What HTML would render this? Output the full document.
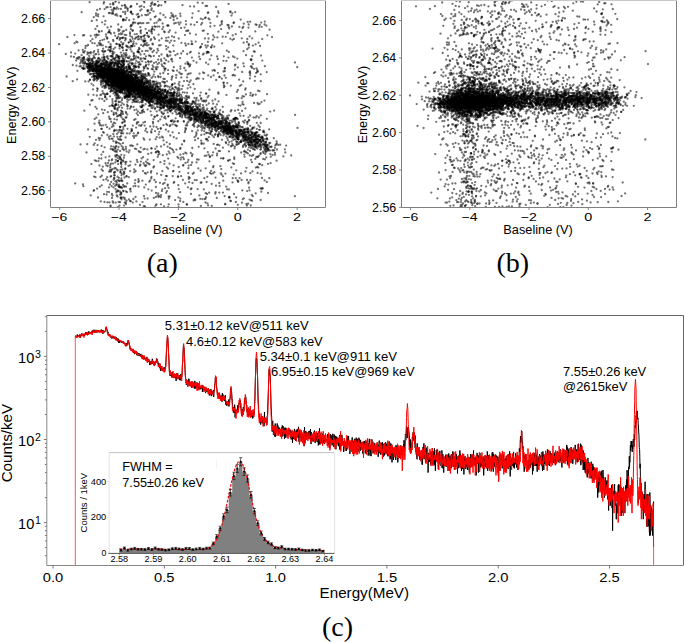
<!DOCTYPE html><html><head><meta charset="utf-8"><style>html,body{margin:0;padding:0;background:#fff;width:685px;height:642px;overflow:hidden}svg{display:block}text{font-family:"Liberation Sans",sans-serif}.s{font-family:"Liberation Serif",serif}</style></head><body><svg width="685" height="642" viewBox="0 0 685 642"><rect width="685" height="642" fill="#fff"/><defs><clipPath id="ca"><rect x="50.5" y="0" width="275" height="207.5"/></clipPath><clipPath id="cb"><rect x="401.5" y="0" width="275" height="207.5"/></clipPath><clipPath id="cc"><rect x="47" y="315.5" width="636.5" height="250"/></clipPath></defs><g clip-path="url(#ca)" stroke="#000" stroke-width="2.3" stroke-linecap="round" stroke-opacity="0.55" fill="none"><path d="M241.0 142.3h0M213.9 115.0h0M132.6 78.4h0M112.6 13.3h0M114.6 151.2h0M132.6 78.5h0M194.1 112.6h0M143.3 94.5h0M172.4 76.3h0M201.5 114.2h0M131.3 86.4h0M110.2 74.2h0M274.9 152.9h0M230.3 38.7h0M233.3 132.5h0M158.6 34.7h0M107.7 69.6h0M92.1 59.1h0M202.3 128.6h0M185.8 125.4h0M122.6 149.0h0M113.4 75.2h0M113.1 76.3h0M251.0 142.0h0M141.0 85.8h0M120.5 84.6h0M241.4 133.9h0M185.3 152.6h0M155.1 100.8h0M130.8 83.1h0M113.0 73.7h0M227.3 83.1h0M205.2 111.2h0M137.5 87.5h0M209.4 161.3h0M146.6 96.8h0M166.3 100.9h0M159.9 92.4h0M101.7 169.5h0M109.5 77.6h0M229.4 127.9h0M125.2 87.6h0M140.6 82.7h0M176.0 102.6h0M123.1 161.4h0M90.7 35.8h0M117.1 84.0h0M106.7 99.2h0M221.1 128.5h0M142.3 79.9h0M122.6 74.7h0M172.0 93.4h0M104.4 67.6h0M95.1 64.8h0M100.2 43.4h0M236.7 134.2h0M120.8 77.6h0M167.0 101.9h0M123.0 81.7h0M224.9 68.0h0M125.1 81.0h0M96.5 66.7h0M96.2 71.1h0M155.1 88.7h0M197.7 113.7h0M131.9 94.0h0M118.1 79.6h0M141.9 88.6h0M212.5 70.6h0M127.0 133.4h0M131.7 85.7h0M141.6 158.4h0M263.1 131.4h0M148.4 189.3h0M114.1 88.6h0M210.0 156.5h0M110.8 74.2h0M223.0 131.3h0M138.9 80.0h0M154.0 37.4h0M117.1 85.7h0M88.6 60.3h0M169.1 108.8h0M130.5 26.6h0M147.3 163.0h0M150.0 105.7h0M225.9 130.7h0M117.6 110.4h0M172.1 106.3h0M111.0 75.8h0M133.9 75.0h0M131.9 84.1h0M119.8 72.7h0M108.5 69.1h0M216.9 126.0h0M117.1 38.2h0M192.3 111.7h0M110.6 78.4h0M140.8 152.1h0M137.8 88.2h0M140.6 95.0h0M129.0 93.3h0M153.7 100.9h0M166.0 46.2h0M263.0 138.3h0M202.9 105.1h0M126.2 96.7h0M194.7 119.2h0M123.0 114.0h0M146.3 100.4h0M173.4 170.9h0M137.6 92.3h0M151.5 61.3h0M167.6 185.6h0M135.4 186.0h0M260.4 149.6h0M217.9 136.6h0M227.2 133.6h0M107.7 166.0h0M124.1 205.6h0M127.1 81.7h0M137.9 91.3h0M198.5 120.2h0M92.3 43.1h0M166.4 103.4h0M254.3 135.2h0M139.4 38.8h0M264.7 146.3h0M113.5 93.6h0M105.3 81.3h0M117.1 83.5h0M130.1 75.7h0M112.0 72.2h0M213.1 115.2h0M118.1 98.3h0M192.5 154.4h0M108.2 70.3h0M167.0 96.5h0M164.4 163.8h0M119.7 83.0h0M105.5 67.5h0M217.8 59.0h0M93.2 76.2h0M131.7 79.3h0M123.7 80.7h0M160.9 204.3h0M212.3 124.0h0M181.4 101.7h0M123.4 77.7h0M208.6 38.5h0M267.0 144.6h0M113.3 74.5h0M163.8 94.4h0M163.3 97.9h0M105.1 71.5h0M154.1 94.5h0M122.0 5.7h0M207.0 122.3h0M108.5 77.8h0M200.7 92.6h0M203.8 189.3h0M134.8 34.3h0M89.3 64.3h0M209.9 118.8h0M205.5 45.4h0M136.7 90.4h0M224.9 126.5h0M235.0 110.7h0M131.2 83.1h0M134.8 87.6h0M118.2 71.7h0M142.2 83.2h0M205.9 115.9h0M98.6 58.0h0M130.5 68.6h0M173.1 106.7h0M255.3 158.9h0"/><path d="M137.1 78.3h0M143.2 86.0h0M140.0 83.4h0M167.0 93.2h0M112.5 73.5h0M124.7 83.1h0M208.6 125.4h0M116.4 151.1h0M250.9 208.8h0M226.5 120.2h0M106.2 69.4h0M132.9 78.3h0M123.8 83.1h0M129.4 83.1h0M176.4 149.6h0M271.0 147.0h0M176.1 77.7h0M215.5 134.1h0M115.1 70.5h0M158.0 87.9h0M127.1 93.2h0M138.1 88.4h0M127.2 80.9h0M213.9 117.5h0M121.1 83.8h0M234.1 130.0h0M118.8 80.8h0M205.5 198.7h0M128.4 82.7h0M105.2 69.2h0M164.6 103.8h0M230.4 11.5h0M108.9 78.9h0M121.6 146.1h0M168.3 102.5h0M127.3 79.0h0M146.6 89.4h0M145.8 65.8h0M123.2 84.7h0M167.2 101.7h0M111.7 62.9h0M109.4 78.2h0M209.2 115.2h0M217.6 117.8h0M96.1 15.5h0M106.6 194.5h0M196.3 120.1h0M142.1 91.6h0M114.1 76.4h0M173.2 16.2h0M257.6 146.4h0M106.3 7.5h0M118.7 95.6h0M106.6 78.3h0M98.8 76.3h0M261.4 208.1h0M142.7 100.2h0M201.9 122.3h0M135.1 97.1h0M106.3 165.3h0M92.5 39.2h0M118.4 61.9h0M85.3 81.4h0M211.8 125.5h0M143.9 83.0h0M125.2 81.1h0M196.7 180.1h0M166.2 85.8h0M150.0 12.8h0M173.7 20.0h0M223.8 126.6h0M171.0 98.7h0M247.8 127.8h0M157.1 100.6h0M112.4 83.3h0M263.2 139.9h0M147.6 80.3h0M116.9 151.8h0M190.7 80.3h0M107.6 56.2h0M226.9 121.7h0M130.7 208.8h0M254.5 141.0h0M137.9 133.3h0M133.0 74.8h0M155.4 87.7h0M160.7 91.4h0M154.6 116.8h0M115.4 64.8h0M98.4 161.1h0M248.0 138.3h0M111.5 170.0h0M113.5 85.9h0M119.7 180.8h0M104.8 24.4h0M133.4 88.8h0M235.5 127.0h0M163.7 107.4h0M182.7 86.0h0M125.0 77.5h0M132.1 80.6h0M192.7 102.0h0M256.2 132.7h0M128.0 72.7h0M241.1 173.4h0M195.7 111.5h0M121.7 78.8h0M144.1 112.0h0M173.9 101.0h0M138.0 87.2h0M83.1 68.1h0M206.4 155.7h0M193.9 123.8h0M117.2 90.2h0M125.0 125.8h0M100.0 125.2h0M158.0 1.3h0M122.1 188.0h0M140.1 90.2h0M259.0 117.5h0M272.6 154.9h0M114.3 74.7h0M118.9 84.6h0M164.5 182.9h0M181.3 102.5h0M142.5 86.0h0M109.4 78.5h0M201.8 118.2h0M119.7 80.8h0M106.8 61.1h0M102.1 71.3h0M141.2 88.8h0M141.6 77.6h0M151.6 93.5h0M130.2 71.9h0M251.0 200.3h0M108.9 77.1h0M242.6 101.9h0M161.2 105.2h0M119.8 45.9h0M117.3 82.5h0M94.8 130.4h0M103.6 52.5h0M205.6 17.4h0M138.8 67.5h0M152.2 90.6h0M151.3 95.4h0M109.4 118.7h0M128.4 83.2h0M105.3 69.1h0M133.3 86.4h0M110.6 78.2h0M233.0 130.3h0M102.2 70.0h0M125.8 83.4h0M115.1 78.0h0M205.4 125.6h0M158.9 152.0h0M155.4 4.5h0M100.3 74.0h0M118.3 64.0h0M112.0 81.3h0M147.6 198.5h0M241.0 141.6h0M92.0 77.1h0M167.2 56.0h0M207.5 125.2h0M295.0 62.5h0M228.5 128.1h0M125.6 83.7h0M162.3 90.4h0M92.9 64.3h0M216.7 130.3h0M128.8 85.2h0M117.9 79.0h0M152.1 29.1h0M99.5 120.6h0"/><path d="M222.5 124.7h0M148.6 74.2h0M140.2 90.5h0M123.4 70.5h0M244.9 135.9h0M195.0 115.0h0M99.5 65.7h0M103.9 57.2h0M227.9 128.7h0M236.4 141.7h0M123.5 87.9h0M137.3 51.8h0M157.0 106.5h0M123.8 53.5h0M268.1 148.2h0M177.4 110.3h0M107.9 180.6h0M120.9 82.0h0M93.6 55.7h0M114.2 74.2h0M134.6 84.6h0M172.4 84.4h0M114.8 68.8h0M134.3 85.6h0M117.5 87.5h0M142.8 93.0h0M114.6 79.6h0M229.1 128.7h0M143.6 105.6h0M179.1 107.1h0M129.9 79.2h0M108.9 68.5h0M101.6 76.5h0M123.1 85.2h0M209.1 124.8h0M240.3 133.1h0M183.6 106.3h0M231.7 130.3h0M107.4 64.5h0M162.3 101.7h0M113.1 4.6h0M131.1 79.9h0M129.1 87.6h0M167.8 184.6h0M148.5 93.6h0M114.6 76.0h0M139.7 92.1h0M126.8 50.0h0M108.1 73.9h0M219.3 122.8h0M228.6 127.0h0M182.8 92.3h0M219.3 77.0h0M123.4 81.7h0M197.7 189.1h0M170.6 102.4h0M135.5 65.8h0M151.5 91.6h0M132.6 14.2h0M112.0 71.4h0M127.5 128.8h0M107.7 69.1h0M260.8 137.6h0M131.5 71.8h0M173.2 102.7h0M211.1 122.1h0M186.0 114.9h0M117.3 78.4h0M103.1 67.9h0M123.8 84.9h0M145.0 122.0h0M108.5 75.4h0M156.2 103.5h0M200.1 106.5h0M129.2 20.2h0M103.7 71.4h0M163.8 98.6h0M154.5 88.5h0M119.1 83.1h0M119.8 70.6h0M169.3 105.9h0M124.8 83.9h0M126.1 6.9h0M110.4 135.9h0M116.1 68.5h0M111.7 73.4h0M116.9 91.3h0M125.3 86.8h0M119.5 85.0h0M143.4 70.6h0M119.3 159.0h0M116.4 81.4h0M202.2 112.2h0M113.6 49.0h0M120.2 76.9h0M218.6 64.2h0M210.6 114.2h0M130.3 86.0h0M111.6 71.2h0M107.6 73.2h0M116.0 101.3h0M110.5 64.2h0M104.5 85.8h0M150.7 93.1h0M98.7 138.0h0M143.6 96.2h0M163.0 101.3h0M103.6 74.9h0M103.2 113.2h0M277.0 149.5h0M205.7 193.2h0M250.2 125.8h0M212.6 118.6h0M97.9 64.1h0M130.9 76.4h0M140.6 90.3h0M130.8 80.2h0M93.7 144.9h0M237.8 67.4h0M122.6 87.0h0M126.4 82.2h0M152.3 96.9h0M121.7 65.1h0M234.9 146.6h0M178.2 110.2h0M127.7 78.1h0M124.8 79.8h0M191.9 110.4h0M112.3 79.9h0M211.6 124.2h0M76.7 58.6h0M130.2 80.7h0M138.5 85.8h0M258.3 167.4h0M132.7 86.5h0M231.7 129.6h0M229.3 28.5h0M137.8 86.4h0M233.5 119.1h0M110.2 51.6h0M251.7 155.9h0M176.5 104.7h0M110.0 73.1h0M131.3 131.3h0M107.6 74.3h0M213.5 120.2h0M141.5 93.9h0M245.0 132.6h0M118.6 56.3h0M244.6 144.3h0M124.9 90.6h0M128.3 91.0h0M161.6 96.4h0M88.8 66.1h0M229.0 123.7h0M116.9 44.0h0M107.4 134.9h0M244.9 133.4h0M180.1 58.1h0M233.2 125.4h0M134.8 87.1h0M159.4 99.3h0M250.0 115.5h0M186.7 110.5h0M154.6 95.6h0M266.3 157.4h0M123.9 75.4h0M114.3 88.1h0M231.0 201.2h0M225.8 77.8h0M157.4 91.1h0M209.6 127.7h0M190.7 107.0h0M138.5 57.6h0M186.4 99.8h0M116.0 92.6h0M132.6 82.1h0"/><path d="M225.8 36.8h0M130.5 83.1h0M139.1 71.6h0M177.4 99.1h0M155.3 97.3h0M109.4 66.7h0M157.6 64.2h0M135.0 91.6h0M188.3 108.9h0M94.9 35.1h0M192.9 112.8h0M231.2 126.4h0M212.9 173.4h0M135.5 197.0h0M119.0 56.8h0M244.2 137.8h0M127.0 66.7h0M96.5 77.0h0M122.8 89.2h0M129.3 66.3h0M145.8 97.6h0M124.8 83.7h0M260.0 143.9h0M184.6 112.2h0M137.9 111.5h0M121.0 64.5h0M160.2 73.7h0M116.8 75.3h0M128.1 78.4h0M197.7 2.7h0M133.8 80.7h0M225.1 131.5h0M207.5 113.6h0M98.5 71.7h0M140.2 87.7h0M220.7 135.1h0M155.3 108.1h0M122.9 87.6h0M227.5 134.2h0M121.8 54.8h0M96.5 74.2h0M261.0 55.6h0M155.8 97.1h0M117.2 82.6h0M126.9 71.2h0M106.4 81.7h0M182.1 117.4h0M161.3 97.5h0M217.2 16.5h0M121.5 199.4h0M172.4 101.7h0M111.1 121.7h0M118.3 96.6h0M145.2 40.6h0M184.9 98.3h0M184.9 113.3h0M203.3 78.8h0M214.7 120.1h0M98.1 51.9h0M248.4 117.3h0M187.1 123.6h0M135.3 88.0h0M111.5 74.3h0M107.6 27.5h0M115.8 74.1h0M257.6 172.9h0M146.6 89.3h0M135.1 83.5h0M129.7 93.1h0M197.3 117.3h0M143.8 84.2h0M130.5 75.5h0M103.2 75.6h0M199.1 117.8h0M141.6 89.2h0M210.1 119.8h0M135.8 37.6h0M214.3 116.3h0M122.3 71.5h0M236.5 132.8h0M116.4 192.4h0M115.7 72.3h0M130.1 189.4h0M114.4 81.7h0M114.5 70.7h0M270.8 156.7h0M227.3 118.2h0M174.1 96.1h0M127.0 76.6h0M124.0 78.0h0M144.6 -1.6h0M111.9 194.0h0M188.1 106.5h0M141.5 39.6h0M114.3 85.7h0M192.4 109.7h0M181.8 89.1h0M154.9 207.5h0M117.5 80.9h0M136.7 85.4h0M231.6 126.3h0M200.9 115.0h0M177.4 156.8h0M160.9 108.6h0M109.3 78.4h0M224.4 120.6h0M133.5 66.5h0M138.1 83.0h0M150.5 49.5h0M109.2 72.0h0M99.0 69.5h0M255.4 134.8h0M102.9 77.9h0M115.5 167.9h0M259.5 134.8h0M114.6 106.7h0M124.7 89.1h0M132.1 37.0h0M194.6 115.5h0M216.4 121.3h0M144.2 83.3h0M127.0 -0.5h0M200.2 110.1h0M242.6 131.4h0M160.3 109.4h0M110.3 75.3h0M154.9 39.0h0M109.9 85.9h0M128.2 57.8h0M153.4 90.1h0M143.5 92.3h0M133.8 99.8h0M136.4 81.7h0M136.3 89.1h0M141.3 92.6h0M140.9 88.8h0M223.4 60.8h0M229.7 124.4h0M256.5 68.5h0M101.2 66.7h0M214.5 25.8h0M111.5 85.8h0M256.8 122.8h0M130.8 82.8h0M131.7 80.4h0M96.9 69.1h0M211.7 108.8h0M246.7 134.6h0M119.7 78.2h0M238.6 134.4h0M108.5 75.1h0M115.5 148.9h0M124.8 97.1h0M139.1 85.8h0M163.0 93.6h0M120.8 158.7h0M233.0 137.2h0M124.9 5.0h0M194.8 199.4h0M133.0 86.9h0M158.5 77.2h0M96.2 61.0h0M181.5 99.8h0M197.1 107.7h0M106.6 74.6h0M189.9 111.0h0M255.0 76.6h0M112.9 54.2h0M259.9 164.2h0M104.1 73.6h0M130.2 86.3h0M226.8 131.8h0M156.7 85.9h0M170.0 148.0h0M169.6 98.9h0M144.2 36.1h0M109.4 71.8h0"/><path d="M203.2 115.4h0M125.3 168.4h0M112.7 124.4h0M115.3 104.6h0M204.9 112.9h0M121.4 133.5h0M103.4 85.8h0M129.8 81.0h0M138.6 88.8h0M131.5 83.3h0M117.6 157.9h0M111.6 75.6h0M166.3 124.0h0M191.5 114.6h0M191.4 119.9h0M116.3 70.9h0M171.8 148.9h0M96.6 71.6h0M188.0 187.3h0M98.2 79.2h0M255.8 167.6h0M128.7 84.1h0M116.6 76.1h0M150.2 83.2h0M125.1 98.0h0M203.6 115.8h0M117.3 76.4h0M121.1 113.1h0M250.8 205.5h0M125.4 75.4h0M152.3 96.6h0M124.1 84.8h0M138.2 84.2h0M129.0 72.0h0M120.4 66.8h0M110.7 149.0h0M129.9 87.7h0M265.2 142.2h0M135.4 82.1h0M96.7 63.3h0M213.7 119.7h0M107.9 68.7h0M116.9 72.9h0M152.3 104.9h0M187.4 62.1h0M145.3 130.7h0M128.6 96.4h0M230.1 132.8h0M244.0 129.5h0M200.7 170.7h0M105.1 66.7h0M255.5 145.1h0M129.5 85.4h0M213.6 111.5h0M120.3 16.1h0M117.2 74.3h0M137.9 39.4h0M252.3 129.0h0M192.5 114.8h0M118.5 70.5h0M118.6 56.3h0M97.0 77.5h0M237.1 133.6h0M213.7 126.8h0M123.2 160.3h0M111.3 78.7h0M152.2 98.0h0M129.6 86.8h0M185.7 105.6h0M188.4 64.0h0M89.6 67.9h0M229.5 122.9h0M172.3 99.8h0M122.5 208.8h0M109.4 65.9h0M120.9 79.3h0M110.9 33.7h0M139.2 16.6h0M151.0 105.1h0M119.3 74.6h0M109.4 156.4h0M114.6 72.4h0M129.7 66.1h0M117.5 77.5h0M142.3 94.4h0M159.0 45.4h0M202.4 117.2h0M165.0 97.5h0M126.3 79.8h0M94.5 66.8h0M186.3 109.9h0M129.7 87.1h0M116.4 89.7h0M237.5 142.2h0M131.4 69.9h0M118.6 78.3h0M243.4 63.4h0M115.5 90.5h0M227.8 126.6h0M168.5 61.6h0M235.0 75.6h0M105.8 83.0h0M206.4 115.0h0M248.2 141.9h0M117.4 69.3h0M97.2 26.2h0M117.8 75.3h0M147.7 172.3h0M129.1 91.6h0M114.7 63.5h0M235.2 117.8h0M147.2 132.2h0M247.7 21.9h0M137.4 82.2h0M118.3 29.4h0M181.3 77.5h0M227.9 140.2h0M117.9 81.4h0M119.0 84.6h0M253.2 155.0h0M155.9 187.0h0M148.0 81.8h0M186.7 108.3h0M151.1 85.5h0M244.6 132.2h0M154.6 3.9h0M180.7 159.6h0M113.5 79.0h0M131.6 85.1h0M154.0 90.3h0M212.4 135.5h0M102.8 45.3h0M231.1 131.9h0M108.2 75.5h0M160.5 97.0h0M269.5 29.7h0M134.3 83.0h0M222.4 126.4h0M148.5 61.9h0M120.4 56.7h0M146.5 92.0h0M159.4 110.3h0M126.2 95.8h0M242.2 72.0h0M179.4 85.6h0M121.1 105.3h0M212.6 109.2h0M252.6 133.4h0M143.5 76.3h0M82.5 60.5h0M185.3 117.1h0M254.8 149.9h0M85.6 46.0h0M148.7 97.1h0M196.6 115.4h0M246.0 137.0h0M161.9 113.0h0M171.4 100.8h0M107.9 75.2h0M142.8 91.9h0M214.3 112.4h0M156.5 95.1h0M269.6 146.8h0M225.7 122.7h0M103.8 79.6h0M131.3 88.1h0M88.6 53.0h0M134.4 46.1h0M116.1 70.3h0M130.1 67.4h0M160.7 86.2h0M114.8 78.7h0M115.7 87.3h0M73.9 57.0h0M164.8 90.7h0M163.9 113.3h0M173.1 171.3h0"/><path d="M227.7 33.0h0M162.0 100.5h0M102.8 75.6h0M159.7 137.7h0M208.7 154.7h0M129.0 90.1h0M101.0 64.5h0M226.4 60.9h0M252.8 63.9h0M106.8 79.7h0M99.1 70.9h0M119.8 92.0h0M130.0 82.4h0M131.3 59.2h0M103.1 132.1h0M135.5 91.7h0M263.2 158.9h0M215.7 123.3h0M145.0 88.4h0M106.5 71.5h0M168.7 196.5h0M197.4 119.3h0M252.4 139.6h0M206.4 115.1h0M200.1 95.7h0M149.1 102.3h0M126.1 68.7h0M123.1 62.5h0M113.8 77.9h0M148.4 75.0h0M135.0 80.1h0M148.1 68.8h0M237.0 137.6h0M268.4 150.2h0M226.9 133.1h0M108.0 32.6h0M144.2 91.0h0M158.2 101.8h0M186.6 112.8h0M129.3 88.0h0M174.1 37.2h0M123.5 71.0h0M108.4 76.3h0M143.4 23.1h0M100.5 177.0h0M189.6 110.9h0M108.0 77.3h0M212.0 123.5h0M196.5 134.0h0M229.3 142.2h0M127.8 77.8h0M185.9 45.5h0M175.4 106.9h0M204.7 128.7h0M131.9 83.1h0M236.3 144.5h0M171.6 79.5h0M112.9 76.9h0M285.3 152.4h0M194.5 113.8h0M139.6 91.3h0M109.4 30.2h0M275.3 145.4h0M238.6 139.6h0M226.8 124.9h0M123.2 89.3h0M186.2 105.4h0M122.8 81.7h0M115.8 141.7h0M227.5 24.9h0M151.3 3.3h0M212.2 120.2h0M109.4 67.1h0M111.1 68.8h0M111.7 59.8h0M168.6 151.6h0M193.4 84.2h0M209.1 123.6h0M140.9 125.9h0M195.3 110.8h0M123.7 79.2h0M138.2 93.2h0M89.4 63.2h0M156.4 95.4h0M137.5 92.2h0M80.7 66.2h0M150.6 6.0h0M126.9 83.2h0M153.8 90.3h0M114.7 82.5h0M149.3 92.5h0M153.3 95.5h0M210.5 111.7h0M131.1 72.3h0M151.1 99.2h0M126.6 93.4h0M233.0 56.5h0M199.6 73.6h0M127.8 74.5h0M161.7 100.6h0M144.0 84.3h0M118.0 72.6h0M201.9 112.7h0M159.3 96.9h0M207.6 97.3h0M203.6 121.6h0M190.4 118.9h0M223.3 127.5h0M188.1 113.7h0M214.0 122.4h0M84.8 51.1h0M118.0 72.7h0M226.2 131.6h0M215.7 114.7h0M114.1 77.9h0M106.1 74.7h0M156.9 83.2h0M116.4 73.0h0M102.5 67.3h0M188.1 102.6h0M106.4 71.7h0M230.5 126.0h0M180.3 107.3h0M180.2 102.0h0M187.9 103.2h0M141.1 92.8h0M168.8 100.3h0M128.2 83.6h0M231.7 122.6h0M145.5 93.5h0M168.4 131.5h0M103.5 54.8h0M143.1 78.0h0M109.4 81.4h0M188.1 97.3h0M243.8 23.7h0M146.4 87.6h0M121.3 77.9h0M191.9 109.5h0M93.0 89.4h0M116.6 191.2h0M122.2 70.7h0M115.0 75.2h0M149.5 96.7h0M140.2 10.6h0M160.1 103.4h0M238.6 105.3h0M87.1 64.1h0M207.9 124.2h0M125.6 85.7h0M123.5 78.1h0M203.4 120.1h0M118.5 87.1h0M132.7 100.1h0M246.3 134.9h0M245.3 139.8h0M116.5 78.0h0M235.6 132.1h0M185.6 70.4h0M116.3 69.1h0M127.6 9.1h0M127.3 82.0h0M169.7 106.2h0M117.3 136.8h0M256.1 145.5h0M207.3 120.9h0M268.2 149.8h0M102.8 69.6h0M117.4 82.2h0M123.2 85.6h0M247.9 149.7h0M156.6 93.5h0M109.6 70.3h0M178.5 204.5h0M175.2 125.0h0M239.1 130.3h0M147.4 35.6h0"/><path d="M83.3 62.2h0M128.2 90.3h0M123.2 20.5h0M189.1 182.2h0M188.0 111.8h0M90.8 52.2h0M113.8 79.6h0M115.6 81.8h0M123.9 71.0h0M115.7 105.3h0M160.2 83.1h0M247.9 131.0h0M219.5 121.9h0M143.1 46.2h0M207.7 113.9h0M88.6 81.5h0M127.5 108.6h0M235.9 126.2h0M254.9 133.8h0M112.6 72.9h0M173.5 97.8h0M188.4 160.0h0M106.3 76.0h0M125.5 57.5h0M126.9 91.1h0M219.9 123.1h0M179.1 95.4h0M118.2 115.9h0M139.4 62.1h0M121.8 180.5h0M150.4 92.7h0M122.1 81.3h0M77.4 42.3h0M157.8 156.8h0M106.7 64.2h0M102.8 166.7h0M230.2 200.6h0M249.9 78.4h0M197.0 113.2h0M166.7 96.8h0M226.8 50.7h0M186.8 99.5h0M145.6 104.1h0M115.1 80.4h0M137.2 93.4h0M256.2 137.3h0M113.0 86.5h0M221.8 129.6h0M123.2 197.5h0M236.9 91.8h0M113.4 41.2h0M172.0 95.5h0M123.7 84.2h0M108.6 66.9h0M263.7 153.0h0M116.6 99.5h0M217.8 128.0h0M169.1 95.7h0M106.5 69.9h0M147.5 94.3h0M104.5 88.1h0M195.6 113.5h0M147.6 97.0h0M80.5 144.4h0M201.5 118.1h0M137.8 78.7h0M131.3 84.7h0M156.2 92.5h0M100.9 70.9h0M223.7 127.8h0M194.6 137.2h0M126.4 80.2h0M212.0 126.0h0M227.6 122.6h0M222.8 106.8h0M119.7 87.3h0M160.2 103.0h0M112.8 71.8h0M208.6 114.2h0M120.8 70.0h0M126.3 35.1h0M227.1 189.3h0M103.1 80.0h0M105.4 76.8h0M145.8 86.1h0M166.9 191.2h0M112.1 159.3h0M142.4 180.7h0M149.8 89.2h0M119.1 73.7h0M251.4 141.0h0M143.5 149.3h0M217.9 118.2h0M121.1 87.1h0M117.2 71.8h0M97.3 45.7h0M251.2 141.1h0M240.5 129.7h0M109.5 139.0h0M117.3 78.4h0M143.7 88.9h0M123.3 84.2h0M235.8 118.5h0M241.3 141.6h0M136.1 82.8h0M156.6 101.0h0M92.1 69.4h0M166.5 103.6h0M159.4 98.8h0M156.9 90.1h0M105.4 78.0h0M207.0 6.0h0M266.9 138.6h0M137.4 77.9h0M119.3 75.6h0M171.5 110.2h0M108.9 85.0h0M256.6 137.1h0M237.2 118.4h0M132.2 79.4h0M117.6 66.0h0M246.8 142.5h0M269.3 178.2h0M182.8 112.5h0M123.8 80.8h0M204.6 112.1h0M102.5 51.2h0M103.0 75.0h0M231.1 133.7h0M212.0 129.3h0M149.9 95.3h0M241.2 152.5h0M210.2 123.5h0M216.1 7.0h0M131.7 64.5h0M173.7 182.8h0M187.6 30.6h0M119.1 73.5h0M116.9 94.3h0M92.5 68.7h0M137.8 88.1h0M138.0 95.1h0M118.3 73.9h0M135.0 38.8h0M131.6 78.3h0M262.9 209.0h0M190.8 153.0h0M119.9 80.6h0M112.5 101.1h0M145.4 74.0h0M228.8 127.8h0M284.9 149.3h0M109.1 88.7h0M190.9 109.0h0M195.1 140.2h0M161.2 174.9h0M158.1 76.1h0M253.9 140.1h0M109.0 70.2h0M101.4 74.2h0M92.0 68.2h0M87.2 144.2h0M137.0 88.9h0M171.2 40.6h0M231.7 130.1h0M118.9 69.8h0M138.7 151.1h0M131.1 89.9h0M143.7 91.2h0M132.6 209.5h0M113.7 74.0h0M152.8 86.1h0M151.7 8.4h0M172.7 70.3h0M187.8 108.4h0M127.4 82.9h0M118.1 76.4h0"/><path d="M115.8 77.6h0M115.6 72.0h0M124.9 74.6h0M124.8 202.7h0M148.8 87.9h0M248.4 142.6h0M142.6 87.3h0M137.6 84.5h0M130.8 71.4h0M236.2 126.8h0M125.1 88.5h0M255.7 94.7h0M171.2 106.8h0M184.9 132.2h0M131.8 85.0h0M165.2 101.8h0M136.6 135.5h0M175.5 101.6h0M121.6 77.9h0M120.3 86.5h0M164.8 104.1h0M96.4 67.0h0M106.1 62.2h0M110.4 205.6h0M169.2 102.2h0M108.1 83.6h0M89.7 73.5h0M257.5 132.3h0M238.0 129.4h0M122.9 78.4h0M120.8 78.8h0M125.0 54.6h0M105.6 157.3h0M208.7 117.8h0M123.3 84.5h0M183.4 153.8h0M218.6 113.7h0M121.3 76.6h0M125.1 86.9h0M184.2 113.5h0M103.2 151.9h0M258.0 90.7h0M165.6 91.1h0M127.3 114.6h0M107.5 75.2h0M180.2 105.7h0M240.0 135.5h0M128.0 80.6h0M123.1 78.6h0M203.2 116.3h0M133.1 96.0h0M96.9 77.0h0M219.1 123.8h0M101.5 69.0h0M133.0 86.1h0M179.4 81.9h0M169.9 97.2h0M186.8 107.9h0M101.3 128.8h0M148.8 105.8h0M109.6 68.4h0M104.7 70.6h0M184.9 102.5h0M142.0 80.4h0M109.5 71.1h0M133.4 91.0h0M117.8 76.6h0M140.8 161.6h0M185.2 107.0h0M211.0 -1.6h0M75.2 53.6h0M171.4 104.5h0M225.5 127.3h0M184.4 103.7h0M128.9 82.8h0M108.1 82.2h0M119.8 191.5h0M119.6 84.9h0M123.8 88.4h0M178.1 121.2h0M134.9 85.0h0M121.4 72.7h0M122.3 81.9h0M207.9 125.6h0M138.5 87.6h0M151.7 98.0h0M157.4 102.1h0M229.7 197.4h0M95.6 73.3h0M241.2 130.8h0M219.1 120.9h0M127.0 95.1h0M202.7 30.8h0M211.9 122.7h0M145.8 88.8h0M199.4 122.3h0M236.1 118.4h0M101.8 185.3h0M171.0 98.5h0M117.7 66.4h0M217.7 122.1h0M128.8 90.8h0M243.0 145.6h0M259.9 140.7h0M126.3 82.3h0M87.8 58.4h0M246.4 203.9h0M216.2 122.2h0M130.1 91.4h0M127.0 77.2h0M182.8 110.2h0M171.4 110.1h0M168.2 158.6h0M245.1 120.5h0M111.6 83.0h0M102.8 68.1h0M229.1 127.9h0M133.7 133.3h0M127.5 82.9h0M113.7 70.6h0M114.5 75.9h0M227.2 116.0h0M164.3 58.3h0M224.0 127.7h0M133.5 43.4h0M114.7 82.3h0M198.8 122.2h0M155.8 152.4h0M158.3 92.8h0M181.9 99.6h0M250.7 59.5h0M100.9 66.6h0M112.5 138.8h0M120.9 76.0h0M147.5 97.4h0M129.1 83.2h0M123.6 86.5h0M111.2 73.8h0M128.3 83.0h0M192.1 131.1h0M131.4 82.5h0M126.9 78.2h0M128.0 78.3h0M239.6 178.1h0M106.6 80.0h0M254.0 140.5h0M163.9 105.0h0M122.3 84.8h0M247.3 39.0h0M131.2 89.9h0M238.8 123.5h0M262.4 188.7h0M108.1 67.1h0M118.2 77.2h0M94.3 68.4h0M240.6 131.6h0M135.5 80.6h0M113.4 141.2h0M98.0 73.9h0M121.3 114.5h0M104.6 59.1h0M178.1 113.9h0M133.2 74.3h0M138.8 85.3h0M113.6 149.6h0M250.2 73.5h0M120.0 136.9h0M248.9 133.0h0M125.6 80.0h0M243.9 133.2h0M96.8 70.1h0M135.0 76.6h0M160.4 89.1h0M175.8 22.9h0M239.8 136.5h0M129.1 84.8h0M112.8 81.0h0"/><path d="M141.2 86.4h0M200.1 47.8h0M266.5 150.5h0M161.3 96.3h0M122.6 80.0h0M110.0 169.6h0M104.9 68.2h0M160.3 13.4h0M155.7 139.2h0M107.2 74.5h0M200.8 114.5h0M116.7 73.5h0M229.0 197.6h0M111.8 64.6h0M134.0 65.4h0M184.0 81.1h0M98.3 62.1h0M113.9 70.3h0M95.2 64.1h0M261.3 141.5h0M103.6 71.8h0M128.1 80.6h0M83.6 65.9h0M147.4 86.8h0M134.9 183.3h0M101.0 84.8h0M107.1 75.1h0M146.3 83.2h0M165.2 96.1h0M161.4 98.2h0M202.1 44.1h0M256.2 157.1h0M129.7 67.3h0M129.2 84.3h0M115.8 81.7h0M111.5 87.5h0M185.9 21.1h0M171.3 13.1h0M260.1 145.1h0M247.3 129.5h0M118.2 138.9h0M145.2 95.5h0M190.1 106.6h0M223.4 116.2h0M123.0 147.4h0M142.9 89.4h0M110.1 73.5h0M139.2 86.9h0M91.4 74.0h0M154.7 116.7h0M144.1 83.6h0M242.0 202.7h0M94.1 190.2h0M141.4 97.9h0M89.6 2.2h0M116.6 71.7h0M117.3 15.7h0M112.0 84.0h0M173.4 100.1h0M137.2 90.0h0M228.4 134.5h0M120.4 144.1h0M88.2 65.0h0M235.5 123.4h0M228.3 132.8h0M176.3 75.2h0M130.8 80.9h0M199.4 115.0h0M116.2 80.9h0M141.9 91.8h0M270.2 142.9h0M188.8 112.8h0M136.7 94.4h0M130.9 88.0h0M208.0 116.1h0M130.8 80.6h0M152.2 87.8h0M230.0 159.8h0M136.7 86.1h0M223.0 125.6h0M254.3 144.4h0M91.8 21.0h0M137.3 87.3h0M238.6 209.2h0M139.5 152.1h0M142.4 86.5h0M229.0 115.4h0M144.0 89.1h0M219.5 145.3h0M176.9 108.3h0M97.2 90.8h0M134.8 87.6h0M257.3 70.1h0M214.4 122.4h0M261.5 102.1h0M233.5 23.0h0M218.5 123.2h0M90.6 41.1h0M160.0 92.9h0M157.0 97.0h0M109.0 75.0h0M143.9 97.7h0M273.3 150.4h0M171.1 101.5h0M254.6 134.8h0M90.7 195.4h0M265.5 149.3h0M139.4 94.2h0M177.0 99.8h0M233.9 38.9h0M103.0 68.8h0M143.8 -1.2h0M255.5 146.8h0M161.8 94.4h0M94.0 65.6h0M182.5 5.2h0M186.9 111.8h0M161.4 101.0h0M236.1 131.1h0M258.1 136.8h0M231.2 132.6h0M230.5 132.9h0M109.5 64.4h0M230.9 146.4h0M229.8 129.7h0M121.8 75.3h0M161.3 97.9h0M122.4 82.4h0M124.7 76.8h0M101.4 158.5h0M264.5 100.6h0M112.2 87.4h0M194.2 116.7h0M227.1 133.1h0M112.6 78.5h0M128.4 80.4h0M237.8 204.8h0M131.0 86.1h0M123.2 75.3h0M123.2 78.9h0M204.0 109.4h0M114.5 86.1h0M103.8 132.7h0M118.7 58.1h0M115.2 82.0h0M103.6 71.5h0M243.0 147.0h0M198.7 146.8h0M122.7 74.9h0M122.4 73.0h0M123.1 184.9h0M110.7 91.4h0M143.6 66.8h0M149.0 30.7h0M202.9 54.6h0M167.6 97.4h0M245.4 108.4h0M182.0 103.1h0M143.5 138.3h0M173.5 99.7h0M133.3 90.9h0M104.1 67.8h0M211.2 47.4h0M103.7 68.7h0M177.2 107.9h0M199.5 117.5h0M123.9 61.4h0M224.9 129.7h0M211.1 173.8h0M144.9 94.2h0M114.8 69.5h0M228.2 160.8h0M203.1 118.3h0M158.5 92.0h0M157.5 84.0h0M108.4 72.2h0M141.9 80.0h0"/><path d="M140.9 30.5h0M106.8 56.8h0M145.2 41.0h0M162.5 208.7h0M164.7 70.6h0M250.0 141.6h0M203.1 72.5h0M151.7 190.6h0M124.4 96.0h0M113.5 187.4h0M110.7 65.9h0M262.6 144.7h0M106.3 65.3h0M218.3 118.6h0M206.0 62.7h0M139.8 92.2h0M210.4 22.9h0M121.7 160.4h0M213.7 119.8h0M109.8 82.2h0M170.2 106.3h0M144.3 89.3h0M229.1 132.5h0M130.8 11.9h0M149.9 87.6h0M141.2 84.9h0M154.6 97.3h0M105.2 77.6h0M184.9 107.8h0M101.0 83.5h0M140.7 87.0h0M97.2 65.9h0M140.5 92.3h0M232.3 127.6h0M102.6 71.6h0M116.4 73.7h0M129.7 85.3h0M105.3 20.9h0M123.5 78.9h0M234.8 69.6h0M112.5 80.7h0M118.8 82.8h0M104.9 76.9h0M136.3 60.9h0M130.8 201.3h0M137.9 94.1h0M122.2 37.8h0M82.9 184.3h0M202.6 3.0h0M107.0 67.2h0M100.5 76.0h0M106.5 67.8h0M109.0 116.7h0M175.4 109.6h0M109.1 81.4h0M255.1 139.8h0M247.7 132.9h0M109.9 171.3h0M155.7 97.2h0M250.4 95.3h0M180.1 201.0h0M132.3 85.7h0M127.6 46.3h0M211.9 126.9h0M254.2 127.5h0M153.0 92.9h0M104.1 65.0h0M110.6 77.9h0M197.4 127.2h0M131.7 89.7h0M123.5 78.8h0M145.9 96.9h0M113.7 72.4h0M122.7 78.5h0M200.1 116.6h0M129.5 80.4h0M93.6 70.7h0M152.6 87.6h0M106.2 63.3h0M112.9 79.3h0M169.8 126.2h0M118.3 68.7h0M170.2 110.8h0M131.6 74.7h0M119.0 181.1h0M255.3 144.5h0M204.7 127.6h0M142.2 61.3h0M137.5 102.0h0M138.6 97.0h0M96.1 70.8h0M251.3 135.2h0M131.3 78.6h0M100.1 71.4h0M135.1 88.6h0M134.1 101.5h0M96.9 71.6h0M121.5 77.6h0M133.5 92.2h0M116.9 95.6h0M178.7 95.9h0M98.3 74.7h0M111.9 79.1h0M160.6 77.0h0M255.1 146.3h0M180.3 113.3h0M118.0 83.2h0M108.5 75.2h0M184.7 92.6h0M164.0 206.4h0M165.0 85.7h0M125.2 169.0h0M167.1 104.6h0M92.4 66.1h0M242.2 134.4h0M204.6 209.5h0M160.2 100.5h0M112.2 71.0h0M119.8 78.5h0M165.9 40.7h0M205.8 114.4h0M132.6 81.8h0M135.3 95.4h0M178.3 185.2h0M115.2 95.5h0M155.3 77.1h0M150.7 94.9h0M98.4 71.7h0M121.6 74.6h0M248.5 136.1h0M194.7 88.8h0M111.0 26.7h0M110.6 49.8h0M215.3 121.9h0M106.1 86.7h0M79.6 66.4h0M160.4 77.1h0M198.6 11.2h0M147.8 93.4h0M155.7 84.4h0M113.7 88.6h0M110.1 96.3h0M123.0 81.1h0M245.3 142.9h0M99.1 73.6h0M127.5 88.3h0M122.1 74.1h0M129.8 87.5h0M217.4 116.4h0M169.5 163.7h0M180.2 116.4h0M123.3 129.2h0M200.8 121.6h0M224.7 68.7h0M117.5 196.5h0M113.4 83.6h0M97.7 67.7h0M122.4 86.2h0M133.9 85.6h0M78.7 57.2h0M148.7 92.4h0M113.7 9.1h0M112.6 12.2h0M116.3 63.0h0M156.2 152.0h0M146.7 95.5h0M120.1 45.0h0M130.5 161.6h0M128.1 88.5h0M115.2 77.7h0M117.7 91.9h0M196.4 116.0h0M89.0 64.9h0M260.7 147.3h0M159.1 93.6h0M107.2 66.6h0M141.9 110.8h0"/><path d="M136.5 84.4h0M227.5 126.0h0M112.2 80.9h0M205.3 117.8h0M254.8 80.8h0M229.4 123.1h0M113.7 112.7h0M148.7 90.2h0M170.4 17.9h0M170.5 111.5h0M199.9 109.1h0M119.3 78.3h0M215.9 116.4h0M107.4 72.7h0M132.2 86.4h0M77.1 79.4h0M255.6 44.4h0M141.7 124.8h0M115.9 72.9h0M247.4 137.7h0M144.7 148.8h0M221.8 78.7h0M111.7 68.0h0M238.5 144.2h0M244.0 96.6h0M184.3 68.0h0M176.6 126.2h0M236.6 141.6h0M125.3 80.8h0M120.8 78.8h0M114.1 92.0h0M161.7 103.0h0M110.2 73.3h0M137.0 91.1h0M148.8 163.7h0M189.7 115.7h0M252.8 127.7h0M102.1 68.0h0M227.9 130.8h0M129.1 90.7h0M149.9 86.7h0M140.4 106.3h0M256.2 139.1h0M173.6 94.1h0M179.2 92.7h0M107.9 68.8h0M126.8 84.6h0M115.3 72.0h0M118.0 78.8h0M118.4 208.3h0M134.7 84.9h0M220.5 127.5h0M255.8 140.5h0M110.3 79.6h0M207.2 108.6h0M128.6 82.5h0M139.1 95.3h0M134.0 92.1h0M139.0 94.1h0M190.8 51.8h0M124.2 19.7h0M110.9 75.9h0M270.3 154.1h0M93.8 68.8h0M118.2 67.7h0M130.1 47.4h0M161.1 104.4h0M232.6 130.7h0M205.4 115.5h0M119.6 91.5h0M113.2 77.5h0M115.0 83.1h0M126.2 74.6h0M131.5 77.8h0M228.4 144.7h0M87.0 59.7h0M109.1 31.8h0M127.4 87.8h0M105.4 62.1h0M122.7 122.3h0M123.9 72.5h0M171.3 96.3h0M122.1 78.1h0M234.0 22.5h0M183.8 159.2h0M174.3 89.8h0M193.8 114.5h0M100.7 59.6h0M141.8 82.3h0M158.7 82.8h0M157.2 103.4h0M111.3 71.9h0M214.3 116.5h0M140.4 88.3h0M215.5 116.7h0M151.3 153.0h0M297.2 67.2h0M196.3 99.5h0M109.8 83.7h0M218.5 13.0h0M111.4 63.6h0M107.4 82.7h0M156.9 115.6h0M114.9 73.6h0M132.3 46.0h0M217.9 72.8h0M239.1 79.7h0M229.9 130.7h0M107.8 75.5h0M138.8 181.0h0M125.2 75.3h0M122.1 81.1h0M105.2 69.1h0M151.7 94.0h0M110.5 119.0h0M147.2 88.8h0M161.7 116.6h0M110.2 80.8h0M232.1 128.4h0M134.3 83.3h0M113.9 122.7h0M118.3 80.0h0M129.0 66.3h0M123.9 157.7h0M205.7 121.8h0M144.7 98.7h0M126.7 84.1h0M124.8 67.0h0M231.6 129.3h0M105.1 95.8h0M123.4 82.5h0M121.7 79.7h0M158.4 99.3h0M111.7 75.1h0M104.6 69.0h0M206.3 113.3h0M113.5 72.2h0M143.5 74.7h0M135.5 88.7h0M126.5 117.4h0M155.8 93.2h0M213.9 123.3h0M177.4 121.5h0M229.2 132.2h0M122.6 89.4h0M126.0 78.5h0M131.2 91.6h0M145.6 66.3h0M157.2 -1.7h0M136.4 83.4h0M112.1 85.7h0M186.4 153.4h0M159.0 99.1h0M191.7 112.4h0M116.6 71.1h0M150.6 101.0h0M108.2 79.1h0M121.3 91.4h0M163.9 99.6h0M125.7 84.9h0M126.5 81.1h0M147.7 50.8h0M151.8 89.4h0M207.5 122.7h0M136.3 43.7h0M128.9 77.6h0M130.0 33.9h0M141.5 78.6h0M216.1 124.5h0M151.9 129.5h0M145.6 29.1h0M132.5 87.3h0M237.6 134.9h0M249.5 190.4h0M136.9 159.9h0M122.0 100.2h0M121.6 78.6h0"/><path d="M205.6 114.0h0M71.1 56.4h0M171.3 101.9h0M126.8 77.0h0M151.6 94.9h0M117.2 81.1h0M238.7 132.9h0M158.7 134.4h0M108.5 66.3h0M124.5 87.4h0M94.1 78.0h0M116.8 195.5h0M153.6 106.4h0M143.2 88.5h0M144.8 87.9h0M148.6 22.8h0M83.9 57.3h0M120.9 90.5h0M128.2 47.4h0M137.3 83.9h0M130.2 93.9h0M200.5 46.9h0M241.8 135.5h0M152.6 108.1h0M138.1 91.7h0M113.3 10.7h0M108.0 77.9h0M119.6 29.9h0M222.3 118.4h0M129.0 78.2h0M223.0 112.0h0M94.6 63.6h0M179.3 106.5h0M135.0 66.4h0M128.8 97.3h0M114.4 73.2h0M151.8 89.9h0M124.0 150.0h0M250.0 150.9h0M106.8 69.8h0M116.7 76.7h0M144.4 90.0h0M129.6 78.5h0M159.2 88.9h0M109.1 171.6h0M231.0 130.8h0M248.9 147.3h0M83.0 35.5h0M192.5 183.0h0M255.7 193.3h0M122.6 112.0h0M99.6 69.5h0M107.3 78.9h0M110.0 71.9h0M187.2 125.5h0M135.1 79.0h0M148.8 102.8h0M144.9 173.2h0M114.6 76.6h0M119.0 2.6h0M112.8 51.8h0M140.0 165.7h0M100.8 64.5h0M96.9 71.3h0M107.6 68.4h0M110.1 76.4h0M126.2 82.9h0M108.1 68.6h0M99.0 69.9h0M230.5 134.1h0M105.4 65.4h0M249.7 134.8h0M144.2 83.8h0M147.7 11.4h0M168.5 37.3h0M123.2 71.9h0M226.1 122.5h0M117.7 75.8h0M203.1 114.7h0M162.8 89.5h0M106.3 36.7h0M100.9 77.7h0M119.7 66.9h0M120.2 78.8h0M111.3 81.9h0M120.0 87.3h0M194.9 117.8h0M144.6 77.9h0M138.4 49.8h0M130.9 106.8h0M119.3 83.9h0M173.8 98.7h0M134.3 74.9h0M195.2 200.1h0M106.4 80.9h0M215.4 128.5h0M154.5 23.2h0M167.3 25.7h0M115.8 77.9h0M109.8 74.5h0M203.6 121.0h0M228.9 128.6h0M98.9 122.6h0M195.3 115.1h0M120.7 88.1h0M226.9 129.4h0M242.9 132.3h0M145.0 92.2h0M186.9 102.2h0M132.7 88.2h0M110.6 44.2h0M212.6 118.4h0M102.2 57.7h0M127.5 96.0h0M108.9 80.8h0M198.0 116.7h0M192.6 111.2h0M166.2 175.9h0M244.6 130.2h0M171.1 99.1h0M129.1 96.0h0M215.5 177.6h0M238.9 134.8h0M197.4 78.2h0M182.8 103.1h0M189.7 116.9h0M237.5 131.8h0M142.5 92.8h0M131.0 84.0h0M228.4 133.8h0M186.6 95.8h0M192.9 101.2h0M113.5 126.0h0M130.9 12.3h0M101.5 69.8h0M81.0 61.9h0M93.0 58.3h0M127.7 10.8h0M203.9 114.2h0M183.1 106.6h0M144.8 92.3h0M120.3 127.0h0M232.7 35.4h0M92.5 61.4h0M188.4 168.2h0M131.5 81.4h0M126.4 81.4h0M123.3 80.8h0M103.0 83.5h0M206.7 139.6h0M110.4 70.1h0M238.6 138.9h0M113.9 131.2h0M106.9 69.0h0M249.1 187.7h0M215.4 107.0h0M207.9 140.7h0M212.0 120.9h0M101.4 94.4h0M124.4 61.1h0M138.7 72.6h0M106.8 68.6h0M213.9 137.2h0M227.0 128.5h0M202.4 199.1h0M128.4 77.0h0M134.4 84.5h0M132.2 78.5h0M126.1 53.1h0M131.3 87.1h0M104.3 94.2h0M254.8 51.7h0M155.3 90.9h0M203.8 101.4h0M108.4 80.8h0M190.1 6.3h0M114.6 58.8h0"/><path d="M143.5 88.6h0M111.5 56.5h0M125.9 149.0h0M158.3 91.1h0M161.5 54.5h0M148.7 96.8h0M102.3 87.0h0M146.7 97.4h0M110.3 4.2h0M173.7 102.4h0M234.2 157.4h0M92.3 68.7h0M115.2 185.8h0M169.3 101.7h0M242.6 127.6h0M208.1 127.3h0M255.6 24.3h0M121.1 130.5h0M157.3 97.3h0M117.6 176.7h0M120.9 76.1h0M126.0 83.2h0M216.8 126.8h0M101.9 71.0h0M117.4 66.0h0M103.2 72.2h0M115.7 85.6h0M95.6 69.6h0M237.4 126.7h0M154.7 17.1h0M121.3 82.6h0M165.3 99.8h0M118.2 36.6h0M233.2 125.8h0M190.0 33.4h0M140.8 33.2h0M266.4 25.7h0M115.1 69.8h0M125.6 80.4h0M126.7 95.5h0M161.1 195.1h0M225.7 130.6h0M99.2 75.0h0M126.0 83.3h0M190.3 111.2h0M138.5 36.5h0M218.6 127.8h0M151.4 29.8h0M264.6 180.4h0M133.6 84.8h0M160.8 107.6h0M120.7 92.9h0M176.2 112.4h0M131.5 79.0h0M99.9 186.7h0M154.2 94.7h0M122.1 87.6h0M237.3 180.3h0M143.9 90.0h0M217.1 56.5h0M130.9 45.8h0M167.9 91.7h0M208.2 75.4h0M107.6 77.5h0M81.7 12.2h0M92.5 65.9h0M128.9 42.3h0M141.6 89.2h0M241.1 131.2h0M212.3 114.4h0M249.7 155.3h0M141.6 76.5h0M134.8 86.0h0M110.2 70.5h0M137.6 87.7h0M119.9 86.3h0M127.0 75.7h0M226.2 125.6h0M141.2 90.5h0M173.9 103.1h0M139.9 97.0h0M143.3 86.6h0M204.4 148.4h0M133.5 91.6h0M164.1 144.7h0M123.3 73.2h0M121.6 85.9h0M203.6 116.2h0M114.3 168.5h0M178.2 104.6h0M153.2 66.9h0M132.9 94.0h0M103.0 63.7h0M116.6 69.8h0M157.7 99.1h0M118.3 66.1h0M114.2 7.8h0M260.8 115.3h0M122.0 90.5h0M116.3 83.3h0M231.3 167.4h0M111.6 79.6h0M125.6 79.4h0M142.9 84.5h0M102.3 64.9h0M121.7 83.2h0M119.5 71.9h0M75.2 183.4h0M111.2 181.9h0M127.3 85.3h0M238.8 127.3h0M114.8 81.9h0M128.8 77.0h0M105.0 69.0h0M143.1 86.8h0M135.0 88.3h0M108.0 77.9h0M166.6 105.7h0M134.1 83.6h0M150.6 101.0h0M111.7 160.3h0M221.8 121.6h0M115.3 181.3h0M198.5 100.6h0M108.8 71.5h0M118.7 78.1h0M115.5 74.9h0M109.5 78.9h0M169.0 102.8h0M204.3 115.6h0M209.2 120.7h0M83.6 69.1h0M150.6 111.3h0M181.4 110.5h0M248.6 139.5h0M118.4 73.1h0M111.2 69.6h0M156.9 98.0h0M211.9 124.9h0M121.2 80.0h0M134.4 87.8h0M156.4 81.7h0M139.2 90.9h0M175.5 87.2h0M236.1 135.8h0M130.0 85.4h0M186.3 107.0h0M168.2 56.4h0M88.1 129.5h0M108.2 68.6h0M173.7 17.3h0M223.5 82.9h0M220.6 128.3h0M107.8 82.9h0M109.8 70.7h0M122.3 79.4h0M234.7 128.6h0M270.2 111.6h0M220.1 127.8h0M232.3 131.9h0M115.7 146.9h0M112.5 72.1h0M160.3 94.4h0M105.5 71.7h0M218.7 133.9h0M235.2 130.0h0M134.4 110.1h0M248.7 138.8h0M118.4 75.9h0M126.9 84.0h0M143.3 84.5h0M116.8 91.2h0M225.9 129.3h0M214.9 111.1h0M159.4 102.4h0M144.6 198.6h0M140.1 89.5h0"/><path d="M195.5 119.0h0M241.7 98.2h0M245.8 131.9h0M172.7 120.3h0M195.1 116.3h0M110.4 65.6h0M120.5 115.8h0M138.8 84.2h0M154.9 97.5h0M180.1 110.2h0M109.5 77.1h0M170.9 89.9h0M118.8 77.3h0M139.7 64.4h0M161.4 111.8h0M66.6 76.5h0M155.6 92.2h0M157.0 93.2h0M115.4 76.2h0M171.1 105.1h0M132.1 88.6h0M125.2 80.7h0M257.6 102.9h0M130.9 72.6h0M208.6 95.8h0M137.8 81.5h0M136.0 67.2h0M122.5 86.4h0M251.5 59.4h0M144.3 95.9h0M137.9 115.1h0M206.4 121.2h0M190.3 114.4h0M127.6 80.8h0M111.1 82.2h0M111.8 60.8h0M125.6 78.2h0M115.0 72.8h0M120.0 79.9h0M156.2 62.1h0M206.7 110.2h0M107.0 77.6h0M259.7 25.0h0M170.3 135.5h0M96.7 70.8h0M122.8 76.7h0M132.1 81.2h0M144.1 94.9h0M109.7 106.2h0M167.0 81.3h0M180.1 192.2h0M204.2 73.1h0M249.2 120.1h0M119.9 71.6h0M102.1 109.6h0M119.4 60.9h0M148.0 85.1h0M104.1 71.8h0M80.1 63.4h0M192.6 13.3h0M116.6 97.6h0M147.6 109.5h0M96.7 20.2h0M212.6 122.5h0M212.0 117.5h0M144.7 95.3h0M160.5 100.8h0M221.6 121.8h0M117.6 79.0h0M128.6 87.6h0M136.7 113.3h0M151.8 93.6h0M191.9 57.6h0M140.1 23.0h0M195.5 122.0h0M137.0 77.5h0M98.5 72.7h0M190.4 87.3h0M104.4 57.0h0M144.1 45.0h0M123.1 80.2h0M104.6 75.1h0M257.7 135.9h0M209.9 118.3h0M226.8 128.7h0M232.0 137.8h0M113.1 39.8h0M258.2 145.2h0M173.4 101.8h0M242.4 139.0h0M259.9 129.8h0M113.1 74.8h0M118.0 77.1h0M196.5 62.5h0M192.9 114.3h0M135.4 164.6h0M125.6 72.3h0M210.3 125.3h0M166.8 167.3h0M236.1 131.8h0M139.8 92.3h0M264.2 148.6h0M96.1 65.6h0M234.0 126.6h0M218.5 101.4h0M169.7 42.6h0M163.5 15.0h0M97.8 73.3h0M150.1 100.7h0M120.1 151.0h0M127.3 87.9h0M132.4 70.5h0M81.6 55.2h0M119.7 77.9h0M134.4 67.0h0M108.6 78.3h0M145.4 166.2h0M112.5 55.8h0M176.9 106.3h0M162.5 104.7h0M237.1 137.9h0M189.9 120.5h0M158.2 154.8h0M142.5 95.9h0M152.2 95.4h0M137.6 81.6h0M106.7 70.6h0M239.2 134.0h0M125.0 83.5h0M226.0 127.2h0M131.3 6.3h0M191.1 108.5h0M262.3 60.6h0M235.5 64.6h0M235.1 119.9h0M115.1 76.4h0M135.0 88.5h0M257.2 167.0h0M217.0 155.4h0M115.7 83.0h0M109.7 61.3h0M144.9 93.6h0M99.8 66.8h0M257.7 142.5h0M138.4 36.6h0M143.1 157.2h0M149.3 93.3h0M179.1 113.1h0M108.2 73.1h0M219.3 192.6h0M153.4 93.8h0M249.9 137.6h0M227.2 130.4h0M222.3 123.7h0M96.5 68.6h0M141.2 80.8h0M129.3 90.5h0M121.3 132.9h0M137.2 81.4h0M179.0 99.2h0M167.5 110.1h0M112.1 75.2h0M138.8 81.3h0M261.1 142.7h0M92.7 71.4h0M180.4 66.3h0M104.3 39.3h0M104.0 69.5h0M151.2 171.2h0M140.0 80.9h0M224.4 131.4h0M154.3 29.8h0M119.2 79.9h0M118.4 64.1h0M161.3 93.7h0M132.0 80.7h0M161.3 5.3h0"/><path d="M120.6 38.5h0M171.0 101.7h0M118.6 81.9h0M114.6 77.9h0M140.5 90.0h0M196.0 135.7h0M126.6 200.7h0M175.5 87.3h0M129.1 86.9h0M139.5 92.5h0M145.7 80.3h0M205.1 113.4h0M90.1 79.9h0M145.8 93.9h0M116.8 73.4h0M134.7 88.5h0M158.1 98.3h0M122.3 74.3h0M144.1 7.1h0M198.7 109.3h0M183.0 104.4h0M164.4 91.7h0M251.0 138.5h0M127.8 82.9h0M125.2 82.8h0M144.8 35.1h0M138.4 182.1h0M252.1 200.7h0M188.2 122.0h0M218.2 115.9h0M214.5 123.2h0M156.0 93.8h0M250.1 138.2h0M112.5 71.8h0M252.4 143.8h0M172.3 88.3h0M93.5 94.8h0M87.9 68.6h0M266.7 72.1h0M180.2 13.7h0M138.5 83.9h0M146.6 95.5h0M243.5 51.2h0M260.2 139.8h0M200.1 59.2h0M129.3 86.7h0M94.0 67.8h0M162.6 102.1h0M142.4 83.1h0M136.6 85.5h0M120.0 80.5h0M206.6 116.7h0M111.5 75.9h0M107.6 76.5h0M223.8 85.2h0M250.4 180.2h0M125.3 76.7h0M121.3 27.0h0M124.6 83.3h0M120.8 69.1h0M164.7 102.1h0M124.9 81.6h0M242.6 96.2h0M167.4 92.1h0M220.2 124.0h0M136.8 97.9h0M118.3 85.6h0M130.5 188.7h0M129.5 92.1h0M111.1 84.2h0M108.7 71.5h0M177.1 97.0h0M143.1 85.9h0M150.8 84.8h0M154.1 62.9h0M256.1 147.7h0M215.0 122.9h0M110.9 64.1h0M177.9 176.9h0M120.9 67.7h0M104.9 71.4h0M109.5 70.8h0M178.0 106.5h0M113.4 146.7h0M122.2 89.2h0M121.4 84.3h0M204.7 155.8h0M127.9 88.3h0M121.2 139.8h0M144.9 58.6h0M114.7 60.2h0M123.0 85.7h0M245.7 139.3h0M82.2 58.6h0M264.9 159.4h0M121.9 56.4h0M227.9 118.0h0M119.2 61.4h0M144.3 86.5h0M165.7 100.3h0M139.7 89.9h0M135.5 94.9h0M168.9 109.7h0M191.2 110.7h0M147.4 95.4h0M86.9 67.4h0M119.0 73.7h0M138.4 87.8h0M102.3 70.5h0M91.4 69.2h0M104.2 75.3h0M100.7 67.1h0M140.2 83.7h0M173.1 95.1h0M132.6 96.8h0M127.2 84.0h0M130.0 84.1h0M224.6 127.9h0M117.3 81.2h0M239.4 26.9h0M102.5 65.4h0M141.5 9.4h0M215.1 114.7h0M135.7 85.9h0M177.3 105.4h0M250.8 66.4h0M156.7 52.6h0M153.7 96.3h0M165.6 68.6h0M286.1 145.6h0M165.0 116.6h0M115.6 156.7h0M213.7 143.9h0M164.1 63.1h0M159.5 89.2h0M241.1 134.3h0M133.7 22.7h0M113.3 79.1h0M253.7 135.4h0M107.8 76.5h0M178.7 167.0h0M158.4 96.5h0M216.4 109.4h0M145.8 92.4h0M252.5 171.4h0M205.0 114.5h0M117.9 160.8h0M227.6 128.1h0M150.3 92.8h0M272.0 37.1h0M138.2 83.5h0M96.6 63.3h0M84.1 52.6h0M132.8 125.6h0M159.1 56.1h0M134.2 119.9h0M220.2 25.4h0M130.4 84.3h0M218.1 136.1h0M114.3 65.4h0M206.9 139.1h0M169.5 51.4h0M122.6 77.9h0M88.7 69.1h0M267.0 94.2h0M253.7 137.7h0M210.3 26.5h0M129.2 89.4h0M116.3 81.0h0M105.4 75.1h0M174.9 121.3h0M110.2 165.1h0M182.0 144.4h0M111.0 72.2h0M149.7 75.5h0M170.5 92.7h0M108.4 76.0h0"/><path d="M132.1 82.4h0M140.7 84.9h0M136.4 201.4h0M120.9 163.3h0M126.8 90.4h0M114.2 58.6h0M187.8 113.6h0M263.9 141.9h0M112.8 73.1h0M160.6 95.1h0M104.7 80.7h0M116.3 104.0h0M211.6 122.8h0M200.6 114.0h0M123.0 20.1h0M196.4 112.4h0M142.4 93.5h0M245.7 140.9h0M159.0 97.6h0M146.2 92.3h0M190.2 105.7h0M89.7 70.9h0M113.9 65.2h0M229.7 131.5h0M154.5 95.2h0M119.3 115.1h0M133.9 80.1h0M183.3 201.9h0M120.7 88.3h0M224.6 123.4h0M193.8 101.8h0M131.0 6.2h0M89.0 64.7h0M130.8 80.2h0M112.2 69.8h0M114.5 86.8h0M109.3 63.3h0M102.8 73.5h0M165.8 95.4h0M214.1 123.1h0M234.6 139.1h0M132.4 80.7h0M191.2 114.7h0M138.2 132.7h0M105.4 97.2h0M127.6 8.4h0M106.0 46.8h0M228.7 128.5h0M111.5 67.4h0M127.1 75.5h0M158.5 20.7h0M149.9 105.5h0M96.2 161.0h0M208.8 103.5h0M207.9 209.5h0M147.3 86.3h0M153.6 96.6h0M179.3 109.7h0M97.0 75.4h0M153.5 119.1h0M158.5 197.0h0M112.2 79.9h0M94.7 79.6h0M124.1 77.5h0M132.7 38.8h0M266.6 146.2h0M117.3 76.6h0M200.8 121.6h0M127.7 79.9h0M114.4 172.4h0M117.3 84.1h0M117.6 95.8h0M130.2 87.8h0M255.2 147.1h0M151.5 107.8h0M262.2 138.9h0M85.4 48.1h0M114.7 108.1h0M124.3 83.6h0M140.1 88.6h0M144.7 99.1h0M96.2 71.4h0M97.0 78.5h0M93.7 75.7h0M136.3 82.7h0M118.5 146.9h0M164.4 96.2h0M100.2 75.0h0M124.8 81.4h0M122.3 181.1h0M119.4 205.6h0M208.3 117.5h0M280.2 144.7h0M97.8 65.6h0M118.4 82.2h0M223.4 133.2h0M164.4 103.5h0M130.1 39.7h0M141.9 106.9h0M187.6 111.8h0M155.8 92.1h0M159.7 105.0h0M189.5 111.4h0M129.5 74.9h0M151.0 89.6h0M129.2 94.2h0M170.1 108.0h0M133.6 81.3h0M122.8 88.9h0M198.9 118.6h0M254.7 132.9h0M207.5 119.4h0M114.0 67.8h0M150.7 40.3h0M94.7 70.3h0M109.9 73.2h0M265.3 151.3h0M93.3 66.4h0M115.6 73.2h0M141.1 73.7h0M115.9 76.7h0M123.7 79.5h0M149.5 80.9h0M104.1 73.0h0M110.0 74.1h0M166.7 142.3h0M96.6 34.4h0M203.0 120.0h0M113.7 76.4h0M193.9 113.9h0M145.9 173.7h0M112.8 75.2h0M86.9 63.8h0M124.5 72.8h0M148.1 90.6h0M131.2 83.0h0M181.2 53.5h0M150.2 80.9h0M121.4 193.0h0M238.1 181.9h0M260.1 45.9h0M223.4 130.1h0M101.2 74.7h0M126.2 50.3h0M100.4 95.2h0M121.5 86.9h0M168.5 116.1h0M102.2 62.8h0M121.9 79.8h0M121.2 73.0h0M220.4 166.2h0M115.6 76.3h0M211.7 119.2h0M118.1 77.7h0M234.6 57.3h0M116.9 119.7h0M201.1 113.6h0M118.3 207.6h0M110.3 167.2h0M133.5 87.7h0M139.2 74.3h0M256.1 146.7h0M116.1 81.3h0M210.4 118.1h0M120.4 85.8h0M146.3 64.9h0M168.1 207.2h0M195.8 113.8h0M96.2 54.1h0M264.8 21.6h0M248.7 47.7h0M133.6 71.7h0M158.7 95.1h0M107.7 79.8h0M264.8 144.5h0M158.2 96.0h0M131.4 90.4h0"/><path d="M120.6 68.6h0M274.1 110.6h0M130.2 83.3h0M237.0 133.8h0M97.6 76.7h0M117.5 76.9h0M200.8 114.0h0M105.2 51.2h0M178.1 108.6h0M237.8 124.9h0M126.1 73.3h0M179.8 107.8h0M108.6 72.9h0M186.2 30.9h0M149.9 103.1h0M138.4 51.8h0M136.6 75.8h0M183.1 165.6h0M146.9 90.0h0M221.8 24.2h0M200.8 18.7h0M129.9 84.8h0M161.1 104.3h0M102.6 72.3h0M234.5 127.7h0M127.6 80.8h0M163.9 105.6h0M127.5 80.7h0M148.1 89.4h0M100.4 66.5h0M155.3 148.8h0M140.4 31.5h0M128.9 61.3h0M120.5 91.9h0M152.9 102.0h0M167.3 125.1h0M173.8 92.5h0M146.9 93.7h0M229.3 127.8h0M211.5 131.1h0M131.0 106.5h0M108.2 79.9h0M141.4 86.3h0M132.2 86.7h0M132.8 76.8h0M204.7 199.1h0M109.9 79.6h0M133.1 88.8h0M144.3 187.4h0M67.4 37.0h0M133.3 79.7h0M221.0 122.9h0M117.7 86.8h0M120.4 76.4h0M191.9 118.5h0M226.8 129.6h0M147.5 92.5h0M112.3 84.2h0M202.5 107.9h0M215.7 122.2h0M187.1 110.0h0M119.8 79.1h0M165.7 98.6h0M124.9 125.2h0M218.3 116.1h0M125.8 20.1h0M133.8 78.1h0M175.0 97.4h0M130.5 99.0h0M196.5 115.4h0M109.0 79.0h0M136.0 85.2h0M113.3 133.9h0M98.9 71.2h0M227.2 130.5h0M93.8 73.8h0M147.3 149.4h0M111.8 79.8h0M118.1 191.2h0M176.0 102.6h0M101.1 75.8h0M229.7 129.2h0M258.7 139.6h0M171.6 121.3h0M149.4 87.1h0M193.0 107.1h0M103.1 76.6h0M140.8 91.5h0M138.1 85.2h0M255.4 136.6h0M143.1 109.7h0M213.4 119.1h0M106.0 34.4h0M125.5 80.4h0M91.2 63.7h0M141.8 23.3h0M100.0 73.9h0M141.8 107.0h0M204.9 38.4h0M149.1 90.6h0M228.7 123.8h0M139.7 90.9h0M107.5 73.1h0M150.5 91.1h0M137.9 90.1h0M216.9 104.4h0M130.7 91.1h0M113.3 202.7h0M182.1 103.1h0M195.1 112.1h0M131.4 95.2h0M123.2 88.5h0M242.8 132.6h0M123.1 75.4h0M151.9 94.7h0M102.4 77.1h0M142.7 76.6h0M157.9 128.9h0M90.7 67.4h0M140.4 72.8h0M141.2 44.9h0M150.3 101.0h0M114.6 70.7h0M227.2 124.4h0M116.4 77.7h0M148.3 73.1h0M116.4 69.2h0M188.4 108.7h0M125.9 85.7h0M103.6 74.5h0M148.2 153.9h0M94.3 76.8h0M103.3 78.4h0M126.9 77.5h0M154.5 91.1h0M145.4 88.5h0M255.8 142.8h0M129.6 86.5h0M151.9 98.6h0M113.9 69.0h0M215.3 193.7h0M236.2 136.5h0M172.7 100.5h0M128.7 86.3h0M143.4 58.4h0M98.1 16.3h0M102.2 81.2h0M199.0 115.2h0M160.7 128.5h0M166.1 96.2h0M124.0 87.8h0M129.2 -0.4h0M109.6 69.9h0M262.2 137.5h0M140.5 77.8h0M120.5 170.0h0M118.8 102.3h0M120.0 81.2h0M131.5 145.4h0M258.6 142.1h0M140.9 85.2h0M116.3 55.2h0M151.7 31.4h0M109.0 187.4h0M160.3 119.4h0M136.1 101.4h0M238.2 109.9h0M203.7 53.7h0M113.2 73.8h0M201.8 112.6h0M228.9 151.4h0M266.8 118.8h0M113.5 3.8h0M117.4 81.5h0M126.5 87.4h0M266.9 138.4h0M218.1 11.3h0"/><path d="M216.5 117.2h0M184.5 111.7h0M131.2 87.8h0M240.7 130.0h0M223.8 126.3h0M223.0 128.8h0M115.7 75.6h0M164.7 79.0h0M114.3 175.0h0M125.2 71.1h0M143.1 95.5h0M108.9 160.4h0M209.6 130.4h0M147.2 45.5h0M119.0 68.0h0M152.8 91.0h0M178.7 207.2h0M129.1 88.2h0M116.8 76.6h0M113.8 75.2h0M139.8 93.8h0M110.6 7.1h0M224.5 130.6h0M105.5 76.8h0M199.0 53.3h0M148.1 61.2h0M224.9 129.0h0M125.0 78.9h0M246.6 152.7h0M221.4 115.7h0M264.9 66.2h0M138.1 66.4h0M212.7 120.2h0M122.2 92.0h0M127.0 76.9h0M167.0 93.7h0M200.2 115.9h0M137.0 96.7h0M131.8 82.9h0M151.8 4.3h0M173.7 152.2h0M116.3 184.5h0M146.8 91.4h0M113.6 183.8h0M246.1 139.4h0M160.2 84.7h0M126.1 186.7h0M228.4 57.6h0M149.7 101.9h0M141.0 71.3h0M103.1 70.5h0M109.4 70.2h0M175.7 15.9h0M152.3 90.5h0M113.5 74.9h0M107.5 77.6h0M188.1 115.0h0M102.8 77.3h0M135.5 88.1h0M113.0 76.3h0M188.4 44.0h0M128.1 77.2h0M204.2 131.1h0M116.2 84.1h0M123.7 65.0h0M165.4 17.3h0M103.1 48.7h0M159.3 26.6h0M145.9 161.6h0M229.5 129.2h0M128.1 81.2h0M198.8 105.7h0M126.3 75.1h0M110.1 77.3h0M145.9 93.0h0M228.1 131.2h0M122.9 84.2h0M93.4 52.6h0M120.7 76.9h0M110.1 75.8h0M94.3 76.3h0M120.6 101.9h0M220.7 121.9h0M236.9 127.0h0M115.2 35.8h0M130.0 89.9h0M196.6 106.8h0M230.8 132.0h0M126.5 71.0h0M215.3 125.6h0M226.1 143.2h0M250.9 142.3h0M167.5 101.3h0M223.8 56.3h0M101.2 72.0h0M171.6 102.4h0M179.4 88.7h0M124.5 89.0h0M221.3 126.2h0M121.9 80.9h0M215.2 121.7h0M160.6 98.9h0M136.8 90.0h0M119.1 66.7h0M127.2 97.4h0M107.1 191.8h0M162.7 106.5h0M113.0 62.0h0M109.3 70.5h0M205.9 123.4h0M201.3 134.9h0M207.8 45.7h0M171.6 98.3h0M129.6 83.6h0M123.6 76.3h0M121.3 85.1h0M92.4 61.4h0M137.4 161.9h0M145.3 14.8h0M181.8 74.0h0M257.9 142.9h0M117.0 7.3h0M137.7 89.2h0M112.4 99.1h0M131.8 78.2h0M99.7 65.9h0M237.1 209.1h0M231.2 120.6h0M253.0 94.7h0M121.0 197.4h0M114.2 78.7h0M119.3 79.3h0M222.2 43.3h0M153.7 94.0h0M148.8 88.7h0M151.5 132.6h0M179.2 107.6h0M234.3 159.0h0M254.1 103.0h0M155.0 91.4h0M233.1 135.2h0M184.9 115.6h0M148.5 88.2h0M120.0 83.3h0M235.7 134.1h0M171.9 77.5h0M236.6 131.6h0M168.0 100.0h0M210.1 133.5h0M252.0 133.0h0M126.0 84.1h0M165.3 92.0h0M137.2 89.9h0M144.7 78.6h0M133.0 80.3h0M127.3 82.8h0M89.5 70.5h0M219.3 183.0h0M96.4 117.7h0M132.8 63.6h0M106.4 75.4h0M124.4 81.8h0M116.8 74.9h0M221.1 130.7h0M170.4 107.4h0M244.6 129.7h0M127.0 76.7h0M130.7 80.8h0M126.6 82.7h0M242.4 104.1h0M130.7 89.6h0M142.0 79.5h0M198.2 104.3h0M200.7 182.7h0M252.2 134.0h0M122.0 66.3h0M193.6 116.0h0"/><path d="M148.4 10.3h0M117.1 78.0h0M102.4 40.1h0M105.5 94.4h0M132.0 79.1h0M181.8 111.3h0M98.1 49.8h0M132.0 88.9h0M105.3 77.2h0M195.7 41.6h0M110.6 176.7h0M162.8 90.6h0M122.0 76.9h0M140.3 92.6h0M191.5 188.5h0M138.9 93.2h0M102.5 91.1h0M239.3 133.9h0M99.4 140.0h0M147.7 92.8h0M134.8 82.7h0M232.9 133.4h0M93.4 79.7h0M185.4 128.1h0M226.6 123.8h0M109.7 79.0h0M179.9 111.6h0M206.6 182.0h0M209.5 19.4h0M226.5 122.0h0M236.5 130.2h0M127.5 70.5h0M214.4 127.0h0M118.0 78.5h0M113.0 74.2h0M84.0 58.4h0M160.2 100.4h0M105.3 82.3h0M117.1 75.9h0M223.9 131.8h0M209.6 117.4h0M96.9 35.4h0M99.4 98.7h0M125.3 77.2h0M129.3 67.6h0M117.4 84.8h0M142.8 98.5h0M128.6 64.7h0M144.8 91.1h0M259.0 141.3h0M226.1 133.4h0M243.7 42.7h0M260.4 154.1h0M148.7 89.6h0M120.9 85.4h0M241.5 131.2h0M191.3 109.3h0M238.3 135.8h0M104.0 2.2h0M229.2 196.9h0M220.6 122.1h0M248.7 44.0h0M150.7 95.1h0M135.2 84.9h0M181.2 94.8h0M159.4 102.9h0M152.7 86.4h0M144.9 89.9h0M235.1 121.6h0M130.1 77.6h0M140.0 204.9h0M183.0 -0.3h0M131.9 86.7h0M109.6 65.7h0M117.9 190.4h0M90.5 63.4h0M257.4 138.8h0M91.5 83.8h0M122.1 73.1h0M130.0 80.5h0M113.1 82.0h0M245.4 138.4h0M97.7 89.1h0M217.5 123.4h0M244.3 154.6h0M167.6 40.9h0M221.6 174.7h0M111.2 74.8h0M141.0 81.8h0M255.0 145.0h0M225.6 125.2h0M122.7 83.8h0M127.2 84.0h0M219.9 114.2h0M95.4 106.8h0M111.5 69.2h0M202.1 117.3h0M107.8 68.6h0M207.4 121.5h0M121.6 117.3h0M121.9 83.5h0M115.9 81.2h0M203.1 119.4h0M253.6 117.5h0M150.1 92.5h0M164.0 97.5h0M94.0 73.5h0M181.2 157.6h0M178.4 158.1h0M138.6 73.5h0M101.9 68.7h0M100.8 73.9h0M200.4 110.3h0M266.0 146.0h0M218.4 129.1h0M223.1 120.2h0M111.5 79.5h0M103.5 64.2h0M235.2 12.1h0M151.1 87.4h0M140.6 64.5h0M150.3 96.6h0M233.5 75.0h0M111.3 75.1h0M124.4 83.9h0M112.9 85.4h0M112.1 67.7h0M159.2 40.4h0M224.4 126.8h0M116.0 0.8h0M267.2 145.9h0M246.9 140.2h0M173.5 106.4h0M119.1 79.4h0M156.4 92.1h0M102.9 76.9h0M87.0 64.3h0M101.1 68.0h0M127.8 74.5h0M135.0 93.6h0M112.3 105.5h0M263.9 144.4h0M152.0 99.9h0M110.7 74.8h0M168.9 104.0h0M295.1 114.9h0M117.6 207.4h0M116.2 85.9h0M194.6 109.4h0M111.5 70.4h0M256.7 116.2h0M128.8 177.2h0M121.4 187.0h0M119.0 80.3h0M266.5 149.0h0M191.6 41.5h0M203.2 110.7h0M120.6 72.9h0M90.6 70.9h0M91.4 164.1h0M109.7 50.3h0M121.7 80.4h0M251.4 137.2h0M134.2 90.1h0M151.4 10.0h0M100.2 138.3h0M130.7 41.0h0M128.9 95.7h0M180.4 68.7h0M251.8 194.8h0M93.9 69.9h0M104.2 59.7h0M117.7 71.8h0M98.8 66.0h0M231.9 26.5h0M251.1 144.4h0M258.0 71.4h0"/><path d="M91.7 69.2h0M154.9 109.0h0M153.4 95.5h0M136.0 84.3h0M267.2 147.7h0M217.9 115.4h0M260.9 149.2h0M111.0 163.7h0M124.2 85.5h0M144.4 89.4h0M228.0 129.2h0M112.0 75.5h0M133.5 82.3h0M133.2 86.3h0M255.7 138.2h0M128.0 82.8h0M127.7 90.0h0M171.5 107.2h0M129.8 82.7h0M158.3 101.5h0M181.4 42.8h0M123.6 73.6h0M107.6 58.1h0M132.8 81.3h0M96.1 69.2h0M131.5 77.5h0M238.1 138.2h0M134.5 93.6h0M247.9 153.3h0M117.1 60.3h0M130.8 85.3h0M136.3 90.5h0M115.2 123.3h0M127.5 78.3h0M256.8 128.9h0M108.4 75.1h0M143.9 68.5h0M144.4 54.1h0M156.8 88.6h0M143.3 94.5h0M223.7 82.6h0M148.5 97.2h0M118.9 75.9h0M141.6 86.6h0M122.8 81.4h0M231.6 145.9h0M136.4 77.4h0M165.9 97.4h0M245.1 136.7h0M114.7 77.2h0M218.7 151.0h0M158.7 96.9h0M96.9 80.6h0M112.7 73.3h0M237.1 127.7h0M128.0 88.0h0M215.9 125.2h0M244.5 136.8h0M107.9 81.2h0M115.8 159.8h0M142.6 93.0h0M147.2 91.4h0M142.0 90.3h0M178.3 103.5h0M220.5 124.5h0M114.7 108.8h0M91.4 59.4h0M133.5 92.9h0M140.1 88.6h0M108.1 163.0h0M153.8 85.3h0M129.8 93.0h0M222.1 118.7h0M213.1 103.7h0M89.8 58.5h0M115.1 89.5h0M139.9 87.0h0M171.6 15.9h0M164.8 101.4h0M197.2 109.3h0M127.0 83.9h0M120.7 83.9h0M100.8 67.0h0M109.7 81.9h0M139.5 95.9h0M130.9 25.2h0M138.8 81.1h0M261.9 136.3h0M141.8 76.6h0M297.5 127.9h0M236.1 117.8h0M113.5 68.4h0M129.0 81.8h0M114.9 72.9h0M219.7 126.3h0M123.2 81.8h0M175.6 102.6h0M113.6 106.6h0M120.9 77.4h0M89.2 67.2h0M238.9 132.3h0M118.3 207.9h0M276.8 143.5h0M174.1 107.6h0M124.0 82.6h0M151.5 148.4h0M98.9 58.4h0M131.0 81.7h0M96.0 13.4h0M124.3 77.0h0M170.0 101.0h0M233.7 174.6h0M214.3 46.7h0M142.4 105.0h0M198.9 120.4h0M168.1 168.7h0M105.0 80.5h0M168.5 101.6h0M158.2 97.4h0M123.1 80.8h0M145.0 95.5h0M166.4 106.2h0M157.5 151.0h0M122.7 85.5h0M243.1 140.8h0M148.8 89.0h0M157.1 94.3h0M256.5 142.7h0M104.1 78.1h0M105.6 163.2h0M111.0 -0.4h0M178.1 176.3h0M121.1 64.9h0M255.1 141.5h0M185.0 114.7h0M186.0 129.0h0M127.4 101.9h0M204.9 124.0h0M107.8 85.3h0M163.5 97.8h0M132.5 80.8h0M130.9 86.8h0M146.2 90.7h0M144.5 81.1h0M130.0 93.0h0M153.9 97.3h0M146.7 75.9h0M135.5 58.5h0M151.2 178.4h0M125.2 92.8h0M253.7 146.6h0M132.4 84.1h0M184.7 113.6h0M245.7 128.6h0M156.8 146.6h0M120.2 73.9h0M106.2 71.6h0M134.6 75.4h0M238.1 139.3h0M113.0 79.5h0M202.9 116.6h0M141.0 58.4h0M190.9 24.5h0M243.6 115.8h0M236.7 125.4h0M229.7 124.1h0M237.8 90.0h0M118.7 185.8h0M126.7 95.0h0M198.2 120.4h0M175.1 105.0h0M125.2 88.3h0M121.3 91.6h0M188.3 30.7h0M104.4 101.0h0M167.6 146.7h0M126.7 46.5h0"/><path d="M109.3 80.9h0M261.0 141.8h0M123.6 56.2h0M215.6 126.8h0M135.0 83.7h0M106.9 94.1h0M197.1 115.6h0M231.0 133.4h0M187.9 110.6h0M188.1 64.2h0M158.3 152.0h0M118.2 24.5h0M134.2 82.7h0M227.3 129.2h0M172.9 95.4h0M174.2 95.2h0M105.8 63.2h0M178.9 109.5h0M121.6 60.8h0M221.7 123.7h0M175.6 32.6h0M149.4 85.0h0M119.8 76.7h0M267.3 139.4h0M231.6 141.3h0M233.0 145.4h0M115.2 70.8h0M190.1 118.3h0M119.4 98.1h0M85.6 63.3h0M176.8 88.7h0M242.5 28.0h0M163.1 184.0h0M154.3 81.7h0M101.4 77.1h0M118.1 164.1h0M108.6 77.0h0M145.8 50.9h0M162.0 92.6h0M184.8 104.9h0M125.5 84.6h0M229.4 125.8h0M173.8 51.2h0M210.9 132.2h0M119.4 139.6h0M133.2 79.0h0M104.7 59.9h0M205.9 117.0h0M108.6 42.1h0M122.1 79.5h0M220.4 114.1h0M111.9 78.3h0M162.5 107.7h0M122.6 62.5h0M146.4 98.8h0M251.8 133.3h0M150.0 95.6h0M112.5 149.1h0M90.1 62.3h0M210.1 112.1h0M152.8 97.4h0M254.7 139.4h0M125.6 82.4h0M137.8 -0.3h0M132.6 30.7h0M74.4 35.1h0M153.1 123.5h0M217.3 118.3h0M129.0 84.0h0M226.3 126.8h0M121.1 81.9h0M222.0 139.8h0M147.3 87.9h0M116.0 112.8h0M248.7 24.5h0M150.1 80.5h0M206.3 116.9h0M228.6 3.9h0M203.6 111.9h0M98.9 67.1h0M222.5 120.6h0M188.2 173.1h0M227.4 208.0h0M122.8 81.9h0M111.2 68.9h0M114.5 76.8h0M158.0 87.0h0M240.1 130.8h0M129.6 84.6h0M146.3 95.0h0M101.7 72.9h0M136.9 88.3h0M127.1 85.0h0M150.0 209.5h0M140.4 80.9h0M135.7 75.9h0M117.2 55.1h0M150.1 93.7h0M86.5 152.5h0M219.3 112.3h0M127.3 88.3h0M134.7 71.6h0M156.6 95.3h0M276.6 160.7h0M104.6 74.7h0M112.7 201.4h0M213.1 117.9h0M111.2 176.1h0M126.0 86.6h0M221.1 120.9h0M143.8 92.2h0M125.8 76.3h0M132.2 82.9h0M250.0 138.0h0M112.7 69.3h0M162.4 29.2h0M186.8 101.8h0M143.8 206.2h0M116.8 75.3h0M234.0 126.6h0M151.1 99.1h0M180.4 154.7h0M162.4 171.2h0M96.4 71.3h0M117.7 86.5h0M112.5 53.6h0M134.7 77.8h0M177.9 208.5h0M143.6 88.4h0M192.0 156.0h0M216.2 80.0h0M113.1 13.8h0M174.9 111.3h0M138.0 100.3h0M88.6 66.9h0M234.3 130.6h0M101.4 69.0h0M225.3 204.4h0M203.9 118.4h0M122.3 71.3h0M248.7 144.8h0M124.3 79.5h0M119.6 83.2h0M120.5 89.5h0M117.5 83.8h0M172.7 106.6h0M150.1 180.6h0M169.4 89.3h0M149.4 95.2h0M274.9 147.8h0M181.8 112.1h0M101.6 64.6h0M105.7 74.2h0M126.2 85.2h0M127.3 80.6h0M103.1 80.9h0M106.6 82.7h0M134.9 99.1h0M142.0 86.2h0M131.1 94.6h0M154.8 103.5h0M116.2 79.1h0M122.5 92.6h0M162.8 98.2h0M156.4 68.9h0M179.6 109.6h0M130.8 78.0h0M146.6 79.2h0M255.9 135.0h0M133.7 19.3h0M112.5 70.3h0M118.0 94.1h0M193.4 106.6h0M99.4 70.8h0M104.1 63.4h0M122.4 77.7h0M99.7 123.4h0"/><path d="M246.4 167.8h0M131.3 88.5h0M145.7 94.9h0M132.6 71.5h0M181.6 96.6h0M126.7 79.1h0M113.1 85.4h0M194.7 113.4h0M108.9 72.8h0M172.0 36.3h0M243.7 141.1h0M127.9 97.3h0M125.3 12.0h0M120.6 74.5h0M189.5 66.4h0M145.2 90.4h0M116.2 89.0h0M146.3 86.8h0M111.8 63.3h0M161.9 191.1h0M151.2 39.1h0M245.9 94.4h0M83.9 57.3h0M153.5 11.3h0M114.4 79.0h0M117.7 74.0h0M130.6 78.1h0M128.3 88.3h0M115.6 71.8h0M133.8 90.5h0M122.2 79.4h0M261.3 191.7h0M159.4 153.9h0M259.9 139.8h0M100.1 75.3h0M89.5 64.8h0M119.5 90.8h0M121.3 154.8h0M229.1 123.4h0M124.4 155.3h0M190.5 120.1h0M237.6 119.2h0M134.6 84.6h0M160.0 97.5h0M120.3 97.4h0M170.2 104.0h0M144.4 67.9h0M149.1 91.3h0M162.6 92.9h0M226.0 117.8h0M175.7 105.7h0M256.6 25.0h0M205.7 101.5h0M170.3 107.9h0M98.4 66.1h0M109.1 74.6h0M103.2 93.2h0M192.8 124.8h0M114.7 75.7h0M122.0 71.6h0M89.4 65.5h0M167.3 100.7h0M110.3 51.0h0M205.4 125.6h0M217.8 134.8h0M116.5 82.2h0M141.9 87.8h0M117.4 161.1h0M144.5 2.3h0M115.8 78.1h0M247.2 49.2h0M126.4 80.6h0M158.2 104.2h0M166.2 110.1h0M234.2 118.7h0M111.2 87.2h0M127.6 87.9h0M121.4 164.6h0M113.3 58.8h0M148.5 -1.3h0M120.0 91.9h0M103.6 71.0h0M133.6 89.2h0M138.8 86.7h0M248.3 144.3h0M111.7 138.6h0M122.2 80.1h0M112.2 51.4h0M118.4 85.5h0M104.0 194.2h0M136.1 56.5h0M159.4 91.7h0M134.4 68.6h0M134.9 83.8h0M87.8 71.6h0M88.1 45.0h0M232.8 178.2h0M110.1 47.0h0M120.9 52.6h0M121.0 110.6h0M124.0 84.3h0M104.6 147.3h0M196.7 104.3h0M113.0 58.8h0M83.1 52.2h0M160.3 107.5h0M200.9 205.9h0M127.9 78.8h0M202.2 109.5h0M138.1 90.0h0M122.9 77.9h0M139.6 49.1h0M170.8 95.5h0M177.5 91.5h0M146.9 100.6h0M115.2 92.3h0M230.8 127.7h0M161.7 64.3h0M112.5 74.2h0M127.3 84.1h0M115.4 58.0h0M93.5 70.7h0M213.1 152.3h0M132.0 88.3h0M156.7 22.6h0M223.0 192.6h0M149.7 47.9h0M176.5 125.6h0M169.4 101.0h0M121.4 75.4h0M228.4 125.9h0M206.9 117.7h0M128.7 86.6h0M258.8 136.2h0M137.6 80.3h0M251.0 131.6h0M104.5 67.5h0M229.2 128.3h0M174.7 106.1h0M165.8 129.7h0M143.6 41.4h0M127.3 88.1h0M123.4 82.7h0M128.8 76.9h0M136.5 82.8h0M104.8 71.5h0M138.7 86.5h0M114.4 66.2h0M168.6 100.1h0M173.6 71.0h0M201.5 144.0h0M117.4 79.0h0M102.4 72.0h0M95.6 66.5h0M103.9 72.4h0M119.1 79.6h0M95.7 76.7h0M115.3 155.5h0M163.4 100.1h0M261.7 26.8h0M138.1 17.3h0M106.8 73.9h0M137.5 81.8h0M111.8 78.8h0M276.6 141.4h0M197.4 113.3h0M168.2 -1.0h0M143.0 92.5h0M87.3 45.6h0M199.1 114.1h0M151.1 100.6h0M126.8 80.6h0M242.8 135.4h0M97.2 88.3h0M123.4 37.6h0M152.1 98.4h0M92.9 63.1h0"/><path d="M176.3 100.2h0M253.2 136.7h0M254.0 148.9h0M157.5 103.4h0M117.6 64.1h0M122.2 131.0h0M157.5 91.5h0M186.4 106.2h0M119.7 71.7h0M223.3 180.7h0M110.3 75.7h0M186.8 113.6h0M135.9 67.2h0M131.9 129.9h0M130.2 84.6h0M232.8 121.5h0M125.4 81.7h0M228.2 119.0h0M134.3 87.2h0M128.7 92.6h0M131.8 85.8h0M167.0 96.5h0M154.2 99.2h0M167.5 102.6h0M128.0 95.2h0M179.1 106.9h0M104.1 62.2h0M267.5 151.1h0M122.8 58.2h0M145.3 58.9h0M196.4 117.0h0M122.4 169.5h0M130.5 96.9h0M129.6 83.6h0M138.3 122.2h0M178.1 103.8h0M278.3 144.9h0M232.7 134.2h0M259.2 26.9h0M143.6 163.2h0M223.1 158.6h0M112.1 80.8h0M197.8 130.3h0M232.8 163.3h0M108.9 72.9h0M131.2 91.6h0M127.0 104.6h0M59.1 44.2h0M113.8 114.6h0M202.4 100.9h0M124.1 84.0h0M146.6 96.5h0M125.0 74.5h0M114.7 72.7h0M92.1 66.2h0M232.5 130.5h0M116.9 73.7h0M166.0 60.2h0M120.1 202.2h0M118.6 82.3h0M152.5 43.7h0M136.8 123.8h0M192.8 111.0h0M132.7 30.5h0M245.2 137.7h0M209.8 156.9h0M228.8 51.9h0M140.5 80.7h0M135.2 85.7h0M239.2 130.9h0M173.6 101.0h0M119.0 63.5h0M143.4 97.6h0M118.2 69.0h0M224.8 129.5h0M174.2 107.3h0M162.5 81.7h0M214.4 37.3h0M124.1 82.4h0M131.0 85.3h0M177.0 70.6h0M144.3 92.7h0M142.6 111.4h0M134.9 89.8h0M252.8 196.2h0M123.8 79.6h0M120.2 77.4h0M130.1 82.0h0M137.8 90.6h0M143.5 84.0h0M124.0 82.9h0M175.3 104.7h0M183.1 51.2h0M242.6 137.1h0M123.8 81.0h0M126.2 113.2h0M205.7 119.3h0M129.5 84.4h0M98.9 69.2h0M101.8 175.7h0M118.8 101.6h0M201.4 182.5h0M106.0 76.9h0M120.8 79.5h0M158.3 92.4h0M169.9 30.4h0M127.4 77.8h0M103.5 77.1h0M140.1 91.5h0M116.7 74.4h0M96.9 71.4h0M118.9 84.1h0M135.5 119.2h0M77.4 70.8h0M142.2 51.2h0M107.4 202.3h0M114.7 74.1h0M128.2 64.3h0M111.7 83.6h0M173.6 165.3h0M126.7 81.3h0M153.6 88.7h0M146.8 81.1h0M173.9 108.0h0M116.2 71.0h0M223.6 118.0h0M144.1 94.7h0M218.3 92.5h0M116.6 83.9h0M174.6 99.1h0M129.7 87.2h0M132.6 81.8h0M139.2 125.4h0M111.9 126.9h0M90.3 74.5h0M132.8 78.5h0M152.4 87.3h0M118.8 80.0h0M252.8 132.4h0M107.0 72.9h0M120.0 126.8h0M116.0 143.0h0M133.9 86.5h0M174.5 99.7h0M130.0 108.6h0M116.5 113.9h0M215.6 148.5h0M180.5 22.5h0M123.8 172.3h0M125.0 72.4h0M157.2 98.9h0M116.1 76.3h0M283.4 156.4h0M108.8 137.1h0M119.4 59.0h0M261.3 146.8h0M132.0 76.9h0M104.9 86.7h0M225.3 120.7h0M122.4 47.5h0M252.5 135.7h0M151.0 94.1h0M115.3 62.3h0M108.2 50.1h0M150.3 98.3h0M112.7 150.0h0M122.7 31.6h0M269.2 143.1h0M223.5 71.5h0M250.8 129.8h0M117.9 149.6h0M179.4 171.8h0M134.3 172.2h0M141.7 90.9h0M157.9 103.5h0M241.1 31.8h0M127.1 78.0h0"/><path d="M106.3 70.5h0M116.3 78.3h0M115.5 68.8h0M131.1 73.0h0M244.5 140.3h0M145.8 62.3h0M145.8 100.0h0M201.1 127.1h0M133.7 95.5h0M255.7 133.4h0M251.6 66.6h0M110.0 76.1h0M141.7 102.4h0M127.8 86.5h0M128.6 87.2h0M119.5 85.7h0M133.8 87.7h0M108.4 84.7h0M109.0 75.4h0M118.1 75.7h0M94.0 80.6h0M80.7 59.8h0M99.5 77.5h0M173.8 67.2h0M120.5 80.2h0M137.6 80.3h0M101.3 76.6h0M130.1 171.1h0M106.9 72.4h0M144.9 89.1h0M100.0 8.9h0M189.2 116.9h0M130.9 80.0h0M196.5 162.4h0M151.0 131.6h0M126.0 80.8h0M134.4 81.7h0M120.6 72.9h0M132.3 77.5h0M171.9 59.0h0M128.9 86.5h0M123.3 65.6h0M154.3 179.9h0M260.7 74.3h0M93.4 85.4h0M150.7 88.6h0M229.0 130.9h0M133.5 186.3h0M152.1 87.7h0M261.4 188.7h0M160.9 96.8h0M165.4 179.7h0M201.0 114.0h0M197.8 110.9h0M122.2 83.6h0M139.9 96.3h0M118.8 143.2h0M168.5 25.6h0M146.1 81.5h0M115.0 73.0h0M87.5 52.5h0M131.0 88.5h0M107.5 75.1h0M197.1 159.5h0M120.7 78.1h0M103.3 59.7h0M126.6 17.8h0M128.5 89.8h0M259.2 164.0h0M143.9 84.4h0M219.0 126.9h0M121.7 173.6h0M247.9 131.8h0M274.3 150.3h0M135.4 79.3h0M117.6 84.2h0M104.5 68.3h0M231.0 127.4h0M126.5 83.8h0M131.8 75.2h0M187.9 108.4h0M150.6 90.0h0M116.7 78.5h0M171.1 101.0h0M211.8 205.9h0M169.2 101.9h0M136.3 71.6h0M124.6 5.6h0M107.3 73.4h0M111.1 146.3h0M147.0 91.0h0M113.0 74.1h0M133.9 54.1h0M147.3 88.2h0M211.3 115.8h0M120.9 80.1h0M265.2 144.1h0M250.6 93.0h0M243.2 81.4h0M217.7 125.3h0M124.7 79.9h0M109.0 192.1h0M121.3 73.2h0M120.0 81.9h0M99.0 73.3h0M247.5 140.5h0M118.7 202.0h0M132.8 146.0h0M127.3 85.9h0M206.0 139.0h0M89.5 69.5h0M194.6 119.6h0M210.5 134.1h0M182.5 108.7h0M250.3 173.2h0M72.8 65.0h0M127.3 78.5h0M251.1 139.7h0M124.4 70.6h0M125.6 164.2h0M120.2 77.5h0M107.6 7.2h0M238.7 137.2h0M120.9 79.1h0M96.1 62.8h0M124.4 79.6h0M129.6 75.2h0M146.6 88.0h0M116.0 81.4h0M248.6 182.2h0M126.5 68.4h0M143.3 122.6h0M219.6 121.4h0M140.4 89.2h0M129.0 82.0h0M100.4 74.2h0M90.9 65.7h0M122.7 44.5h0M106.2 72.8h0M134.4 88.6h0M121.0 34.3h0M111.8 76.5h0M104.7 110.1h0M118.4 91.0h0M100.6 72.9h0M142.9 87.6h0M163.5 81.8h0M114.5 82.7h0M106.5 84.7h0M142.3 94.9h0M117.1 116.4h0M120.7 33.4h0M135.0 97.5h0M122.5 78.9h0M147.3 86.1h0M121.0 162.5h0M110.0 64.6h0M220.8 173.3h0M115.8 80.4h0M119.0 44.4h0M218.0 134.9h0M93.8 61.9h0M148.0 81.5h0M116.0 73.5h0M127.0 69.9h0M122.6 38.0h0M203.7 107.4h0M208.1 205.3h0M105.9 72.8h0M160.2 92.7h0M221.9 114.8h0M120.2 84.0h0M127.0 82.6h0M102.5 -0.8h0M244.4 133.6h0M116.5 69.5h0M129.6 85.2h0"/><path d="M121.5 76.8h0M122.5 67.3h0M95.5 177.2h0M114.2 85.3h0M141.0 107.3h0M252.9 45.6h0M239.2 129.6h0M193.0 93.3h0M138.4 92.2h0M229.6 129.9h0M231.1 131.5h0M127.6 78.3h0M126.7 91.4h0M118.1 73.5h0M245.5 171.5h0M160.4 162.2h0M158.2 193.5h0M100.0 40.8h0M211.7 183.9h0M235.9 202.0h0M134.5 84.5h0M144.8 87.1h0M119.3 80.8h0M131.9 90.1h0M204.2 118.0h0M130.7 91.8h0M172.7 14.6h0M104.8 51.3h0M138.0 51.4h0M151.9 96.6h0M110.9 85.0h0M211.0 119.3h0M165.8 97.2h0M111.9 85.6h0M143.5 89.3h0M118.6 97.3h0M96.4 65.0h0M216.7 118.9h0M116.5 78.8h0M170.2 92.8h0M125.5 79.3h0M144.8 91.6h0M201.9 123.2h0M256.8 132.4h0M121.3 80.2h0M192.3 148.0h0M146.5 91.2h0M105.8 69.4h0M127.1 80.9h0M98.4 61.5h0M225.8 120.5h0M256.7 139.1h0M166.2 192.8h0M122.1 107.8h0M114.5 71.2h0M271.6 146.6h0M136.0 101.7h0M206.3 93.6h0M171.1 101.8h0M152.0 33.4h0M84.9 68.5h0M243.4 135.9h0M98.0 58.6h0M172.2 95.2h0M216.0 185.7h0M201.5 119.3h0M267.8 149.2h0M100.6 72.6h0M82.8 50.0h0M126.9 192.2h0M259.0 146.1h0M119.1 80.5h0M242.1 110.9h0M230.1 128.4h0M238.6 122.9h0M89.9 104.7h0M111.7 9.8h0M211.1 115.5h0M159.9 96.6h0M122.3 60.9h0M151.8 91.2h0M155.0 95.2h0M219.6 76.9h0M185.2 108.7h0M99.4 66.9h0M217.1 125.7h0M127.2 88.6h0M213.2 35.5h0M113.2 86.1h0M114.0 72.1h0M119.4 82.9h0M266.1 141.6h0M149.1 98.7h0M114.1 73.7h0M241.4 84.8h0M125.1 72.0h0M228.3 160.3h0M130.8 78.8h0M140.3 88.5h0M114.6 130.0h0M263.2 140.5h0M119.7 187.2h0M130.1 165.3h0M143.8 86.8h0M255.3 31.4h0M150.5 86.3h0M173.0 96.4h0M100.8 44.1h0M198.3 168.4h0M102.6 77.9h0M169.7 144.0h0M129.5 150.4h0M159.3 131.8h0M95.1 70.8h0M126.7 84.4h0M117.3 64.5h0M123.0 58.8h0M126.8 83.6h0M127.6 73.8h0M227.2 138.2h0M192.1 107.9h0M148.7 64.5h0M232.3 143.9h0M235.8 178.1h0M230.8 85.7h0M173.8 104.0h0M139.4 102.3h0M88.4 60.8h0M237.2 133.5h0M214.2 122.4h0M259.0 155.8h0M158.9 96.2h0M124.9 199.4h0M173.3 107.7h0M218.5 123.6h0M191.1 165.0h0M116.6 80.4h0M165.3 105.9h0M245.7 146.5h0M124.6 89.1h0M155.9 197.0h0M131.2 11.7h0M165.1 188.2h0M115.6 93.5h0M128.0 73.8h0M251.5 137.4h0M202.7 120.5h0M226.2 186.7h0M208.3 12.3h0M170.2 55.4h0M163.3 97.9h0M128.7 100.1h0M129.6 77.1h0M137.5 88.1h0M139.4 90.3h0M115.9 86.8h0M180.2 99.1h0M99.1 74.7h0M196.6 120.0h0M108.2 76.5h0M97.2 62.1h0M164.9 102.5h0M152.5 28.7h0M142.7 91.6h0M187.6 110.5h0M203.5 122.0h0M217.9 129.2h0M238.6 135.3h0M143.2 91.4h0M94.5 123.7h0M133.1 85.3h0M132.5 81.4h0M111.2 72.7h0M89.2 55.9h0M83.5 68.9h0M109.2 77.9h0M125.6 79.6h0"/><path d="M156.8 92.3h0M140.6 54.5h0M138.5 52.3h0M182.1 115.9h0M130.3 72.9h0M223.6 129.4h0M176.3 95.3h0M117.7 170.5h0M90.0 66.0h0M189.5 82.0h0M138.9 82.5h0M266.9 145.0h0M252.1 67.9h0M109.6 80.5h0M228.7 27.0h0M152.1 95.0h0M257.3 148.5h0M120.5 171.8h0M124.0 119.7h0M264.6 24.5h0M97.2 149.8h0M158.7 94.5h0M207.3 176.8h0M125.2 40.4h0M248.6 143.5h0M166.3 100.7h0M133.4 81.6h0M131.1 77.0h0M134.6 101.6h0M151.0 56.6h0M132.7 59.9h0M159.9 92.7h0M209.4 121.8h0M170.9 121.2h0M118.9 83.9h0M162.3 105.7h0M118.3 79.3h0M183.3 112.1h0M135.9 78.1h0M120.6 82.9h0M110.5 69.8h0M110.6 84.3h0M108.6 47.6h0M117.2 69.1h0M160.8 98.9h0M111.8 70.6h0M163.0 137.6h0M159.7 87.2h0M136.8 86.7h0M110.4 74.2h0M206.1 197.1h0M212.1 118.3h0M115.3 76.8h0M113.3 77.2h0M120.4 76.4h0M128.0 80.4h0M163.2 26.9h0M207.8 13.0h0M125.4 88.7h0M98.3 114.4h0M149.5 95.9h0M129.5 85.4h0M190.0 114.7h0M123.6 174.3h0M125.6 137.5h0M118.3 81.3h0M140.8 85.2h0M94.2 57.2h0M105.4 69.0h0M90.3 67.8h0M209.1 123.5h0M117.8 70.4h0M125.9 111.9h0M146.2 91.5h0M131.2 87.6h0M164.7 32.2h0M115.2 84.9h0M179.7 99.1h0M111.4 77.4h0M181.3 114.5h0M234.0 193.9h0M196.8 121.0h0M238.9 143.2h0M102.6 50.8h0M118.3 74.1h0M156.0 93.6h0M244.6 156.8h0M161.4 61.2h0M116.8 184.6h0M101.4 71.6h0M154.3 71.7h0M121.0 16.5h0M247.0 180.0h0M212.8 117.4h0M258.5 136.3h0M104.0 69.6h0M131.9 87.4h0M158.0 93.4h0M193.9 102.6h0M171.2 59.6h0M184.6 27.6h0M171.0 104.0h0M107.1 83.7h0M203.2 115.4h0M111.2 76.4h0M138.8 89.9h0M232.4 135.0h0M205.4 113.1h0M237.9 139.1h0M161.7 38.4h0M97.1 188.7h0M130.1 81.9h0M138.7 86.5h0M151.8 69.0h0M126.2 161.9h0M172.7 88.5h0M148.7 36.9h0M124.1 79.3h0M185.5 63.7h0M205.5 202.5h0M136.5 89.8h0M200.1 119.2h0M164.5 161.0h0M173.8 137.1h0M134.2 89.8h0M170.5 52.2h0M145.9 89.8h0M131.7 63.1h0M142.5 87.3h0M135.2 96.7h0M105.0 76.4h0M144.5 38.5h0M156.0 193.0h0M138.5 87.9h0M109.4 202.4h0M215.3 126.8h0M149.5 164.3h0M223.0 176.3h0M110.9 62.9h0M252.2 38.3h0M129.1 58.3h0M141.5 82.2h0M110.0 81.0h0M239.5 113.4h0M175.6 118.3h0M106.2 73.2h0M207.9 114.2h0M109.9 73.1h0M130.3 84.4h0M94.2 69.0h0M108.5 85.2h0M151.8 91.2h0M129.1 96.6h0M201.6 142.9h0M123.4 191.1h0M98.8 31.1h0M213.6 75.4h0M140.5 83.5h0M216.0 123.1h0M199.4 195.4h0M103.1 77.9h0M156.4 69.4h0M244.4 139.8h0M162.6 23.5h0M135.2 90.3h0M148.5 98.9h0M177.4 100.5h0M126.5 96.0h0M131.8 91.1h0M188.7 165.6h0M123.0 67.3h0M118.3 75.4h0M117.5 56.7h0M121.1 159.6h0M133.8 83.5h0M217.9 144.6h0M223.4 158.2h0"/><path d="M199.5 110.3h0M135.2 70.3h0M110.5 56.2h0M107.1 38.7h0M126.6 151.4h0M145.0 206.4h0M197.5 115.3h0M193.1 114.5h0M129.8 80.5h0M92.6 100.2h0M148.2 87.7h0M139.7 83.9h0M115.8 75.6h0M112.8 83.8h0M103.2 71.2h0M112.2 70.3h0M97.7 66.9h0M154.3 4.9h0M109.3 32.1h0M140.8 87.0h0M115.8 71.3h0M205.9 117.7h0M139.1 64.4h0M120.7 81.5h0M163.5 95.1h0M185.5 162.9h0M264.8 150.2h0M204.8 122.0h0M246.2 132.3h0M218.3 125.6h0M207.9 119.9h0M113.2 84.5h0M102.7 76.1h0M182.9 179.9h0M118.5 89.0h0M102.9 170.8h0M99.7 65.4h0M114.4 81.6h0M128.4 81.1h0M210.8 123.7h0M82.8 57.8h0M194.9 109.4h0M183.2 157.3h0M121.3 167.0h0M186.0 24.4h0M98.6 76.0h0M129.6 84.1h0M209.6 121.6h0M201.2 99.2h0M133.6 99.6h0M141.7 89.5h0M185.2 101.2h0M126.0 83.0h0M126.6 55.0h0M108.2 78.3h0M118.7 81.6h0M232.5 182.4h0M115.1 172.2h0M99.2 31.9h0M177.0 93.9h0M115.2 74.8h0M137.6 82.0h0M121.2 83.3h0M162.9 101.4h0M176.6 114.3h0M161.3 108.2h0M159.5 195.9h0M224.5 75.5h0M134.9 148.7h0M125.9 191.3h0M116.5 92.9h0M130.2 145.6h0M124.7 120.9h0M258.4 125.4h0M109.1 74.0h0M259.7 103.9h0M115.3 80.4h0M200.0 117.9h0M125.2 7.9h0M105.9 73.6h0M100.7 69.7h0M101.8 135.4h0M207.4 117.6h0M202.2 22.8h0M181.6 106.9h0M180.5 108.9h0M123.2 81.4h0M92.3 67.0h0M109.7 71.3h0M149.7 92.5h0M123.8 31.0h0M127.4 209.0h0M269.9 150.5h0M215.6 192.2h0M168.4 102.3h0M129.4 95.4h0M152.4 26.8h0M113.0 105.7h0M143.0 171.1h0M124.5 177.5h0M134.2 169.4h0M118.3 74.8h0M121.9 71.6h0M210.2 124.9h0M84.5 59.7h0M240.7 19.6h0M228.9 126.3h0M117.7 71.9h0M132.5 102.3h0M107.6 77.3h0M87.8 66.6h0M189.8 177.8h0M111.0 75.2h0M153.6 99.2h0M128.3 80.9h0M134.1 55.8h0M101.1 45.3h0M136.3 82.7h0M98.0 197.5h0M212.9 115.1h0M129.8 62.9h0M129.4 79.0h0M117.9 57.3h0M141.9 91.7h0M128.6 89.4h0M188.9 108.1h0M108.8 13.1h0M219.7 119.1h0M131.8 130.8h0M136.3 77.2h0M214.3 117.3h0M138.4 82.4h0M191.6 44.2h0M117.2 66.1h0M106.9 72.7h0M104.6 73.2h0M123.7 84.9h0M244.1 135.3h0M118.3 179.8h0M137.8 84.7h0M150.6 19.5h0M94.2 51.2h0M178.4 197.4h0M119.7 75.0h0M97.1 60.4h0M186.7 108.7h0M107.5 94.0h0M114.7 70.4h0M118.2 78.5h0M229.5 120.8h0M234.0 135.7h0M210.5 122.6h0M150.4 61.8h0M258.2 104.3h0M122.6 83.5h0M108.3 64.4h0M159.1 62.8h0M105.7 65.9h0M252.9 141.7h0M116.2 80.7h0M118.9 79.7h0M115.3 15.0h0M114.1 177.8h0M133.9 85.1h0M163.0 99.3h0M133.8 91.8h0M122.7 89.7h0M167.7 112.5h0M129.6 56.4h0M139.6 84.7h0M133.8 90.3h0M117.1 154.8h0M198.2 125.4h0M104.2 57.6h0M254.8 140.5h0M118.7 76.6h0M165.6 118.6h0"/><path d="M228.9 189.4h0M113.4 75.9h0M123.9 81.9h0M204.4 134.3h0M133.0 87.0h0M114.9 71.9h0M149.2 98.7h0M96.5 67.6h0M131.2 76.8h0M119.8 79.0h0M101.6 69.9h0M128.6 87.5h0M153.5 126.5h0M215.4 124.7h0M196.3 132.3h0M266.1 142.5h0M224.5 131.7h0M100.7 66.7h0M123.0 143.2h0M140.3 91.3h0M105.8 64.3h0M163.7 66.8h0M134.9 77.6h0M150.9 99.8h0M247.2 137.2h0M118.3 90.2h0M114.7 78.1h0M113.6 179.7h0M188.2 108.8h0M239.8 125.9h0M116.5 81.2h0M107.0 127.2h0M180.2 148.9h0M195.9 106.2h0M179.5 90.2h0M154.7 26.3h0M116.1 71.7h0M211.1 124.3h0M168.8 198.5h0M118.5 69.3h0M179.2 113.3h0M114.9 76.6h0M140.5 87.9h0M124.4 85.8h0M191.0 114.9h0M133.2 69.1h0M106.9 74.1h0M122.9 78.9h0M109.8 67.6h0M167.7 91.0h0M112.9 78.1h0M116.5 94.4h0M123.6 64.8h0M110.2 67.7h0M174.2 182.0h0M207.5 203.4h0M65.8 54.0h0M161.9 136.7h0M117.3 75.6h0M110.0 75.6h0M146.2 95.2h0M147.1 32.9h0M219.1 124.1h0M145.9 85.7h0M111.4 13.6h0M140.7 84.8h0M122.3 98.3h0M163.6 102.4h0M243.3 26.8h0M246.9 205.5h0M186.9 204.5h0M118.9 34.2h0M221.6 22.3h0M258.6 140.9h0M225.2 203.9h0M187.6 74.4h0M113.7 71.3h0M232.4 39.8h0M194.1 110.3h0M132.3 63.6h0M185.7 110.5h0M114.6 85.3h0M154.1 83.9h0M194.1 6.5h0M140.0 113.0h0M132.2 88.3h0M138.8 66.8h0M128.9 81.3h0M187.6 88.3h0M129.1 86.6h0M224.9 129.1h0M244.0 66.3h0M175.1 200.1h0M98.6 34.9h0M132.1 78.8h0M129.4 89.0h0M107.6 79.7h0M254.8 133.8h0M116.6 82.6h0M130.4 93.1h0M151.3 91.7h0M126.5 61.2h0M150.6 92.0h0M257.5 139.6h0M261.0 145.5h0M122.9 63.7h0M117.3 84.9h0M122.5 89.2h0M236.3 132.8h0M122.7 62.4h0M125.3 38.1h0M123.2 79.9h0M128.0 84.6h0M141.4 81.4h0M163.9 106.4h0M247.1 191.1h0M252.5 95.9h0M109.8 63.1h0M108.0 74.8h0M160.5 45.2h0M144.0 76.5h0M93.8 17.2h0M155.8 96.8h0M157.4 99.6h0M131.6 46.1h0M130.4 89.4h0M156.8 96.9h0M125.2 14.0h0M164.3 98.6h0M117.6 84.9h0M172.7 99.2h0M140.2 86.1h0M105.2 69.2h0M233.3 139.9h0M132.7 82.7h0M123.7 82.0h0M128.3 74.9h0M156.4 98.9h0M82.7 63.2h0M122.9 86.0h0M106.9 74.3h0M211.0 77.0h0M166.1 100.3h0M225.3 128.5h0M122.8 119.1h0M135.5 84.6h0M189.7 112.9h0M136.5 82.3h0M133.8 85.0h0M120.5 73.2h0M226.5 94.9h0M187.8 107.0h0M120.5 88.9h0M161.1 94.6h0M251.5 146.5h0M221.3 169.1h0M123.4 60.4h0M131.9 78.1h0M118.5 186.2h0M191.6 109.0h0M222.2 117.3h0M264.6 135.1h0M195.7 101.1h0M273.8 138.1h0M145.8 93.9h0M147.6 82.5h0M208.5 133.1h0M138.4 92.9h0M252.7 146.7h0M103.7 77.3h0M121.4 178.4h0M83.5 59.7h0M244.1 131.8h0M136.0 87.1h0M123.2 19.2h0M152.6 52.0h0M148.3 101.4h0"/><path d="M120.4 139.4h0M206.8 51.8h0M159.3 92.5h0M95.4 28.9h0M138.4 87.5h0M92.1 70.8h0M121.8 61.0h0M112.5 195.6h0M114.1 79.7h0M107.8 112.2h0M100.6 69.4h0M136.3 94.5h0M145.0 99.0h0M101.4 64.2h0M240.9 127.1h0M102.2 99.0h0M117.8 85.4h0M159.7 107.4h0M209.5 116.4h0M172.7 124.3h0M97.2 67.7h0M145.6 78.9h0M135.0 93.5h0M164.6 68.8h0M123.6 78.9h0M114.1 172.7h0M116.4 14.1h0M234.0 163.9h0M205.9 121.3h0M179.3 99.6h0M156.8 94.2h0M191.3 104.6h0M113.0 90.5h0M177.1 100.7h0M123.4 80.8h0M175.4 55.2h0M127.3 106.3h0M252.2 142.6h0M108.9 69.0h0M125.9 76.9h0M97.4 67.5h0M169.3 93.2h0M251.2 60.2h0M138.3 23.2h0M88.3 94.7h0M201.5 115.8h0M108.8 76.9h0M154.0 92.4h0M154.1 81.8h0M236.8 133.7h0M98.1 14.5h0M236.9 132.6h0M113.3 72.3h0M175.8 100.9h0M131.8 93.9h0M126.2 80.8h0M111.4 86.9h0M141.8 90.0h0M138.4 16.6h0M120.2 77.4h0M144.2 91.8h0M198.1 138.4h0M84.3 63.8h0M126.8 75.6h0M174.2 23.5h0M233.3 126.6h0M96.1 73.3h0M145.2 75.0h0M105.4 85.6h0M243.5 132.6h0M117.0 133.9h0M119.0 80.7h0M163.8 108.1h0M111.0 80.1h0M174.7 83.5h0M160.8 98.6h0M122.3 103.3h0M232.8 129.4h0M133.8 59.2h0M268.6 145.0h0M257.7 143.8h0M153.7 160.1h0M215.0 120.9h0M185.2 43.4h0M263.7 147.3h0M101.8 75.5h0M122.6 75.9h0M217.0 144.8h0M179.3 24.4h0M192.6 112.3h0M123.9 75.9h0M193.0 114.6h0M162.3 189.3h0M156.6 104.1h0M142.0 90.8h0M164.9 82.2h0M242.8 136.1h0M232.3 133.2h0M153.0 121.9h0M88.2 63.4h0M201.7 114.0h0M237.8 139.0h0M128.5 85.8h0M153.0 92.5h0M130.0 82.8h0M140.5 99.2h0M114.4 178.5h0M213.1 124.5h0M137.0 4.0h0M141.6 93.2h0M90.0 67.6h0M219.0 128.7h0M126.4 87.4h0M90.4 66.2h0M151.4 101.4h0M165.3 2.4h0M138.8 81.4h0M96.5 68.8h0M246.0 55.2h0M115.6 189.2h0M148.3 94.1h0M254.2 142.7h0M109.0 85.8h0M111.1 89.0h0M122.8 76.0h0M213.5 166.1h0M126.2 80.6h0M118.9 86.5h0M142.5 105.8h0M187.7 162.1h0M180.0 102.8h0M180.5 148.0h0M202.7 19.3h0M76.4 41.6h0M96.7 61.6h0M155.1 94.7h0M224.5 134.1h0M142.2 92.0h0M135.0 81.6h0M124.2 93.7h0M137.2 81.5h0M138.4 77.9h0M120.3 89.0h0M222.0 21.2h0M188.9 73.7h0M111.6 71.6h0M139.2 85.0h0M160.8 104.8h0M177.8 104.6h0M224.8 126.4h0M230.4 12.2h0M126.9 88.5h0M96.1 76.2h0M215.8 128.6h0M116.8 75.6h0M186.8 109.3h0M224.5 86.4h0M165.0 63.6h0M112.5 77.6h0M111.2 72.9h0M119.1 62.9h0M163.5 125.2h0M99.5 70.3h0M88.1 70.8h0M143.4 94.7h0M113.7 71.8h0M206.0 93.6h0M155.0 131.1h0M209.4 89.7h0M209.4 119.9h0M205.0 115.8h0M231.5 15.6h0M195.1 114.9h0M143.9 89.7h0M236.6 98.1h0M187.1 92.8h0M110.4 91.6h0"/><path d="M144.3 139.7h0M155.9 95.6h0M228.8 126.4h0M218.9 132.1h0M196.2 113.1h0M123.6 85.7h0M111.4 84.9h0M171.6 86.0h0M191.7 103.8h0M132.8 87.4h0M118.9 177.8h0M110.3 73.6h0M141.6 92.9h0M133.2 83.4h0M165.1 1.2h0M128.1 68.9h0M115.4 80.5h0M140.0 90.0h0M130.6 86.9h0M204.0 100.7h0M108.0 68.3h0M179.0 133.1h0M175.0 107.2h0M195.1 104.0h0M240.4 115.8h0M172.2 84.9h0M126.4 78.9h0M236.3 124.4h0M181.5 100.5h0M144.6 95.4h0M152.4 101.0h0M122.2 83.8h0M95.3 172.1h0M136.9 72.3h0M135.7 73.5h0M124.5 186.2h0M168.2 47.3h0M235.7 131.3h0M76.1 60.6h0M118.8 79.9h0M87.7 66.3h0M258.8 146.7h0M162.1 98.6h0M93.6 190.8h0M132.9 81.7h0M104.1 72.2h0M240.5 105.6h0M122.3 78.4h0M233.8 119.2h0M147.7 94.3h0M116.4 76.4h0M115.4 73.6h0M150.9 172.7h0M120.4 82.1h0M186.9 103.3h0M130.6 49.4h0M167.7 105.8h0M173.8 122.0h0M132.0 77.3h0M214.9 70.8h0M125.3 75.3h0M123.0 65.8h0M120.9 89.9h0M100.7 71.7h0M262.8 141.0h0M141.2 95.2h0M207.8 125.3h0M177.5 54.0h0M191.3 117.5h0M224.6 119.5h0M120.8 76.0h0M133.1 85.7h0M129.6 94.5h0M188.9 96.5h0M137.6 85.1h0M142.1 98.4h0M200.0 119.2h0M136.0 83.9h0M128.7 86.9h0M144.8 93.3h0M225.8 142.2h0M208.4 125.2h0M104.6 9.1h0M175.0 103.3h0M104.3 69.7h0M113.4 73.8h0M135.7 86.7h0M116.0 57.1h0M111.6 78.9h0M111.6 75.6h0M95.3 64.8h0M200.6 112.1h0M100.7 73.1h0M113.4 77.2h0M136.4 87.4h0M146.9 101.5h0M136.8 37.3h0M124.9 97.7h0M97.7 63.0h0M260.7 200.0h0M200.3 198.8h0M128.8 72.5h0M127.2 85.8h0M240.0 130.6h0M132.8 202.6h0M249.9 145.5h0M118.4 75.9h0M191.6 119.0h0M124.3 68.2h0M115.1 75.0h0M116.7 70.1h0M125.0 82.9h0M237.0 127.3h0M180.0 102.9h0M110.3 88.4h0M138.0 62.3h0M148.6 90.5h0M103.7 3.6h0M117.7 76.3h0M128.4 83.2h0M120.5 81.4h0M141.9 85.4h0M155.2 95.8h0M161.6 95.4h0M139.5 87.7h0M212.8 124.0h0M136.3 91.1h0M255.4 136.9h0M124.0 81.6h0M224.3 130.3h0M110.2 73.8h0M121.0 75.0h0M132.9 83.9h0M256.1 139.7h0M114.6 74.7h0M124.9 77.7h0M208.0 52.2h0M202.6 113.3h0M137.0 122.5h0M180.2 99.7h0M206.3 113.8h0M263.5 131.9h0M159.9 98.5h0M152.4 95.4h0M89.7 136.8h0M100.6 81.5h0M118.9 83.1h0M180.4 100.0h0M267.4 35.3h0M187.3 107.6h0M259.7 126.9h0M248.5 136.3h0M142.3 87.1h0M224.0 131.4h0M149.0 101.2h0M147.7 91.0h0M122.7 70.2h0M130.7 76.0h0M215.0 127.3h0M124.6 74.2h0M151.5 106.1h0M147.6 94.6h0M122.6 81.6h0M197.9 107.3h0M124.1 79.8h0M138.5 87.8h0M119.4 86.5h0M108.6 87.7h0M196.4 115.5h0M248.1 129.2h0M241.0 140.3h0M194.3 126.5h0M195.4 119.6h0M206.4 115.0h0M158.3 121.2h0M110.5 77.1h0M127.3 82.2h0"/><path d="M108.4 58.9h0M187.7 102.1h0M185.9 110.6h0M247.4 131.6h0M244.1 151.6h0M88.7 64.3h0M241.6 180.0h0M152.3 2.3h0M153.8 56.0h0M170.1 104.0h0M99.7 60.8h0M97.2 66.7h0M123.4 43.1h0M117.7 69.7h0M136.1 127.6h0M115.4 1.8h0M183.4 165.0h0M141.8 82.6h0M119.6 129.7h0M211.8 126.6h0M152.3 97.7h0M125.9 55.7h0M120.0 157.3h0M81.9 67.9h0M106.5 74.1h0M172.0 108.3h0M104.4 76.0h0M108.1 64.9h0M113.9 66.0h0M149.3 181.7h0M196.9 112.8h0M123.1 50.4h0M118.7 74.5h0M136.3 75.1h0M172.3 96.1h0M219.7 133.6h0M140.4 96.5h0M197.5 118.1h0M102.7 79.0h0M214.1 126.4h0M123.4 84.2h0M114.5 73.2h0M123.6 84.6h0M106.1 81.8h0M221.0 158.3h0M156.1 86.7h0M110.0 82.2h0M140.4 83.1h0M130.0 82.3h0M138.5 92.8h0M125.1 78.9h0M163.3 73.0h0M119.9 81.6h0M116.9 78.5h0M137.2 89.3h0M185.0 35.1h0M100.8 70.5h0M110.4 74.2h0M119.6 48.5h0M140.5 59.4h0M215.4 125.3h0M192.1 162.5h0M214.6 116.3h0M252.2 145.0h0M163.5 140.4h0M195.6 115.6h0M167.9 25.4h0M165.3 90.0h0M141.9 100.7h0M153.8 197.9h0M168.7 204.4h0M95.7 67.5h0M176.1 98.3h0M252.2 56.1h0M127.9 78.7h0M146.1 128.7h0M185.0 111.3h0M122.4 83.2h0M197.7 120.7h0M131.5 78.9h0M115.1 82.8h0M122.7 47.8h0M229.8 129.4h0M123.5 79.6h0M245.3 134.9h0M122.7 44.2h0M131.4 90.9h0M120.0 194.6h0M137.3 81.4h0M138.4 72.4h0M114.4 83.1h0M214.1 112.2h0M126.7 84.7h0M101.8 128.9h0M170.0 100.4h0M79.7 57.5h0M117.3 79.1h0M244.2 122.7h0M144.4 89.8h0M134.7 89.1h0M198.0 117.1h0M253.8 140.6h0M143.4 86.5h0M170.0 107.7h0M146.0 56.3h0M137.6 89.1h0M168.7 32.2h0M158.5 99.2h0M117.8 81.7h0M186.9 97.7h0M113.4 82.0h0M226.7 126.5h0M152.9 84.3h0M101.9 67.9h0M229.2 127.2h0M121.9 111.3h0M226.3 136.3h0M167.8 86.5h0M97.3 68.8h0M120.4 187.6h0M127.0 83.6h0M260.8 153.2h0M188.8 177.0h0M252.0 136.9h0M133.5 107.0h0M117.5 70.8h0M124.1 77.6h0M131.9 85.9h0M137.5 93.2h0M137.5 85.7h0M117.5 79.6h0M248.2 203.7h0M222.0 127.8h0M154.3 94.6h0M186.3 107.9h0M171.0 93.5h0M120.3 77.9h0M120.3 78.7h0M189.1 97.8h0M214.9 125.4h0M119.6 39.8h0M132.1 85.9h0M130.4 94.4h0M120.9 9.0h0M180.8 102.5h0M105.9 75.5h0M187.2 109.4h0M113.0 77.3h0M98.8 43.1h0M157.1 86.5h0M87.4 54.3h0M128.9 92.2h0M269.2 129.3h0M185.7 103.3h0M94.7 43.3h0M168.2 104.3h0M162.0 97.1h0M131.6 13.3h0M115.7 151.7h0M117.1 109.3h0M181.8 99.0h0M127.4 80.3h0M137.3 144.4h0M121.8 66.9h0M124.2 171.7h0M253.8 51.4h0M104.1 64.4h0M115.1 108.7h0M206.0 113.9h0M105.6 87.7h0M243.6 138.8h0M131.1 41.6h0M141.2 91.9h0M187.1 80.9h0M142.0 87.8h0M107.5 62.3h0M143.1 36.3h0"/><path d="M141.3 86.3h0M128.5 81.1h0M179.9 209.0h0M218.4 31.7h0M142.2 89.3h0M106.7 75.9h0M250.5 140.5h0M89.5 69.8h0M200.4 113.2h0M188.8 119.4h0M235.3 131.8h0M140.7 147.6h0M121.8 75.4h0M127.9 75.1h0M143.5 94.6h0M262.8 144.7h0M122.4 85.4h0M160.4 89.6h0M128.9 199.3h0M128.4 80.7h0M230.8 129.1h0M106.6 75.9h0M172.7 103.1h0M109.1 77.1h0M134.7 86.8h0M138.4 85.1h0M178.0 108.6h0M115.2 76.8h0M119.0 186.9h0M98.9 77.4h0M207.8 152.1h0M116.5 82.1h0M187.2 105.6h0M101.7 64.1h0M123.2 190.8h0M225.4 173.6h0M132.7 86.6h0M133.7 83.6h0M129.8 79.7h0M124.0 60.8h0M132.7 87.4h0M72.7 81.2h0M237.2 134.1h0M193.5 60.8h0M162.6 100.5h0M214.2 70.0h0M113.4 79.0h0M143.9 1.3h0M150.3 90.2h0M143.4 87.2h0M116.2 74.3h0M78.6 50.4h0M120.5 76.7h0M124.2 63.2h0M116.9 88.0h0M113.8 70.5h0M185.2 130.5h0M130.5 80.6h0M213.6 125.4h0M95.9 62.5h0M94.8 58.2h0M249.7 139.5h0M92.7 70.7h0M118.6 74.4h0M163.7 102.7h0M117.8 74.0h0M144.7 91.1h0M137.3 93.7h0M140.4 164.7h0M166.4 97.3h0M118.5 132.3h0M138.5 186.5h0M114.8 77.8h0M120.5 74.6h0M121.3 83.6h0M129.2 67.3h0M148.0 97.1h0M208.7 120.2h0M163.5 98.9h0M130.1 68.7h0M245.8 151.9h0M254.4 140.6h0M92.0 63.9h0M143.3 78.7h0M113.0 163.6h0M111.5 72.1h0M104.9 69.0h0M108.0 79.0h0M90.3 65.0h0M140.0 71.3h0M152.6 65.3h0M135.1 98.3h0M101.5 82.0h0M117.1 75.2h0M132.4 83.5h0M137.8 82.4h0M172.7 176.1h0M130.9 86.6h0M118.8 58.8h0M154.5 93.8h0M176.4 107.0h0M158.2 6.0h0M225.5 124.3h0M127.0 80.1h0M135.3 180.2h0M115.7 60.7h0M181.5 100.2h0M154.6 91.8h0M262.9 144.0h0M246.2 136.4h0M104.9 71.6h0M121.1 68.9h0M83.4 186.2h0M187.2 54.0h0M114.5 84.3h0M98.8 54.3h0M117.5 82.2h0M84.8 63.3h0M248.4 183.3h0M188.1 117.4h0M121.3 198.0h0M121.3 78.0h0M106.2 179.2h0M133.4 96.8h0M230.7 111.4h0M129.6 84.5h0M124.6 81.6h0M112.0 197.9h0M131.5 92.5h0M133.2 86.4h0M122.6 87.1h0M204.4 178.2h0M130.4 81.6h0M107.7 66.5h0M93.4 68.9h0M275.0 154.8h0M173.8 100.3h0M206.2 100.4h0M120.5 91.9h0M179.0 104.7h0M87.8 67.6h0M257.1 72.0h0M192.8 173.8h0M114.8 63.4h0M192.1 17.7h0M128.9 86.3h0M122.6 78.0h0M131.1 90.5h0M183.7 110.7h0M158.3 93.4h0M110.2 32.6h0M96.0 139.8h0M139.8 91.7h0M209.1 126.6h0M180.2 97.3h0M258.0 157.1h0M116.9 64.3h0M131.9 84.6h0M237.3 58.6h0M117.7 88.5h0M115.1 147.8h0M160.0 98.3h0M141.4 75.6h0M206.5 113.6h0M140.3 27.2h0M159.7 99.6h0M128.2 80.7h0M200.9 120.5h0M131.2 88.3h0M155.5 86.7h0M249.6 72.5h0M241.9 133.6h0M117.5 76.9h0M180.4 73.7h0M247.4 121.9h0M137.1 82.0h0"/><path d="M188.7 84.9h0M178.7 38.5h0M118.7 83.6h0M179.0 106.1h0M123.9 104.6h0M115.1 63.0h0M238.2 181.2h0M143.2 98.1h0M238.8 122.1h0M144.8 43.7h0M163.4 93.6h0M144.8 90.4h0M227.3 129.0h0M201.7 130.4h0M248.4 137.4h0M96.9 78.4h0M152.5 91.2h0M201.0 46.7h0M252.9 139.7h0M204.7 114.4h0M213.3 124.9h0M262.2 165.2h0M225.6 119.1h0M116.6 169.4h0M116.8 87.5h0M174.3 100.6h0M133.9 85.6h0M171.2 120.6h0M118.3 78.0h0M238.5 125.0h0M116.5 78.7h0M136.2 80.4h0M101.9 67.0h0M224.8 128.0h0M131.4 81.4h0M256.1 132.3h0M131.1 77.4h0M122.4 79.4h0M151.4 48.6h0M256.2 143.5h0M162.3 65.9h0M191.2 110.4h0M139.3 52.6h0M142.2 90.3h0M149.7 97.6h0M128.6 42.6h0M267.0 134.7h0M200.8 123.7h0M247.3 123.9h0M238.2 98.2h0M216.4 130.7h0M88.4 60.5h0M155.5 95.6h0M141.6 96.6h0M164.7 86.5h0M126.0 204.0h0M147.2 87.6h0M103.1 125.3h0M114.4 84.4h0M117.2 81.0h0M169.6 153.4h0M248.0 139.9h0M145.7 93.6h0M138.5 80.8h0M188.8 178.9h0M237.3 137.6h0M101.2 75.8h0M94.1 75.7h0M153.1 -0.1h0M177.1 95.8h0M112.7 62.7h0M239.1 133.6h0M250.0 71.5h0M170.2 95.3h0M135.2 87.4h0M203.2 127.6h0M155.7 98.2h0M116.0 9.0h0M148.7 82.0h0M136.2 87.9h0M206.2 132.8h0M151.1 31.6h0M263.7 130.6h0M150.4 90.2h0M237.2 135.5h0M236.7 136.6h0M137.7 86.4h0M99.9 68.2h0M124.8 79.9h0M183.9 121.7h0M266.8 182.0h0M115.3 162.4h0M100.3 67.6h0M229.2 136.9h0M153.5 95.6h0M157.5 115.3h0M141.9 88.0h0M260.5 188.3h0M116.4 71.9h0M121.2 74.9h0M97.9 69.8h0M111.0 60.1h0M258.0 139.4h0M154.5 103.6h0M116.8 80.8h0M134.1 137.8h0M137.8 88.1h0M123.5 83.4h0M150.6 83.2h0M114.5 80.2h0M241.8 130.2h0M133.2 87.4h0M221.0 131.1h0M166.5 49.2h0M229.5 127.4h0M141.2 90.7h0M228.5 25.2h0M154.9 89.2h0M117.7 61.1h0M101.6 125.6h0M255.8 132.7h0M209.1 192.7h0M142.4 100.3h0M121.4 78.8h0M109.8 79.2h0M97.9 74.7h0M132.2 69.8h0M138.0 71.1h0M124.4 59.5h0M163.2 99.4h0M136.3 89.2h0M99.3 75.8h0M139.7 86.6h0M157.7 99.7h0M143.5 96.1h0M260.7 123.0h0M96.1 66.4h0M236.3 170.3h0M228.5 125.4h0M161.3 101.2h0M154.0 166.4h0M127.2 80.4h0M104.1 70.4h0M129.5 88.0h0M174.5 40.9h0M138.3 89.4h0M141.8 15.3h0M114.2 73.0h0M223.3 122.8h0M122.1 75.3h0M123.3 126.9h0M194.0 120.9h0M131.9 46.5h0M104.0 78.0h0M135.7 84.3h0M138.7 86.9h0M244.4 151.0h0M230.2 132.1h0M155.8 97.3h0M203.9 30.6h0M145.8 91.0h0M209.4 -0.5h0M262.2 39.1h0M191.0 113.1h0M251.3 132.6h0M119.8 71.0h0M212.1 45.3h0M145.1 82.5h0M251.9 142.4h0M215.7 126.4h0M141.4 87.4h0M135.1 83.6h0M113.7 114.3h0M136.9 34.1h0M209.7 118.3h0M205.9 118.5h0"/><path d="M164.7 68.7h0M184.2 140.7h0M168.2 116.6h0M197.7 107.8h0M129.0 90.0h0M114.6 76.2h0M101.1 77.0h0M168.2 107.6h0M128.9 67.3h0M206.9 132.8h0M220.9 122.7h0M198.7 111.4h0M131.7 81.7h0M172.3 84.3h0M123.9 73.4h0M190.3 64.6h0M95.8 37.3h0M145.2 77.2h0M116.8 68.5h0M148.3 95.4h0M114.2 73.8h0M135.0 90.1h0M97.6 145.1h0M261.8 138.0h0M147.5 89.9h0M153.0 69.4h0M118.7 156.1h0M155.3 98.4h0M121.1 136.1h0M123.2 74.3h0M174.0 107.6h0M142.6 82.0h0M177.2 18.4h0M127.4 90.2h0M148.6 44.8h0M239.4 134.5h0M251.9 162.2h0M122.4 66.4h0M166.1 95.5h0M264.3 132.5h0M113.0 82.7h0M110.9 79.4h0M142.7 74.0h0M173.1 97.9h0M185.8 96.4h0M142.6 79.6h0M221.3 124.5h0M212.5 100.7h0M259.5 91.2h0M150.5 94.2h0M85.1 62.0h0M171.6 105.7h0M116.5 81.3h0M125.0 85.7h0M124.7 97.2h0M118.7 75.0h0M129.9 96.0h0M103.4 68.6h0M205.6 6.0h0M127.9 95.4h0M232.6 75.3h0M109.6 74.7h0M108.4 73.7h0M114.3 33.0h0M151.4 101.8h0M116.7 72.1h0M134.2 84.0h0M204.2 117.3h0M211.7 131.4h0M173.3 108.9h0M265.3 146.0h0M246.7 129.3h0M126.2 29.9h0M182.6 97.8h0M185.8 112.9h0M146.9 33.1h0M96.8 72.6h0M165.1 97.9h0M120.9 192.7h0M138.1 14.0h0M127.2 183.4h0M130.3 69.1h0M124.5 121.9h0M236.1 126.3h0M148.6 100.0h0M166.7 92.6h0M127.4 84.3h0M205.0 18.2h0M120.3 186.9h0M193.6 200.5h0M161.0 59.5h0M148.7 95.8h0M127.3 88.7h0M146.3 89.7h0M123.5 90.3h0M111.4 90.7h0M114.3 52.7h0M198.8 78.6h0M119.1 83.3h0M122.3 33.7h0M258.6 42.7h0M176.2 103.4h0M120.7 79.8h0M135.1 89.3h0M111.7 74.2h0M179.6 100.5h0M123.9 68.6h0M169.2 101.5h0M109.3 73.1h0M116.7 155.5h0M109.6 128.7h0M126.7 72.8h0M78.2 58.8h0M96.8 95.5h0M137.3 94.5h0M136.2 85.0h0M95.4 54.3h0M116.8 72.7h0M250.9 147.9h0M133.0 44.3h0M217.1 153.6h0M138.7 93.9h0M146.7 43.0h0M125.0 91.2h0M128.9 93.1h0M235.8 139.4h0M193.9 118.0h0M128.9 87.9h0M180.1 107.9h0M252.8 149.0h0M108.6 75.2h0M170.8 99.9h0M175.5 100.1h0M103.2 70.4h0M259.2 129.8h0M130.2 36.1h0M105.1 97.2h0M127.3 86.1h0M110.7 79.1h0M121.3 76.9h0M118.4 79.5h0M148.8 36.4h0M111.7 77.0h0M172.5 113.3h0M120.3 126.8h0M116.2 145.9h0M158.1 89.7h0M156.7 137.1h0M118.4 105.1h0M207.1 117.5h0M240.3 131.0h0M207.1 113.8h0M119.3 76.8h0M195.9 118.2h0M260.3 139.8h0M146.3 165.3h0M126.9 78.1h0M101.6 145.9h0M92.2 60.1h0M226.8 132.5h0M131.0 82.9h0M94.4 71.6h0M225.0 124.1h0M164.6 89.8h0M156.5 92.9h0M196.3 79.2h0M257.2 156.7h0M205.8 115.8h0M99.8 73.2h0M222.5 126.9h0M223.4 135.4h0M110.2 72.7h0M178.0 89.8h0M250.4 141.4h0M115.7 77.5h0M128.5 77.9h0"/><path d="M128.3 92.3h0M181.0 176.2h0M108.2 77.4h0M178.3 88.0h0M255.0 139.9h0M233.8 131.8h0M143.5 92.4h0M214.5 122.7h0M135.0 92.3h0M107.4 61.8h0M200.4 113.9h0M165.7 96.5h0M233.8 134.2h0M108.6 72.5h0M106.3 73.5h0M113.7 79.7h0M110.3 63.3h0M158.1 91.3h0M147.2 82.2h0M155.7 67.5h0M131.7 81.3h0M136.4 80.0h0M117.4 62.0h0M216.6 122.1h0M250.3 134.9h0M189.0 110.4h0M190.7 73.3h0M247.6 132.1h0M185.2 183.4h0M107.4 37.9h0M174.9 107.5h0M207.0 194.0h0M191.0 193.9h0M231.3 136.1h0M126.7 77.4h0M148.8 83.2h0M121.7 47.0h0M103.7 72.7h0M170.9 106.8h0M101.0 78.4h0M219.2 122.6h0M120.5 70.0h0M141.6 82.2h0M243.8 137.1h0M265.9 146.9h0M128.9 84.9h0M130.0 85.1h0M230.9 128.0h0M108.1 68.7h0M136.7 14.6h0M99.7 59.6h0M201.1 116.2h0M223.5 122.4h0M119.4 61.7h0M268.0 163.8h0M235.7 126.8h0M181.8 108.8h0M101.5 154.6h0M123.7 70.3h0M260.1 144.6h0M183.8 102.8h0M111.0 46.4h0M136.3 86.8h0M197.8 109.1h0M174.3 92.7h0M148.5 73.4h0M125.9 146.8h0M157.6 67.2h0M173.0 150.1h0M128.9 86.3h0M187.9 111.3h0M163.7 107.0h0M116.2 81.5h0M240.8 141.5h0M177.1 93.4h0M157.7 86.4h0M108.6 85.0h0M137.1 89.4h0M209.4 128.7h0M137.4 71.0h0M145.5 91.6h0M165.3 0.7h0M164.5 83.1h0M112.8 57.2h0M115.6 69.9h0M88.4 71.9h0M139.0 77.1h0M141.1 37.4h0M131.8 87.6h0M139.7 6.7h0M155.4 26.8h0M162.8 155.2h0M195.3 102.8h0M131.3 86.8h0M120.4 82.4h0M112.5 69.5h0M134.3 86.4h0M117.2 72.9h0M146.7 15.2h0M211.5 121.0h0M220.2 110.2h0M125.2 83.9h0M200.7 -0.9h0M249.5 131.4h0M256.2 137.6h0M194.4 122.7h0M190.8 189.2h0M109.4 75.7h0M258.1 139.3h0M190.0 115.0h0M106.9 73.7h0M152.1 92.1h0M156.5 66.8h0M152.6 82.0h0M206.3 123.4h0M122.4 81.1h0M121.9 83.3h0M137.2 74.6h0M248.8 120.5h0M140.3 89.2h0M106.3 75.1h0M164.6 110.7h0M235.2 126.2h0M107.2 71.5h0M233.6 119.6h0M214.9 130.0h0M127.0 61.6h0M120.2 87.3h0M110.9 48.3h0M236.1 130.7h0M127.4 82.4h0M124.3 82.2h0M201.8 121.8h0M89.9 79.6h0M115.2 47.6h0M147.5 10.5h0M130.9 85.3h0M205.1 123.7h0M184.2 141.3h0M121.7 85.5h0M150.1 89.4h0M139.6 91.8h0M103.6 78.9h0M125.8 38.9h0M135.6 171.0h0M121.0 180.6h0M260.0 137.2h0M114.0 77.5h0M126.4 176.5h0M120.6 84.5h0M247.0 41.9h0M117.9 70.1h0M154.9 92.2h0M218.4 118.2h0M134.0 70.8h0M235.6 137.3h0M208.3 64.3h0M248.5 139.0h0M149.8 139.6h0M244.4 144.6h0M236.7 132.0h0M98.3 61.6h0M182.4 102.5h0M105.3 71.0h0M108.0 81.3h0M124.3 173.5h0M113.6 63.4h0M106.7 75.3h0M226.9 130.3h0M248.9 45.2h0M145.2 99.7h0M165.4 89.8h0M209.8 59.4h0M249.2 144.9h0M121.4 87.8h0M119.6 81.1h0"/><path d="M239.3 131.2h0M121.5 69.1h0M249.3 142.3h0M111.6 111.1h0M103.6 16.3h0M105.7 124.8h0M161.0 103.0h0M141.9 90.2h0M92.6 66.6h0M146.1 86.9h0M266.0 148.1h0M186.0 106.5h0M170.4 125.2h0M230.2 126.6h0M106.3 79.7h0M212.4 114.9h0M103.5 70.1h0M110.7 206.4h0M151.6 77.9h0M114.4 74.7h0M106.1 65.5h0M120.1 157.1h0M183.7 121.1h0M140.0 87.7h0M233.1 137.3h0M235.5 118.2h0M119.8 89.8h0M117.9 161.2h0M163.1 114.2h0M221.1 29.1h0M243.8 137.2h0M200.3 112.2h0M216.1 131.6h0M251.8 139.0h0M121.5 175.3h0M95.7 64.6h0M90.5 60.6h0M237.4 127.6h0M119.9 38.2h0M121.2 42.1h0M158.0 107.1h0M205.1 113.2h0M245.7 88.3h0M124.8 86.4h0M103.3 68.1h0M111.0 171.5h0M203.2 123.2h0M118.7 67.3h0M153.4 167.5h0M112.6 80.5h0M83.6 68.2h0M111.9 74.2h0M131.5 129.0h0M121.1 162.6h0M180.7 110.0h0M226.7 122.4h0M104.8 75.4h0M144.2 92.9h0M125.8 82.7h0M113.1 78.2h0M167.4 106.7h0M189.6 103.6h0M242.3 190.4h0M190.8 108.3h0M128.9 67.5h0M220.9 121.2h0M181.1 28.0h0M213.7 117.1h0M257.4 136.2h0M106.7 68.4h0M157.0 173.6h0M241.8 38.3h0M157.5 48.9h0M86.3 66.1h0M101.2 68.6h0M127.6 84.3h0M107.2 177.1h0M173.8 94.6h0M201.4 125.4h0M140.9 86.0h0M245.9 145.4h0M200.1 104.2h0M153.0 81.3h0M126.0 87.1h0M145.7 44.9h0M156.9 102.7h0M215.9 116.8h0M128.2 80.3h0M213.6 118.9h0M267.1 148.3h0M189.8 52.6h0M161.7 90.7h0M231.4 110.2h0M133.6 41.4h0M138.1 87.3h0M272.4 150.4h0M227.4 128.7h0M76.5 65.7h0M123.2 86.6h0M141.0 36.7h0M149.2 84.9h0M245.7 138.9h0M169.7 196.6h0M168.1 73.9h0M147.6 159.6h0M206.0 117.8h0M184.6 111.9h0M129.3 86.9h0M186.0 110.0h0M143.6 97.6h0M224.6 196.1h0M119.6 74.8h0M96.8 108.7h0M263.0 151.7h0M124.7 88.5h0M117.7 83.6h0M199.1 126.1h0M218.5 93.7h0M94.9 76.1h0M104.8 81.4h0M92.9 73.8h0M124.6 89.8h0M190.0 107.1h0M262.0 177.9h0M220.0 151.1h0M199.5 112.1h0M180.5 16.1h0M196.7 97.8h0M139.4 80.0h0M231.6 128.7h0M196.2 109.1h0M195.6 118.7h0M256.7 141.1h0M117.6 71.3h0M141.4 90.2h0M158.2 50.6h0M164.2 31.5h0M146.9 23.1h0M118.3 88.1h0M118.8 88.2h0M226.8 122.2h0M122.0 82.0h0M104.5 202.0h0M120.7 73.5h0M243.4 133.3h0M253.7 136.8h0M117.8 108.2h0M118.4 8.8h0M105.7 84.6h0M251.9 138.7h0M114.4 75.1h0M171.8 103.0h0M152.1 97.7h0M153.9 50.6h0M98.1 70.9h0M165.2 97.2h0M124.6 72.9h0M166.5 94.6h0M125.3 80.4h0M123.4 78.9h0M122.3 80.7h0M115.0 69.6h0M129.8 87.0h0M151.0 90.8h0M84.4 110.7h0M208.5 18.4h0M109.1 72.8h0M141.9 112.8h0M71.0 52.5h0M148.3 96.2h0M187.9 103.3h0M205.2 116.4h0M121.8 75.6h0M224.8 71.2h0M118.3 79.4h0M149.5 85.4h0"/><path d="M109.4 85.2h0M153.8 74.6h0M131.3 26.0h0M117.6 82.2h0M120.2 82.2h0M260.8 173.7h0M141.2 101.8h0M237.1 136.6h0M248.3 129.2h0M239.9 85.9h0M135.5 63.4h0M99.6 69.5h0M119.1 184.7h0M173.9 104.0h0M127.8 85.5h0M195.6 109.9h0M139.7 93.5h0M215.0 134.9h0M131.7 51.3h0M212.5 128.8h0M143.9 41.4h0M111.4 90.2h0M184.5 113.2h0M249.9 135.6h0M130.0 89.9h0M168.7 103.0h0M122.0 69.2h0M195.9 34.6h0M116.0 104.6h0M218.5 124.5h0M118.6 31.2h0M140.3 87.9h0M89.7 65.2h0M99.5 165.5h0M128.3 74.8h0M243.6 104.6h0M112.4 82.7h0M142.2 88.2h0M166.8 154.5h0M116.3 43.9h0M130.0 32.4h0M148.8 102.4h0M114.3 77.3h0M142.7 81.5h0M139.9 79.3h0M115.2 74.6h0M188.0 117.7h0M250.0 145.3h0M120.3 63.6h0M152.2 90.2h0M121.2 61.5h0M126.6 70.9h0M130.4 7.2h0M138.3 80.1h0M205.8 113.1h0M150.2 126.5h0M161.1 90.5h0M74.7 43.2h0M152.8 44.4h0M146.4 83.0h0M250.1 75.3h0M123.5 85.2h0M161.5 96.8h0M123.7 79.5h0M133.0 86.6h0M230.3 136.5h0M160.0 182.8h0M252.9 145.3h0M180.0 113.9h0M121.0 194.4h0M144.8 88.9h0M157.7 195.4h0M111.5 56.0h0M181.2 111.5h0M193.6 125.4h0M143.1 90.4h0M117.7 68.6h0M141.0 90.5h0M144.9 90.9h0M189.5 112.5h0M119.8 45.3h0M111.7 186.1h0M182.9 114.5h0M242.4 126.8h0M124.2 79.7h0M234.9 65.4h0M129.3 84.8h0M150.1 55.8h0M130.3 85.8h0M151.5 176.9h0M146.3 90.6h0M160.8 128.5h0M115.8 105.1h0M142.6 82.6h0M152.8 96.2h0M145.8 184.6h0M107.4 62.7h0M238.0 126.3h0M120.7 77.0h0M103.1 67.4h0M142.7 102.0h0M117.1 38.3h0M217.3 125.5h0M201.2 24.5h0M104.3 68.4h0M120.5 197.8h0M138.5 83.7h0M222.6 121.7h0M155.8 16.3h0M94.1 176.6h0M132.9 96.3h0M147.1 100.0h0M121.1 77.6h0M174.6 92.1h0M270.6 163.2h0M130.7 191.4h0M146.1 86.8h0M172.7 94.9h0M95.6 70.1h0M142.5 202.1h0M167.9 108.2h0M101.9 61.2h0M235.7 34.2h0M209.1 115.8h0M181.4 109.0h0M112.3 90.8h0M211.3 47.1h0M125.3 162.2h0M126.1 96.3h0M124.2 86.8h0M134.0 58.1h0M261.2 22.6h0M112.8 78.6h0M114.1 74.5h0M109.8 47.1h0M138.6 91.9h0M119.6 46.2h0M186.3 117.6h0M122.4 79.3h0M206.4 47.5h0M147.1 93.6h0M249.8 140.5h0M205.5 112.3h0M123.1 85.9h0M109.1 74.5h0M157.4 26.6h0M156.7 111.4h0M115.8 202.6h0M119.4 87.5h0M233.0 126.6h0M231.6 133.7h0M115.2 101.4h0M156.5 127.0h0M94.8 160.3h0M141.4 6.0h0M166.7 176.2h0M109.7 12.8h0M210.8 127.4h0M206.6 105.1h0M141.6 82.8h0M152.8 102.3h0M173.3 45.6h0M123.2 133.4h0M249.6 36.4h0M151.4 148.4h0M114.5 78.9h0M131.6 77.2h0M143.3 40.5h0M119.7 85.3h0M207.2 127.1h0M120.8 86.3h0M164.2 91.7h0M123.3 69.2h0M123.1 11.9h0M123.2 -1.7h0M98.2 78.4h0"/><path d="M202.7 126.2h0M204.6 113.6h0M179.5 100.8h0M129.2 69.4h0M114.4 74.3h0M114.7 175.6h0M120.2 79.5h0M114.3 72.4h0M126.4 84.1h0M276.3 144.4h0M129.7 89.3h0M160.8 197.2h0M143.9 87.2h0M171.0 93.0h0M135.5 84.4h0M255.8 135.5h0M152.8 76.6h0M94.7 119.0h0M107.8 81.1h0M116.5 97.9h0M94.7 143.3h0M90.4 69.7h0M159.2 99.2h0M115.6 105.2h0M107.6 81.8h0M91.0 67.5h0M128.2 82.9h0M120.4 172.5h0M133.0 22.7h0M155.7 95.7h0M158.6 99.2h0M158.2 59.7h0M89.0 58.6h0M113.0 2.8h0M100.5 63.8h0M99.5 44.9h0M146.8 89.7h0M230.1 131.0h0M110.5 68.5h0M148.6 99.4h0M148.9 55.5h0M143.4 92.6h0M130.9 29.2h0M100.8 201.4h0M135.0 86.2h0M149.2 89.6h0M192.3 44.0h0M208.8 121.4h0M168.0 94.6h0M118.9 87.1h0M82.5 61.1h0M173.3 94.0h0M136.3 149.1h0M114.0 74.3h0M131.2 82.5h0M237.5 137.5h0M119.0 71.2h0M219.7 127.7h0M185.1 101.8h0M130.3 80.6h0M159.0 5.1h0M192.0 110.4h0M110.0 184.4h0M136.5 109.6h0M207.8 51.8h0M123.4 79.8h0M128.8 91.4h0M220.6 127.6h0M187.0 77.4h0M243.3 130.1h0M185.5 110.2h0M151.5 115.2h0M142.4 92.3h0M138.2 88.3h0M114.1 83.2h0M112.3 71.0h0M84.2 35.2h0M105.3 76.2h0M146.6 100.4h0M120.3 115.0h0M97.9 68.9h0M136.3 75.9h0M131.4 85.1h0M106.9 83.6h0M249.6 199.6h0M291.2 155.5h0M145.3 82.9h0M146.4 -1.8h0M180.3 198.6h0M213.4 125.0h0M151.5 94.4h0M217.4 37.4h0M110.6 74.5h0M107.7 72.5h0M227.6 127.9h0M99.3 62.2h0M114.4 119.2h0M132.0 81.1h0M127.1 99.5h0M193.2 110.3h0M90.1 52.8h0M103.3 81.6h0M114.4 8.3h0M232.9 130.9h0M136.1 88.0h0M213.9 112.6h0M168.1 70.1h0M256.9 142.3h0M116.4 85.3h0M205.9 116.3h0M147.8 94.2h0M167.2 54.7h0M143.6 99.8h0M186.6 102.4h0M127.5 95.3h0M94.2 69.1h0M201.2 98.2h0M123.4 73.2h0M252.5 128.2h0M99.9 75.3h0M140.0 89.5h0M103.4 179.9h0M149.3 94.7h0M115.7 77.0h0M218.4 121.0h0M201.2 140.7h0M144.1 84.4h0M194.5 119.1h0M135.8 84.7h0M116.6 79.2h0M188.5 106.1h0M239.6 132.3h0M116.8 182.4h0M120.4 79.7h0M169.4 93.0h0M126.0 84.8h0M218.0 126.2h0M114.4 77.9h0M213.1 167.3h0M112.4 79.3h0M174.9 92.8h0M180.3 100.7h0M111.8 105.4h0M125.3 93.9h0M211.4 117.4h0M113.0 88.0h0M186.8 204.4h0M148.2 88.9h0M222.7 36.7h0M248.2 131.8h0M113.9 136.4h0M114.7 71.7h0M113.7 72.8h0M104.7 76.9h0M116.9 75.5h0M234.8 136.0h0M161.1 146.4h0M188.3 63.5h0M206.1 120.8h0M137.4 78.1h0M124.9 92.8h0M133.3 82.7h0M128.6 79.5h0M118.8 77.7h0M216.9 123.5h0M198.7 159.6h0M169.7 87.1h0M127.7 84.2h0M135.2 77.6h0M112.7 70.0h0M124.5 83.0h0M131.3 87.0h0M103.5 73.9h0M198.2 117.1h0M114.2 80.9h0M90.7 53.4h0"/><path d="M256.1 72.9h0M244.7 129.6h0M104.6 78.1h0M97.2 10.0h0M160.5 20.1h0M109.4 66.5h0M111.2 74.1h0M103.8 63.5h0M199.7 116.0h0M112.0 66.6h0M97.6 74.0h0M122.9 93.4h0M192.5 103.5h0M123.9 64.3h0M262.6 137.1h0M262.5 188.2h0M99.9 76.8h0M128.7 152.3h0M194.8 180.2h0M119.6 83.9h0M169.5 99.1h0M234.6 148.4h0M216.8 198.0h0M128.7 87.0h0M179.0 100.8h0M125.8 202.5h0M130.1 200.9h0M125.5 83.7h0M161.3 98.1h0M120.4 74.5h0M172.6 132.3h0M90.9 66.2h0M100.9 63.5h0M109.9 76.9h0M239.9 141.8h0M147.2 92.9h0M119.5 91.9h0M103.0 60.9h0M243.9 198.3h0M111.5 80.0h0M243.0 121.4h0M106.0 73.8h0M144.9 96.3h0M127.3 90.0h0M131.7 88.7h0M124.8 34.9h0M205.7 168.3h0M222.3 126.6h0M116.7 180.7h0M125.7 117.5h0M128.7 85.1h0M206.7 117.5h0M245.2 89.7h0M242.8 199.2h0M155.8 182.0h0M211.3 55.4h0M203.7 143.7h0M144.6 125.6h0M188.2 106.8h0M235.9 132.9h0M105.2 68.3h0M145.9 84.2h0M115.2 80.5h0M129.3 96.6h0M248.5 134.4h0M130.8 60.5h0M222.5 132.4h0M166.2 37.8h0M116.3 77.5h0M264.5 144.6h0M117.2 80.3h0M190.9 118.1h0M155.1 89.4h0M124.6 197.8h0M256.7 143.0h0M118.8 82.1h0M255.7 117.6h0M266.1 135.7h0M294.9 196.2h0M144.0 196.2h0M268.0 192.9h0M136.2 75.8h0M127.1 84.6h0M139.7 95.6h0M176.5 99.2h0M123.5 84.2h0M116.4 77.1h0M107.1 74.0h0M119.6 79.8h0M132.5 88.2h0M118.8 86.7h0M265.2 139.2h0M129.2 89.5h0M101.1 74.7h0M125.2 84.1h0M99.0 158.4h0M205.5 124.6h0M247.4 122.2h0M128.5 84.2h0M223.9 87.3h0M126.5 83.2h0M113.8 88.7h0M148.2 83.4h0M189.7 65.7h0M125.4 85.7h0M199.2 56.7h0M215.2 99.4h0M137.9 89.6h0M127.1 81.7h0M206.2 123.3h0M103.0 75.8h0M116.8 74.3h0M168.0 91.6h0M131.6 83.1h0M122.2 123.0h0M115.4 90.4h0M110.1 79.8h0M195.2 114.1h0M212.4 108.0h0M250.2 21.7h0M236.2 197.5h0M141.7 80.6h0M138.4 179.1h0M117.1 76.8h0M168.6 187.9h0M268.5 149.4h0M208.7 52.5h0M179.6 94.4h0M102.2 74.6h0M139.0 47.9h0M133.1 136.1h0M182.2 109.8h0M110.5 78.8h0M139.4 92.3h0M207.9 41.9h0M108.8 77.5h0M243.6 136.7h0M179.2 72.3h0M122.6 82.5h0M195.7 113.8h0M115.2 82.8h0M144.5 165.0h0M130.7 78.7h0M147.3 68.1h0M206.8 53.2h0M92.3 64.0h0M133.6 53.0h0M160.4 100.2h0M122.0 78.8h0M121.0 80.0h0M163.8 103.0h0M133.4 82.8h0M145.5 99.1h0M178.2 22.6h0M88.1 67.9h0M114.9 130.6h0M126.3 45.7h0M123.9 69.9h0M155.8 205.4h0M173.4 92.9h0M124.7 86.8h0M260.8 81.2h0M214.4 172.2h0M107.8 71.8h0M211.1 170.9h0M258.3 134.9h0M141.3 89.5h0M189.9 111.3h0M155.7 84.4h0M126.6 85.0h0M119.4 130.4h0M208.6 111.2h0M250.7 143.0h0M230.1 136.7h0M131.7 83.1h0M133.4 199.0h0"/><path d="M88.8 60.2h0M212.9 39.7h0M120.7 82.3h0M127.5 57.5h0M167.7 102.7h0M178.6 83.9h0M126.4 67.0h0M193.5 109.5h0M118.1 73.6h0M124.1 186.8h0M129.2 88.4h0M170.9 100.1h0M105.5 65.8h0M95.3 78.8h0M194.4 24.8h0M135.1 80.0h0M107.0 70.5h0M131.2 90.1h0M185.2 112.9h0M192.1 110.5h0M208.1 121.3h0M148.4 92.1h0M112.8 78.0h0M104.3 74.7h0M101.3 80.2h0M139.7 88.2h0M254.1 68.8h0M237.1 136.4h0M134.9 86.9h0M180.1 115.8h0M119.3 80.9h0M150.3 98.0h0M117.8 74.8h0M245.2 136.6h0M142.7 92.5h0M154.9 97.3h0M115.8 82.6h0M119.9 88.4h0M124.6 79.4h0M138.0 57.4h0M156.5 204.4h0M127.9 105.8h0M159.4 19.1h0M180.9 105.9h0M123.0 77.6h0M106.8 71.2h0M206.7 116.3h0M265.3 154.1h0M170.0 110.8h0M150.3 95.5h0M206.1 115.7h0M112.1 77.7h0M133.7 90.4h0M102.1 22.3h0M197.0 22.2h0M116.7 63.4h0M232.4 13.3h0M210.9 119.6h0M244.0 134.3h0M142.8 93.8h0M125.8 84.6h0M145.5 92.3h0M117.2 74.0h0M128.8 84.5h0M163.4 78.8h0M125.7 79.7h0M114.1 81.4h0M160.2 96.1h0M165.8 97.3h0M126.7 96.3h0M167.4 97.8h0M176.5 138.4h0M130.0 88.5h0M126.6 176.1h0M108.9 85.3h0M147.5 98.3h0M101.1 72.0h0M210.0 172.9h0M117.2 142.3h0M137.9 96.9h0M208.8 137.2h0M215.6 116.2h0M226.1 123.6h0M140.3 89.9h0M131.8 74.0h0M118.0 84.0h0M109.8 72.8h0M134.9 135.9h0M141.3 90.4h0M237.1 144.5h0M251.0 159.8h0M136.3 99.2h0M174.5 101.8h0M209.1 118.0h0M193.8 172.7h0M266.0 152.1h0M92.9 70.8h0M102.7 74.0h0M107.2 93.5h0M107.8 82.8h0M194.5 97.9h0M137.7 87.4h0M222.9 147.7h0M157.7 93.2h0M116.7 74.5h0M109.8 65.4h0M176.2 109.4h0M144.0 41.2h0M222.5 127.2h0M157.8 101.0h0M221.1 123.7h0M115.4 78.2h0M201.1 120.8h0M91.4 100.5h0M184.9 103.1h0M115.9 85.7h0M138.3 23.8h0M143.9 88.9h0M148.3 14.5h0M139.0 88.1h0M132.4 24.5h0M227.8 129.5h0M119.3 107.1h0M233.7 128.3h0M178.8 189.1h0M112.4 70.9h0M215.0 123.0h0M120.2 77.9h0M141.2 75.6h0M115.6 70.2h0M212.3 155.4h0M97.0 65.7h0M112.3 169.2h0M129.1 80.5h0M133.1 89.2h0M122.6 79.4h0M129.0 79.4h0M119.9 82.4h0M128.5 165.8h0M110.4 77.0h0M129.6 133.5h0M114.7 72.9h0M207.2 118.2h0M175.6 99.5h0M112.6 103.1h0M110.8 62.6h0M120.2 75.4h0M106.0 60.8h0M167.5 106.7h0M207.8 33.9h0M173.9 104.6h0M133.7 56.2h0M106.8 74.4h0M248.5 27.6h0M141.7 93.7h0M164.3 117.7h0M119.4 84.9h0M172.3 61.4h0M139.1 97.6h0M114.5 77.1h0M116.9 130.3h0M124.1 85.5h0M198.4 112.3h0M160.2 101.6h0M101.7 31.2h0M254.0 141.3h0M135.3 22.7h0M129.5 71.7h0M115.1 78.5h0M135.2 85.6h0M135.8 74.7h0M150.0 104.5h0M218.4 125.2h0M77.4 57.8h0M219.6 186.0h0M139.7 97.1h0"/></g><g clip-path="url(#cb)" stroke="#000" stroke-width="2.3" stroke-linecap="round" stroke-opacity="0.55" fill="none"><path d="M486.2 97.0h0M433.3 102.0h0M503.6 94.8h0M551.0 98.3h0M480.8 105.2h0M446.9 97.5h0M448.0 38.3h0M492.8 91.5h0M477.5 115.5h0M467.6 99.6h0M485.8 50.2h0M477.9 103.6h0M469.9 103.0h0M522.7 28.6h0M588.1 105.8h0M463.2 124.7h0M478.3 98.8h0M484.8 71.7h0M465.9 104.3h0M521.7 99.3h0M454.0 110.1h0M484.6 103.9h0M471.0 104.7h0M445.8 66.7h0M515.4 69.7h0M458.9 97.4h0M520.0 103.7h0M471.4 103.3h0M469.2 88.5h0M582.9 103.9h0M589.3 89.2h0M472.4 106.5h0M628.8 93.2h0M456.8 105.1h0M556.1 91.9h0M510.2 103.9h0M479.7 98.8h0M491.5 96.6h0M559.5 102.5h0M483.9 111.9h0M516.5 95.7h0M609.7 122.8h0M477.5 103.0h0M497.1 101.2h0M450.8 99.1h0M508.9 2.9h0M525.3 96.6h0M571.4 152.5h0M574.0 29.0h0M589.2 92.0h0M507.7 185.3h0M475.5 110.3h0M586.7 98.9h0M466.0 69.9h0M445.4 100.8h0M513.0 109.9h0M453.0 102.6h0M468.9 99.3h0M556.5 103.6h0M436.2 121.8h0M482.4 98.1h0M463.9 99.2h0M466.8 18.7h0M518.4 113.6h0M484.6 73.0h0M596.0 100.8h0M508.7 101.3h0M572.6 112.8h0M494.8 102.7h0M594.2 66.3h0M515.9 98.5h0M540.7 94.7h0M473.2 102.0h0M562.3 168.6h0M481.5 23.3h0M469.1 107.7h0M479.4 99.0h0M450.3 99.7h0M515.0 56.5h0M457.2 110.1h0M600.5 100.5h0M563.0 116.0h0M451.7 99.4h0M507.7 103.4h0M473.1 89.5h0M472.8 123.5h0M471.2 97.5h0M480.8 47.5h0M469.7 64.5h0M529.4 167.1h0M468.4 110.2h0M468.3 104.5h0M457.6 102.7h0M561.1 96.1h0M523.7 151.6h0M438.9 83.8h0M615.2 98.4h0M587.6 94.9h0M480.1 83.6h0M522.8 103.0h0M539.4 72.8h0M445.1 111.3h0M488.5 6.4h0M602.5 95.8h0M589.7 98.6h0M479.8 100.7h0M586.7 97.6h0M437.7 104.3h0M447.4 102.8h0M524.4 61.3h0M518.8 67.3h0M480.8 107.0h0M468.4 120.9h0M468.4 95.5h0M491.1 106.7h0M484.4 66.3h0M536.7 122.1h0M439.0 172.5h0M520.7 98.1h0M478.2 89.1h0M528.9 93.5h0M529.9 104.6h0M559.8 104.0h0M545.8 92.4h0M476.7 174.4h0M610.4 99.1h0M475.6 100.5h0M597.4 101.1h0M537.8 82.2h0M473.1 105.3h0M466.5 114.7h0M586.1 27.0h0M484.2 107.1h0M479.1 112.1h0M569.0 102.5h0M582.3 204.2h0M479.0 98.2h0M588.4 178.0h0M471.0 104.1h0M485.4 106.4h0M552.2 97.9h0M478.2 105.9h0M468.5 88.3h0M428.0 119.1h0M497.7 112.8h0M595.6 82.8h0M447.3 102.2h0M491.6 170.2h0M586.9 113.0h0M537.3 96.5h0M582.1 199.4h0M606.2 92.2h0M467.0 104.5h0M466.6 101.2h0M471.9 108.3h0M500.4 52.7h0M472.4 102.6h0M499.2 82.7h0M453.7 110.2h0M478.6 106.4h0M481.4 105.3h0M464.0 104.1h0M439.2 110.4h0M481.9 107.7h0M587.8 99.5h0M468.3 106.7h0M484.7 102.2h0M490.7 128.2h0M480.4 102.7h0M525.5 119.5h0M498.4 105.8h0M499.4 41.2h0M583.8 98.6h0M479.4 112.0h0"/><path d="M484.5 118.1h0M565.6 105.4h0M499.4 107.1h0M556.6 100.0h0M613.7 99.1h0M547.2 122.2h0M610.5 97.6h0M530.3 97.0h0M478.8 110.1h0M491.2 101.7h0M487.7 180.6h0M469.5 92.2h0M435.6 88.4h0M544.6 105.0h0M585.6 39.2h0M510.9 103.1h0M508.9 101.1h0M587.6 183.0h0M487.9 95.9h0M530.2 88.1h0M467.3 117.6h0M479.4 106.5h0M513.5 92.3h0M466.6 102.6h0M522.3 121.1h0M470.0 78.7h0M517.6 199.3h0M571.0 88.4h0M607.8 106.9h0M600.1 28.4h0M492.5 97.6h0M448.6 94.3h0M499.9 106.7h0M507.6 104.0h0M462.1 105.6h0M568.9 102.5h0M475.5 144.6h0M502.4 8.7h0M467.5 99.7h0M460.2 98.7h0M463.8 116.6h0M440.6 102.5h0M470.4 66.1h0M598.0 94.4h0M491.3 69.8h0M553.0 189.8h0M605.6 102.1h0M489.9 110.5h0M481.1 101.1h0M614.8 86.1h0M542.3 101.8h0M500.8 196.4h0M473.4 97.2h0M518.2 108.3h0M469.4 99.8h0M492.0 100.3h0M463.0 95.4h0M471.3 99.5h0M583.5 19.5h0M557.0 140.7h0M507.4 21.6h0M481.0 49.8h0M562.0 97.1h0M605.3 108.8h0M532.7 113.2h0M579.6 85.4h0M466.1 186.8h0M533.5 99.0h0M461.8 56.9h0M480.2 96.7h0M466.6 131.9h0M462.5 103.9h0M595.2 110.0h0M474.4 108.2h0M517.4 146.4h0M457.9 113.5h0M431.0 105.2h0M462.2 119.7h0M466.9 106.0h0M474.3 105.4h0M469.7 107.3h0M525.0 85.6h0M501.3 6.7h0M564.0 97.9h0M569.0 106.5h0M526.3 102.7h0M537.4 89.7h0M603.4 103.2h0M470.7 104.3h0M441.4 107.1h0M495.5 102.6h0M452.6 107.0h0M460.6 92.0h0M459.2 103.0h0M489.6 91.5h0M468.9 123.4h0M494.3 153.8h0M468.2 100.1h0M468.5 111.1h0M622.7 182.5h0M459.7 106.0h0M468.9 98.7h0M528.1 98.8h0M449.1 150.9h0M461.8 85.6h0M601.9 208.7h0M577.4 105.4h0M443.3 25.8h0M469.0 43.3h0M472.6 98.0h0M520.4 36.7h0M486.0 112.9h0M536.3 58.8h0M448.9 82.3h0M466.5 96.2h0M464.6 143.3h0M470.5 102.4h0M470.8 99.1h0M587.1 110.3h0M442.0 100.4h0M541.1 74.7h0M457.8 103.3h0M477.8 99.0h0M453.0 100.6h0M450.7 108.7h0M604.7 59.2h0M488.5 104.1h0M459.9 107.5h0M474.0 158.9h0M479.6 108.3h0M468.1 105.0h0M518.9 104.3h0M486.5 97.9h0M491.2 113.0h0M502.4 84.1h0M577.3 99.0h0M536.1 51.5h0M449.1 96.5h0M481.4 96.5h0M495.5 100.8h0M477.8 96.2h0M466.7 140.3h0M547.4 172.1h0M530.7 95.6h0M510.9 75.2h0M440.5 110.3h0M595.0 117.2h0M557.4 27.8h0M577.3 100.7h0M532.0 97.7h0M573.6 105.9h0M451.9 103.3h0M477.1 50.7h0M480.0 87.8h0M542.7 148.4h0M502.1 165.8h0M474.0 107.3h0M578.9 23.1h0M437.1 103.0h0M612.6 187.4h0M569.7 101.3h0M586.0 97.9h0M458.6 113.0h0M493.5 106.5h0M473.4 106.9h0M582.0 78.6h0M586.0 86.4h0M564.3 105.3h0M536.1 121.4h0M459.0 97.1h0M552.5 111.2h0M464.0 112.5h0M538.8 106.6h0M472.0 101.4h0"/><path d="M478.2 109.3h0M444.2 111.9h0M503.9 71.5h0M483.5 103.8h0M569.1 102.6h0M493.2 106.2h0M499.2 -0.1h0M446.9 102.1h0M558.3 94.7h0M571.2 99.8h0M509.7 102.4h0M453.0 87.4h0M477.5 62.9h0M493.4 84.5h0M545.8 194.6h0M524.6 106.7h0M526.9 105.8h0M470.9 99.5h0M589.1 106.9h0M509.0 97.8h0M445.5 104.4h0M477.4 105.3h0M591.8 98.3h0M565.0 8.2h0M466.1 88.4h0M487.5 23.2h0M482.0 101.9h0M475.5 106.1h0M594.4 167.8h0M512.7 99.4h0M474.3 102.6h0M504.4 104.1h0M535.6 103.3h0M462.6 108.6h0M559.1 105.3h0M469.4 77.6h0M575.5 36.1h0M494.7 99.8h0M500.2 96.7h0M516.5 133.2h0M587.2 100.3h0M602.0 96.0h0M500.2 97.6h0M580.8 102.6h0M465.3 101.2h0M493.3 97.6h0M472.7 92.5h0M447.3 107.0h0M601.1 197.1h0M459.2 103.3h0M558.5 102.4h0M492.0 113.4h0M545.9 101.5h0M498.9 91.9h0M473.0 101.8h0M485.6 100.5h0M490.5 107.3h0M472.8 110.0h0M475.9 101.8h0M507.6 87.3h0M533.6 96.0h0M487.8 140.1h0M464.7 161.2h0M481.8 103.4h0M502.1 106.8h0M492.4 102.6h0M472.8 97.6h0M481.2 111.3h0M494.2 97.4h0M560.9 108.1h0M509.3 103.5h0M479.7 101.5h0M567.2 99.7h0M475.6 106.3h0M600.5 97.7h0M477.3 102.2h0M515.2 191.5h0M454.2 94.6h0M472.9 106.5h0M472.1 159.9h0M524.9 103.8h0M470.8 186.4h0M493.3 92.5h0M466.4 99.4h0M485.0 101.9h0M494.9 95.7h0M547.1 99.3h0M475.8 98.7h0M473.4 147.2h0M589.7 41.5h0M531.2 103.1h0M465.5 83.8h0M474.1 151.8h0M469.0 89.7h0M484.5 106.0h0M574.9 104.3h0M447.7 107.9h0M512.1 99.4h0M485.1 104.5h0M468.7 179.2h0M595.6 98.8h0M556.9 99.4h0M477.9 96.5h0M545.8 102.0h0M523.4 96.9h0M596.3 47.6h0M498.4 91.1h0M477.8 97.6h0M478.6 99.6h0M488.0 95.3h0M572.0 92.9h0M588.2 102.3h0M468.0 99.6h0M542.1 110.4h0M480.5 99.0h0M479.2 99.5h0M473.7 102.7h0M512.0 100.4h0M469.2 119.2h0M472.5 203.3h0M490.4 109.6h0M502.3 160.7h0M520.0 98.1h0M584.9 130.1h0M451.5 99.1h0M546.2 106.1h0M468.2 84.7h0M491.3 109.8h0M571.6 136.0h0M459.7 99.6h0M462.0 100.1h0M474.9 103.8h0M468.4 107.7h0M514.5 105.8h0M516.5 97.9h0M475.8 93.5h0M474.6 90.8h0M482.6 92.8h0M477.2 96.9h0M617.5 97.9h0M551.5 100.6h0M468.5 107.8h0M482.2 101.7h0M501.9 185.6h0M456.4 200.2h0M467.7 98.8h0M506.1 26.9h0M518.3 35.9h0M535.3 84.0h0M485.3 113.7h0M455.5 98.9h0M553.0 101.4h0M435.2 103.1h0M579.8 104.6h0M495.5 50.6h0M612.3 89.6h0M450.5 90.7h0M597.5 174.0h0M468.1 101.4h0M562.4 106.3h0M479.7 109.9h0M439.8 98.8h0M468.2 108.3h0M489.5 99.2h0M580.7 106.6h0M543.8 105.1h0M476.5 55.0h0M472.9 94.9h0M587.8 99.5h0M528.1 156.7h0M475.1 78.1h0M524.5 100.1h0M450.4 101.7h0M506.9 106.2h0"/><path d="M497.4 85.3h0M483.1 59.5h0M465.7 98.6h0M479.1 95.7h0M523.8 174.6h0M498.3 105.5h0M466.3 200.2h0M593.7 41.4h0M477.0 114.3h0M457.1 101.0h0M457.5 104.9h0M467.4 93.3h0M484.2 97.3h0M477.0 45.1h0M483.7 112.5h0M458.0 95.3h0M490.2 101.4h0M462.3 99.7h0M550.1 99.3h0M511.0 113.5h0M482.4 98.5h0M491.8 85.6h0M478.8 103.9h0M501.0 103.3h0M590.7 96.5h0M518.6 18.9h0M563.4 99.9h0M485.2 105.9h0M449.7 102.9h0M461.0 109.5h0M581.6 102.6h0M461.0 104.1h0M441.4 75.3h0M459.9 55.9h0M565.0 154.5h0M461.9 179.0h0M475.3 145.8h0M480.7 98.8h0M439.1 100.9h0M586.1 95.8h0M478.9 96.1h0M485.7 109.0h0M506.5 102.6h0M491.4 165.4h0M482.2 85.8h0M513.9 23.0h0M448.0 120.0h0M484.6 97.0h0M461.4 28.3h0M587.7 103.5h0M539.0 14.3h0M474.6 93.4h0M474.9 104.1h0M489.5 85.1h0M457.7 104.1h0M490.7 98.6h0M498.4 103.6h0M469.1 86.1h0M520.8 104.1h0M493.8 43.4h0M515.5 105.8h0M463.5 182.3h0M478.1 128.5h0M492.6 120.8h0M567.3 107.2h0M492.1 109.3h0M603.4 161.0h0M536.6 31.6h0M474.0 104.6h0M577.9 51.3h0M457.3 103.7h0M483.5 116.1h0M491.0 103.2h0M499.8 102.2h0M465.9 205.1h0M462.4 140.6h0M489.0 102.0h0M470.8 153.4h0M461.7 100.7h0M462.2 115.6h0M509.1 93.1h0M492.6 30.0h0M491.0 99.2h0M470.1 188.7h0M564.7 92.5h0M598.5 116.9h0M488.8 109.1h0M459.9 207.6h0M527.8 6.7h0M461.8 19.9h0M465.8 100.3h0M464.6 109.2h0M498.2 13.2h0M538.9 113.4h0M431.5 107.3h0M453.8 115.0h0M465.4 82.4h0M488.4 98.3h0M477.7 88.9h0M475.5 97.4h0M468.1 89.4h0M527.2 94.6h0M606.2 49.4h0M524.4 10.2h0M544.0 97.2h0M487.2 99.5h0M441.0 101.0h0M454.9 100.7h0M446.3 144.2h0M479.1 94.1h0M529.0 96.1h0M559.7 99.3h0M582.9 114.7h0M606.1 104.1h0M603.4 102.3h0M547.9 104.1h0M524.1 174.0h0M432.8 110.8h0M445.2 112.5h0M483.8 106.7h0M557.0 96.8h0M473.5 105.1h0M464.3 120.6h0M513.5 162.3h0M568.0 97.0h0M475.9 112.9h0M502.9 95.0h0M598.8 106.9h0M480.7 45.8h0M614.7 105.9h0M546.6 95.5h0M601.2 13.8h0M423.7 109.6h0M448.8 105.7h0M575.2 99.1h0M531.1 93.5h0M525.5 93.1h0M469.7 110.6h0M552.8 95.6h0M444.3 107.5h0M494.4 180.8h0M466.5 101.4h0M510.6 101.7h0M471.2 200.0h0M472.4 173.5h0M498.8 67.9h0M546.3 101.3h0M463.8 83.2h0M539.6 104.5h0M465.8 93.7h0M519.2 103.9h0M538.6 99.3h0M447.8 99.4h0M489.7 58.1h0M461.4 68.5h0M476.0 97.6h0M465.9 107.8h0M460.6 90.3h0M488.8 98.9h0M569.9 98.0h0M461.3 96.5h0M531.2 145.5h0M468.7 99.5h0M471.7 114.1h0M434.9 99.3h0M477.7 84.6h0M574.0 110.0h0M554.6 99.9h0M511.9 107.1h0M458.5 92.9h0M462.3 80.8h0M469.3 175.9h0M460.6 103.2h0M604.3 3.4h0"/><path d="M551.7 105.0h0M477.2 93.8h0M606.2 156.3h0M473.4 82.2h0M488.1 95.9h0M473.3 116.8h0M588.3 53.5h0M464.7 152.0h0M470.7 110.4h0M494.3 76.2h0M454.8 104.7h0M616.5 96.6h0M455.7 100.3h0M501.0 99.9h0M451.1 103.2h0M478.2 97.0h0M581.9 104.4h0M490.7 103.2h0M465.3 107.4h0M479.5 176.6h0M446.9 103.6h0M531.8 15.0h0M488.7 131.6h0M608.0 98.4h0M481.2 18.3h0M594.4 102.9h0M482.7 102.3h0M582.2 112.3h0M482.8 92.5h0M470.6 112.8h0M512.3 100.0h0M475.1 106.0h0M475.4 93.3h0M475.3 95.4h0M462.0 95.3h0M611.4 32.1h0M447.6 131.3h0M529.5 191.0h0M481.9 111.7h0M552.1 130.5h0M567.5 101.5h0M555.9 100.8h0M459.2 104.8h0M493.5 105.7h0M471.2 105.8h0M472.2 101.4h0M483.9 156.8h0M462.5 101.4h0M464.3 105.0h0M471.3 111.1h0M455.5 33.5h0M481.3 115.9h0M562.6 103.6h0M465.3 105.7h0M555.0 133.8h0M598.6 104.1h0M452.7 100.9h0M471.4 100.6h0M480.5 105.5h0M474.4 98.7h0M471.3 141.1h0M483.0 99.1h0M464.9 103.7h0M519.1 133.8h0M476.1 98.2h0M479.7 83.2h0M536.5 90.7h0M490.1 106.8h0M441.5 69.6h0M462.6 88.7h0M611.6 96.2h0M470.6 115.7h0M471.1 83.0h0M483.2 100.3h0M487.3 103.0h0M473.7 117.3h0M454.0 106.4h0M523.0 93.4h0M514.2 146.0h0M583.6 96.8h0M483.1 102.1h0M551.4 75.2h0M567.3 196.6h0M507.1 88.9h0M491.9 53.7h0M439.1 104.2h0M473.7 108.9h0M475.5 105.2h0M475.7 106.5h0M456.1 108.5h0M492.9 108.9h0M488.9 103.0h0M468.5 99.3h0M555.7 96.8h0M463.3 101.2h0M600.3 99.1h0M484.2 110.6h0M471.9 191.6h0M596.9 97.8h0M607.6 24.1h0M466.0 115.5h0M514.4 102.1h0M485.1 195.3h0M493.4 114.9h0M505.1 3.7h0M467.9 58.8h0M444.9 108.1h0M497.6 97.6h0M487.5 99.0h0M475.4 102.8h0M477.0 67.2h0M525.8 204.8h0M469.5 89.5h0M472.5 99.7h0M465.0 27.2h0M447.4 65.1h0M464.9 102.9h0M495.9 92.5h0M581.1 103.4h0M569.0 95.1h0M464.3 100.8h0M492.1 99.5h0M529.7 98.9h0M465.2 205.6h0M459.0 100.6h0M485.5 92.7h0M473.8 108.9h0M503.4 99.0h0M466.0 102.8h0M554.2 95.9h0M522.3 102.7h0M467.7 97.8h0M488.0 109.9h0M476.5 99.3h0M611.0 105.0h0M474.3 203.1h0M465.1 101.3h0M466.3 116.3h0M464.5 98.5h0M586.2 110.1h0M553.8 103.1h0M473.2 105.6h0M472.9 98.9h0M482.6 105.3h0M552.9 96.5h0M524.3 167.8h0M595.2 122.4h0M456.8 92.1h0M576.4 116.2h0M494.7 108.3h0M618.0 103.5h0M598.8 93.9h0M501.3 53.9h0M605.9 119.2h0M461.6 100.6h0M436.3 85.6h0M562.5 106.2h0M557.2 169.1h0M528.8 96.6h0M538.7 108.5h0M494.3 106.7h0M449.8 108.0h0M599.0 99.9h0M473.3 96.6h0M476.5 34.6h0M484.4 53.8h0M474.0 95.5h0M464.2 106.3h0M478.6 91.8h0M472.0 60.8h0M477.8 95.8h0M460.0 109.0h0M495.4 139.5h0M454.9 101.2h0"/><path d="M483.1 97.4h0M455.5 107.9h0M501.7 97.1h0M540.8 98.6h0M493.1 99.0h0M504.3 101.5h0M448.6 103.7h0M493.9 97.4h0M507.4 90.9h0M594.1 80.3h0M468.3 102.8h0M615.3 99.3h0M517.7 80.1h0M542.6 41.6h0M540.5 37.3h0M493.0 91.5h0M546.5 102.9h0M491.5 98.8h0M535.9 181.5h0M473.4 101.0h0M471.9 129.5h0M483.3 88.4h0M515.4 28.0h0M465.9 91.7h0M492.4 176.6h0M518.8 174.3h0M541.7 190.0h0M471.3 94.5h0M498.7 92.6h0M483.6 100.9h0M489.4 86.3h0M474.2 107.7h0M449.2 109.8h0M481.7 96.7h0M444.5 89.6h0M593.4 169.3h0M452.3 110.5h0M527.7 88.0h0M481.9 55.2h0M571.5 205.7h0M471.1 100.4h0M529.8 100.6h0M483.2 100.7h0M447.6 105.7h0M501.1 106.9h0M587.8 87.8h0M444.3 121.0h0M580.4 98.9h0M482.2 113.0h0M443.4 72.4h0M506.4 103.7h0M556.0 97.0h0M596.7 103.2h0M462.3 84.2h0M574.4 24.1h0M512.2 53.8h0M550.2 99.7h0M464.2 178.4h0M479.9 106.9h0M522.2 106.8h0M490.4 98.8h0M471.0 103.1h0M487.1 92.6h0M541.9 98.6h0M470.4 156.7h0M445.1 104.5h0M582.8 98.2h0M460.3 104.8h0M559.2 12.5h0M448.5 103.6h0M429.1 101.4h0M509.2 18.6h0M472.6 98.7h0M466.9 94.2h0M497.4 107.5h0M561.4 106.7h0M470.6 100.4h0M553.7 96.6h0M601.8 90.6h0M524.9 185.6h0M482.5 79.8h0M489.2 46.1h0M492.2 103.0h0M516.9 107.4h0M559.4 86.6h0M519.7 99.0h0M537.2 104.5h0M484.4 29.8h0M491.3 103.1h0M571.2 101.4h0M465.4 134.3h0M474.8 103.6h0M513.3 104.8h0M551.9 120.8h0M580.1 102.5h0M474.8 176.5h0M503.8 131.2h0M504.3 96.8h0M427.4 106.9h0M481.3 39.4h0M487.0 113.5h0M461.3 149.7h0M439.5 89.3h0M566.0 86.4h0M516.4 99.3h0M468.5 97.9h0M545.3 74.1h0M451.9 98.3h0M563.3 207.1h0M563.7 93.3h0M506.9 64.7h0M482.1 -0.5h0M459.9 108.4h0M515.1 95.0h0M484.4 69.8h0M468.0 114.8h0M515.0 102.2h0M635.8 95.2h0M451.2 129.1h0M534.9 136.4h0M468.0 77.0h0M601.7 177.1h0M556.3 97.7h0M452.3 111.7h0M532.1 93.5h0M461.4 105.4h0M558.1 100.6h0M484.9 158.1h0M455.7 103.5h0M515.5 91.4h0M522.6 73.4h0M468.4 208.7h0M481.3 114.1h0M526.2 99.9h0M497.2 109.6h0M497.3 100.4h0M480.0 33.0h0M482.5 101.5h0M511.7 59.5h0M465.3 96.6h0M491.4 64.5h0M471.0 108.2h0M546.2 101.5h0M586.8 93.7h0M447.7 65.9h0M468.5 111.0h0M477.0 119.8h0M579.5 100.0h0M488.3 96.2h0M453.3 106.4h0M505.2 23.5h0M507.7 125.6h0M459.9 101.2h0M566.3 100.4h0M453.3 98.8h0M477.5 66.6h0M536.2 159.1h0M543.7 98.1h0M507.5 93.6h0M601.3 21.2h0M462.8 98.3h0M426.1 97.5h0M483.0 89.6h0M479.6 89.9h0M527.2 123.3h0M469.0 91.7h0M510.1 116.1h0M484.9 192.4h0M551.3 100.2h0M611.3 132.5h0M593.2 92.7h0M460.2 93.1h0M591.9 46.0h0M555.6 99.8h0"/><path d="M459.4 94.4h0M518.3 150.7h0M561.8 157.9h0M480.3 174.1h0M482.1 104.5h0M492.3 105.4h0M484.8 79.6h0M562.1 96.9h0M580.6 97.8h0M586.3 106.2h0M496.1 144.7h0M586.2 101.9h0M474.5 100.2h0M469.7 209.2h0M473.5 96.8h0M499.1 98.5h0M491.6 102.2h0M469.3 93.7h0M570.3 101.2h0M454.9 108.9h0M523.5 94.3h0M462.4 103.1h0M551.2 99.6h0M502.1 52.5h0M488.2 114.5h0M476.1 54.4h0M487.9 105.4h0M477.9 99.5h0M575.3 196.4h0M509.7 45.2h0M487.3 100.3h0M531.5 97.5h0M466.6 102.1h0M545.9 100.2h0M558.4 27.2h0M440.1 105.3h0M496.5 104.9h0M456.3 86.8h0M530.1 171.9h0M477.3 92.2h0M467.2 103.7h0M548.1 101.1h0M520.5 127.4h0M462.3 98.9h0M577.4 106.9h0M451.5 90.2h0M493.0 72.4h0M486.8 99.1h0M487.0 108.3h0M491.5 97.8h0M501.8 109.9h0M481.1 89.7h0M621.3 111.8h0M533.5 107.0h0M521.6 121.4h0M429.9 8.9h0M499.5 99.3h0M589.8 97.3h0M587.2 102.6h0M464.2 107.4h0M479.0 110.4h0M582.2 97.4h0M497.8 37.7h0M558.9 100.4h0M490.5 102.9h0M532.1 100.3h0M569.2 102.1h0M492.6 124.8h0M478.9 63.0h0M557.5 116.7h0M451.5 100.2h0M498.1 94.4h0M471.3 201.9h0M521.2 46.7h0M479.9 86.5h0M579.3 96.2h0M477.8 11.7h0M505.8 103.1h0M459.6 105.0h0M461.8 49.4h0M466.2 91.4h0M502.1 102.3h0M493.0 60.0h0M478.5 23.6h0M431.3 192.6h0M473.7 84.3h0M441.2 111.7h0M482.7 150.7h0M490.5 104.2h0M601.5 94.3h0M498.4 91.3h0M576.7 95.4h0M498.6 104.0h0M472.7 100.7h0M539.8 178.2h0M493.2 118.3h0M538.8 97.8h0M508.2 160.5h0M468.1 101.8h0M485.6 45.5h0M480.6 79.1h0M462.0 101.4h0M477.5 115.4h0M482.0 74.3h0M488.1 182.6h0M450.3 157.1h0M498.7 95.1h0M461.1 114.8h0M517.5 173.5h0M514.2 95.1h0M476.8 108.7h0M466.4 188.0h0M593.6 107.9h0M566.3 175.6h0M465.9 87.8h0M519.8 110.7h0M488.7 151.3h0M588.6 153.0h0M477.3 114.6h0M600.4 97.3h0M483.0 106.2h0M464.9 100.2h0M489.9 83.7h0M507.1 105.3h0M467.1 102.4h0M480.9 98.3h0M462.3 94.9h0M454.6 92.2h0M459.7 114.0h0M474.0 100.8h0M540.3 104.9h0M570.6 128.8h0M500.9 90.3h0M608.8 127.0h0M466.6 100.4h0M613.6 87.6h0M516.4 97.7h0M476.1 114.9h0M461.9 108.2h0M493.4 104.4h0M492.0 104.4h0M451.7 73.4h0M463.9 34.3h0M502.9 101.6h0M462.2 112.8h0M599.4 109.9h0M449.0 108.0h0M605.2 93.0h0M471.3 101.7h0M465.4 159.6h0M451.6 101.5h0M471.7 88.8h0M576.7 96.5h0M497.3 107.9h0M492.6 103.2h0M555.2 200.0h0M584.9 100.5h0M552.4 99.1h0M472.1 101.1h0M458.5 95.8h0M474.2 100.0h0M456.8 73.7h0M513.0 199.6h0M524.5 88.4h0M491.1 100.5h0M607.4 92.0h0M465.4 111.8h0M542.0 107.4h0M511.5 102.8h0M604.9 104.5h0M451.3 102.1h0M468.6 98.9h0M469.5 105.1h0M471.7 100.9h0"/><path d="M483.6 115.1h0M480.3 88.7h0M455.5 103.5h0M597.2 90.7h0M469.1 121.5h0M469.0 103.7h0M467.7 121.1h0M568.5 44.9h0M572.2 153.5h0M510.6 92.7h0M616.6 88.8h0M478.2 101.8h0M481.2 5.3h0M512.4 64.3h0M545.7 104.3h0M463.8 22.4h0M506.6 15.2h0M524.6 98.9h0M455.5 111.8h0M472.1 96.8h0M605.3 96.6h0M489.6 96.2h0M591.6 105.6h0M602.8 91.1h0M568.1 99.0h0M549.7 99.3h0M581.4 52.3h0M615.7 91.9h0M547.2 102.2h0M579.0 105.2h0M479.2 93.5h0M565.0 104.7h0M482.0 98.0h0M604.2 106.7h0M568.6 118.4h0M434.3 98.6h0M437.4 198.3h0M537.3 94.8h0M474.5 100.2h0M608.5 23.0h0M532.1 95.4h0M492.5 93.2h0M557.9 163.2h0M555.3 98.6h0M505.8 97.7h0M434.4 110.4h0M463.3 93.0h0M499.3 109.2h0M479.1 105.0h0M499.8 112.6h0M575.5 100.2h0M591.4 191.0h0M463.7 100.9h0M490.5 101.0h0M495.2 95.8h0M551.8 127.1h0M467.1 97.3h0M475.6 107.1h0M527.2 98.9h0M495.9 109.6h0M476.1 195.8h0M471.7 100.2h0M501.0 106.3h0M497.3 103.8h0M509.9 95.1h0M619.9 133.1h0M451.0 104.3h0M499.0 106.3h0M579.0 106.0h0M453.0 111.5h0M613.0 147.3h0M448.0 93.3h0M486.0 97.1h0M446.6 99.3h0M490.3 109.4h0M473.8 78.0h0M611.8 103.7h0M500.4 109.6h0M501.2 101.6h0M558.2 81.0h0M558.1 204.0h0M596.2 102.8h0M581.4 102.0h0M590.1 77.9h0M473.7 107.7h0M569.6 107.1h0M519.5 101.1h0M586.7 101.0h0M448.5 100.5h0M467.3 141.2h0M602.0 108.9h0M442.4 16.0h0M471.8 92.6h0M611.8 151.8h0M496.5 74.1h0M480.8 99.4h0M483.4 24.8h0M614.0 85.8h0M488.9 150.5h0M510.7 97.6h0M490.9 30.5h0M507.3 98.9h0M514.2 105.1h0M550.6 93.4h0M573.7 135.4h0M589.7 101.4h0M496.9 99.1h0M494.5 95.6h0M484.6 67.4h0M466.2 116.3h0M490.0 24.0h0M479.2 100.0h0M577.5 102.1h0M500.7 111.8h0M505.1 98.4h0M480.2 101.8h0M473.0 100.1h0M486.2 103.3h0M605.6 100.0h0M567.6 135.0h0M551.4 106.2h0M605.3 3.2h0M464.5 28.8h0M454.2 110.0h0M476.8 100.5h0M457.3 99.3h0M485.9 91.2h0M582.2 96.1h0M450.3 104.2h0M485.7 207.0h0M480.5 103.4h0M468.6 99.5h0M478.4 101.1h0M497.0 98.8h0M463.5 102.1h0M484.5 99.5h0M477.9 112.4h0M541.4 97.8h0M468.2 105.8h0M506.2 97.0h0M461.8 104.7h0M443.0 107.4h0M500.4 101.5h0M481.3 100.3h0M549.3 97.2h0M544.2 195.8h0M455.5 93.7h0M573.4 77.5h0M474.6 98.8h0M462.0 96.5h0M448.0 125.9h0M449.9 105.4h0M469.4 77.6h0M455.3 113.9h0M555.3 141.7h0M478.4 110.1h0M462.5 84.9h0M607.4 79.5h0M483.3 96.4h0M456.2 126.0h0M474.3 103.1h0M488.7 74.3h0M454.0 103.3h0M601.9 98.7h0M601.5 104.6h0M481.7 17.0h0M505.9 102.7h0M480.6 102.7h0M565.9 108.8h0M612.7 92.7h0M577.8 106.3h0M463.3 97.4h0M472.3 205.2h0M477.0 101.9h0"/><path d="M465.7 160.1h0M577.3 97.5h0M474.3 102.9h0M591.1 96.5h0M442.3 112.2h0M496.6 101.3h0M478.6 96.3h0M447.0 202.6h0M617.6 102.5h0M474.1 89.1h0M592.7 73.9h0M529.9 64.1h0M468.0 103.3h0M594.7 102.6h0M472.5 101.0h0M442.9 104.4h0M479.8 104.1h0M481.9 98.4h0M504.9 102.3h0M489.4 105.9h0M607.7 127.1h0M608.3 202.0h0M570.1 97.1h0M453.6 109.4h0M481.6 84.2h0M526.1 102.2h0M462.0 112.6h0M533.3 91.0h0M551.5 103.7h0M474.6 88.2h0M479.9 117.2h0M592.5 173.5h0M493.2 96.8h0M469.0 96.9h0M554.3 102.2h0M563.9 6.8h0M611.8 93.6h0M560.1 95.1h0M587.6 103.0h0M599.1 95.9h0M478.8 91.8h0M569.0 0.1h0M475.7 91.6h0M473.0 156.8h0M530.0 95.5h0M537.8 69.3h0M470.5 106.7h0M439.3 98.8h0M502.1 10.6h0M603.8 97.8h0M465.3 111.2h0M477.5 93.4h0M486.4 193.3h0M452.4 161.4h0M473.4 104.3h0M467.7 65.1h0M471.5 51.7h0M462.5 99.3h0M531.9 155.6h0M606.7 95.3h0M481.5 54.8h0M601.8 102.1h0M441.1 107.1h0M461.7 92.9h0M576.9 96.6h0M523.3 180.0h0M504.6 79.5h0M595.7 101.4h0M599.5 -0.9h0M471.2 104.1h0M460.6 106.6h0M482.0 108.4h0M530.9 96.3h0M518.7 96.2h0M513.3 102.7h0M450.1 61.0h0M476.3 98.8h0M484.4 87.7h0M462.5 30.6h0M467.6 91.8h0M478.9 96.1h0M553.6 100.9h0M440.8 116.2h0M567.5 100.4h0M514.0 99.8h0M601.6 166.3h0M502.6 105.0h0M593.7 104.7h0M599.6 153.7h0M503.0 98.5h0M466.0 121.9h0M455.0 88.6h0M473.6 103.0h0M473.4 82.1h0M563.1 108.4h0M483.9 94.4h0M574.2 106.3h0M475.1 99.8h0M484.0 104.7h0M513.7 96.1h0M519.0 103.3h0M503.0 106.4h0M530.8 48.2h0M465.4 103.2h0M539.0 163.5h0M492.6 122.8h0M470.4 59.2h0M594.2 99.5h0M523.1 84.2h0M484.9 69.2h0M503.1 104.2h0M463.8 113.9h0M602.7 102.6h0M525.0 96.4h0M454.3 99.9h0M454.6 168.0h0M598.7 94.0h0M484.4 5.0h0M465.3 97.3h0M496.3 74.7h0M503.1 98.3h0M570.3 93.0h0M514.4 66.0h0M486.2 108.7h0M463.0 111.0h0M588.3 94.8h0M458.7 102.0h0M450.9 107.1h0M559.2 74.6h0M482.1 152.5h0M600.6 27.1h0M449.9 106.6h0M604.2 97.4h0M493.1 109.9h0M595.2 91.2h0M457.4 102.3h0M548.0 111.8h0M532.9 105.9h0M562.9 103.8h0M521.9 54.4h0M587.5 100.8h0M440.2 100.2h0M484.3 81.1h0M520.8 109.1h0M577.9 101.2h0M538.8 168.9h0M537.3 85.8h0M535.2 12.8h0M525.9 123.3h0M537.9 117.5h0M519.8 97.7h0M571.9 147.6h0M465.3 101.2h0M443.2 99.6h0M477.1 98.1h0M471.1 153.2h0M505.2 94.6h0M499.5 99.9h0M478.9 98.6h0M474.9 109.8h0M518.6 107.2h0M494.1 99.8h0M493.7 102.7h0M501.2 67.4h0M521.7 102.5h0M481.7 103.8h0M557.3 98.6h0M566.0 104.2h0M448.6 124.9h0M462.7 157.6h0M559.8 94.9h0M503.1 113.2h0M428.3 97.7h0M428.3 115.7h0"/><path d="M539.1 154.5h0M568.3 97.3h0M529.7 130.1h0M493.8 174.5h0M633.8 105.8h0M600.5 105.3h0M499.0 168.4h0M479.6 107.3h0M556.5 93.4h0M496.8 98.3h0M465.1 201.5h0M455.5 109.9h0M475.2 106.5h0M510.1 24.6h0M556.9 105.7h0M456.2 94.8h0M466.8 119.4h0M472.1 114.5h0M473.6 96.3h0M505.0 88.6h0M470.4 106.6h0M609.5 72.4h0M551.4 172.9h0M565.5 102.9h0M486.8 68.9h0M462.5 108.6h0M430.4 106.4h0M511.9 206.5h0M484.5 106.9h0M574.3 52.5h0M506.1 81.4h0M590.4 95.1h0M579.5 93.1h0M480.3 94.8h0M606.4 94.8h0M550.9 94.1h0M608.2 57.3h0M481.6 98.5h0M526.9 90.5h0M481.6 103.8h0M468.1 106.7h0M528.8 177.4h0M471.9 106.9h0M537.5 95.2h0M607.8 119.1h0M458.7 109.0h0M466.0 98.8h0M456.0 100.5h0M491.7 101.9h0M477.7 96.1h0M513.7 143.2h0M439.4 103.7h0M460.8 100.9h0M610.5 93.3h0M552.5 100.2h0M458.7 96.0h0M472.9 102.7h0M474.2 105.7h0M538.8 102.4h0M449.6 73.4h0M604.6 110.0h0M485.1 89.8h0M447.6 145.5h0M495.6 66.7h0M474.6 47.5h0M511.9 105.0h0M556.1 21.5h0M467.5 95.0h0M513.8 116.8h0M526.5 97.0h0M524.1 93.0h0M566.3 103.8h0M509.7 103.7h0M475.2 102.4h0M549.6 105.1h0M483.4 104.7h0M550.8 78.7h0M520.2 46.3h0M508.1 104.8h0M541.5 97.2h0M547.2 44.6h0M572.9 97.8h0M469.1 91.2h0M629.3 208.8h0M480.5 104.2h0M495.6 106.5h0M465.5 135.8h0M480.4 93.3h0M475.8 110.5h0M502.2 114.7h0M564.6 91.5h0M589.2 103.0h0M512.3 99.8h0M535.9 29.7h0M475.2 79.8h0M579.8 99.8h0M503.5 47.3h0M471.9 104.1h0M494.1 107.8h0M465.2 98.5h0M469.3 111.9h0M492.1 104.8h0M549.7 112.5h0M492.6 126.5h0M521.6 98.5h0M477.5 100.7h0M547.5 100.6h0M494.7 103.2h0M469.1 104.4h0M489.7 101.9h0M489.0 31.7h0M476.8 98.8h0M555.3 110.8h0M504.0 102.3h0M462.8 105.6h0M565.7 100.5h0M472.1 102.9h0M517.4 183.2h0M481.3 185.8h0M519.2 31.5h0M470.3 108.1h0M469.8 19.1h0M463.9 24.3h0M482.0 16.9h0M447.8 107.2h0M555.5 105.9h0M577.1 64.4h0M455.9 127.4h0M555.5 14.2h0M490.0 101.1h0M550.8 102.6h0M466.5 116.5h0M484.6 109.9h0M627.1 95.0h0M450.2 101.5h0M561.9 29.4h0M511.7 106.7h0M463.6 107.5h0M562.5 106.0h0M575.2 94.7h0M481.9 95.0h0M462.5 94.7h0M552.4 101.5h0M468.1 34.2h0M437.9 97.7h0M575.9 93.2h0M464.2 172.3h0M448.0 55.8h0M577.9 90.4h0M492.3 95.4h0M461.7 88.7h0M469.9 91.3h0M502.9 106.1h0M533.3 83.7h0M446.9 106.4h0M540.1 102.4h0M457.4 111.3h0M489.3 46.0h0M517.1 100.9h0M645.3 139.5h0M543.1 146.4h0M478.0 98.4h0M554.0 99.1h0M468.2 191.9h0M562.7 18.0h0M475.7 104.1h0M511.0 112.2h0M500.0 198.0h0M492.3 88.1h0M493.3 117.3h0M572.9 194.5h0M567.7 132.9h0M503.5 102.7h0M491.1 95.1h0"/><path d="M469.1 97.5h0M584.0 39.4h0M459.9 106.9h0M600.6 102.4h0M476.8 106.5h0M463.9 107.1h0M471.3 103.1h0M608.6 98.0h0M583.0 101.4h0M505.2 107.3h0M469.2 98.9h0M500.8 87.0h0M457.2 104.6h0M548.4 94.1h0M554.2 105.5h0M474.5 104.7h0M441.4 94.7h0M449.9 198.4h0M586.7 96.3h0M513.0 65.8h0M623.8 101.7h0M459.0 106.7h0M476.2 93.6h0M478.1 99.4h0M508.0 99.1h0M594.2 99.7h0M519.4 204.2h0M473.0 108.8h0M497.6 90.1h0M596.0 70.8h0M471.5 108.4h0M542.0 93.3h0M601.1 50.2h0M490.8 102.3h0M523.4 123.7h0M477.7 110.5h0M540.8 108.7h0M514.9 93.4h0M451.4 104.0h0M475.9 99.8h0M487.0 97.3h0M439.5 99.0h0M480.8 95.1h0M572.4 96.8h0M467.2 112.1h0M592.9 100.2h0M475.2 107.0h0M534.1 150.4h0M484.3 104.7h0M518.1 107.4h0M504.4 103.9h0M467.5 96.4h0M458.2 63.3h0M613.4 95.8h0M467.0 103.6h0M472.6 73.2h0M602.7 94.8h0M446.2 59.7h0M471.2 171.9h0M573.6 154.6h0M477.9 100.1h0M527.0 68.7h0M452.4 95.7h0M458.4 30.0h0M495.6 103.3h0M571.6 96.2h0M581.6 104.4h0M472.2 92.1h0M518.3 192.9h0M477.0 188.3h0M491.2 99.4h0M508.5 106.1h0M589.4 93.6h0M559.7 104.8h0M504.6 99.5h0M488.6 49.4h0M575.8 183.4h0M473.4 102.6h0M480.8 101.2h0M571.7 102.0h0M588.9 103.0h0M470.2 113.2h0M495.9 47.5h0M458.2 94.8h0M540.2 52.4h0M563.7 97.4h0M556.7 97.5h0M500.6 113.6h0M617.7 100.4h0M615.4 13.8h0M600.3 118.2h0M538.4 92.6h0M465.6 101.0h0M460.8 111.1h0M609.5 100.3h0M489.2 100.1h0M536.9 99.5h0M468.1 105.8h0M580.0 98.8h0M511.1 78.8h0M483.6 145.5h0M543.5 92.1h0M469.8 79.1h0M487.2 97.5h0M538.7 101.4h0M494.3 112.5h0M445.6 75.7h0M470.5 101.4h0M592.8 160.1h0M589.3 100.7h0M571.5 97.3h0M568.0 6.8h0M473.8 100.3h0M544.1 69.7h0M475.0 107.7h0M492.1 91.8h0M565.7 114.7h0M495.9 102.7h0M492.4 101.2h0M524.3 101.8h0M421.8 96.6h0M470.2 105.8h0M467.9 104.4h0M471.3 116.5h0M535.8 94.4h0M500.6 97.6h0M575.1 107.9h0M586.7 84.5h0M476.0 103.7h0M527.6 100.6h0M494.0 98.1h0M479.9 108.2h0M459.4 103.5h0M525.8 101.6h0M620.8 60.3h0M460.7 106.0h0M463.1 101.8h0M548.5 114.1h0M503.2 100.2h0M564.8 43.7h0M471.2 88.4h0M599.0 105.5h0M468.3 105.0h0M501.8 96.1h0M526.6 100.2h0M534.1 162.5h0M607.4 89.1h0M566.6 102.8h0M519.5 206.3h0M471.9 162.9h0M480.0 111.6h0M581.1 95.8h0M467.4 108.3h0M475.5 51.3h0M485.3 92.3h0M511.2 44.1h0M474.8 98.6h0M536.4 98.9h0M474.8 96.4h0M453.5 102.6h0M551.0 190.6h0M612.4 94.3h0M473.8 93.3h0M583.9 92.8h0M463.3 100.0h0M547.1 105.7h0M458.5 99.0h0M509.4 99.0h0M494.8 86.5h0M535.9 107.9h0M499.5 101.7h0M468.5 103.5h0M488.6 106.4h0M524.5 100.8h0"/><path d="M451.4 113.5h0M463.9 99.8h0M527.3 123.9h0M488.6 102.5h0M625.4 97.2h0M477.6 102.8h0M477.2 84.2h0M452.3 100.7h0M530.8 111.3h0M598.0 103.6h0M578.9 134.5h0M556.1 107.8h0M494.6 93.9h0M495.2 182.3h0M616.6 96.3h0M471.7 112.9h0M542.3 91.9h0M486.6 80.7h0M473.8 138.0h0M528.6 103.9h0M450.9 102.7h0M558.0 102.5h0M444.2 99.7h0M469.1 48.5h0M558.7 193.6h0M568.3 99.8h0M451.4 104.8h0M578.6 101.0h0M410.0 95.5h0M491.8 101.0h0M497.3 99.0h0M488.4 103.7h0M442.2 2.5h0M542.7 99.9h0M454.5 105.0h0M445.6 202.6h0M468.0 91.4h0M473.5 95.7h0M475.9 114.3h0M462.9 106.9h0M467.9 108.4h0M470.4 115.5h0M480.0 85.3h0M473.1 126.7h0M442.7 53.0h0M590.8 95.1h0M579.7 102.2h0M461.3 0.2h0M501.4 43.9h0M502.3 113.4h0M453.6 97.4h0M466.3 103.3h0M492.1 101.7h0M479.7 90.5h0M460.7 109.5h0M510.8 103.5h0M516.0 92.4h0M502.2 160.8h0M487.1 98.2h0M459.4 116.3h0M444.3 132.1h0M448.7 99.7h0M513.2 82.8h0M601.7 106.0h0M474.7 84.7h0M553.9 104.4h0M459.6 101.0h0M469.5 79.5h0M542.5 104.9h0M558.1 191.8h0M503.6 108.1h0M458.6 102.3h0M473.2 66.2h0M557.6 122.4h0M557.7 94.7h0M564.6 100.8h0M562.5 192.4h0M489.4 106.9h0M477.9 99.9h0M598.7 171.5h0M443.7 105.3h0M479.8 107.0h0M480.2 114.5h0M465.8 95.2h0M455.7 119.5h0M517.0 119.0h0M609.1 98.8h0M575.1 44.4h0M501.9 193.4h0M467.9 102.0h0M540.8 95.0h0M583.6 108.6h0M506.1 2.6h0M578.1 98.3h0M468.4 91.5h0M480.4 106.1h0M492.8 106.2h0M434.5 108.3h0M564.2 99.1h0M439.0 105.8h0M589.7 101.4h0M438.6 107.3h0M456.0 97.7h0M564.9 95.9h0M581.3 99.8h0M486.1 203.5h0M463.3 77.7h0M491.2 120.5h0M488.8 115.1h0M452.7 98.7h0M450.6 160.0h0M467.3 121.7h0M508.7 90.8h0M584.3 97.5h0M477.0 5.4h0M525.0 89.6h0M471.6 101.1h0M506.5 98.8h0M451.7 99.2h0M515.0 27.4h0M459.9 100.0h0M467.9 143.6h0M513.6 105.2h0M601.1 100.3h0M594.6 102.3h0M474.1 102.6h0M618.5 149.7h0M445.6 117.3h0M497.1 102.5h0M447.0 103.1h0M588.4 101.6h0M492.6 93.8h0M606.7 103.6h0M468.6 107.6h0M531.2 2.4h0M475.5 115.3h0M462.0 98.4h0M530.7 95.4h0M558.6 97.2h0M461.6 88.5h0M485.0 104.6h0M553.3 105.4h0M589.8 95.8h0M495.2 102.1h0M416.7 104.1h0M569.9 85.2h0M569.3 129.3h0M574.0 93.0h0M594.7 85.7h0M489.4 103.2h0M465.2 94.4h0M469.7 104.9h0M584.6 168.0h0M557.4 100.5h0M575.4 98.4h0M510.4 144.9h0M458.9 57.3h0M458.3 121.1h0M480.1 113.0h0M531.9 87.5h0M516.8 97.9h0M470.5 108.1h0M471.6 102.0h0M516.7 42.5h0M518.9 52.5h0M491.5 96.6h0M558.4 20.6h0M498.3 97.8h0M506.8 101.5h0M515.3 103.1h0M617.5 87.1h0M450.9 161.8h0M486.2 107.5h0M451.0 176.0h0"/><path d="M467.0 176.0h0M570.2 166.9h0M532.2 93.7h0M464.9 116.5h0M438.6 104.7h0M471.0 108.5h0M489.2 103.6h0M488.0 98.6h0M459.8 148.0h0M463.1 107.1h0M467.0 105.7h0M474.0 108.6h0M560.6 157.6h0M579.9 114.4h0M458.3 89.9h0M479.8 107.7h0M568.4 30.0h0M526.2 22.9h0M593.2 102.2h0M583.2 40.2h0M480.6 102.8h0M475.1 201.8h0M552.1 107.0h0M573.7 95.6h0M587.7 98.6h0M482.4 95.4h0M488.9 103.9h0M479.3 104.1h0M480.4 99.2h0M568.4 112.2h0M473.1 102.3h0M490.2 108.3h0M599.0 100.5h0M451.6 104.5h0M469.8 107.6h0M470.7 104.1h0M557.0 95.3h0M494.1 88.7h0M509.8 64.0h0M462.6 85.5h0M529.9 100.1h0M467.4 201.3h0M539.8 87.6h0M575.5 103.2h0M455.9 99.5h0M507.4 54.1h0M434.1 104.2h0M455.7 100.8h0M502.6 96.1h0M583.6 109.2h0M569.8 99.7h0M549.5 91.2h0M517.7 96.5h0M505.7 101.5h0M511.4 95.0h0M547.2 102.0h0M558.5 136.0h0M555.0 166.1h0M478.8 105.9h0M485.0 103.3h0M613.6 85.4h0M471.7 100.7h0M514.5 100.2h0M492.9 96.8h0M610.7 98.7h0M485.1 98.7h0M489.7 93.6h0M489.4 101.6h0M558.9 40.6h0M553.0 113.3h0M457.7 105.2h0M607.3 72.2h0M475.2 182.1h0M573.1 107.1h0M499.6 97.8h0M573.4 203.2h0M485.6 105.5h0M453.9 160.4h0M491.6 38.2h0M480.9 100.4h0M524.1 91.1h0M477.7 100.0h0M476.3 101.5h0M476.1 189.1h0M580.6 133.2h0M458.4 106.7h0M457.9 105.8h0M464.8 95.7h0M467.6 98.1h0M473.6 109.1h0M476.1 97.3h0M544.2 114.4h0M465.2 107.2h0M582.2 117.2h0M495.0 91.3h0M599.3 97.3h0M494.2 101.2h0M475.5 119.6h0M466.7 94.6h0M485.6 100.0h0M461.1 100.2h0M435.3 98.6h0M442.9 114.8h0M582.3 98.6h0M460.4 95.9h0M467.9 102.6h0M518.7 102.3h0M563.0 87.2h0M452.9 143.9h0M594.1 8.4h0M601.4 102.8h0M514.6 97.7h0M508.8 78.9h0M468.0 102.6h0M587.2 62.8h0M619.0 102.7h0M548.3 181.3h0M453.7 209.8h0M483.4 96.3h0M507.1 100.1h0M444.6 47.8h0M474.4 97.1h0M501.8 100.9h0M460.0 97.5h0M620.7 97.5h0M483.9 89.7h0M477.2 105.2h0M606.8 93.5h0M587.5 55.8h0M488.0 96.7h0M473.4 99.7h0M466.5 177.3h0M488.4 102.9h0M479.8 95.3h0M478.5 97.1h0M610.3 57.3h0M461.0 99.9h0M511.4 78.6h0M604.4 96.7h0M540.3 51.5h0M522.2 105.6h0M596.9 133.5h0M509.0 161.2h0M530.8 193.7h0M477.0 102.1h0M480.3 115.2h0M473.0 123.3h0M476.7 134.2h0M583.2 100.0h0M485.1 101.9h0M495.1 105.4h0M481.9 94.6h0M495.5 41.2h0M478.3 129.8h0M593.6 111.1h0M474.3 107.1h0M616.5 98.0h0M557.5 97.1h0M586.6 106.4h0M608.9 81.3h0M606.7 104.8h0M511.3 100.3h0M527.5 83.1h0M584.8 128.3h0M548.0 99.7h0M478.4 101.7h0M566.4 106.4h0M476.0 108.6h0M486.9 146.0h0M495.7 104.8h0M476.8 106.1h0M563.9 101.7h0M521.5 98.3h0M535.2 98.3h0"/><path d="M509.4 101.2h0M572.2 99.0h0M482.6 103.3h0M570.1 122.8h0M475.5 98.9h0M524.5 137.1h0M538.3 97.2h0M486.5 103.9h0M576.7 105.1h0M612.0 169.5h0M497.5 101.4h0M606.0 176.4h0M514.2 103.2h0M513.2 103.9h0M599.2 2.0h0M466.6 106.2h0M606.6 94.4h0M460.8 107.5h0M584.6 95.1h0M547.2 153.0h0M506.2 101.9h0M511.9 184.5h0M441.4 101.8h0M606.4 97.9h0M484.2 105.8h0M523.9 38.2h0M597.2 116.4h0M580.7 103.9h0M467.3 104.0h0M457.9 100.5h0M456.5 102.2h0M474.6 184.9h0M466.6 171.6h0M454.1 105.9h0M508.3 66.3h0M537.0 101.3h0M477.5 102.9h0M462.3 113.9h0M485.5 98.4h0M493.5 95.6h0M496.9 90.9h0M471.7 100.7h0M487.5 103.3h0M551.1 99.0h0M459.9 103.9h0M521.7 87.1h0M444.5 113.1h0M468.5 94.8h0M529.9 12.1h0M476.2 106.2h0M469.6 107.0h0M518.9 102.5h0M574.1 40.7h0M477.6 99.2h0M436.5 99.6h0M578.2 194.1h0M443.4 138.5h0M448.9 81.3h0M480.3 104.1h0M555.5 105.7h0M459.3 91.4h0M458.2 168.5h0M505.4 16.7h0M446.1 102.5h0M574.4 99.6h0M467.8 25.2h0M473.4 55.6h0M533.7 102.3h0M480.7 107.6h0M484.8 118.8h0M602.7 166.2h0M560.7 100.5h0M479.8 89.4h0M618.5 118.1h0M497.5 107.2h0M583.1 96.9h0M571.7 102.1h0M465.5 94.7h0M588.5 88.8h0M588.4 28.9h0M542.0 100.2h0M464.7 98.4h0M498.2 40.5h0M514.3 103.0h0M467.9 58.7h0M620.8 105.1h0M466.0 97.9h0M486.5 88.8h0M507.7 108.5h0M478.6 105.6h0M464.3 113.8h0M563.7 80.9h0M531.4 158.0h0M526.2 95.6h0M501.7 142.8h0M598.3 93.2h0M508.8 93.2h0M499.4 90.1h0M487.6 99.5h0M523.9 100.6h0M508.6 108.8h0M496.6 105.5h0M613.6 105.8h0M482.6 100.6h0M564.0 102.9h0M467.2 95.4h0M502.8 105.5h0M512.4 121.1h0M540.3 93.4h0M485.7 112.8h0M483.4 42.4h0M549.3 148.8h0M516.9 183.1h0M576.3 95.8h0M625.4 104.8h0M550.7 87.3h0M554.9 102.5h0M599.7 81.7h0M486.2 71.4h0M440.3 106.4h0M494.4 101.4h0M465.3 97.9h0M474.6 101.4h0M464.2 106.8h0M551.5 197.9h0M534.0 102.1h0M563.1 77.9h0M497.0 100.1h0M466.2 20.0h0M465.0 100.6h0M490.3 100.1h0M595.2 93.6h0M484.2 106.7h0M500.8 107.3h0M565.9 98.0h0M520.8 108.5h0M452.3 100.7h0M577.2 96.9h0M460.2 53.9h0M480.7 114.0h0M475.0 108.2h0M460.3 98.7h0M473.7 99.0h0M521.0 106.2h0M497.9 98.7h0M552.4 113.3h0M443.8 126.5h0M574.3 103.0h0M515.2 167.8h0M469.9 94.6h0M466.4 182.6h0M467.0 76.6h0M485.4 98.5h0M612.8 9.0h0M506.5 195.0h0M464.9 107.2h0M465.9 93.2h0M470.8 113.6h0M455.3 14.1h0M590.1 97.9h0M465.3 106.0h0M480.5 97.2h0M563.2 96.8h0M462.5 105.8h0M476.1 97.5h0M521.8 99.3h0M464.9 114.5h0M486.5 48.6h0M513.5 91.1h0M494.9 52.3h0M436.5 83.3h0M565.9 102.6h0M489.6 106.8h0M494.3 107.1h0"/><path d="M469.5 104.7h0M445.3 163.1h0M456.1 109.5h0M465.4 99.4h0M530.1 80.9h0M529.0 187.0h0M592.0 101.7h0M476.3 101.5h0M474.1 93.8h0M477.9 117.3h0M494.3 99.5h0M539.0 99.8h0M507.1 73.0h0M481.6 92.6h0M457.4 101.7h0M475.4 109.4h0M480.3 99.3h0M617.1 99.9h0M487.4 89.6h0M464.6 102.2h0M457.8 160.4h0M454.4 41.9h0M505.8 100.4h0M485.7 101.4h0M606.2 98.7h0M549.9 36.9h0M490.2 114.1h0M575.1 191.6h0M506.2 91.2h0M458.9 96.2h0M571.7 95.6h0M462.1 94.4h0M603.0 96.2h0M479.7 99.0h0M493.3 107.9h0M543.7 79.8h0M532.4 64.6h0M459.9 116.3h0M440.5 33.7h0M458.7 109.0h0M510.4 89.6h0M562.4 107.7h0M459.6 35.7h0M464.3 99.2h0M506.5 89.2h0M492.7 90.4h0M488.8 68.9h0M521.2 116.4h0M440.9 82.8h0M448.2 78.0h0M469.3 111.0h0M474.0 100.2h0M548.0 104.9h0M477.8 115.8h0M527.6 63.4h0M471.2 166.8h0M455.3 99.1h0M537.6 203.6h0M515.1 97.6h0M482.0 100.1h0M462.9 101.7h0M458.1 105.1h0M487.7 111.6h0M453.9 97.7h0M596.5 98.8h0M620.4 104.1h0M568.2 93.9h0M508.0 108.8h0M471.0 100.5h0M457.0 102.0h0M577.5 93.3h0M470.6 88.8h0M479.7 107.1h0M580.1 91.9h0M546.1 106.3h0M482.2 108.1h0M551.4 159.9h0M480.6 98.5h0M504.7 39.0h0M488.5 102.1h0M440.7 144.7h0M473.9 97.0h0M477.2 99.6h0M482.5 100.9h0M468.8 100.7h0M505.0 76.1h0M594.2 -0.9h0M497.6 102.6h0M518.6 91.9h0M458.6 117.4h0M474.6 105.9h0M473.6 108.9h0M459.0 105.3h0M465.6 96.2h0M481.7 127.9h0M582.3 97.8h0M491.1 91.2h0M494.0 102.4h0M473.4 62.7h0M472.0 97.5h0M449.2 98.8h0M611.2 24.8h0M524.4 7.2h0M514.8 61.8h0M470.7 105.5h0M602.5 92.8h0M490.7 83.0h0M446.6 68.6h0M478.7 102.5h0M487.1 92.9h0M499.4 99.5h0M453.9 101.2h0M487.0 104.6h0M600.6 74.9h0M501.2 98.7h0M459.0 103.3h0M565.8 75.1h0M474.2 101.7h0M574.0 105.3h0M555.4 110.0h0M542.2 183.8h0M499.8 34.3h0M462.6 105.2h0M624.4 87.3h0M492.2 15.1h0M599.5 93.6h0M479.7 115.8h0M483.9 102.9h0M535.9 103.3h0M543.8 97.4h0M607.1 98.8h0M535.7 108.8h0M487.5 115.2h0M485.8 95.6h0M463.8 99.7h0M573.2 96.1h0M532.5 104.5h0M458.8 105.1h0M554.7 82.2h0M600.8 92.8h0M538.7 88.2h0M527.7 98.7h0M517.7 95.4h0M467.2 181.6h0M502.5 101.7h0M494.6 77.9h0M511.0 9.8h0M585.2 109.1h0M504.9 101.5h0M495.5 88.5h0M483.4 42.7h0M547.4 89.1h0M512.0 101.8h0M483.6 98.6h0M457.7 124.6h0M557.8 89.6h0M472.1 104.7h0M446.9 101.1h0M501.5 94.2h0M566.3 101.8h0M596.9 172.6h0M475.8 91.4h0M446.2 114.5h0M444.8 100.7h0M446.0 98.0h0M590.6 99.5h0M563.7 149.9h0M454.4 102.3h0M606.8 92.1h0M471.2 202.8h0M519.9 104.8h0M607.9 96.4h0M455.3 98.7h0M486.7 117.6h0"/><path d="M489.1 102.6h0M490.4 13.0h0M591.1 68.9h0M460.7 105.7h0M481.3 94.5h0M462.5 91.0h0M556.2 191.9h0M470.5 91.8h0M470.2 111.0h0M451.9 102.5h0M452.4 100.0h0M454.1 94.1h0M468.4 106.7h0M470.4 68.6h0M464.5 115.1h0M460.5 75.6h0M474.7 10.4h0M515.4 67.7h0M559.2 92.5h0M465.7 100.4h0M530.9 98.3h0M510.4 105.3h0M502.5 98.4h0M502.0 102.0h0M490.5 112.9h0M595.1 103.8h0M591.2 96.8h0M460.4 103.2h0M448.0 189.9h0M607.8 186.8h0M490.7 101.5h0M464.5 143.0h0M487.6 86.8h0M524.4 98.0h0M563.1 45.3h0M504.4 172.4h0M463.4 105.1h0M480.8 108.0h0M498.7 90.3h0M483.8 107.1h0M493.2 107.6h0M487.0 73.6h0M616.5 107.2h0M469.1 105.3h0M561.2 96.1h0M480.4 101.1h0M563.2 96.1h0M504.2 11.0h0M457.6 92.9h0M506.0 96.0h0M468.6 98.0h0M516.9 201.4h0M462.9 192.6h0M467.9 102.0h0M438.4 89.4h0M515.4 78.8h0M547.7 98.1h0M460.9 104.6h0M480.5 106.6h0M594.6 93.3h0M441.5 89.3h0M574.0 134.8h0M460.6 72.1h0M444.8 103.5h0M497.9 107.2h0M542.8 121.3h0M494.8 93.3h0M462.9 112.8h0M449.6 85.5h0M443.2 102.3h0M525.2 94.6h0M605.8 104.2h0M507.8 91.5h0M492.3 106.3h0M458.4 105.1h0M467.7 158.7h0M575.1 106.1h0M548.6 105.2h0M468.6 94.3h0M452.3 193.0h0M473.2 99.3h0M473.0 106.8h0M474.0 35.0h0M500.1 103.1h0M601.9 100.1h0M470.1 106.2h0M477.7 100.1h0M465.6 88.5h0M457.5 96.9h0M583.9 98.9h0M494.6 96.4h0M601.7 14.2h0M502.5 74.5h0M478.1 106.6h0M561.1 103.1h0M605.6 101.9h0M536.9 101.6h0M494.4 115.4h0M520.1 87.4h0M458.2 109.0h0M470.4 103.7h0M550.2 55.1h0M457.0 100.5h0M481.5 98.4h0M503.4 55.6h0M475.8 72.5h0M541.2 110.5h0M472.4 98.5h0M576.5 102.8h0M577.4 103.7h0M465.9 115.5h0M449.8 159.6h0M454.9 106.3h0M561.5 112.9h0M521.9 108.4h0M474.5 107.4h0M454.1 118.6h0M462.6 135.9h0M433.9 73.1h0M517.5 159.5h0M506.9 162.3h0M472.6 81.1h0M485.9 95.6h0M552.9 -1.4h0M481.6 78.7h0M469.6 171.8h0M576.0 150.4h0M486.5 103.0h0M508.2 121.8h0M454.3 102.4h0M573.6 99.5h0M445.8 110.5h0M451.7 101.5h0M473.4 102.2h0M480.9 53.7h0M500.8 99.2h0M472.8 86.7h0M489.6 79.0h0M506.6 103.6h0M472.8 98.4h0M472.3 142.3h0M473.4 176.1h0M602.9 100.0h0M498.0 93.0h0M627.1 105.8h0M442.3 102.9h0M472.1 103.0h0M522.9 95.9h0M434.8 98.9h0M580.9 109.1h0M510.8 193.7h0M481.5 107.5h0M521.8 95.4h0M458.9 109.2h0M560.1 100.2h0M468.5 91.3h0M591.6 107.5h0M479.2 99.6h0M555.8 102.0h0M556.6 73.5h0M560.9 102.8h0M486.1 113.1h0M575.2 175.3h0M482.9 94.0h0M473.3 89.0h0M458.2 102.0h0M469.7 85.2h0M453.8 103.5h0M473.9 68.9h0M460.2 112.1h0M536.9 105.7h0M461.5 182.3h0M508.8 97.9h0M614.4 96.4h0"/><path d="M587.1 92.3h0M477.5 109.8h0M499.4 71.1h0M534.3 98.8h0M578.8 91.7h0M577.8 94.2h0M471.6 102.9h0M569.2 100.1h0M474.5 97.3h0M568.9 97.9h0M586.7 83.3h0M598.9 149.2h0M465.5 98.2h0M482.5 95.4h0M600.2 99.5h0M472.9 101.7h0M464.3 23.2h0M491.3 89.8h0M459.3 114.0h0M530.8 106.5h0M482.8 99.4h0M466.5 107.8h0M491.7 100.0h0M484.2 99.5h0M482.1 102.2h0M494.1 67.3h0M593.5 96.2h0M523.3 132.5h0M478.2 101.9h0M484.4 98.4h0M494.9 102.3h0M489.0 89.1h0M562.6 107.8h0M464.7 91.1h0M478.3 114.8h0M527.1 149.3h0M473.5 143.6h0M513.3 19.6h0M471.3 111.5h0M574.2 95.1h0M532.1 31.0h0M480.5 82.6h0M580.7 103.0h0M482.7 105.4h0M537.8 115.7h0M509.2 79.9h0M518.1 98.3h0M479.7 57.1h0M558.1 98.5h0M447.6 96.1h0M523.8 94.2h0M453.9 111.2h0M479.1 104.2h0M489.2 109.1h0M508.6 136.4h0M458.9 198.7h0M473.1 102.0h0M489.3 63.1h0M532.0 105.0h0M456.4 103.6h0M445.8 18.6h0M501.3 99.5h0M448.7 106.7h0M495.5 112.4h0M517.2 45.4h0M486.7 102.1h0M454.1 98.7h0M605.7 102.1h0M463.7 98.6h0M462.7 106.6h0M466.6 106.6h0M465.9 94.6h0M514.6 107.5h0M582.9 104.9h0M520.9 108.2h0M444.5 105.2h0M494.9 105.8h0M472.6 103.9h0M469.1 98.5h0M492.5 95.8h0M460.7 99.0h0M456.8 105.8h0M470.1 141.0h0M448.5 100.7h0M502.9 96.7h0M440.2 99.5h0M496.0 66.8h0M562.6 96.6h0M449.2 105.7h0M466.2 96.8h0M523.1 71.8h0M520.1 91.2h0M465.1 208.5h0M453.3 68.3h0M470.8 114.1h0M585.4 116.3h0M551.7 95.9h0M459.7 100.1h0M549.6 100.4h0M556.7 101.1h0M464.4 181.4h0M589.3 107.5h0M462.3 110.5h0M545.6 95.6h0M502.3 102.2h0M555.9 92.9h0M551.4 104.9h0M565.1 102.6h0M474.5 102.2h0M558.4 106.8h0M564.2 49.9h0M495.7 135.4h0M443.4 102.4h0M496.0 93.3h0M495.7 102.9h0M525.7 98.2h0M483.3 103.5h0M547.7 101.1h0M455.2 98.0h0M563.1 198.7h0M527.3 111.3h0M452.1 165.1h0M486.0 99.8h0M504.1 100.6h0M492.3 90.1h0M459.3 108.6h0M455.3 85.6h0M546.7 124.3h0M442.3 208.3h0M459.4 102.4h0M485.8 97.1h0M542.1 100.1h0M534.9 109.4h0M512.1 61.1h0M567.7 105.0h0M477.4 203.5h0M549.1 102.7h0M545.8 104.1h0M494.2 96.4h0M416.0 6.3h0M501.9 109.1h0M458.4 106.2h0M481.6 100.4h0M592.4 98.8h0M496.5 51.5h0M476.3 103.4h0M480.4 103.1h0M480.3 92.0h0M596.4 93.3h0M479.2 100.9h0M510.4 112.0h0M465.5 93.3h0M602.4 103.2h0M546.9 84.9h0M483.4 94.3h0M545.8 102.5h0M489.6 100.1h0M538.4 101.8h0M532.8 96.5h0M489.5 100.3h0M475.8 149.7h0M504.1 102.8h0M468.5 201.9h0M427.3 83.2h0M462.3 99.0h0M606.6 101.4h0M586.9 200.7h0M447.6 97.5h0M472.8 102.8h0M469.4 99.8h0M499.3 99.4h0M526.4 4.6h0M469.6 53.5h0M479.3 107.8h0"/><path d="M612.5 136.4h0M557.0 99.2h0M503.4 70.1h0M473.2 103.9h0M488.2 105.1h0M597.9 98.1h0M576.5 97.9h0M503.5 110.0h0M464.8 93.4h0M576.9 109.2h0M575.7 103.8h0M456.3 96.2h0M524.6 106.2h0M466.0 101.5h0M535.4 97.6h0M446.0 103.1h0M444.6 106.3h0M447.7 115.6h0M529.7 97.3h0M557.0 93.9h0M462.2 89.2h0M613.1 103.1h0M550.7 90.1h0M471.0 103.9h0M510.0 103.3h0M538.6 99.6h0M606.6 103.9h0M576.2 97.4h0M462.0 100.3h0M471.7 8.5h0M553.1 83.7h0M541.7 158.6h0M578.5 102.2h0M449.7 91.3h0M494.0 100.4h0M463.4 131.4h0M548.7 126.2h0M540.6 100.1h0M510.4 102.0h0M470.9 179.6h0M483.5 97.4h0M460.2 92.8h0M565.5 108.6h0M449.7 110.2h0M467.4 95.9h0M488.9 95.3h0M614.2 101.0h0M458.3 100.5h0M447.2 103.0h0M475.7 94.1h0M571.1 98.4h0M471.1 101.4h0M470.5 65.0h0M606.3 90.4h0M565.4 98.0h0M485.8 108.6h0M492.4 102.4h0M467.4 126.4h0M616.0 103.3h0M465.9 101.2h0M540.4 173.1h0M433.4 101.1h0M566.2 95.3h0M479.3 99.8h0M443.4 102.0h0M501.4 104.4h0M474.7 127.3h0M475.5 100.8h0M586.4 85.4h0M475.8 117.6h0M490.0 98.3h0M531.8 42.6h0M466.4 93.9h0M463.6 99.0h0M528.8 117.5h0M482.3 96.0h0M561.3 209.3h0M524.9 93.9h0M562.2 104.1h0M581.6 104.5h0M619.0 102.2h0M605.9 95.6h0M560.0 67.6h0M462.7 112.4h0M618.8 103.2h0M468.5 100.2h0M602.8 9.3h0M469.6 102.9h0M491.1 105.9h0M464.8 99.4h0M520.7 150.8h0M482.3 89.5h0M473.7 105.5h0M547.2 110.9h0M477.7 89.6h0M541.4 145.7h0M472.7 77.2h0M460.1 92.4h0M455.2 105.9h0M532.7 140.8h0M482.5 103.5h0M493.4 96.0h0M509.7 1.5h0M471.7 101.2h0M523.4 97.5h0M466.8 27.6h0M461.0 104.2h0M505.6 40.3h0M489.7 108.8h0M512.4 36.3h0M424.7 101.2h0M501.0 137.6h0M532.5 81.9h0M526.0 99.4h0M467.5 97.2h0M465.0 102.1h0M496.8 101.6h0M471.9 156.8h0M456.0 107.3h0M605.5 104.5h0M471.4 107.0h0M496.5 106.5h0M522.3 79.4h0M474.5 90.2h0M495.9 105.1h0M476.4 90.2h0M518.9 163.2h0M608.7 98.3h0M460.6 107.0h0M441.7 102.7h0M573.1 95.3h0M486.7 98.4h0M587.8 103.9h0M469.7 105.9h0M546.4 102.2h0M443.6 105.3h0M479.0 74.3h0M590.9 95.4h0M430.6 98.3h0M547.5 107.9h0M566.6 168.4h0M470.3 91.6h0M589.8 99.3h0M473.2 88.8h0M459.1 90.1h0M506.9 91.5h0M526.7 97.9h0M467.4 98.9h0M480.8 107.0h0M579.7 98.9h0M537.6 93.1h0M580.3 96.6h0M468.4 95.6h0M465.2 107.9h0M458.1 106.4h0M543.6 98.4h0M504.8 100.3h0M555.3 188.7h0M514.0 99.0h0M517.9 51.1h0M476.2 99.4h0M502.2 66.3h0M473.2 108.0h0M590.5 108.5h0M475.0 115.6h0M509.4 99.3h0M485.5 99.6h0M494.3 102.5h0M480.7 105.1h0M536.6 5.1h0M442.8 103.6h0M515.7 61.9h0M464.0 112.9h0M574.0 105.9h0"/><path d="M485.9 99.5h0M599.2 98.7h0M496.3 103.6h0M485.8 108.2h0M486.0 105.1h0M525.6 103.8h0M578.5 112.9h0M538.5 95.3h0M481.3 97.4h0M478.1 104.2h0M575.4 99.3h0M496.8 63.6h0M498.0 75.8h0M454.5 106.4h0M453.0 93.0h0M544.6 109.5h0M557.4 29.3h0M537.1 93.8h0M474.0 99.2h0M540.7 104.3h0M487.9 105.9h0M453.8 101.9h0M464.0 102.2h0M611.9 148.5h0M511.3 99.7h0M480.7 102.7h0M478.9 97.9h0M443.7 110.4h0M601.5 122.4h0M604.5 102.7h0M491.7 93.0h0M447.2 97.5h0M608.5 101.8h0M476.7 106.6h0M568.0 93.5h0M579.8 100.2h0M585.3 98.5h0M472.1 99.5h0M440.9 117.7h0M485.6 99.9h0M477.2 78.9h0M459.7 99.7h0M520.9 94.4h0M530.3 90.4h0M432.5 48.6h0M467.0 114.3h0M483.0 104.5h0M589.1 69.7h0M519.2 58.0h0M522.5 150.9h0M504.1 180.5h0M574.5 105.5h0M471.0 99.6h0M540.9 100.0h0M488.7 127.6h0M487.2 101.2h0M477.5 98.7h0M595.8 49.3h0M477.4 31.8h0M478.1 105.5h0M485.2 104.8h0M462.3 204.6h0M492.9 104.4h0M608.2 185.8h0M536.6 8.6h0M570.7 100.5h0M558.5 16.4h0M456.3 118.1h0M553.8 106.6h0M586.7 93.7h0M472.8 95.4h0M571.9 98.7h0M458.6 143.8h0M418.3 82.7h0M464.2 63.8h0M575.0 96.4h0M494.0 109.1h0M608.5 43.9h0M447.2 100.2h0M530.3 102.0h0M583.5 116.0h0M456.6 109.0h0M488.5 107.2h0M502.6 106.5h0M486.3 110.2h0M474.2 82.9h0M500.8 99.5h0M595.2 94.1h0M496.5 90.8h0M511.2 101.7h0M484.1 96.5h0M483.5 98.3h0M542.2 109.4h0M470.2 167.6h0M510.0 138.7h0M445.1 84.5h0M417.5 126.0h0M556.4 95.0h0M515.3 113.2h0M471.2 77.1h0M595.0 102.1h0M548.6 95.5h0M459.7 97.3h0M463.8 196.9h0M450.3 97.1h0M493.1 106.7h0M428.3 83.3h0M490.1 92.7h0M461.0 76.7h0M484.1 106.6h0M577.6 109.8h0M491.1 109.0h0M507.3 111.9h0M530.9 93.8h0M450.0 103.3h0M461.9 95.2h0M467.0 98.2h0M501.3 105.9h0M557.2 98.9h0M467.8 162.6h0M514.6 106.0h0M470.7 93.9h0M528.8 106.4h0M477.6 104.3h0M476.0 21.8h0M522.7 90.3h0M544.9 103.3h0M537.7 103.7h0M586.8 170.8h0M437.8 103.8h0M616.5 102.6h0M458.0 117.6h0M451.7 97.3h0M478.8 94.9h0M429.5 91.6h0M451.2 105.5h0M449.4 64.5h0M474.0 188.1h0M518.2 114.7h0M565.6 102.3h0M471.8 33.2h0M617.0 101.9h0M481.4 109.2h0M511.6 100.8h0M593.2 57.7h0M488.8 78.6h0M494.7 48.5h0M473.6 101.1h0M615.0 51.4h0M542.9 98.5h0M481.1 114.8h0M479.3 97.8h0M475.1 93.8h0M487.7 100.3h0M480.4 110.8h0M484.5 153.4h0M490.8 96.7h0M508.4 90.3h0M467.5 86.3h0M455.4 87.8h0M477.4 101.7h0M486.8 98.7h0M471.6 92.8h0M461.4 99.9h0M580.9 1.6h0M483.9 84.1h0M496.8 142.2h0M508.4 69.5h0M499.1 80.7h0M493.6 101.6h0M466.1 108.2h0M500.6 152.0h0M442.2 139.4h0M576.5 100.2h0"/><path d="M546.8 98.9h0M561.6 99.4h0M593.0 183.2h0M485.9 99.0h0M464.5 108.2h0M457.7 98.1h0M507.3 99.0h0M495.6 104.3h0M581.9 140.7h0M614.4 99.6h0M474.5 71.9h0M554.8 99.0h0M467.5 102.7h0M435.7 103.8h0M488.9 100.5h0M574.1 96.7h0M647.7 -1.6h0M571.2 199.1h0M481.6 99.4h0M509.1 99.0h0M577.9 100.0h0M477.4 93.2h0M452.7 164.9h0M468.3 93.5h0M454.9 96.4h0M471.2 100.6h0M473.4 98.5h0M571.9 103.9h0M432.4 99.1h0M486.9 104.2h0M499.2 68.4h0M525.2 32.4h0M466.5 100.7h0M527.6 103.5h0M512.6 142.8h0M531.3 103.0h0M452.6 209.0h0M508.4 106.5h0M461.7 73.3h0M577.8 104.6h0M512.4 107.8h0M475.0 199.9h0M580.3 174.1h0M519.4 26.0h0M588.8 62.1h0M496.3 108.4h0M485.5 105.7h0M464.1 97.4h0M635.4 97.2h0M473.8 103.4h0M470.1 103.5h0M468.5 110.3h0M521.8 101.8h0M515.1 170.9h0M535.3 102.6h0M466.6 98.8h0M497.3 88.2h0M467.5 104.9h0M469.7 99.6h0M475.2 101.4h0M486.9 112.9h0M569.7 96.1h0M491.0 17.0h0M466.1 102.2h0M459.3 98.4h0M592.6 194.9h0M459.8 101.7h0M481.9 110.6h0M447.8 108.2h0M440.8 104.5h0M470.7 57.4h0M480.1 99.7h0M567.3 203.0h0M615.7 98.1h0M472.7 99.0h0M440.5 107.7h0M587.2 98.4h0M471.4 99.0h0M510.9 85.5h0M492.5 100.2h0M478.4 21.8h0M463.8 134.0h0M492.9 105.2h0M556.2 98.0h0M488.0 63.2h0M529.6 106.8h0M526.8 101.4h0M518.9 42.6h0M602.3 101.1h0M456.5 114.8h0M427.0 105.2h0M462.4 98.7h0M550.8 101.5h0M615.8 100.1h0M491.9 103.2h0M464.2 98.7h0M605.0 101.9h0M544.5 95.1h0M521.9 33.8h0M610.9 112.5h0M607.9 93.4h0M567.0 106.5h0M568.4 104.9h0M469.6 127.4h0M465.4 104.4h0M445.2 101.0h0M469.6 105.3h0M567.3 98.3h0M608.9 95.7h0M479.8 98.8h0M511.1 99.1h0M593.3 98.9h0M462.8 94.4h0M466.6 94.6h0M550.6 102.7h0M468.0 92.4h0M483.5 167.7h0M605.1 193.9h0M610.3 82.3h0M521.6 96.0h0M536.9 15.6h0M453.7 106.1h0M495.6 191.0h0M437.0 -1.5h0M559.2 106.9h0M569.9 163.8h0M548.3 105.5h0M611.4 92.8h0M475.4 100.7h0M560.3 101.4h0M593.8 93.3h0M583.2 97.6h0M450.7 98.6h0M476.1 26.1h0M466.4 94.3h0M476.0 95.3h0M473.1 95.9h0M540.6 102.7h0M601.5 175.6h0M464.7 166.9h0M515.2 84.6h0M557.7 98.9h0M535.6 99.1h0M464.6 96.4h0M479.7 113.0h0M599.4 79.7h0M530.6 103.4h0M457.8 99.7h0M542.3 94.7h0M461.8 103.4h0M529.7 103.4h0M585.8 95.0h0M467.2 100.8h0M488.5 100.3h0M483.1 78.5h0M460.1 109.1h0M509.2 97.8h0M460.4 98.8h0M472.6 85.9h0M461.1 76.1h0M575.5 98.8h0M493.4 87.2h0M463.5 95.8h0M482.4 104.2h0M471.8 135.3h0M458.3 104.4h0M548.4 94.2h0M498.0 94.6h0M509.0 127.8h0M508.2 49.8h0M460.2 90.2h0M499.6 61.2h0M518.0 102.3h0M569.9 48.7h0"/><path d="M492.6 102.7h0M474.2 54.9h0M498.9 96.4h0M465.5 90.7h0M480.4 155.7h0M609.5 100.1h0M482.9 49.7h0M544.6 101.1h0M502.5 96.9h0M605.3 34.8h0M486.2 100.4h0M477.5 117.1h0M490.7 102.8h0M452.7 100.6h0M532.8 107.8h0M475.1 100.7h0M578.9 101.9h0M539.0 50.4h0M491.2 184.1h0M564.8 104.7h0M496.4 102.2h0M450.7 108.4h0M489.9 100.1h0M452.2 105.9h0M437.8 100.8h0M491.2 94.2h0M474.6 96.3h0M464.2 98.3h0M486.6 92.6h0M475.6 105.4h0M510.1 100.3h0M458.5 105.7h0M470.2 105.9h0M484.7 92.6h0M481.7 105.8h0M469.7 108.6h0M477.8 94.8h0M474.1 103.9h0M455.1 96.7h0M572.5 85.8h0M543.4 114.1h0M595.0 105.0h0M496.1 19.0h0M539.1 28.7h0M458.8 92.8h0M500.9 88.1h0M479.7 113.3h0M478.6 126.5h0M463.8 84.1h0M471.5 99.5h0M524.5 94.7h0M491.9 105.0h0M488.4 102.0h0M454.3 9.9h0M485.0 97.1h0M490.4 102.8h0M491.5 41.2h0M529.2 207.8h0M423.6 128.0h0M547.2 96.5h0M479.5 108.1h0M498.4 56.8h0M495.6 97.8h0M564.8 102.2h0M461.5 104.2h0M516.3 121.3h0M506.0 101.5h0M447.8 110.2h0M496.6 92.5h0M576.8 164.3h0M466.1 34.4h0M467.7 112.1h0M529.0 81.8h0M466.4 106.1h0M495.6 102.8h0M468.8 103.9h0M482.6 96.8h0M589.5 107.1h0M541.9 102.3h0M605.5 98.1h0M496.4 34.3h0M468.1 165.6h0M528.1 96.1h0M482.9 100.3h0M556.8 102.8h0M462.9 94.0h0M451.8 117.5h0M537.8 40.2h0M550.9 96.2h0M493.1 108.4h0M475.2 116.1h0M543.3 95.1h0M448.7 103.9h0M498.9 101.5h0M460.4 94.4h0M564.2 148.3h0M482.5 110.4h0M488.8 25.3h0M438.7 104.4h0M480.4 102.8h0M476.7 172.0h0M467.6 100.6h0M473.5 111.5h0M610.7 94.9h0M535.6 104.5h0M474.6 200.8h0M621.5 196.0h0M457.7 110.1h0M469.5 108.0h0M578.2 201.9h0M456.1 46.0h0M456.8 101.8h0M623.2 109.9h0M492.7 105.3h0M539.5 85.3h0M503.5 100.6h0M495.3 87.8h0M468.8 97.0h0M508.7 109.4h0M498.3 103.9h0M521.9 98.9h0M491.8 45.6h0M512.5 98.7h0M494.5 2.4h0M473.4 104.4h0M482.7 107.9h0M457.8 99.4h0M604.9 94.2h0M577.3 16.4h0M512.7 101.9h0M475.6 105.7h0M454.8 99.3h0M579.0 96.6h0M612.7 120.1h0M463.9 62.5h0M474.3 104.2h0M466.7 111.0h0M447.4 104.9h0M465.5 101.9h0M470.1 99.1h0M587.8 151.6h0M470.6 65.7h0M583.8 106.4h0M479.7 105.1h0M472.3 109.4h0M509.0 104.5h0M476.0 104.3h0M502.8 31.0h0M587.6 193.6h0M522.1 103.2h0M502.8 99.5h0M495.6 107.8h0M463.8 107.2h0M494.1 108.1h0M463.6 101.4h0M443.4 96.9h0M595.1 99.3h0M481.6 101.5h0M559.7 179.4h0M573.6 172.2h0M492.5 115.9h0M499.2 98.2h0M440.8 103.1h0M477.8 99.2h0M556.3 101.6h0M516.9 33.3h0M513.0 96.1h0M479.4 97.7h0M456.1 98.2h0M608.8 58.5h0M491.7 45.0h0M473.5 90.6h0M549.6 103.7h0"/><path d="M523.8 103.3h0M463.4 97.3h0M505.6 108.2h0M492.0 95.1h0M505.4 26.7h0M594.0 196.9h0M562.6 104.1h0M509.5 141.9h0M509.1 101.6h0M480.8 82.9h0M576.3 106.9h0M473.8 27.1h0M505.7 121.1h0M443.4 102.2h0M483.8 57.2h0M485.9 108.6h0M474.0 36.3h0M457.2 109.1h0M616.8 111.5h0M483.5 51.4h0M584.4 104.6h0M458.8 106.2h0M619.8 98.0h0M472.5 188.9h0M518.4 107.2h0M458.3 106.3h0M577.4 95.1h0M452.7 96.7h0M604.5 102.5h0M569.2 35.3h0M471.1 114.1h0M469.4 50.3h0M469.8 99.7h0M619.1 99.2h0M500.6 93.6h0M481.5 98.8h0M473.2 96.9h0M481.0 87.5h0M460.9 71.8h0M458.4 110.8h0M449.3 201.6h0M465.5 107.0h0M602.2 21.0h0M475.3 111.3h0M561.6 95.2h0M615.8 105.3h0M560.4 99.5h0M497.1 181.7h0M586.5 94.5h0M460.6 100.8h0M569.5 106.9h0M531.0 107.6h0M456.7 104.9h0M473.0 115.7h0M461.1 25.2h0M493.1 99.9h0M482.3 91.3h0M475.2 206.1h0M455.6 104.4h0M458.8 106.7h0M455.6 50.1h0M594.4 98.8h0M578.0 186.8h0M510.7 97.7h0M531.7 175.8h0M434.0 91.2h0M627.5 98.7h0M539.5 60.6h0M510.2 208.3h0M484.7 106.9h0M502.7 102.8h0M554.7 90.7h0M599.9 103.9h0M445.3 98.8h0M537.6 87.2h0M510.9 106.4h0M481.9 105.9h0M458.5 101.5h0M517.0 102.1h0M590.5 47.9h0M468.8 97.3h0M472.7 99.8h0M482.1 101.9h0M490.3 103.3h0M514.8 150.3h0M504.4 108.8h0M462.8 115.6h0M584.6 97.2h0M473.2 98.9h0M472.4 82.9h0M472.9 102.2h0M484.6 107.2h0M433.6 99.9h0M477.7 97.5h0M598.8 93.2h0M497.9 104.6h0M606.4 105.7h0M526.2 80.4h0M453.4 110.1h0M478.6 100.3h0M474.7 111.0h0M598.6 104.9h0M464.7 95.6h0M507.4 115.9h0M477.0 133.3h0M471.2 104.9h0M526.4 103.0h0M589.5 183.5h0M443.5 107.2h0M480.0 104.2h0M473.2 104.1h0M468.2 109.2h0M439.4 94.3h0M517.8 104.3h0M491.5 180.5h0M525.6 106.8h0M556.6 40.0h0M481.7 37.6h0M547.7 149.5h0M464.4 87.9h0M606.2 78.0h0M476.8 105.6h0M515.4 67.5h0M464.9 100.0h0M616.6 95.6h0M526.5 12.2h0M576.2 90.8h0M476.3 98.8h0M473.2 103.4h0M440.0 93.5h0M539.5 172.8h0M594.5 24.6h0M487.9 96.1h0M490.5 102.3h0M556.6 96.9h0M596.4 116.5h0M469.1 99.3h0M460.2 190.9h0M571.7 104.1h0M543.2 177.4h0M472.4 98.5h0M515.8 197.0h0M543.0 99.0h0M563.4 103.1h0M546.4 93.5h0M511.1 171.2h0M497.2 100.6h0M558.0 106.4h0M471.4 129.6h0M551.7 102.1h0M534.6 114.4h0M536.3 94.4h0M471.5 111.2h0M528.9 10.7h0M549.8 204.8h0M455.9 125.1h0M520.9 88.7h0M506.8 99.7h0M504.7 97.1h0M515.3 95.3h0M484.5 112.6h0M468.7 2.2h0M454.9 96.1h0M505.2 99.1h0M566.5 95.2h0M545.2 104.0h0M473.8 106.6h0M562.2 105.2h0M494.5 103.6h0M439.5 -0.3h0M468.1 105.7h0M500.8 94.4h0M440.3 108.7h0"/><path d="M497.3 107.3h0M454.5 98.1h0M575.2 97.2h0M453.3 80.2h0M501.3 121.0h0M466.9 96.6h0M481.8 125.8h0M463.2 109.6h0M485.8 80.1h0M480.8 62.1h0M477.6 97.3h0M578.8 135.1h0M458.4 96.4h0M537.3 100.4h0M478.4 105.2h0M484.6 96.1h0M453.1 99.6h0M608.5 115.9h0M482.9 97.9h0M480.8 103.2h0M459.4 73.2h0M595.6 99.8h0M440.4 103.9h0M625.1 193.4h0M444.9 112.2h0M598.0 83.2h0M565.0 93.5h0M467.0 111.6h0M485.5 101.5h0M465.5 136.5h0M457.0 91.6h0M513.8 104.0h0M461.0 199.9h0M479.7 87.8h0M467.1 102.5h0M585.7 89.9h0M503.7 74.3h0M495.7 111.8h0M473.8 82.5h0M475.7 97.6h0M471.5 101.1h0M520.7 109.8h0M557.0 104.5h0M449.8 101.4h0M510.7 96.6h0M492.9 111.0h0M445.9 102.6h0M578.2 92.9h0M465.1 75.9h0M433.7 96.8h0M499.5 40.6h0M476.6 104.8h0M627.3 95.1h0M546.0 90.4h0M558.5 123.6h0M476.1 100.0h0M622.9 105.8h0M570.8 99.3h0M553.9 58.8h0M514.1 79.2h0M478.1 136.4h0M455.2 133.3h0M533.2 98.8h0M579.0 99.2h0M454.0 104.1h0M515.9 97.9h0M485.0 103.9h0M492.5 105.6h0M476.6 101.3h0M537.5 92.2h0M501.4 21.3h0M472.1 103.0h0M452.4 183.5h0M497.6 103.7h0M471.7 107.8h0M469.2 130.7h0M489.6 97.4h0M518.0 124.5h0M496.6 104.6h0M462.8 105.9h0M604.2 80.9h0M457.1 107.5h0M531.9 68.7h0M599.0 98.3h0M575.9 104.4h0M500.7 113.6h0M606.8 95.4h0M495.0 94.4h0M591.4 107.3h0M603.0 134.2h0M471.9 188.4h0M467.6 100.3h0M581.8 91.5h0M570.3 111.4h0M478.0 107.6h0M537.5 103.9h0M518.4 100.3h0M489.3 97.9h0M611.6 97.5h0M490.7 94.8h0M566.7 108.3h0M498.0 178.8h0M561.8 20.7h0M488.6 105.6h0M641.6 98.1h0M596.5 54.0h0M451.9 74.5h0M481.6 95.8h0M509.1 103.8h0M464.2 104.8h0M518.7 92.3h0M600.6 31.2h0M586.5 101.7h0M473.7 97.1h0M492.5 92.4h0M485.7 96.0h0M541.6 100.3h0M608.1 133.3h0M568.6 105.7h0M556.3 154.8h0M617.8 100.0h0M538.7 89.6h0M461.4 105.6h0M456.1 100.5h0M546.9 62.8h0M451.7 109.5h0M485.0 138.7h0M565.5 90.7h0M523.4 119.8h0M514.2 9.9h0M581.8 98.2h0M470.1 102.6h0M459.0 108.1h0M450.7 18.3h0M485.8 108.7h0M454.3 83.7h0M457.1 30.9h0M501.4 99.8h0M512.0 110.3h0M449.3 99.8h0M544.8 97.7h0M521.7 101.4h0M460.9 103.3h0M483.3 120.4h0M562.7 97.8h0M557.3 89.9h0M478.7 94.1h0M453.9 77.3h0M454.5 101.7h0M467.6 100.6h0M469.6 126.6h0M481.5 89.9h0M478.7 116.2h0M495.8 99.2h0M458.4 107.1h0M452.0 100.5h0M464.4 134.7h0M455.3 98.9h0M445.1 103.1h0M560.2 95.9h0M437.9 103.7h0M481.6 41.9h0M474.2 92.1h0M470.5 88.6h0M466.1 194.4h0M497.4 18.7h0M602.4 159.9h0M459.9 97.5h0M459.7 195.5h0M587.7 102.5h0M452.6 94.5h0M574.1 53.0h0M489.6 96.7h0"/><path d="M615.9 105.5h0M568.8 90.4h0M463.9 108.3h0M472.4 104.1h0M482.1 102.7h0M529.8 97.2h0M517.0 101.9h0M469.6 107.2h0M539.1 95.5h0M451.8 115.9h0M462.3 106.0h0M570.5 87.5h0M495.4 105.3h0M471.6 104.9h0M453.5 107.8h0M464.1 83.1h0M499.5 94.8h0M580.3 102.0h0M554.3 88.2h0M492.6 101.7h0M546.2 100.4h0M511.5 134.5h0M491.9 96.5h0M484.3 105.1h0M459.2 104.0h0M537.5 103.9h0M585.9 102.8h0M567.5 79.7h0M494.8 95.9h0M434.4 107.6h0M482.9 99.8h0M505.9 107.5h0M454.7 107.1h0M461.2 101.5h0M457.4 114.8h0M502.3 124.8h0M467.1 86.1h0M528.0 97.7h0M474.7 80.4h0M602.4 94.6h0M510.1 96.5h0M601.0 52.7h0M473.9 82.0h0M447.7 106.9h0M498.0 145.4h0M528.1 85.8h0M592.0 96.6h0M554.2 104.0h0M481.1 85.5h0M456.4 0.9h0M464.4 72.2h0M491.2 84.4h0M505.8 96.2h0M473.0 91.4h0M497.1 92.1h0M569.2 100.2h0M557.3 97.1h0M497.6 110.1h0M478.5 100.1h0M519.3 101.2h0M550.7 26.9h0M482.3 24.4h0M482.1 104.9h0M561.7 92.0h0M482.5 151.7h0M563.8 101.5h0M438.0 189.0h0M492.3 103.9h0M458.2 89.3h0M594.2 187.5h0M572.8 10.7h0M477.5 106.7h0M479.7 96.4h0M514.2 80.9h0M488.4 100.2h0M489.3 99.9h0M522.1 95.9h0M482.4 100.4h0M480.2 104.6h0M499.1 206.8h0M517.9 100.8h0M440.9 14.1h0M500.2 179.0h0M473.3 101.5h0M528.0 118.4h0M575.0 100.0h0M453.9 105.9h0M532.3 101.1h0M474.1 102.4h0M475.9 57.0h0M458.8 106.6h0M613.3 93.1h0M491.2 101.0h0M542.5 101.0h0M580.8 95.1h0M482.2 167.7h0M492.1 11.4h0M605.1 92.7h0M536.3 102.9h0M576.4 95.5h0M579.3 16.7h0M471.3 113.7h0M487.1 169.2h0M487.1 105.7h0M456.1 107.3h0M507.7 98.2h0M477.4 91.3h0M457.8 97.2h0M495.5 97.1h0M601.5 100.2h0M438.6 97.9h0M474.7 98.6h0M482.4 95.8h0M522.0 95.4h0M480.9 95.8h0M447.7 108.0h0M458.6 95.9h0M514.2 96.8h0M578.0 98.6h0M456.2 103.4h0M483.9 104.0h0M514.5 96.4h0M477.8 96.9h0M556.9 73.3h0M481.7 106.7h0M496.6 105.5h0M507.2 69.6h0M459.4 104.0h0M511.8 153.7h0M535.6 92.2h0M517.2 97.0h0M467.6 108.5h0M490.1 105.1h0M498.5 105.7h0M476.9 88.9h0M476.9 117.4h0M451.6 97.7h0M488.5 95.8h0M476.7 73.3h0M486.1 186.6h0M559.3 99.9h0M486.1 32.7h0M595.1 101.4h0M579.5 120.9h0M530.8 203.2h0M470.8 103.4h0M594.5 97.5h0M487.6 106.3h0M484.3 125.0h0M476.0 110.4h0M500.2 95.5h0M468.0 97.9h0M621.1 112.0h0M579.8 109.4h0M586.3 94.1h0M536.7 109.3h0M499.8 98.9h0M588.0 93.5h0M564.3 124.2h0M490.6 104.1h0M479.5 112.2h0M569.2 89.1h0M566.3 91.5h0M564.3 101.7h0M481.8 103.2h0M473.5 48.7h0M462.5 170.4h0M580.1 93.0h0M491.7 82.4h0M525.6 111.6h0M478.1 106.6h0M527.7 88.6h0M474.4 85.5h0"/><path d="M617.4 97.8h0M490.0 63.0h0M567.6 123.5h0M532.2 93.1h0M554.5 83.1h0M472.3 81.0h0M523.0 84.9h0M463.5 98.8h0M577.8 111.7h0M482.2 97.8h0M609.6 114.5h0M574.6 100.6h0M480.9 85.2h0M482.1 102.8h0M564.2 90.8h0M453.4 79.2h0M492.6 102.7h0M449.7 104.7h0M473.8 169.6h0M512.1 115.1h0M469.1 103.6h0M486.0 100.3h0M520.2 97.4h0M448.4 107.0h0M536.2 100.4h0M537.1 148.4h0M624.9 97.7h0M503.7 99.4h0M501.3 90.0h0M560.4 34.5h0M537.3 102.2h0M488.9 106.9h0M508.4 100.9h0M531.0 102.9h0M474.3 91.9h0M495.0 42.6h0M484.4 113.3h0M520.4 86.4h0M461.8 206.5h0M489.6 202.6h0M482.9 85.3h0M562.1 108.5h0M471.8 105.3h0M460.6 92.0h0M581.4 118.1h0M445.6 170.1h0M507.9 107.7h0M491.8 121.5h0M603.3 105.3h0M583.1 156.4h0M458.0 101.5h0M482.6 105.5h0M465.0 97.5h0M488.6 106.2h0M520.3 97.6h0M518.8 71.5h0M545.8 102.0h0M449.8 104.2h0M458.4 102.8h0M613.2 92.1h0M618.3 103.2h0M521.8 120.6h0M519.6 108.8h0M543.3 89.4h0M478.0 106.7h0M495.0 102.2h0M580.3 95.0h0M480.9 101.3h0M474.2 103.0h0M592.8 31.7h0M463.6 102.7h0M473.9 103.4h0M511.5 100.0h0M483.7 102.1h0M458.4 86.7h0M457.4 110.3h0M529.9 103.4h0M591.6 142.2h0M464.5 102.7h0M571.6 104.3h0M476.6 109.1h0M479.7 77.8h0M482.8 101.3h0M496.6 105.1h0M630.6 90.9h0M422.0 99.4h0M496.0 47.0h0M434.0 107.4h0M467.6 105.1h0M571.2 99.6h0M464.1 164.5h0M499.2 106.2h0M483.7 105.4h0M472.2 110.3h0M486.5 88.9h0M467.4 104.4h0M491.2 102.3h0M512.2 102.4h0M493.5 109.0h0M645.6 51.2h0M490.7 109.4h0M462.6 96.1h0M480.3 104.0h0M618.6 104.2h0M478.1 105.1h0M444.7 99.9h0M602.4 124.6h0M511.5 111.5h0M568.5 114.1h0M486.3 95.6h0M478.8 5.9h0M457.1 62.7h0M521.0 9.5h0M490.9 98.6h0M478.1 100.0h0M592.5 97.7h0M473.1 100.0h0M474.2 105.4h0M502.5 100.2h0M518.5 85.2h0M461.4 14.1h0M585.1 99.7h0M460.5 103.7h0M439.5 103.9h0M511.8 93.0h0M466.2 83.2h0M527.8 90.7h0M465.7 99.3h0M467.7 182.1h0M585.7 93.0h0M454.4 20.9h0M519.2 116.5h0M468.8 98.5h0M570.2 96.2h0M459.8 112.9h0M468.7 107.2h0M495.0 106.0h0M490.3 106.7h0M530.1 74.4h0M454.7 103.9h0M491.3 96.7h0M532.4 91.7h0M463.0 104.7h0M520.2 168.1h0M474.9 96.8h0M615.1 137.9h0M476.0 93.1h0M498.1 164.0h0M597.9 83.5h0M450.8 35.6h0M553.2 98.9h0M527.8 97.0h0M592.3 60.3h0M453.0 106.2h0M463.3 129.3h0M454.3 93.6h0M485.9 103.8h0M472.2 95.2h0M490.7 185.4h0M458.4 103.1h0M501.1 104.8h0M479.3 107.7h0M483.0 92.8h0M460.2 103.4h0M584.6 102.3h0M524.8 89.1h0M454.5 108.1h0M596.5 106.6h0M477.4 105.9h0M513.9 102.9h0M553.1 89.7h0M481.0 99.5h0M518.3 99.1h0"/><path d="M501.8 114.1h0M466.5 132.2h0M462.5 193.9h0M454.2 118.9h0M559.3 27.5h0M472.5 107.7h0M461.8 98.8h0M512.0 106.9h0M579.5 99.5h0M545.4 173.2h0M545.2 106.8h0M516.3 92.8h0M530.2 98.5h0M465.4 182.5h0M463.3 107.7h0M538.2 62.0h0M472.3 97.2h0M464.5 98.3h0M509.0 164.3h0M597.7 98.6h0M463.2 107.1h0M591.4 90.7h0M425.6 85.7h0M498.4 116.9h0M444.9 106.5h0M461.2 100.2h0M466.6 191.3h0M516.0 107.2h0M479.6 101.6h0M467.5 100.3h0M468.1 102.7h0M468.6 134.3h0M477.3 106.4h0M584.4 101.6h0M435.1 72.2h0M528.6 82.6h0M565.9 177.3h0M560.0 102.2h0M523.4 102.5h0M479.2 99.1h0M567.9 102.1h0M600.7 190.9h0M501.9 42.3h0M488.7 104.4h0M603.3 17.4h0M556.4 95.1h0M545.0 106.2h0M579.8 99.3h0M482.0 107.1h0M620.2 100.3h0M564.3 99.1h0M465.1 54.5h0M502.9 93.0h0M595.5 99.6h0M557.6 181.9h0M487.0 101.5h0M506.6 162.8h0M533.5 84.0h0M443.2 102.6h0M526.9 110.1h0M505.4 124.7h0M548.4 99.0h0M482.5 65.5h0M468.8 101.7h0M466.5 101.0h0M472.1 105.4h0M480.9 100.5h0M469.4 102.7h0M450.2 178.2h0M521.3 99.4h0M479.5 203.5h0M564.5 115.0h0M482.2 96.0h0M505.6 102.2h0M483.8 97.1h0M486.0 98.9h0M459.5 102.2h0M504.9 66.6h0M502.5 4.2h0M538.4 97.6h0M502.4 33.7h0M523.0 99.4h0M538.7 50.8h0M604.7 103.1h0M571.0 200.9h0M469.2 103.2h0M591.2 99.1h0M492.3 47.8h0M564.9 89.5h0M456.3 94.3h0M478.2 108.5h0M460.5 136.3h0M535.8 92.8h0M451.0 107.3h0M491.0 100.9h0M579.8 173.8h0M481.9 88.6h0M482.7 103.4h0M547.7 95.6h0M474.2 60.8h0M501.7 61.5h0M576.4 1.8h0M600.3 97.7h0M475.4 108.5h0M476.0 99.7h0M503.3 114.2h0M546.3 22.4h0M488.4 96.9h0M448.0 98.5h0M461.2 103.9h0M562.5 101.7h0M461.1 98.9h0M456.0 97.6h0M482.1 100.8h0M516.5 96.1h0M523.1 98.0h0M455.4 105.4h0M613.4 169.8h0M483.4 106.8h0M608.7 98.2h0M503.8 133.0h0M556.7 185.8h0M470.8 105.3h0M451.0 73.0h0M522.8 81.3h0M481.7 107.7h0M563.4 97.1h0M586.8 99.6h0M471.6 95.4h0M462.2 104.8h0M530.5 101.8h0M529.1 157.6h0M454.0 147.1h0M500.0 95.2h0M470.2 157.6h0M484.3 102.5h0M480.8 98.7h0M492.4 84.3h0M465.0 102.2h0M520.3 157.0h0M453.4 16.4h0M495.0 206.8h0M598.5 109.8h0M603.3 85.5h0M472.1 196.3h0M481.5 111.1h0M465.1 114.3h0M521.7 96.6h0M507.6 101.0h0M530.9 100.7h0M529.4 91.4h0M626.8 94.0h0M474.8 103.9h0M530.4 97.7h0M584.8 86.4h0M461.3 93.2h0M484.6 97.8h0M516.8 101.4h0M577.1 94.1h0M482.5 96.6h0M547.0 109.4h0M469.2 97.4h0M553.5 83.9h0M505.7 103.6h0M559.2 95.0h0M498.4 14.0h0M523.9 6.3h0M483.5 72.3h0M490.3 170.8h0M447.1 87.1h0M525.4 99.9h0M560.7 94.8h0M489.9 142.1h0"/><path d="M504.2 127.9h0M479.0 100.2h0M473.5 66.3h0M499.0 111.7h0M476.0 104.9h0M478.6 103.6h0M449.2 93.5h0M499.2 106.1h0M471.5 100.8h0M576.9 27.7h0M454.2 99.2h0M593.1 63.9h0M465.9 103.3h0M494.0 47.9h0M501.5 102.6h0M462.7 101.8h0M480.4 96.6h0M545.4 194.0h0M556.1 95.0h0M455.8 107.9h0M473.5 77.6h0M457.1 105.6h0M544.4 165.6h0M493.1 95.2h0M476.3 105.8h0M589.1 100.7h0M465.9 136.2h0M518.0 19.5h0M560.5 96.3h0M601.9 101.1h0M446.4 103.9h0M507.5 99.5h0M491.0 101.4h0M475.2 91.3h0M471.3 97.7h0M470.4 106.9h0M599.0 77.6h0M608.3 99.6h0M471.3 -1.8h0M479.5 106.1h0M468.8 104.5h0M487.0 109.7h0M502.2 100.5h0M516.1 187.6h0M485.8 104.3h0M483.7 97.9h0M497.7 100.1h0M525.3 92.8h0M471.5 95.0h0M494.1 136.9h0M465.2 27.6h0M494.1 103.1h0M453.6 101.3h0M516.0 98.9h0M465.4 100.6h0M476.2 101.3h0M596.3 93.4h0M491.6 100.5h0M439.4 118.2h0M603.7 116.1h0M458.5 106.4h0M450.1 104.4h0M594.3 99.8h0M498.2 99.2h0M461.5 118.2h0M587.2 96.1h0M468.4 188.3h0M522.7 107.1h0M610.5 100.9h0M513.0 109.1h0M582.2 105.3h0M464.3 16.6h0M447.0 44.8h0M467.3 107.7h0M461.1 89.4h0M498.4 188.6h0M477.1 94.1h0M615.5 114.9h0M597.3 105.9h0M534.9 135.7h0M500.2 104.5h0M475.8 105.0h0M470.4 96.6h0M613.3 98.2h0M474.3 107.3h0M460.7 113.7h0M467.9 107.7h0M469.9 109.6h0M588.6 105.4h0M548.3 99.5h0M470.6 110.1h0M536.9 101.5h0M479.3 105.8h0M568.5 92.3h0M443.1 95.6h0M445.0 103.8h0M475.7 149.1h0M450.1 94.4h0M510.1 16.4h0M454.7 81.7h0M498.1 98.3h0M512.8 100.9h0M507.3 103.2h0M476.7 95.9h0M452.9 49.1h0M523.2 109.1h0M470.0 104.7h0M539.5 101.3h0M514.4 113.8h0M486.2 92.5h0M581.7 101.9h0M613.3 189.7h0M506.4 91.8h0M440.4 106.7h0M538.7 184.3h0M583.5 101.5h0M448.7 99.9h0M455.0 95.6h0M587.3 104.0h0M614.2 85.4h0M485.8 95.2h0M513.5 97.8h0M554.4 178.5h0M598.3 93.3h0M465.3 104.1h0M550.1 187.4h0M551.0 95.8h0M474.8 143.6h0M452.1 107.5h0M624.6 57.2h0M489.1 93.6h0M538.4 157.2h0M507.3 97.1h0M465.4 97.3h0M591.8 117.7h0M456.9 93.2h0M446.5 105.5h0M445.0 96.0h0M439.1 134.7h0M588.6 105.5h0M459.4 106.1h0M494.6 94.6h0M463.4 107.1h0M522.5 102.5h0M488.0 163.7h0M474.1 154.3h0M511.2 16.9h0M467.4 100.5h0M600.4 108.5h0M478.2 102.7h0M467.0 108.1h0M600.9 137.3h0M456.2 105.6h0M468.3 102.2h0M473.4 136.0h0M453.8 96.1h0M449.0 109.3h0M493.6 100.1h0M472.8 95.1h0M595.8 103.3h0M455.3 120.0h0M504.6 53.4h0M457.1 90.0h0M556.6 92.1h0M467.3 104.0h0M556.3 181.7h0M457.7 103.7h0M523.4 65.2h0M490.0 88.6h0M586.3 102.8h0M468.3 101.2h0M450.3 205.8h0M504.5 96.4h0"/><path d="M604.3 98.9h0M475.0 35.0h0M473.0 148.1h0M503.5 99.0h0M465.5 106.2h0M468.1 103.5h0M511.1 102.8h0M535.9 105.6h0M541.8 99.5h0M467.2 94.2h0M568.5 92.7h0M454.4 108.1h0M433.7 89.0h0M579.3 98.5h0M580.3 101.6h0M494.3 105.6h0M588.3 107.5h0M550.8 39.1h0M517.4 92.6h0M484.7 98.1h0M480.3 104.6h0M553.9 95.4h0M479.9 106.6h0M461.8 198.0h0M450.3 75.0h0M468.2 105.2h0M451.6 95.9h0M560.5 96.8h0M484.8 101.9h0M498.0 93.3h0M541.4 36.0h0M578.2 102.3h0M581.1 103.0h0M470.6 101.6h0M474.4 84.3h0M538.1 48.8h0M482.2 110.5h0M448.4 184.6h0M467.7 105.2h0M580.5 99.2h0M463.3 95.6h0M529.3 77.0h0M494.2 86.5h0M469.9 107.6h0M489.2 101.8h0M478.9 108.5h0M499.4 106.4h0M507.5 156.1h0M516.0 93.9h0M498.2 108.5h0M473.5 105.8h0M559.4 138.4h0M602.5 100.6h0M610.0 43.6h0M467.4 105.5h0M478.6 92.6h0M497.8 110.5h0M488.5 99.8h0M562.9 137.3h0M463.8 98.9h0M473.3 106.8h0M503.0 99.7h0M499.5 95.7h0M479.1 98.7h0M464.6 100.5h0M507.1 99.6h0M546.9 120.5h0M457.3 97.2h0M461.4 113.2h0M459.3 102.7h0M519.2 18.9h0M451.1 105.2h0M578.4 97.7h0M467.5 186.2h0M477.8 79.0h0M591.6 95.6h0M513.4 107.4h0M509.9 104.5h0M511.8 98.4h0M462.3 99.5h0M524.6 100.9h0M543.1 103.8h0M571.5 96.1h0M496.7 177.9h0M438.3 91.3h0M485.1 97.0h0M565.1 102.2h0M597.8 85.3h0M463.7 103.6h0M448.1 96.1h0M478.1 107.5h0M488.8 83.8h0M484.1 94.4h0M520.7 104.6h0M456.0 97.5h0M470.1 132.3h0M463.9 116.1h0M462.2 34.9h0M425.3 77.1h0M476.0 28.3h0M450.2 133.4h0M579.4 99.4h0M476.8 98.2h0M515.4 86.8h0M520.6 23.4h0M533.9 154.2h0M457.4 106.6h0M498.8 107.2h0M522.3 104.9h0M452.1 106.5h0M458.6 97.0h0M460.2 104.7h0M452.2 106.0h0M575.4 39.7h0M479.9 109.3h0M506.0 159.3h0M459.7 113.6h0M488.0 110.7h0M551.2 25.7h0M590.1 148.1h0M465.5 93.4h0M599.7 104.5h0M494.3 165.8h0M517.7 96.2h0M523.7 91.6h0M558.7 109.6h0M468.0 99.2h0M536.6 99.6h0M469.5 105.6h0M472.5 103.9h0M454.0 167.7h0M482.6 86.8h0M463.0 104.3h0M602.0 13.2h0M503.1 104.5h0M595.0 98.8h0M477.3 100.2h0M495.9 84.3h0M481.1 99.8h0M594.0 99.9h0M458.2 93.5h0M480.4 72.1h0M457.2 103.6h0M489.3 102.4h0M461.9 114.6h0M600.5 114.4h0M543.2 97.1h0M464.2 101.8h0M471.7 52.6h0M479.6 112.2h0M463.6 107.6h0M452.2 197.3h0M527.9 103.0h0M474.9 104.6h0M461.3 91.0h0M483.9 101.4h0M599.2 147.9h0M478.7 97.2h0M482.3 96.0h0M479.9 105.0h0M453.6 100.8h0M577.7 166.6h0M467.6 6.4h0M487.0 105.6h0M505.4 102.6h0M504.3 90.1h0M524.8 28.6h0M480.4 101.7h0M509.9 39.6h0M559.3 97.2h0M482.8 92.4h0M492.3 100.4h0M460.9 123.3h0"/><path d="M509.6 98.6h0M560.3 207.1h0M611.2 161.1h0M484.4 96.0h0M450.5 98.3h0M610.6 103.0h0M460.8 103.3h0M595.9 103.6h0M495.4 164.7h0M497.2 96.9h0M492.8 95.7h0M600.6 99.8h0M453.7 105.6h0M514.1 100.6h0M566.2 128.2h0M606.0 95.3h0M453.9 108.0h0M467.1 65.3h0M483.7 97.2h0M466.0 128.3h0M459.9 1.6h0M526.1 105.8h0M478.4 62.2h0M471.1 153.5h0M454.5 82.7h0M521.5 94.1h0M556.9 94.7h0M490.9 104.2h0M488.1 93.4h0M500.1 99.1h0M467.2 101.7h0M529.9 84.3h0M524.4 120.7h0M478.0 102.2h0M582.5 107.8h0M460.8 101.0h0M608.0 87.0h0M478.8 103.5h0M539.9 104.5h0M588.5 99.7h0M580.2 102.6h0M601.2 107.5h0M451.3 98.9h0M598.5 93.6h0M470.1 98.7h0M460.9 103.4h0M473.1 92.1h0M542.6 99.2h0M513.1 25.9h0M493.8 98.8h0M466.4 97.0h0M531.6 103.0h0M554.6 6.2h0M457.1 202.2h0M496.4 118.0h0M569.1 77.6h0M451.3 99.1h0M587.7 101.7h0M563.0 95.1h0M469.1 88.3h0M515.7 99.9h0M498.3 174.9h0M489.1 62.6h0M511.4 134.5h0M482.0 105.9h0M460.4 98.5h0M479.8 100.7h0M495.9 85.8h0M463.8 111.1h0M600.0 94.5h0M524.3 94.5h0M487.9 105.4h0M463.1 104.9h0M578.7 99.0h0M463.0 95.6h0M509.2 209.9h0M513.8 193.4h0M465.3 112.8h0M458.8 110.4h0M470.5 97.4h0M531.8 104.7h0M526.2 82.1h0M453.1 105.7h0M485.5 86.0h0M447.8 97.6h0M501.9 34.2h0M443.7 100.0h0M544.5 106.2h0M489.9 75.9h0M472.0 105.1h0M539.6 97.8h0M517.1 102.9h0M483.3 95.2h0M477.2 100.3h0M534.9 56.8h0M527.8 97.1h0M468.3 78.6h0M474.2 96.0h0M460.6 106.3h0M496.2 102.0h0M583.3 151.7h0M503.2 30.4h0M589.8 97.6h0M507.7 95.7h0M480.0 101.2h0M480.6 100.5h0M579.6 97.7h0M570.2 48.5h0M541.7 106.2h0M459.0 106.7h0M528.1 103.9h0M458.6 112.4h0M555.3 101.1h0M593.3 183.7h0M610.4 122.7h0M472.1 183.1h0M472.2 208.6h0M490.1 105.5h0M485.8 104.2h0M572.9 101.0h0M470.2 80.5h0M520.0 96.2h0M459.3 101.3h0M481.7 106.7h0M540.6 107.8h0M556.5 99.7h0M483.4 94.1h0M469.1 99.6h0M482.4 99.7h0M543.2 91.1h0M469.2 83.8h0M488.7 102.5h0M512.4 102.1h0M467.4 108.6h0M476.9 20.2h0M604.6 22.1h0M448.9 103.7h0M577.1 91.7h0M512.2 102.2h0M502.3 103.6h0M480.0 105.7h0M557.7 104.0h0M472.2 96.8h0M476.4 101.0h0M601.3 172.1h0M581.5 99.5h0M488.0 103.3h0M487.2 92.3h0M496.6 100.8h0M487.6 141.6h0M469.8 100.1h0M467.1 110.3h0M464.5 96.8h0M574.4 100.5h0M596.4 189.2h0M490.8 104.2h0M460.3 104.7h0M609.1 89.4h0M490.5 109.8h0M496.6 57.8h0M485.3 100.5h0M533.6 106.6h0M470.2 83.0h0M499.1 106.5h0M516.6 36.6h0M452.5 106.2h0M483.6 92.5h0M510.2 105.2h0M449.7 107.3h0M473.8 98.8h0M441.8 101.7h0M495.1 98.9h0M492.0 104.5h0"/><path d="M549.5 60.9h0M474.1 93.5h0M488.5 102.3h0M468.2 89.2h0M482.7 99.7h0M561.1 113.1h0M588.1 98.7h0M446.8 95.9h0M612.0 54.5h0M536.6 105.1h0M462.1 104.3h0M479.6 94.8h0M459.0 76.2h0M491.5 102.3h0M502.8 35.7h0M566.6 99.4h0M473.7 83.4h0M559.7 107.6h0M526.1 100.4h0M481.9 99.4h0M495.0 102.1h0M512.7 97.6h0M530.7 103.0h0M599.0 102.6h0M602.6 22.2h0M474.0 106.5h0M470.4 103.0h0M478.3 151.7h0M510.9 103.2h0M438.9 108.0h0M448.9 89.7h0M523.0 80.6h0M474.2 104.6h0M457.6 85.5h0M468.4 136.8h0M572.7 93.5h0M457.6 101.0h0M463.2 104.1h0M500.0 104.2h0M471.4 89.8h0M487.3 99.5h0M518.1 95.5h0M617.8 94.5h0M570.5 96.5h0M489.3 98.0h0M558.0 95.7h0M460.9 101.5h0M553.3 110.6h0M617.2 19.2h0M469.0 142.5h0M495.1 99.2h0M453.6 73.6h0M554.2 99.7h0M508.1 25.6h0M527.2 137.2h0M607.1 98.0h0M558.1 94.5h0M460.9 100.9h0M519.1 104.3h0M461.9 152.4h0M498.5 102.1h0M504.2 136.0h0M520.7 102.4h0M487.1 93.8h0M555.7 96.5h0M534.7 71.2h0M496.6 70.2h0M458.9 95.8h0M484.8 86.9h0M502.2 191.7h0M462.6 89.2h0M508.9 206.3h0M492.4 91.1h0M557.8 102.3h0M604.7 91.4h0M536.0 148.1h0M515.2 103.6h0M457.8 96.8h0M587.9 97.5h0M543.5 103.4h0M477.7 157.0h0M607.0 20.5h0M569.0 97.5h0M449.7 100.6h0M512.2 105.1h0M538.8 97.7h0M499.4 81.7h0M565.1 99.3h0M550.3 105.6h0M479.0 99.3h0M603.1 88.8h0M493.8 108.2h0M535.2 100.8h0M586.7 104.7h0M606.6 25.6h0M470.4 48.5h0M480.5 83.8h0M462.4 104.2h0M560.3 109.2h0M439.3 99.0h0M584.1 87.7h0M487.9 90.2h0M610.8 96.9h0M488.2 103.2h0M560.9 -1.5h0M452.6 171.9h0M480.4 116.6h0M530.9 146.7h0M470.6 91.0h0M478.2 99.3h0M456.6 99.8h0M475.5 103.0h0M454.9 98.1h0M512.6 116.7h0M464.9 206.1h0M460.9 107.4h0M509.0 103.1h0M524.1 96.0h0M587.5 94.6h0M503.5 95.0h0M573.6 100.1h0M608.2 103.6h0M497.1 108.7h0M469.0 112.4h0M617.0 102.8h0M540.7 16.3h0M594.6 57.4h0M471.1 33.1h0M501.3 108.8h0M538.3 14.5h0M457.9 64.3h0M521.6 106.1h0M568.9 66.1h0M476.2 103.3h0M558.5 7.9h0M558.5 105.1h0M505.2 97.1h0M567.0 98.1h0M488.5 104.2h0M453.6 104.7h0M546.1 107.9h0M494.6 5.0h0M469.8 93.5h0M539.1 98.8h0M502.1 3.5h0M472.7 -0.4h0M495.5 103.5h0M500.2 88.5h0M523.0 55.8h0M477.9 117.7h0M520.4 146.7h0M456.8 60.2h0M545.3 99.2h0M492.7 91.0h0M490.0 102.9h0M471.3 99.8h0M467.3 104.2h0M537.4 203.5h0M516.7 57.7h0M577.8 103.8h0M477.2 203.9h0M473.1 51.2h0M539.4 160.5h0M485.6 104.5h0M581.6 98.3h0M476.5 140.4h0M492.0 99.8h0M466.3 179.7h0M566.0 104.5h0M515.6 82.1h0M454.9 94.0h0M453.1 116.4h0M509.2 103.8h0"/><path d="M468.8 119.8h0M460.8 92.8h0M587.9 19.6h0M570.3 100.3h0M487.0 92.2h0M449.1 92.5h0M549.4 93.0h0M470.6 90.9h0M557.8 104.9h0M466.3 94.9h0M485.8 106.2h0M463.1 203.3h0M600.9 144.9h0M548.1 61.2h0M485.9 110.6h0M594.6 98.9h0M529.1 200.2h0M455.7 5.9h0M455.5 143.0h0M607.5 100.0h0M566.7 98.8h0M472.0 166.8h0M475.2 103.1h0M482.2 102.8h0M483.4 108.8h0M615.0 98.1h0M442.3 92.3h0M469.7 98.4h0M493.9 98.9h0M593.0 93.5h0M575.9 183.9h0M536.5 104.6h0M559.4 119.4h0M545.5 105.3h0M474.4 100.2h0M498.2 104.8h0M574.4 55.3h0M478.8 86.4h0M482.4 95.6h0M444.6 186.4h0M479.0 101.6h0M454.4 102.2h0M560.8 98.0h0M508.3 108.4h0M469.5 120.8h0M455.0 90.8h0M501.7 98.6h0M566.6 205.0h0M456.9 120.1h0M489.5 79.4h0M551.5 98.8h0M460.1 105.3h0M483.1 98.6h0M564.5 99.9h0M569.2 67.6h0M605.5 92.2h0M489.1 32.3h0M457.2 110.5h0M489.2 60.4h0M603.3 94.6h0M450.3 111.2h0M511.1 94.5h0M476.4 191.1h0M462.8 93.0h0M573.5 123.5h0M476.8 101.3h0M506.7 105.2h0M501.2 99.7h0M447.5 49.6h0M485.7 169.6h0M478.7 93.2h0M536.5 118.3h0M467.7 113.5h0M465.1 94.2h0M468.5 116.7h0M499.4 106.8h0M560.1 145.2h0M454.9 98.7h0M554.6 102.1h0M463.5 87.6h0M499.5 113.4h0M504.7 96.2h0M474.6 93.1h0M599.1 108.6h0M489.8 114.7h0M517.2 103.9h0M526.8 71.5h0M485.8 109.4h0M447.3 155.5h0M460.4 110.3h0M477.8 96.5h0M460.5 85.1h0M467.0 97.0h0M460.5 102.8h0M554.2 91.1h0M556.4 98.6h0M486.5 90.2h0M492.1 107.2h0M485.6 100.4h0M497.0 101.0h0M529.4 27.7h0M531.0 200.5h0M469.6 97.3h0M510.9 89.6h0M565.7 92.9h0M538.2 77.1h0M600.1 166.3h0M431.6 101.4h0M561.6 53.0h0M573.1 99.8h0M512.0 98.7h0M449.5 176.3h0M467.7 85.2h0M495.3 105.4h0M481.7 102.4h0M452.5 3.8h0M561.1 91.9h0M504.6 59.3h0M442.4 121.2h0M442.8 99.5h0M594.0 101.9h0M480.7 96.5h0M487.5 101.2h0M572.4 103.1h0M541.0 50.0h0M465.1 102.6h0M522.3 6.8h0M545.3 104.6h0M466.8 79.8h0M566.8 53.6h0M486.3 105.5h0M558.1 104.7h0M587.7 113.7h0M502.7 140.0h0M456.5 116.6h0M459.3 12.3h0M447.4 97.4h0M532.5 101.1h0M494.8 125.0h0M485.9 104.1h0M510.7 99.8h0M505.8 140.1h0M473.1 105.4h0M461.5 102.8h0M596.2 106.4h0M545.4 103.6h0M491.6 141.8h0M468.2 92.5h0M615.1 89.1h0M596.3 101.7h0M489.2 204.0h0M530.9 94.7h0M482.3 60.0h0M524.5 44.0h0M603.1 52.3h0M553.8 52.1h0M536.6 100.3h0M469.4 105.3h0M587.7 103.6h0M473.8 107.6h0M611.2 77.6h0M579.5 165.7h0M483.9 104.9h0M515.7 119.3h0M514.6 113.5h0M542.7 95.8h0M541.4 185.0h0M500.7 14.4h0M540.3 100.1h0M472.1 139.3h0M537.8 101.2h0M507.3 134.9h0M558.8 52.7h0"/><path d="M471.5 115.4h0M468.3 112.4h0M566.0 102.7h0M590.3 102.6h0M464.6 104.3h0M506.3 102.9h0M456.2 110.6h0M466.1 97.4h0M455.7 104.6h0M547.0 102.2h0M455.5 100.2h0M537.6 65.6h0M493.5 101.8h0M477.0 100.0h0M461.3 107.7h0M508.4 104.0h0M468.7 191.7h0M457.6 99.4h0M553.8 99.4h0M471.1 123.0h0M594.7 117.0h0M459.0 105.9h0M596.0 137.9h0M518.9 115.2h0M549.2 89.4h0M589.2 182.3h0M562.9 93.7h0M569.0 209.9h0M540.4 101.5h0M502.3 143.6h0M497.6 27.2h0M562.7 106.4h0M465.5 209.0h0M465.3 102.1h0M476.4 162.1h0M448.2 100.2h0M452.2 95.3h0M550.1 101.7h0M535.9 119.6h0M466.0 101.1h0M589.4 89.0h0M598.5 93.1h0M543.5 167.2h0M505.3 2.4h0M604.2 95.8h0M447.6 101.3h0M474.3 104.8h0M577.5 101.5h0M594.9 121.5h0M542.8 93.1h0M464.8 99.7h0M450.0 104.4h0M548.8 103.7h0M477.3 103.5h0M495.2 5.8h0M563.5 94.0h0M587.1 103.6h0M481.3 64.0h0M482.3 94.9h0M453.3 104.9h0M469.4 104.2h0M469.1 101.6h0M484.0 103.4h0M435.9 104.1h0M545.0 112.9h0M530.1 82.9h0M542.3 24.3h0M508.7 90.3h0M487.0 98.0h0M600.7 29.2h0M465.0 8.1h0M545.3 101.3h0M455.8 111.4h0M611.5 4.3h0M448.1 102.0h0M485.7 99.6h0M591.5 104.6h0M496.5 202.9h0M492.3 105.5h0M564.9 18.4h0M465.4 98.8h0M495.5 101.9h0M611.0 148.5h0M435.2 154.1h0M468.7 82.0h0M469.5 95.8h0M450.7 106.1h0M446.2 87.2h0M467.7 147.2h0M560.8 202.8h0M514.2 129.5h0M548.9 107.9h0M456.6 91.5h0M457.5 130.2h0M556.0 105.4h0M457.6 92.7h0M491.3 100.5h0M474.0 92.3h0M585.5 28.2h0M453.5 100.4h0M523.4 83.4h0M471.3 107.3h0M460.7 102.3h0M572.9 95.9h0M522.0 3.9h0M532.6 91.3h0M556.6 125.3h0M473.9 96.1h0M543.5 100.4h0M503.4 88.2h0M477.8 102.7h0M469.0 88.4h0M480.7 126.6h0M441.2 110.9h0M481.0 111.5h0M612.7 95.7h0M474.0 12.3h0M497.1 72.8h0M528.9 106.5h0M460.1 99.7h0M596.2 106.2h0M468.0 110.5h0M478.2 104.9h0M472.1 104.5h0M534.4 112.1h0M561.6 198.2h0M451.9 107.8h0M501.8 95.6h0M503.8 -1.1h0M468.9 194.8h0M555.0 99.9h0M443.8 98.9h0M481.7 23.6h0M561.8 105.0h0M517.1 105.2h0M601.7 99.5h0M499.2 107.8h0M597.7 4.4h0M580.3 98.5h0M455.4 183.4h0M597.3 100.0h0M547.1 103.3h0M499.6 111.5h0M481.1 98.2h0M564.7 102.3h0M573.9 93.2h0M549.6 33.4h0M520.4 106.4h0M458.4 84.3h0M505.0 30.6h0M569.6 105.7h0M508.6 166.6h0M508.2 98.0h0M463.3 181.4h0M481.1 107.2h0M530.9 -0.0h0M576.8 103.2h0M516.3 67.0h0M508.1 94.9h0M446.6 101.4h0M560.6 139.8h0M519.9 104.8h0M496.4 88.6h0M509.3 33.7h0M456.9 101.9h0M598.7 105.4h0M447.7 112.7h0M455.1 126.0h0M471.7 72.4h0M571.3 96.8h0M451.4 13.9h0M503.6 80.2h0M467.9 99.0h0"/><path d="M571.3 111.8h0M625.5 103.1h0M573.6 84.7h0M467.0 103.5h0M453.3 93.6h0M474.0 92.2h0M595.8 104.9h0M440.3 102.9h0M460.3 95.2h0M478.5 100.0h0M462.4 110.5h0M489.6 93.6h0M550.0 99.6h0M465.9 107.9h0M541.6 6.3h0M501.1 101.7h0M466.0 92.8h0M517.3 107.4h0M495.4 109.5h0M571.1 102.9h0M489.2 110.5h0M498.0 95.0h0M444.7 102.3h0M587.5 101.6h0M475.4 19.5h0M595.8 96.1h0M605.6 30.1h0M464.7 90.9h0M497.2 100.7h0M478.0 98.7h0M444.8 116.5h0M486.3 79.3h0M516.4 97.3h0M469.0 56.4h0M510.7 102.3h0M471.7 101.3h0M474.9 102.6h0M481.6 59.9h0M490.3 59.1h0M466.4 132.2h0M532.1 106.4h0M468.7 92.9h0M515.7 100.3h0M609.4 92.7h0M508.0 104.1h0M548.9 91.3h0M477.7 101.1h0M442.5 103.6h0M469.1 101.3h0M539.5 174.8h0M489.1 103.8h0M433.0 101.6h0M450.5 101.0h0M450.8 70.3h0M506.9 97.9h0M545.3 126.6h0M592.7 186.8h0M561.8 154.8h0M463.5 154.5h0M472.1 44.4h0M485.3 117.6h0M472.1 95.9h0M486.8 97.6h0M488.2 98.4h0M502.1 108.3h0M511.8 106.4h0M597.7 158.4h0M473.0 55.8h0M581.6 177.6h0M609.6 189.6h0M469.7 109.1h0M450.4 102.1h0M456.5 158.4h0M471.0 100.6h0M508.2 92.6h0M469.9 88.7h0M479.4 102.8h0M503.7 99.8h0M453.6 205.4h0M475.7 97.3h0M487.3 154.4h0M512.4 93.0h0M446.9 42.5h0M589.5 97.6h0M560.2 109.4h0M528.2 45.1h0M463.3 104.4h0M468.6 11.6h0M463.1 134.2h0M555.5 93.9h0M587.3 91.6h0M503.1 28.4h0M577.8 87.0h0M513.7 100.5h0M585.3 103.7h0M456.2 98.5h0M482.3 149.8h0M501.0 103.3h0M564.9 94.7h0M466.1 125.4h0M603.5 98.0h0M483.4 93.8h0M495.5 99.6h0M494.4 95.4h0M613.7 112.9h0M545.1 84.0h0M480.3 103.9h0M454.4 104.9h0M609.3 104.5h0M467.4 118.7h0M457.0 104.2h0M506.5 148.6h0M476.6 9.6h0M484.4 33.4h0M553.7 101.1h0M492.6 96.7h0M533.1 96.6h0M510.0 97.9h0M449.4 85.6h0M472.2 95.1h0M463.2 100.8h0M468.9 98.5h0M482.6 60.2h0M528.7 106.6h0M496.7 191.0h0M617.5 92.0h0M481.1 100.9h0M600.8 96.3h0M479.9 112.9h0M516.0 103.2h0M481.6 93.5h0M476.0 103.4h0M471.0 10.8h0M594.7 96.8h0M601.3 92.8h0M467.1 101.3h0M498.0 98.7h0M610.4 85.3h0M559.8 99.5h0M521.1 125.9h0M492.9 96.0h0M444.6 107.1h0M459.4 100.2h0M553.9 92.4h0M554.8 52.2h0M611.3 69.2h0M556.6 96.5h0M477.3 139.8h0M550.7 104.4h0M537.0 98.3h0M456.9 109.7h0M590.9 83.6h0M494.0 99.6h0M601.0 103.9h0M514.5 104.0h0M579.0 117.5h0M463.4 34.0h0M455.0 103.9h0M461.0 101.7h0M602.7 105.0h0M456.9 106.2h0M462.4 101.3h0M472.9 131.7h0M545.0 4.8h0M458.4 51.9h0M534.4 96.8h0M538.8 103.4h0M499.1 12.5h0M552.4 96.3h0M532.3 89.2h0M551.8 1.0h0M538.7 112.3h0M531.0 152.9h0"/><path d="M455.8 98.7h0M475.5 86.0h0M466.8 97.5h0M463.8 100.4h0M564.1 95.4h0M508.4 208.6h0M498.1 105.3h0M563.5 11.5h0M462.0 103.1h0M461.1 102.4h0M468.4 86.5h0M452.9 103.7h0M479.5 117.1h0M510.9 96.8h0M466.7 105.9h0M574.9 105.1h0M608.8 102.0h0M452.8 90.7h0M448.9 44.7h0M550.8 107.0h0M544.1 44.3h0M459.4 103.2h0M465.1 99.5h0M544.1 98.4h0M460.4 95.5h0M513.3 98.0h0M476.0 103.5h0M486.3 76.7h0M486.8 80.5h0M471.6 102.2h0M455.6 111.9h0M529.8 108.2h0M535.7 99.8h0M482.0 107.8h0M526.2 113.4h0M443.2 96.7h0M489.3 110.2h0M490.6 105.8h0M449.3 101.7h0M507.5 102.2h0M482.7 102.5h0M447.3 103.3h0M482.9 96.0h0M582.2 95.6h0M475.4 105.1h0M462.7 103.7h0M509.6 160.9h0M467.6 119.8h0M585.6 85.7h0M473.3 107.1h0M567.5 97.9h0M451.6 100.4h0M459.7 108.0h0M544.6 101.4h0M489.7 92.2h0M463.4 32.8h0M489.3 93.7h0M521.8 100.2h0M474.3 74.9h0M538.2 103.6h0M455.7 79.2h0M496.1 100.6h0M454.9 105.8h0M469.5 185.8h0M480.1 108.2h0M467.1 130.5h0M471.0 95.2h0M596.7 100.2h0M458.5 202.1h0M513.1 180.0h0M456.5 93.8h0M502.8 102.0h0M545.3 105.7h0M505.3 101.3h0M471.6 87.3h0M461.8 109.8h0M524.2 106.4h0M567.0 83.8h0M451.8 98.1h0M494.0 111.3h0M472.6 92.6h0M609.7 89.4h0M444.4 20.0h0M576.6 87.7h0M453.4 23.8h0M581.8 103.0h0M588.1 85.2h0M546.3 99.3h0M555.2 97.7h0M466.6 103.1h0M476.9 101.2h0M611.4 110.2h0M488.2 86.2h0M565.8 100.4h0M594.0 96.1h0M495.2 45.1h0M456.1 112.9h0M477.0 96.2h0M488.6 110.6h0M479.8 109.0h0M494.7 101.2h0M506.6 200.4h0M493.8 120.3h0M474.1 85.3h0M491.0 35.0h0M558.5 101.3h0M564.5 96.1h0M466.0 103.2h0M541.5 107.6h0M471.7 101.3h0M454.5 28.0h0M480.0 104.2h0M580.0 94.2h0M535.6 93.6h0M578.4 97.5h0M474.1 100.2h0M492.0 87.0h0M439.9 100.0h0M479.3 191.4h0M482.5 78.3h0M466.5 86.6h0M456.0 82.6h0M487.3 125.0h0M465.2 108.1h0M590.6 202.4h0M578.1 103.4h0M474.6 109.1h0M504.5 95.0h0M535.3 103.2h0M513.2 111.0h0M502.1 32.1h0M488.9 99.9h0M499.1 97.6h0M524.2 98.0h0M617.4 69.9h0M578.5 88.8h0M481.6 94.3h0M478.2 101.1h0M481.0 104.5h0M478.3 21.0h0M465.2 99.4h0M636.5 92.1h0M593.0 66.3h0M581.4 97.7h0M469.9 97.0h0M455.6 102.7h0M465.8 108.3h0M484.6 104.1h0M515.5 102.2h0M471.7 191.6h0M506.0 101.2h0M470.2 82.1h0M566.1 93.1h0M541.1 109.9h0M548.7 106.4h0M451.8 110.5h0M498.8 76.1h0M499.9 108.2h0M464.5 99.6h0M494.4 48.6h0M471.2 108.1h0M592.8 99.3h0M490.9 105.0h0M484.0 101.2h0M473.9 189.3h0M474.0 104.9h0M586.9 141.3h0M467.1 95.4h0M526.8 96.1h0M471.8 97.6h0M460.7 107.5h0M477.8 103.2h0M524.1 99.9h0"/><path d="M447.3 106.4h0M523.4 105.6h0M520.4 203.7h0M541.4 59.3h0M482.8 93.7h0M552.7 21.8h0M465.0 82.3h0M575.3 100.6h0M551.5 108.9h0M506.5 97.9h0M486.2 137.2h0M467.6 102.2h0M474.6 106.3h0M452.2 124.5h0M558.5 106.4h0M524.0 92.8h0M611.4 104.2h0M608.2 102.5h0M501.6 187.4h0M512.6 201.7h0M493.3 93.3h0M500.4 109.6h0M481.3 84.3h0M464.3 96.4h0M477.2 103.8h0M494.8 107.2h0M476.4 98.7h0M479.4 115.3h0M458.1 103.5h0M609.1 99.9h0M485.7 94.4h0M554.8 111.0h0M617.3 138.4h0M461.7 106.2h0M617.4 95.5h0M569.0 96.1h0M514.6 105.4h0M473.4 97.6h0M617.9 201.3h0M473.7 174.2h0M447.8 113.9h0M466.8 131.4h0M576.1 98.5h0M500.7 102.3h0M468.8 106.2h0M559.7 103.6h0M597.7 202.2h0M456.3 125.6h0M444.2 107.5h0M471.9 138.0h0M435.7 109.1h0M511.2 104.5h0M521.2 91.8h0M528.5 98.4h0M518.5 191.7h0M487.8 11.4h0M482.0 99.7h0M551.8 82.1h0M572.3 95.9h0M471.5 101.6h0M465.2 108.2h0M546.2 108.9h0M564.5 92.9h0M449.7 60.3h0M491.1 100.9h0M648.0 64.1h0M438.8 104.0h0M475.7 114.0h0M496.1 83.2h0M493.0 97.1h0M481.6 96.4h0M457.1 102.8h0M466.8 127.7h0M475.1 84.7h0M535.6 126.1h0M439.9 102.8h0M488.1 108.9h0M427.5 103.8h0M472.0 81.9h0M492.5 21.3h0M481.1 102.7h0M494.6 100.6h0M459.4 113.2h0M479.9 109.1h0M482.6 111.2h0M505.0 193.5h0M573.1 101.4h0M555.1 118.5h0M477.2 102.0h0M483.3 98.4h0M546.4 96.9h0M522.6 53.4h0M562.0 93.8h0M523.4 93.7h0M483.6 78.3h0M466.0 106.9h0M495.1 77.1h0M586.5 175.9h0M447.1 96.1h0M481.9 105.4h0M594.0 21.7h0M480.9 168.6h0M468.9 104.1h0M543.6 99.2h0M472.9 97.3h0M454.0 189.2h0M579.6 174.6h0M548.8 106.2h0M463.1 118.3h0M457.0 96.3h0M441.9 103.8h0M487.7 103.5h0M463.6 75.7h0M496.7 96.7h0M443.1 104.5h0M465.8 99.9h0M459.1 6.6h0M491.8 105.0h0M471.3 91.2h0M609.3 97.5h0M591.7 103.2h0M556.1 187.8h0M584.5 135.6h0M442.9 97.7h0M498.2 102.7h0M477.4 176.7h0M452.0 108.2h0M524.5 95.7h0M474.8 79.7h0M461.1 202.1h0M538.9 49.9h0M534.5 156.0h0M522.7 90.4h0M558.6 27.6h0M494.8 11.3h0M546.8 94.3h0M489.2 24.4h0M471.5 102.7h0M478.1 99.6h0M479.7 107.8h0M504.8 89.5h0M474.9 97.6h0M476.9 73.3h0M475.6 18.7h0M504.4 103.0h0M463.7 112.1h0M535.9 99.8h0M553.7 104.0h0M465.5 101.3h0M465.0 110.4h0M469.2 105.2h0M488.2 99.3h0M606.6 97.7h0M459.7 106.3h0M481.0 104.8h0M579.2 101.1h0M549.4 135.0h0M456.4 193.8h0M505.4 94.2h0M466.7 111.5h0M464.1 30.9h0M457.4 107.9h0M485.7 101.2h0M511.5 208.9h0M621.5 98.0h0M467.2 103.5h0M500.2 102.6h0M569.7 102.4h0M461.0 99.9h0M542.7 -1.7h0M606.4 128.4h0M491.2 100.0h0M452.2 99.6h0"/><path d="M511.6 113.2h0M586.9 110.2h0M586.2 101.1h0M481.7 100.0h0M452.5 105.2h0M473.9 107.1h0M459.2 116.3h0M456.3 105.4h0M604.4 102.7h0M489.2 86.6h0M615.7 97.5h0M462.9 104.8h0M492.0 103.2h0M551.8 81.0h0M578.5 99.6h0M467.3 94.3h0M467.2 108.5h0M499.5 178.7h0M511.0 98.9h0M470.1 103.4h0M465.6 97.5h0M441.6 86.7h0M447.3 97.4h0M458.7 94.5h0M487.0 108.0h0M561.9 20.4h0M612.9 147.9h0M600.5 34.6h0M506.7 206.9h0M460.3 109.4h0M488.2 108.4h0M496.6 100.7h0M467.3 97.4h0M586.4 150.1h0M511.6 102.0h0M516.1 88.4h0M448.0 104.0h0M499.2 80.9h0M465.5 103.2h0M448.0 98.5h0M582.1 93.3h0M553.7 103.5h0M465.1 99.3h0M457.7 100.5h0M525.4 78.5h0M567.4 181.3h0M493.4 112.8h0M456.7 94.1h0M487.4 127.6h0M562.3 96.8h0M585.8 88.7h0M480.0 10.7h0M485.1 58.5h0M532.7 93.2h0M552.1 101.8h0M491.0 101.8h0M564.2 101.1h0M611.6 102.7h0M519.4 105.3h0M488.8 21.7h0M478.3 94.7h0M515.0 116.3h0M562.4 109.4h0M520.1 97.0h0M479.4 81.6h0M583.4 99.5h0M588.8 152.2h0M466.8 103.7h0M531.1 9.4h0M518.4 93.0h0M535.6 95.4h0M429.5 99.2h0M475.0 81.7h0M471.7 25.1h0M488.7 62.4h0M466.0 57.1h0M470.3 115.8h0M503.1 1.8h0M581.2 82.8h0M476.2 96.9h0M462.3 106.1h0M576.8 98.0h0M469.3 160.1h0M584.5 187.6h0M467.6 99.1h0M482.0 104.4h0M479.9 74.4h0M470.8 100.3h0M579.1 99.3h0M452.0 100.6h0M503.0 104.1h0M505.3 122.3h0M495.3 1.5h0M460.4 160.8h0M434.5 105.5h0M475.2 92.8h0M551.8 112.4h0M488.4 98.4h0M541.4 66.9h0M529.9 99.4h0M465.7 100.2h0M559.2 113.6h0M547.7 207.2h0M479.5 105.4h0M480.9 190.0h0M566.8 98.1h0M476.3 102.4h0M589.2 101.4h0M496.6 105.0h0M451.7 97.2h0M563.2 88.3h0M497.9 51.2h0M472.7 135.6h0M572.8 89.8h0M475.1 106.5h0M454.0 102.3h0M524.0 103.4h0M590.6 100.0h0M443.8 95.3h0M540.1 69.4h0M463.3 80.1h0M462.1 98.9h0M494.2 106.6h0M611.2 101.2h0M476.6 98.7h0M453.5 102.9h0M585.2 19.6h0M500.8 61.0h0M477.4 72.2h0M474.7 88.2h0M560.5 140.2h0M603.0 103.6h0M448.9 42.7h0M494.2 82.9h0M492.2 86.9h0M495.1 97.3h0M557.0 23.3h0M583.0 1.7h0M457.5 96.3h0M489.1 200.7h0M479.9 98.1h0M516.1 11.4h0M531.0 65.0h0M473.4 112.4h0M615.3 107.3h0M471.8 85.2h0M593.4 102.2h0M460.3 90.1h0M492.5 140.1h0M508.9 106.4h0M505.3 99.7h0M493.6 99.8h0M488.2 99.3h0M503.2 46.7h0M584.4 88.0h0M593.6 86.0h0M431.8 104.3h0M467.2 100.6h0M466.2 102.7h0M461.5 73.9h0M581.7 105.7h0M492.5 99.6h0M495.6 101.7h0M548.2 100.6h0M468.4 88.7h0M468.4 95.1h0M485.2 81.1h0M493.3 108.3h0M500.4 82.6h0M480.7 103.7h0M619.7 80.1h0M490.6 106.2h0M454.4 103.0h0"/><path d="M464.5 98.3h0M478.4 101.8h0M470.7 164.3h0M542.7 155.3h0M461.2 168.1h0M463.7 80.1h0M509.1 94.7h0M504.7 179.0h0M471.4 57.3h0M460.8 204.9h0M462.3 93.2h0M555.8 93.6h0M482.6 97.4h0M477.1 103.6h0M484.1 103.1h0M530.8 95.2h0M447.0 109.6h0M493.2 200.4h0M533.5 101.5h0M499.7 107.0h0M506.4 97.2h0M606.7 115.1h0M494.5 101.5h0M500.7 104.2h0M463.6 105.3h0M456.9 95.1h0M552.5 99.7h0M538.6 93.1h0M446.5 108.7h0M560.1 109.6h0M435.0 91.2h0M532.5 106.4h0M580.0 92.4h0M491.8 68.5h0M549.0 158.6h0M517.7 106.2h0M507.8 97.4h0M483.7 103.6h0M452.0 93.7h0M482.0 103.8h0M580.0 102.4h0M595.4 98.4h0M485.4 98.1h0M492.1 101.7h0M508.9 101.3h0M589.5 101.8h0M566.1 159.9h0M479.6 96.0h0M524.6 100.3h0M480.4 101.8h0M441.3 102.2h0M508.9 51.2h0M582.7 99.4h0M463.6 81.5h0M473.0 80.7h0M583.3 135.5h0M463.3 99.4h0M524.0 106.5h0M494.7 48.2h0M585.4 32.8h0M469.8 100.7h0M492.6 99.8h0M479.8 102.1h0M468.0 93.1h0M476.0 196.5h0M571.0 145.0h0M469.6 99.5h0M445.7 92.4h0M562.9 101.5h0M489.1 139.1h0M471.9 85.6h0M504.3 113.5h0M588.0 110.4h0M466.4 102.8h0M551.6 102.1h0M603.5 50.8h0M469.7 108.5h0M463.8 107.0h0M497.4 48.9h0M482.7 100.3h0M598.2 94.9h0M501.3 98.7h0M516.9 86.0h0M464.9 108.7h0M529.8 89.3h0M607.9 21.9h0M468.1 99.0h0M481.5 98.5h0M589.0 93.5h0M480.6 110.6h0M516.8 95.1h0M577.5 99.7h0M468.0 171.6h0M484.4 97.2h0M497.6 38.0h0M575.4 99.1h0M553.4 7.1h0M459.0 106.3h0M507.2 94.2h0M469.5 111.2h0M577.3 98.8h0M574.5 57.6h0M492.7 101.4h0M445.6 184.1h0M462.0 100.4h0M556.5 99.5h0M479.3 57.7h0M575.3 37.0h0M468.7 191.4h0M568.5 106.8h0M462.6 104.2h0M487.7 44.2h0M461.3 81.6h0M520.9 101.2h0M503.1 104.8h0M522.3 95.2h0M494.2 106.1h0M601.5 107.1h0M484.2 99.3h0M464.3 155.8h0M455.2 15.9h0M522.1 107.5h0M551.6 25.2h0M606.3 97.7h0M487.0 89.9h0M471.4 96.9h0M474.3 94.1h0M480.8 196.3h0M549.5 108.2h0M489.1 96.9h0M499.6 88.1h0M574.5 102.5h0M520.6 96.0h0M466.9 93.1h0M460.5 34.9h0M464.1 102.4h0M494.2 28.9h0M498.8 101.4h0M471.7 192.5h0M483.3 114.5h0M459.6 170.2h0M484.4 105.1h0M453.3 124.4h0M477.9 101.8h0M497.0 103.6h0M493.8 96.3h0M487.1 101.0h0M622.1 96.7h0M597.8 91.8h0M480.1 106.3h0M493.3 125.2h0M466.7 104.0h0M469.6 80.2h0M466.2 103.7h0M494.1 83.9h0M469.2 98.7h0M499.3 49.9h0M447.0 101.4h0M568.7 110.0h0M470.3 112.7h0M483.9 98.8h0M465.2 94.9h0M500.6 96.9h0M531.1 59.6h0M458.9 91.4h0M588.8 76.5h0M482.8 99.1h0M488.2 94.6h0M461.5 90.9h0M469.7 97.8h0M487.4 110.5h0M544.5 90.0h0M467.9 185.3h0"/><path d="M454.8 26.3h0M510.9 99.1h0M483.8 33.8h0M450.6 93.3h0M569.9 174.2h0M524.4 186.7h0M474.8 102.1h0M478.4 99.2h0M511.4 88.6h0M556.0 104.2h0M539.5 105.5h0M466.8 173.0h0M473.2 198.4h0M605.9 96.5h0M599.3 104.5h0M463.7 107.1h0M530.7 102.9h0M475.7 101.7h0M523.8 96.6h0M514.4 111.5h0M460.2 107.1h0M460.3 172.0h0M527.0 99.1h0M460.8 97.4h0M593.1 98.1h0M490.1 73.3h0M468.6 105.4h0M458.9 100.7h0M482.7 106.3h0M470.1 102.6h0M543.0 26.7h0M512.1 97.1h0M458.6 103.5h0M465.4 105.6h0M521.6 87.4h0M565.6 101.1h0M510.9 101.5h0M504.1 97.9h0M563.7 133.6h0M546.5 14.7h0M502.9 104.6h0M446.9 179.6h0M457.6 99.7h0M475.8 106.3h0M439.7 104.6h0M558.7 101.7h0M470.5 100.3h0M480.9 94.5h0M464.2 99.0h0M509.8 98.0h0M476.5 107.6h0M506.5 101.4h0M457.5 99.2h0M470.7 102.1h0M489.6 93.7h0M568.5 122.8h0M449.7 99.8h0M465.1 111.7h0M608.2 96.0h0M610.0 87.9h0M483.5 96.5h0M556.3 82.3h0M525.7 91.7h0M457.8 111.1h0M540.6 97.6h0M566.1 108.8h0M491.6 99.5h0M459.8 108.0h0M446.5 108.1h0M451.9 111.0h0M584.1 87.0h0M482.9 105.2h0M521.0 137.2h0M518.2 99.6h0M487.7 106.4h0M447.0 101.6h0M563.2 101.3h0M541.0 102.6h0M612.6 177.1h0M486.5 93.8h0M474.2 103.4h0M501.8 103.0h0M449.4 107.8h0M537.5 102.1h0M478.1 102.6h0M472.7 91.1h0M477.2 103.6h0M461.9 107.9h0M496.3 107.7h0M575.1 56.3h0M471.1 140.3h0M605.2 97.1h0M502.7 110.4h0M485.1 127.9h0M486.0 84.3h0M478.1 106.4h0M564.3 94.2h0M469.2 91.7h0M496.5 112.2h0M523.4 4.8h0M493.2 108.5h0M452.2 103.7h0M584.2 147.3h0M507.6 96.3h0M475.0 97.8h0M504.8 88.4h0M490.9 100.0h0M589.1 108.1h0M461.7 109.6h0M467.2 97.3h0M583.6 95.2h0M567.7 27.6h0M466.0 152.0h0M490.7 94.8h0M482.2 110.6h0M482.0 22.8h0M465.6 108.3h0M496.6 102.6h0M490.2 48.0h0M547.8 95.7h0M467.9 135.9h0M467.9 111.3h0M494.8 105.0h0M510.1 100.7h0M434.8 99.7h0M489.1 101.7h0M460.1 56.0h0M488.1 98.2h0M573.1 98.7h0M593.4 100.8h0M477.9 109.7h0M533.9 202.6h0M614.3 108.5h0M556.8 113.7h0M452.6 58.9h0M527.0 101.6h0M474.7 104.3h0M491.2 39.6h0M485.1 85.4h0M506.5 102.2h0M467.9 82.6h0M459.6 101.3h0M584.5 -0.0h0M459.9 100.5h0M526.1 47.5h0M482.1 38.2h0M448.6 101.8h0M575.6 101.1h0M476.9 92.2h0M499.9 99.7h0M478.2 101.2h0M469.7 90.5h0M484.2 56.1h0M565.5 44.3h0M470.2 108.5h0M493.8 88.6h0M477.6 104.1h0M522.3 75.8h0M517.9 52.5h0M552.1 98.3h0M575.1 107.7h0M475.7 109.3h0M573.0 100.7h0M467.3 105.7h0M462.4 107.5h0M517.7 99.1h0M597.6 146.4h0M503.8 87.2h0M459.0 111.3h0M506.4 70.8h0M493.7 189.7h0M491.4 75.2h0M460.7 206.8h0"/><path d="M460.2 102.6h0M497.3 104.2h0M466.4 90.2h0M552.2 129.2h0M553.6 32.7h0M477.1 62.2h0M465.6 101.5h0M465.2 148.0h0M547.7 0.6h0M483.2 36.0h0M596.6 11.5h0M487.1 101.9h0M516.6 97.6h0M538.6 93.7h0M478.8 96.0h0M465.2 98.7h0M617.5 43.2h0M551.5 96.6h0M543.0 139.5h0M479.5 103.9h0M466.4 119.5h0M487.0 87.3h0M467.2 32.9h0M444.1 111.6h0M472.8 21.0h0M460.1 102.7h0M582.3 87.3h0M486.1 209.7h0M497.5 103.7h0M473.8 36.1h0M478.8 91.6h0M533.6 178.9h0M606.1 106.0h0M537.4 98.2h0M441.5 105.5h0M456.1 101.1h0M524.4 153.5h0M465.0 0.0h0M446.5 103.7h0M509.1 105.0h0M469.1 99.3h0M607.2 102.7h0M470.6 101.7h0M562.3 84.3h0M441.2 102.2h0M438.1 82.0h0M455.2 104.8h0M489.5 170.1h0M472.8 102.3h0M579.5 97.3h0M557.3 91.8h0M570.8 87.9h0M476.3 75.4h0M495.1 62.0h0M552.5 105.0h0M461.1 104.6h0M497.0 93.0h0M481.9 89.3h0M585.5 77.3h0M578.2 99.4h0M530.8 104.3h0M507.4 145.9h0M584.7 96.3h0M544.7 101.7h0M479.6 100.4h0M460.2 110.2h0M573.9 104.4h0M607.2 105.9h0M561.7 104.4h0M500.8 113.8h0M519.6 102.5h0M512.0 0.5h0M565.7 196.0h0M459.2 103.6h0M561.4 105.3h0M478.2 125.5h0M477.9 106.5h0M471.6 187.6h0M600.0 156.4h0M567.1 89.5h0M515.8 99.3h0M572.4 49.3h0M521.1 105.8h0M468.9 99.4h0M487.0 54.9h0M470.6 101.3h0M478.3 74.4h0M563.5 156.5h0M469.6 99.4h0M549.0 98.3h0M474.4 99.5h0M499.3 26.0h0M559.7 107.8h0M583.4 89.6h0M488.8 96.4h0M469.8 104.1h0M442.9 104.4h0M465.5 96.7h0M535.3 103.4h0M501.6 107.2h0M510.2 162.7h0M445.5 157.8h0M517.4 94.5h0M474.7 104.0h0M492.4 101.9h0M524.3 65.5h0M503.5 93.1h0M540.1 97.5h0M485.6 155.7h0M535.7 20.8h0M603.4 106.8h0M579.7 102.1h0M459.4 67.3h0M576.1 99.4h0M569.3 109.3h0M533.8 163.3h0M453.1 132.2h0M514.0 72.9h0M440.6 179.6h0M535.1 97.0h0M467.3 123.8h0M583.6 107.6h0M573.9 159.2h0M554.3 129.1h0M495.6 102.6h0M434.9 6.2h0M477.3 106.8h0M482.3 98.4h0M461.3 104.6h0M547.4 79.3h0M482.8 105.7h0M465.9 178.6h0M550.0 108.3h0M490.4 75.7h0M565.2 94.9h0M484.9 98.1h0M480.1 103.9h0M493.9 54.2h0M554.4 31.4h0M508.9 61.1h0M479.7 105.4h0M466.9 94.0h0M466.0 109.3h0M478.1 99.0h0M455.1 66.5h0M585.2 113.6h0M454.5 100.5h0M572.6 101.5h0M470.3 105.3h0M487.5 47.7h0M472.0 97.2h0M544.2 104.3h0M470.2 122.5h0M499.0 96.9h0M488.4 101.9h0M472.0 114.3h0M552.0 172.3h0M465.4 99.6h0M528.8 109.8h0M488.8 104.9h0M469.1 112.3h0M479.7 100.2h0M587.9 104.9h0M461.2 97.7h0M483.1 87.6h0M460.2 150.0h0M625.8 96.9h0M607.3 97.0h0M556.5 104.9h0M502.4 206.4h0M463.8 98.7h0M487.4 100.6h0M497.1 0.4h0"/><path d="M524.7 104.1h0M469.4 118.2h0M520.9 50.3h0M499.5 112.7h0M494.3 107.7h0M499.0 17.1h0M476.8 105.4h0M556.8 80.8h0M485.0 100.4h0M538.6 103.9h0M465.2 105.3h0M477.8 123.8h0M566.3 99.4h0M490.5 102.6h0M472.2 193.6h0M537.9 99.5h0M477.2 98.2h0M455.0 86.4h0M455.7 99.0h0M487.8 93.5h0M461.2 122.5h0M479.2 96.7h0M439.7 94.2h0M467.6 97.4h0M605.3 93.2h0M511.0 124.8h0M579.4 101.4h0M463.8 104.7h0M495.7 99.3h0M583.5 101.5h0M475.7 119.3h0M464.5 102.3h0M470.9 64.6h0M464.1 102.3h0M472.1 159.3h0M493.4 98.6h0M515.7 85.9h0M496.1 183.1h0M592.2 149.1h0M605.0 100.4h0M497.0 103.3h0M481.5 98.2h0M566.5 94.2h0M471.5 105.9h0M498.1 99.1h0M473.5 99.7h0M519.3 194.9h0M474.3 102.1h0M459.2 100.7h0M478.1 110.9h0M463.0 94.7h0M576.7 114.4h0M510.2 94.8h0M484.3 104.7h0M514.7 100.6h0M495.1 155.0h0M508.1 105.1h0M478.7 116.2h0M461.0 56.1h0M524.9 13.7h0M580.8 177.3h0M467.1 96.0h0M489.3 208.7h0M602.2 117.9h0M476.4 101.3h0M603.2 93.3h0M461.8 70.7h0M466.2 101.9h0M465.0 108.5h0M482.4 91.9h0M500.0 99.8h0M529.7 103.3h0M502.2 102.1h0M464.9 101.1h0M479.8 115.3h0M540.4 104.5h0M440.2 102.7h0M471.2 96.4h0M471.0 103.2h0M457.7 113.2h0M467.7 96.8h0M488.5 96.6h0M469.2 26.2h0M468.0 104.7h0M552.8 103.6h0M557.3 123.1h0M505.9 100.2h0M515.4 103.8h0M479.0 81.3h0M541.7 100.2h0M468.6 98.9h0M453.9 98.7h0M501.0 108.6h0M583.7 93.7h0M528.6 178.2h0M467.6 115.4h0M463.3 170.2h0M519.3 155.5h0M489.7 108.4h0M493.5 108.4h0M534.3 101.6h0M613.7 95.5h0M473.6 104.3h0M505.6 98.1h0M592.3 95.0h0M473.5 62.4h0M459.2 85.6h0M470.4 103.6h0M525.2 99.6h0M560.7 107.8h0M485.7 96.5h0M463.0 75.6h0M524.7 103.5h0M489.3 102.1h0M542.2 27.3h0M501.3 95.6h0M518.2 105.4h0M533.7 39.2h0M447.7 108.0h0M558.6 198.3h0M472.5 66.0h0M596.8 97.2h0M506.1 114.2h0M461.2 88.4h0M477.7 109.6h0M549.8 101.9h0M451.4 102.3h0M469.8 93.7h0M471.0 98.7h0M479.4 110.0h0M471.7 99.7h0M438.5 107.3h0M555.7 103.2h0M492.7 112.5h0M545.8 129.6h0M462.4 108.0h0M462.2 116.4h0M509.4 86.0h0M464.5 141.3h0M537.9 93.6h0M488.6 95.7h0M488.6 96.4h0M519.9 102.2h0M552.1 103.5h0M479.1 105.9h0M488.0 97.8h0M577.6 100.1h0M591.9 107.6h0M469.0 167.4h0M453.8 90.5h0M501.4 102.4h0M509.8 56.7h0M455.4 107.7h0M502.4 109.0h0M531.1 57.0h0M576.4 46.3h0M443.2 76.6h0M461.4 104.1h0M461.1 108.6h0M521.7 98.3h0M458.8 104.4h0M605.0 189.0h0M502.5 101.0h0M489.2 68.9h0M444.3 86.4h0M440.7 98.3h0M573.3 3.3h0M484.6 96.6h0M507.1 72.0h0M589.9 99.9h0M485.8 111.7h0M470.8 186.2h0M541.7 101.3h0"/></g><path d="M50.5 207.5H325.5M50.5 207.5V0M325.5 207.5V0" stroke="#808080" stroke-width="1" fill="none"/><path d="M50.0 0.5H326.0" stroke="#c8c8c8" stroke-width="1"/><path d="M59.68 207.5v2.5M119.04 207.5v2.5M178.40 207.5v2.5M237.76 207.5v2.5M297.12 207.5v2.5M50.5 18.60h-2.5M50.5 53.02h-2.5M50.5 87.44h-2.5M50.5 121.86h-2.5M50.5 156.28h-2.5M50.5 190.70h-2.5" stroke="#666" stroke-width="0.8"/><text x="59.38" y="220.8" font-size="11.3" text-anchor="middle" textLength="16.00" lengthAdjust="spacingAndGlyphs" fill="#000">−6</text><text x="118.74" y="220.8" font-size="11.3" text-anchor="middle" textLength="16.00" lengthAdjust="spacingAndGlyphs" fill="#000">−4</text><text x="178.10" y="220.8" font-size="11.3" text-anchor="middle" textLength="16.00" lengthAdjust="spacingAndGlyphs" fill="#000">−2</text><text x="237.76" y="220.8" font-size="11.3" text-anchor="middle" textLength="8.00" lengthAdjust="spacingAndGlyphs" fill="#000">0</text><text x="297.12" y="220.8" font-size="11.3" text-anchor="middle" textLength="8.00" lengthAdjust="spacingAndGlyphs" fill="#000">2</text><text x="45.30" y="22.80" font-size="11.85" text-anchor="end" textLength="24.2" lengthAdjust="spacingAndGlyphs" fill="#000">2.66</text><text x="45.30" y="57.22" font-size="11.85" text-anchor="end" textLength="24.2" lengthAdjust="spacingAndGlyphs" fill="#000">2.64</text><text x="45.30" y="91.64" font-size="11.85" text-anchor="end" textLength="24.2" lengthAdjust="spacingAndGlyphs" fill="#000">2.62</text><text x="45.30" y="126.06" font-size="11.85" text-anchor="end" textLength="24.2" lengthAdjust="spacingAndGlyphs" fill="#000">2.60</text><text x="45.30" y="160.48" font-size="11.85" text-anchor="end" textLength="24.2" lengthAdjust="spacingAndGlyphs" fill="#000">2.58</text><text x="45.30" y="194.90" font-size="11.85" text-anchor="end" textLength="24.2" lengthAdjust="spacingAndGlyphs" fill="#000">2.56</text><path d="M401.5 207.5H676.5M401.5 207.5V0M676.5 207.5V0" stroke="#808080" stroke-width="1" fill="none"/><path d="M401.0 0.5H677.0" stroke="#c8c8c8" stroke-width="1"/><path d="M410.58 207.5v2.5M469.83 207.5v2.5M529.08 207.5v2.5M588.33 207.5v2.5M647.58 207.5v2.5M401.5 20.60h-2.5M401.5 57.94h-2.5M401.5 95.28h-2.5M401.5 132.62h-2.5M401.5 169.96h-2.5M401.5 207.30h-2.5" stroke="#666" stroke-width="0.8"/><text x="410.28" y="220.6" font-size="11.3" text-anchor="middle" textLength="16.00" lengthAdjust="spacingAndGlyphs" fill="#000">−6</text><text x="469.53" y="220.6" font-size="11.3" text-anchor="middle" textLength="16.00" lengthAdjust="spacingAndGlyphs" fill="#000">−4</text><text x="528.78" y="220.6" font-size="11.3" text-anchor="middle" textLength="16.00" lengthAdjust="spacingAndGlyphs" fill="#000">−2</text><text x="588.33" y="220.6" font-size="11.3" text-anchor="middle" textLength="8.00" lengthAdjust="spacingAndGlyphs" fill="#000">0</text><text x="647.58" y="220.6" font-size="11.3" text-anchor="middle" textLength="8.00" lengthAdjust="spacingAndGlyphs" fill="#000">2</text><text x="396.30" y="25.10" font-size="12.5" text-anchor="end" textLength="24.2" lengthAdjust="spacingAndGlyphs" fill="#000">2.66</text><text x="396.30" y="62.44" font-size="12.5" text-anchor="end" textLength="24.2" lengthAdjust="spacingAndGlyphs" fill="#000">2.64</text><text x="396.30" y="99.78" font-size="12.5" text-anchor="end" textLength="24.2" lengthAdjust="spacingAndGlyphs" fill="#000">2.62</text><text x="396.30" y="137.12" font-size="12.5" text-anchor="end" textLength="24.2" lengthAdjust="spacingAndGlyphs" fill="#000">2.60</text><text x="396.30" y="174.46" font-size="12.5" text-anchor="end" textLength="24.2" lengthAdjust="spacingAndGlyphs" fill="#000">2.58</text><text x="396.30" y="211.80" font-size="12.5" text-anchor="end" textLength="24.2" lengthAdjust="spacingAndGlyphs" fill="#000">2.56</text><text x="187.7" y="234.2" font-size="12.3" text-anchor="middle" textLength="69.5" lengthAdjust="spacingAndGlyphs" fill="#000">Baseline (V)</text><text x="538.1" y="234.2" font-size="12.3" text-anchor="middle" textLength="69.5" lengthAdjust="spacingAndGlyphs" fill="#000">Baseline (V)</text><text transform="translate(15.8 105.2) rotate(-90)" font-size="12.3" text-anchor="middle" textLength="77.5" lengthAdjust="spacingAndGlyphs" fill="#000">Energy (MeV)</text><text transform="translate(366.9 104.6) rotate(-90)" font-size="12.3" text-anchor="middle" textLength="77.5" lengthAdjust="spacingAndGlyphs" fill="#000">Energy (MeV)</text><text x="162.25" y="271.7" font-size="28.0" text-anchor="middle" class="s" fill="#000">(a)</text><text x="512.75" y="271.7" font-size="28.0" text-anchor="middle" class="s" fill="#000">(b)</text><text x="337.45" y="636.3" font-size="28.0" text-anchor="middle" class="s" fill="#000">(c)</text><g clip-path="url(#cc)" fill="none" stroke-linejoin="round"><polyline points="75.3,337.4 75.5,335.7 75.7,335.9 75.9,336.4 76.2,336.8 76.4,336.0 76.6,337.2 76.8,336.1 77.0,335.5 77.3,334.5 77.5,337.3 77.7,336.4 77.9,335.9 78.2,336.7 78.4,336.2 78.6,336.5 78.8,336.5 79.0,336.2 79.3,336.2 79.5,335.6 79.7,336.1 79.9,334.4 80.2,335.7 80.4,336.5 80.6,337.6 80.8,335.9 81.0,334.7 81.3,335.9 81.5,335.0 81.7,334.6 81.9,335.0 82.2,334.7 82.4,334.9 82.6,334.6 82.8,333.7 83.1,334.7 83.3,334.6 83.5,333.9 83.7,335.6 83.9,335.8 84.2,335.0 84.4,336.1 84.6,334.0 84.8,334.3 85.1,334.3 85.3,335.2 85.5,332.4 85.7,333.8 85.9,334.6 86.2,333.3 86.4,333.7 86.6,334.9 86.8,334.2 87.1,333.8 87.3,333.4 87.5,335.3 87.7,332.2 87.9,334.4 88.2,333.5 88.4,333.4 88.6,334.2 88.8,331.3 89.1,333.5 89.3,333.8 89.5,333.9 89.7,333.5 90.0,333.5 90.2,333.3 90.4,332.2 90.6,332.9 90.8,332.8 91.1,332.8 91.3,333.3 91.5,332.7 91.7,333.4 92.0,334.3 92.2,331.2 92.4,332.9 92.6,331.2 92.8,330.3 93.1,331.9 93.3,331.8 93.5,332.1 93.7,331.6 94.0,329.7 94.2,332.8 94.4,331.8 94.6,331.5 94.8,330.8 95.1,331.3 95.3,331.0 95.5,332.7 95.7,331.4 96.0,329.8 96.2,332.4 96.4,332.4 96.6,332.2 96.9,331.6 97.1,331.1 97.3,331.3 97.5,332.3 97.7,330.4 98.0,331.9 98.2,330.5 98.4,331.6 98.6,331.9 98.9,330.4 99.1,330.9 99.3,331.1 99.5,332.1 99.7,331.4 100.0,331.8 100.2,330.7 100.4,331.9 100.6,331.8 100.9,331.6 101.1,330.0 101.3,329.5 101.5,331.1 101.7,331.0 102.0,331.3 102.2,331.6 102.4,330.2 102.6,331.3 102.9,333.8 103.1,333.0 103.3,330.7 103.5,330.9 103.8,332.7 104.0,332.5 104.2,331.4 104.4,331.2 104.6,332.2 104.9,331.5 105.1,331.3 105.3,331.2 105.5,330.9 105.8,329.2 106.0,327.3 106.2,329.1 106.4,327.5 106.6,328.1 106.9,329.4 107.1,330.3 107.3,332.3 107.5,330.8 107.8,333.3 108.0,331.9 108.2,335.3 108.4,334.6 108.7,335.3 108.9,334.7 109.1,334.9 109.3,335.0 109.5,334.0 109.8,334.5 110.0,336.0 110.2,335.7 110.4,335.9 110.7,336.7 110.9,337.6 111.1,336.5 111.3,336.9 111.5,336.6 111.8,337.1 112.0,336.3 112.2,336.2 112.4,338.3 112.7,337.0 112.9,337.1 113.1,336.7 113.3,337.8 113.5,336.9 113.8,336.0 114.0,337.6 114.2,338.3 114.4,337.7 114.7,337.4 114.9,337.7 115.1,338.0 115.3,338.3 115.6,338.0 115.8,338.7 116.0,339.9 116.2,338.1 116.4,337.4 116.7,340.0 116.9,338.3 117.1,338.5 117.3,339.6 117.6,340.7 117.8,340.9 118.0,338.5 118.2,341.8 118.4,340.1 118.7,339.1 118.9,343.0 119.1,340.2 119.3,341.7 119.6,342.5 119.8,340.9 120.0,340.7 120.2,341.5 120.4,342.0 120.7,342.2 120.9,341.6 121.1,341.7 121.3,340.8 121.6,341.9 121.8,342.8 122.0,341.9 122.2,342.2 122.5,342.8 122.7,342.4 122.9,342.3 123.1,341.2 123.3,342.9 123.6,343.3 123.8,342.8 124.0,343.0 124.2,344.0 124.5,343.4 124.7,343.9 124.9,343.3 125.1,342.9 125.3,343.2 125.6,344.0 125.8,343.0 126.0,346.3 126.2,346.1 126.5,343.4 126.7,343.3 126.9,344.9 127.1,345.1 127.3,344.5 127.6,343.0 127.8,343.7 128.0,340.4 128.2,342.2 128.5,341.5 128.7,342.0 128.9,342.2 129.1,342.9 129.4,344.1 129.6,345.8 129.8,347.7 130.0,347.5 130.2,348.5 130.5,350.1 130.7,348.3 130.9,349.7 131.1,349.3 131.4,350.4 131.6,349.0 131.8,349.8 132.0,349.9 132.2,351.3 132.5,350.6 132.7,349.9 132.9,350.5 133.1,350.4 133.4,350.8 133.6,352.8 133.8,350.9 134.0,351.2 134.2,352.5 134.5,354.1 134.7,351.3 134.9,351.9 135.1,352.6 135.4,351.9 135.6,352.8 135.8,353.0 136.0,353.3 136.3,351.7 136.5,352.3 136.7,354.2 136.9,355.1 137.1,353.3 137.4,354.8 137.6,352.6 137.8,354.0 138.0,354.0 138.3,353.9 138.5,353.4 138.7,354.1 138.9,356.0 139.1,355.9 139.4,353.5 139.6,354.6 139.8,354.9 140.0,354.3 140.3,355.5 140.5,356.9 140.7,355.0 140.9,353.9 141.1,355.3 141.4,355.9 141.6,357.1 141.8,355.6 142.0,356.4 142.3,357.7 142.5,354.9 142.7,356.8 142.9,356.3 143.2,356.1 143.4,356.9 143.6,357.2 143.8,358.0 144.0,358.4 144.3,359.1 144.5,356.7 144.7,357.5 144.9,357.9 145.2,359.2 145.4,358.1 145.6,359.1 145.8,358.7 146.0,360.8 146.3,358.7 146.5,360.9 146.7,358.7 146.9,356.9 147.2,361.3 147.4,359.5 147.6,361.1 147.8,360.8 148.1,360.9 148.3,359.6 148.5,359.3 148.7,361.6 148.9,360.4 149.2,360.6 149.4,362.1 149.6,365.1 149.8,362.1 150.1,361.9 150.3,363.2 150.5,365.0 150.7,361.3 150.9,361.6 151.2,363.3 151.4,361.3 151.6,364.2 151.8,362.5 152.1,362.3 152.3,358.8 152.5,363.5 152.7,363.9 152.9,363.4 153.2,363.7 153.4,364.6 153.6,364.4 153.8,364.1 154.1,363.4 154.3,362.1 154.5,364.0 154.7,365.2 155.0,363.9 155.2,364.3 155.4,363.0 155.6,363.9 155.8,361.4 156.1,362.4 156.3,361.2 156.5,358.6 156.7,359.1 157.0,358.9 157.2,359.2 157.4,362.3 157.6,361.1 157.8,361.2 158.1,362.1 158.3,362.5 158.5,363.0 158.7,365.8 159.0,365.6 159.2,367.2 159.4,365.9 159.6,367.7 159.8,368.2 160.1,366.3 160.3,368.1 160.5,370.8 160.7,366.0 161.0,367.6 161.2,368.9 161.4,366.5 161.6,368.6 161.9,370.5 162.1,368.0 162.3,369.2 162.5,370.9 162.7,368.3 163.0,368.1 163.2,368.3 163.4,368.8 163.6,370.8 163.9,371.3 164.1,367.2 164.3,369.5 164.5,369.8 164.7,369.5 165.0,368.9 165.2,368.9 165.4,366.8 165.6,366.6 165.9,362.4 166.1,358.0 166.3,354.1 166.5,348.8 166.7,346.7 167.0,342.2 167.2,339.9 167.4,337.3 167.6,336.8 167.9,339.9 168.1,343.4 168.3,348.0 168.5,352.4 168.8,356.1 169.0,360.9 169.2,366.2 169.4,372.3 169.6,371.1 169.9,371.8 170.1,373.1 170.3,375.8 170.5,372.8 170.8,374.1 171.0,373.9 171.2,375.4 171.4,374.5 171.6,376.0 171.9,377.3 172.1,374.8 172.3,372.0 172.5,376.5 172.8,374.2 173.0,377.1 173.2,377.8 173.4,377.8 173.6,376.6 173.9,374.8 174.1,374.5 174.3,375.6 174.5,376.1 174.8,375.8 175.0,373.8 175.2,376.9 175.4,378.0 175.7,376.1 175.9,375.3 176.1,380.9 176.3,376.5 176.5,377.4 176.8,375.6 177.0,376.8 177.2,377.2 177.4,377.5 177.7,373.2 177.9,377.1 178.1,377.2 178.3,378.5 178.5,377.4 178.8,376.1 179.0,377.8 179.2,378.7 179.4,380.1 179.7,375.3 179.9,379.7 180.1,376.4 180.3,378.8 180.5,374.0 180.8,380.4 181.0,379.6 181.2,378.4 181.4,376.3 181.7,377.0 181.9,375.7 182.1,373.1 182.3,365.8 182.6,362.2 182.8,362.1 183.0,353.4 183.2,350.9 183.4,345.7 183.7,346.0 183.9,348.0 184.1,348.3 184.3,353.4 184.6,357.1 184.8,362.6 185.0,369.7 185.2,372.6 185.4,375.7 185.7,378.6 185.9,379.1 186.1,382.8 186.3,384.8 186.6,383.0 186.8,381.6 187.0,380.8 187.2,383.3 187.5,382.2 187.7,386.5 187.9,384.7 188.1,382.1 188.3,379.9 188.6,384.0 188.8,378.7 189.0,382.7 189.2,385.4 189.5,382.4 189.7,383.3 189.9,383.7 190.1,383.3 190.3,382.1 190.6,383.3 190.8,383.3 191.0,386.1 191.2,385.1 191.5,385.3 191.7,382.0 191.9,387.8 192.1,381.5 192.3,383.5 192.6,383.6 192.8,381.8 193.0,385.5 193.2,383.3 193.5,386.4 193.7,383.5 193.9,386.2 194.1,386.1 194.4,388.6 194.6,384.9 194.8,380.9 195.0,386.4 195.2,383.0 195.5,388.1 195.7,388.6 195.9,384.4 196.1,385.8 196.4,385.3 196.6,384.3 196.8,385.1 197.0,382.4 197.2,384.6 197.5,383.9 197.7,386.5 197.9,389.4 198.1,384.4 198.4,386.1 198.6,383.0 198.8,385.6 199.0,388.1 199.2,386.1 199.5,386.4 199.7,387.3 199.9,389.7 200.1,387.4 200.4,387.5 200.6,388.8 200.8,388.4 201.0,386.9 201.3,385.5 201.5,388.9 201.7,387.5 201.9,386.4 202.1,385.4 202.4,391.8 202.6,387.9 202.8,386.3 203.0,385.5 203.3,388.8 203.5,388.0 203.7,387.9 203.9,389.1 204.1,386.9 204.4,387.5 204.6,387.4 204.8,390.8 205.0,390.8 205.3,388.4 205.5,393.1 205.7,392.2 205.9,388.9 206.1,389.4 206.4,388.7 206.6,390.0 206.8,391.8 207.0,391.9 207.3,390.2 207.5,391.2 207.7,390.7 207.9,388.5 208.2,391.0 208.4,389.4 208.6,392.9 208.8,391.4 209.0,389.7 209.3,395.4 209.5,390.6 209.7,389.8 209.9,390.6 210.2,394.9 210.4,389.4 210.6,392.7 210.8,392.1 211.0,391.8 211.3,396.1 211.5,392.7 211.7,391.4 211.9,393.8 212.2,393.9 212.4,391.9 212.6,391.5 212.8,394.4 213.0,392.6 213.3,390.1 213.5,391.6 213.7,396.9 213.9,394.8 214.2,390.2 214.4,390.4 214.6,388.2 214.8,383.7 215.1,383.3 215.3,378.0 215.5,379.4 215.7,381.4 215.9,377.7 216.2,382.6 216.4,384.1 216.6,388.1 216.8,387.8 217.1,390.7 217.3,393.2 217.5,393.9 217.7,394.8 217.9,395.4 218.2,395.4 218.4,396.4 218.6,396.2 218.8,397.9 219.1,393.1 219.3,398.2 219.5,396.5 219.7,396.9 220.0,396.1 220.2,395.7 220.4,398.6 220.6,397.5 220.8,397.2 221.1,399.6 221.3,397.0 221.5,397.7 221.7,395.5 222.0,401.7 222.2,397.9 222.4,393.1 222.6,400.6 222.8,400.3 223.1,398.3 223.3,397.1 223.5,397.2 223.7,397.6 224.0,398.0 224.2,399.0 224.4,401.1 224.6,399.5 224.8,399.5 225.1,400.6 225.3,395.2 225.5,398.8 225.7,404.6 226.0,400.8 226.2,403.3 226.4,403.7 226.6,405.6 226.9,403.1 227.1,402.2 227.3,402.3 227.5,402.6 227.7,401.6 228.0,402.1 228.2,403.9 228.4,406.3 228.6,402.0 228.9,399.4 229.1,403.8 229.3,404.3 229.5,404.5 229.7,399.3 230.0,399.4 230.2,398.9 230.4,394.2 230.6,389.8 230.9,387.9 231.1,390.3 231.3,392.6 231.5,391.2 231.7,392.1 232.0,399.7 232.2,399.3 232.4,402.5 232.6,406.6 232.9,408.2 233.1,406.9 233.3,412.6 233.5,412.4 233.8,412.6 234.0,407.8 234.2,408.1 234.4,412.9 234.6,404.7 234.9,407.6 235.1,417.3 235.3,412.6 235.5,411.7 235.8,412.6 236.0,409.6 236.2,410.2 236.4,410.9 236.6,410.9 236.9,411.4 237.1,410.7 237.3,409.1 237.5,405.4 237.8,409.0 238.0,411.2 238.2,411.0 238.4,409.6 238.6,407.2 238.9,403.5 239.1,404.1 239.3,403.0 239.5,402.3 239.8,400.6 240.0,403.1 240.2,400.6 240.4,407.9 240.7,403.0 240.9,404.1 241.1,408.1 241.3,411.2 241.5,415.4 241.8,413.2 242.0,410.1 242.2,415.8 242.4,409.4 242.7,413.2 242.9,411.9 243.1,411.5 243.3,407.2 243.5,413.4 243.8,409.8 244.0,408.8 244.2,406.6 244.4,400.7 244.7,403.4 244.9,398.3 245.1,397.7 245.3,397.6 245.5,396.4 245.8,396.5 246.0,398.9 246.2,402.0 246.4,403.7 246.7,406.3 246.9,412.2 247.1,411.4 247.3,411.5 247.6,410.9 247.8,409.4 248.0,416.5 248.2,415.2 248.4,407.6 248.7,414.3 248.9,411.4 249.1,414.7 249.3,409.3 249.6,410.9 249.8,410.9 250.0,414.1 250.2,413.8 250.4,415.4 250.7,414.5 250.9,411.5 251.1,410.9 251.3,414.8 251.6,416.7 251.8,413.8 252.0,412.6 252.2,416.3 252.4,414.1 252.7,418.5 252.9,413.6 253.1,416.7 253.3,417.3 253.6,411.9 253.8,411.7 254.0,414.5 254.2,410.7 254.5,408.1 254.7,401.2 254.9,398.1 255.1,390.8 255.3,380.1 255.6,373.9 255.8,367.7 256.0,361.9 256.2,358.3 256.5,358.6 256.7,359.9 256.9,359.6 257.1,365.7 257.3,370.3 257.6,377.8 257.8,387.5 258.0,395.2 258.2,402.6 258.5,404.9 258.7,410.6 258.9,414.1 259.1,413.8 259.4,417.5 259.6,419.1 259.8,420.8 260.0,420.1 260.2,421.4 260.5,422.5 260.7,424.6 260.9,423.0 261.1,421.9 261.4,417.3 261.6,417.5 261.8,421.4 262.0,419.1 262.2,423.0 262.5,420.1 262.7,423.5 262.9,421.2 263.1,419.1 263.4,421.0 263.6,422.1 263.8,421.6 264.0,426.3 264.2,419.7 264.5,412.0 264.7,423.2 264.9,420.1 265.1,419.5 265.4,422.3 265.6,421.4 265.8,422.3 266.0,423.0 266.3,423.2 266.5,423.0 266.7,421.6 266.9,422.8 267.1,416.9 267.4,415.6 267.6,413.1 267.8,403.9 268.0,400.7 268.3,392.1 268.5,385.3 268.7,382.6 268.9,374.9 269.1,369.1 269.4,369.8 269.6,370.1 269.8,375.0 270.0,374.6 270.3,376.2 270.5,383.4 270.7,392.6 270.9,399.1 271.1,407.0 271.4,410.4 271.6,417.9 271.8,422.3 272.0,431.2 272.3,431.7 272.5,425.8 272.7,420.8 272.9,427.1 273.2,427.6 273.4,434.8 273.6,430.9 273.8,433.5 274.0,431.7 274.3,426.8 274.5,436.4 274.7,433.2 274.9,432.6 275.2,423.5 275.4,431.7 275.6,436.7 275.8,428.4 276.0,429.8 276.3,432.3 276.5,429.8 276.7,429.8 276.9,428.1 277.2,423.5 277.4,424.9 277.6,428.4 277.8,431.4 278.0,425.6 278.3,430.0 278.5,431.7 278.7,428.1 278.9,432.0 279.2,427.6 279.4,427.9 279.6,433.8 279.8,431.7 280.1,432.3 280.3,432.9 280.5,430.3 280.7,430.3 280.9,429.2 281.2,430.3 281.4,427.6 281.6,428.7 281.8,435.1 282.1,429.5 282.3,425.4 282.5,432.6 282.7,436.4 282.9,426.8 283.2,426.1 283.4,433.2 283.6,429.2 283.8,430.9 284.1,427.9 284.3,434.1 284.5,438.8 284.7,436.7 284.9,430.6 285.2,427.6 285.4,427.9 285.6,431.7 285.8,437.7 286.1,430.3 286.3,431.7 286.5,432.6 286.7,427.9 287.0,433.5 287.2,435.1 287.4,433.8 287.6,435.1 287.8,435.1 288.1,434.5 288.3,434.1 288.5,428.7 288.7,427.9 289.0,429.2 289.2,434.5 289.4,431.7 289.6,430.0 289.8,431.2 290.1,430.6 290.3,429.8 290.5,437.7 290.7,435.4 291.0,432.6 291.2,439.5 291.4,432.0 291.6,431.4 291.8,435.7 292.1,432.3 292.3,436.4 292.5,442.9 292.7,437.4 293.0,437.4 293.2,439.1 293.4,432.6 293.6,435.4 293.9,434.8 294.1,432.3 294.3,430.6 294.5,428.9 294.7,430.0 295.0,435.1 295.2,433.5 295.4,432.9 295.6,440.6 295.9,435.1 296.1,435.7 296.3,439.5 296.5,430.6 296.7,437.4 297.0,437.7 297.2,428.9 297.4,433.5 297.6,434.5 297.9,432.9 298.1,437.4 298.3,437.1 298.5,426.8 298.8,431.4 299.0,441.7 299.2,431.2 299.4,430.3 299.6,440.2 299.9,436.1 300.1,434.8 300.3,433.8 300.5,431.7 300.8,435.7 301.0,437.7 301.2,434.5 301.4,440.6 301.6,436.7 301.9,437.7 302.1,436.1 302.3,437.4 302.5,437.4 302.8,437.4 303.0,433.8 303.2,439.5 303.4,436.4 303.6,438.1 303.9,437.1 304.1,446.2 304.3,437.4 304.5,427.1 304.8,435.4 305.0,441.7 305.2,436.1 305.4,431.2 305.7,434.8 305.9,433.5 306.1,436.1 306.3,437.1 306.5,431.7 306.8,437.1 307.0,432.3 307.2,437.1 307.4,437.7 307.7,436.1 307.9,438.1 308.1,437.1 308.3,438.4 308.5,431.7 308.8,431.2 309.0,431.7 309.2,439.1 309.4,430.9 309.7,435.4 309.9,436.4 310.1,436.1 310.3,436.1 310.5,429.2 310.8,439.9 311.0,444.1 311.2,432.0 311.4,436.1 311.7,438.1 311.9,440.6 312.1,438.1 312.3,438.8 312.6,436.1 312.8,435.4 313.0,441.7 313.2,438.4 313.4,439.1 313.7,441.0 313.9,440.2 314.1,438.8 314.3,439.1 314.6,430.6 314.8,439.5 315.0,435.7 315.2,442.9 315.4,435.4 315.7,439.9 315.9,439.1 316.1,433.2 316.3,437.1 316.6,439.1 316.8,440.6 317.0,439.9 317.2,442.1 317.4,432.9 317.7,437.4 317.9,439.9 318.1,439.9 318.3,445.4 318.6,441.4 318.8,438.4 319.0,444.5 319.2,434.8 319.5,428.4 319.7,443.3 319.9,437.4 320.1,444.5 320.3,433.5 320.6,436.7 320.8,438.1 321.0,441.0 321.2,437.7 321.5,436.4 321.7,442.1 321.9,443.3 322.1,438.4 322.3,434.5 322.6,437.1 322.8,433.8 323.0,433.5 323.2,438.8 323.5,436.7 323.7,443.3 323.9,438.1 324.1,440.2 324.3,440.6 324.6,444.1 324.8,437.4 325.0,441.7 325.2,440.6 325.5,441.7 325.7,441.7 325.9,441.4 326.1,441.4 326.4,440.6 326.6,439.1 326.8,442.1 327.0,439.1 327.2,438.8 327.5,440.2 327.7,434.1 327.9,444.1 328.1,441.7 328.4,439.1 328.6,438.1 328.8,441.0 329.0,445.4 329.2,437.1 329.5,439.9 329.7,437.1 329.9,448.0 330.1,443.3 330.4,438.4 330.6,434.1 330.8,436.1 331.0,435.1 331.3,437.4 331.5,436.1 331.7,439.9 331.9,442.9 332.1,445.4 332.4,440.6 332.6,440.2 332.8,433.8 333.0,439.1 333.3,443.3 333.5,439.5 333.7,443.3 333.9,447.1 334.1,434.5 334.4,436.1 334.6,439.5 334.8,435.7 335.0,438.8 335.3,441.7 335.5,439.9 335.7,436.1 335.9,449.4 336.1,438.4 336.4,440.2 336.6,444.5 336.8,436.7 337.0,439.9 337.3,441.7 337.5,443.7 337.7,443.3 337.9,441.0 338.2,438.4 338.4,441.0 338.6,446.2 338.8,444.5 339.0,438.8 339.3,441.4 339.5,435.1 339.7,449.4 339.9,442.1 340.2,449.9 340.4,444.9 340.6,442.9 340.8,439.5 341.0,438.1 341.3,445.4 341.5,443.3 341.7,442.1 341.9,434.8 342.2,438.8 342.4,440.2 342.6,442.9 342.8,442.9 343.0,443.3 343.3,441.0 343.5,445.4 343.7,451.9 343.9,444.5 344.2,444.5 344.4,443.7 344.6,442.9 344.8,443.3 345.1,447.1 345.3,448.9 345.5,444.5 345.7,447.1 345.9,444.9 346.2,444.1 346.4,450.9 346.6,448.9 346.8,438.8 347.1,448.9 347.3,436.4 347.5,438.8 347.7,448.0 347.9,441.7 348.2,441.4 348.4,438.4 348.6,436.1 348.8,442.9 349.1,442.5 349.3,442.5 349.5,442.5 349.7,445.4 349.9,454.0 350.2,447.6 350.4,445.8 350.6,441.0 350.8,441.0 351.1,441.4 351.3,444.9 351.5,448.9 351.7,445.4 352.0,440.2 352.2,437.4 352.4,447.1 352.6,442.5 352.8,443.7 353.1,444.1 353.3,445.8 353.5,445.4 353.7,442.1 354.0,440.6 354.2,443.3 354.4,439.1 354.6,442.5 354.8,438.8 355.1,444.1 355.3,447.1 355.5,451.9 355.7,450.9 356.0,446.7 356.2,437.7 356.4,442.1 356.6,451.4 356.8,444.1 357.1,442.9 357.3,445.4 357.5,438.8 357.7,444.1 358.0,441.4 358.2,445.8 358.4,451.4 358.6,441.0 358.9,437.7 359.1,439.1 359.3,444.9 359.5,439.1 359.7,447.1 360.0,450.4 360.2,450.9 360.4,442.5 360.6,439.9 360.9,449.9 361.1,446.7 361.3,443.3 361.5,443.3 361.7,443.3 362.0,442.1 362.2,444.9 362.4,445.8 362.6,453.4 362.9,447.1 363.1,445.8 363.3,444.5 363.5,447.1 363.7,444.9 364.0,441.4 364.2,447.6 364.4,441.0 364.6,447.1 364.9,441.4 365.1,447.6 365.3,453.4 365.5,445.4 365.8,445.4 366.0,441.0 366.2,448.5 366.4,449.4 366.6,444.1 366.9,444.9 367.1,444.1 367.3,450.9 367.5,449.4 367.8,451.9 368.0,445.8 368.2,455.6 368.4,443.3 368.6,445.8 368.9,442.9 369.1,442.5 369.3,438.8 369.5,446.7 369.8,446.7 370.0,455.6 370.2,448.5 370.4,451.9 370.7,445.8 370.9,448.9 371.1,456.2 371.3,443.7 371.5,447.1 371.8,444.1 372.0,439.5 372.2,449.9 372.4,445.4 372.7,446.2 372.9,448.5 373.1,453.4 373.3,448.5 373.5,447.6 373.8,449.4 374.0,442.9 374.2,450.4 374.4,448.9 374.7,443.7 374.9,446.7 375.1,451.9 375.3,450.4 375.5,445.8 375.8,446.2 376.0,446.2 376.2,446.2 376.4,449.9 376.7,448.9 376.9,446.2 377.1,446.7 377.3,448.0 377.6,445.8 377.8,446.2 378.0,444.5 378.2,456.8 378.4,447.1 378.7,447.6 378.9,449.4 379.1,441.7 379.3,440.6 379.6,452.9 379.8,443.3 380.0,442.9 380.2,453.4 380.4,450.4 380.7,454.5 380.9,442.9 381.1,450.4 381.3,451.4 381.6,442.9 381.8,448.5 382.0,445.8 382.2,444.9 382.4,442.1 382.7,449.4 382.9,451.9 383.1,443.7 383.3,456.8 383.6,444.9 383.8,448.5 384.0,449.4 384.2,455.6 384.5,455.0 384.7,445.8 384.9,446.7 385.1,442.9 385.3,448.0 385.6,442.1 385.8,453.4 386.0,445.8 386.2,446.2 386.5,448.5 386.7,443.7 386.9,453.4 387.1,447.6 387.3,450.4 387.6,442.9 387.8,456.2 388.0,454.5 388.2,448.9 388.5,456.2 388.7,448.9 388.9,451.4 389.1,441.4 389.3,450.9 389.6,451.9 389.8,444.1 390.0,442.9 390.2,448.5 390.5,448.5 390.7,459.2 390.9,446.2 391.1,443.7 391.4,451.9 391.6,455.0 391.8,448.0 392.0,462.4 392.2,446.7 392.5,451.9 392.7,451.9 392.9,450.9 393.1,452.4 393.4,459.8 393.6,450.4 393.8,455.0 394.0,448.5 394.2,450.4 394.5,453.4 394.7,451.4 394.9,455.0 395.1,451.9 395.4,453.4 395.6,451.4 395.8,459.8 396.0,445.4 396.2,452.4 396.5,448.5 396.7,454.0 396.9,452.9 397.1,445.4 397.4,456.2 397.6,456.8 397.8,462.4 398.0,459.2 398.3,456.8 398.5,450.9 398.7,455.0 398.9,450.9 399.1,450.9 399.4,454.5 399.6,457.9 399.8,453.4 400.0,450.9 400.3,448.9 400.5,447.6 400.7,449.9 400.9,445.4 401.1,452.9 401.4,454.5 401.6,451.4 401.8,448.9 402.0,455.6 402.3,459.2 402.5,461.1 402.7,452.4 402.9,452.4 403.1,450.9 403.4,446.2 403.6,444.1 403.8,450.4 404.0,440.2 404.3,448.0 404.5,446.2 404.7,449.4 404.9,441.0 405.2,439.1 405.4,434.1 405.6,436.1 405.8,440.2 406.0,436.1 406.3,431.7 406.5,426.3 406.7,427.6 406.9,427.6 407.2,438.1 407.4,432.3 407.6,433.2 407.8,427.6 408.0,427.4 408.3,430.0 408.5,427.6 408.7,429.8 408.9,431.4 409.2,434.8 409.4,435.1 409.6,447.1 409.8,440.2 410.1,439.1 410.3,450.4 410.5,440.2 410.7,440.2 410.9,442.5 411.2,447.1 411.4,448.0 411.6,444.9 411.8,448.0 412.1,446.2 412.3,437.1 412.5,438.8 412.7,436.4 412.9,438.8 413.2,432.0 413.4,436.4 413.6,438.1 413.8,440.6 414.1,440.2 414.3,436.1 414.5,441.0 414.7,444.1 414.9,438.8 415.2,448.0 415.4,435.7 415.6,451.9 415.8,447.1 416.1,447.6 416.3,448.5 416.5,454.0 416.7,453.4 417.0,459.2 417.2,443.3 417.4,455.0 417.6,452.4 417.8,456.2 418.1,448.9 418.3,454.5 418.5,453.4 418.7,452.4 419.0,454.5 419.2,456.2 419.4,450.9 419.6,451.9 419.8,459.8 420.1,459.8 420.3,454.0 420.5,460.4 420.7,459.2 421.0,457.3 421.2,451.4 421.4,457.3 421.6,454.0 421.8,452.9 422.1,464.5 422.3,454.0 422.5,464.5 422.7,457.3 423.0,447.1 423.2,457.3 423.4,455.6 423.6,455.0 423.9,443.3 424.1,459.2 424.3,452.9 424.5,454.0 424.7,448.9 425.0,449.9 425.2,452.9 425.4,451.4 425.6,452.9 425.9,458.5 426.1,450.4 426.3,447.6 426.5,461.1 426.7,452.9 427.0,457.9 427.2,449.9 427.4,450.4 427.6,459.8 427.9,454.0 428.1,472.6 428.3,452.9 428.5,458.5 428.7,461.7 429.0,458.5 429.2,461.7 429.4,457.3 429.6,461.7 429.9,461.1 430.1,460.4 430.3,457.9 430.5,464.5 430.8,451.4 431.0,460.4 431.2,455.6 431.4,457.3 431.6,457.9 431.9,460.4 432.1,450.4 432.3,448.0 432.5,449.9 432.8,454.0 433.0,464.5 433.2,457.9 433.4,457.9 433.6,451.4 433.9,455.6 434.1,463.8 434.3,451.4 434.5,448.5 434.8,465.2 435.0,457.3 435.2,464.5 435.4,470.8 435.6,459.2 435.9,457.9 436.1,459.2 436.3,449.9 436.5,456.2 436.8,454.5 437.0,460.4 437.2,452.9 437.4,450.9 437.7,449.9 437.9,454.5 438.1,462.4 438.3,469.1 438.5,453.4 438.8,461.1 439.0,464.5 439.2,459.2 439.4,463.1 439.7,452.9 439.9,450.9 440.1,456.2 440.3,459.8 440.5,459.2 440.8,458.5 441.0,466.0 441.2,463.1 441.4,462.4 441.7,456.8 441.9,450.4 442.1,456.2 442.3,468.3 442.6,454.0 442.8,460.4 443.0,466.0 443.2,458.5 443.4,456.2 443.7,472.6 443.9,466.0 444.1,457.3 444.3,461.1 444.6,456.8 444.8,457.3 445.0,461.7 445.2,458.5 445.4,463.8 445.7,456.8 445.9,454.5 446.1,462.4 446.3,459.2 446.6,466.7 446.8,460.4 447.0,459.8 447.2,455.6 447.4,465.2 447.7,461.7 447.9,457.3 448.1,455.0 448.3,466.0 448.6,456.8 448.8,453.4 449.0,470.8 449.2,463.1 449.5,457.9 449.7,458.5 449.9,459.2 450.1,455.6 450.3,458.5 450.6,461.7 450.8,459.2 451.0,458.5 451.2,468.3 451.5,460.4 451.7,454.0 451.9,463.8 452.1,465.2 452.3,462.4 452.6,459.2 452.8,451.4 453.0,464.5 453.2,466.7 453.5,452.9 453.7,457.9 453.9,463.8 454.1,466.7 454.3,459.8 454.6,463.8 454.8,470.0 455.0,456.2 455.2,457.3 455.5,466.7 455.7,457.3 455.9,459.2 456.1,459.8 456.4,454.0 456.6,463.8 456.8,461.7 457.0,461.1 457.2,461.7 457.5,473.5 457.7,459.2 457.9,456.8 458.1,468.3 458.4,455.6 458.6,462.4 458.8,459.8 459.0,462.4 459.2,463.8 459.5,466.7 459.7,455.0 459.9,450.4 460.1,460.4 460.4,458.5 460.6,454.5 460.8,456.2 461.0,464.5 461.2,463.8 461.5,470.8 461.7,461.1 461.9,456.8 462.1,460.4 462.4,466.0 462.6,458.5 462.8,469.1 463.0,457.3 463.3,462.4 463.5,464.5 463.7,459.2 463.9,474.4 464.1,459.2 464.4,458.5 464.6,458.5 464.8,463.8 465.0,456.2 465.3,458.5 465.5,463.8 465.7,468.3 465.9,469.1 466.1,461.1 466.4,466.7 466.6,458.5 466.8,457.9 467.0,463.1 467.3,457.9 467.5,457.3 467.7,470.0 467.9,461.7 468.1,457.9 468.4,457.3 468.6,466.7 468.8,457.9 469.0,465.2 469.3,472.6 469.5,463.1 469.7,466.7 469.9,466.0 470.2,459.2 470.4,467.5 470.6,457.3 470.8,454.0 471.0,459.2 471.3,463.1 471.5,460.4 471.7,459.2 471.9,466.7 472.2,455.0 472.4,461.1 472.6,461.1 472.8,459.2 473.0,459.8 473.3,456.2 473.5,450.4 473.7,464.5 473.9,461.7 474.2,463.8 474.4,458.5 474.6,457.9 474.8,465.2 475.0,459.2 475.3,459.2 475.5,460.4 475.7,470.0 475.9,456.8 476.2,475.4 476.4,461.7 476.6,459.2 476.8,461.7 477.1,452.9 477.3,463.8 477.5,463.1 477.7,456.8 477.9,461.1 478.2,460.4 478.4,472.6 478.6,455.6 478.8,465.2 479.1,471.7 479.3,455.0 479.5,465.2 479.7,466.7 479.9,452.9 480.2,463.8 480.4,463.8 480.6,466.0 480.8,467.5 481.1,457.3 481.3,460.4 481.5,463.1 481.7,465.2 482.0,464.5 482.2,466.7 482.4,463.8 482.6,463.1 482.8,457.9 483.1,462.4 483.3,456.8 483.5,463.1 483.7,475.4 484.0,459.8 484.2,459.2 484.4,459.8 484.6,461.7 484.8,461.7 485.1,455.6 485.3,466.7 485.5,463.8 485.7,466.7 486.0,462.4 486.2,461.7 486.4,468.3 486.6,456.2 486.8,461.7 487.1,460.4 487.3,451.4 487.5,463.1 487.7,470.8 488.0,461.7 488.2,467.5 488.4,460.4 488.6,457.9 488.9,455.0 489.1,463.1 489.3,463.8 489.5,462.4 489.7,461.7 490.0,463.8 490.2,461.1 490.4,461.7 490.6,457.9 490.9,462.4 491.1,469.1 491.3,469.1 491.5,470.8 491.7,463.1 492.0,459.2 492.2,452.4 492.4,464.5 492.6,459.8 492.9,452.4 493.1,463.8 493.3,471.7 493.5,454.0 493.7,463.1 494.0,459.2 494.2,463.8 494.4,457.9 494.6,466.7 494.9,459.8 495.1,456.8 495.3,454.5 495.5,459.2 495.8,455.0 496.0,459.8 496.2,455.6 496.4,460.4 496.6,459.2 496.9,456.2 497.1,467.5 497.3,459.8 497.5,459.2 497.8,461.7 498.0,456.8 498.2,461.7 498.4,466.0 498.6,462.4 498.9,468.3 499.1,462.4 499.3,470.8 499.5,459.2 499.8,455.0 500.0,465.2 500.2,458.5 500.4,456.8 500.6,454.5 500.9,457.9 501.1,456.2 501.3,461.1 501.5,459.8 501.8,463.8 502.0,455.6 502.2,468.3 502.4,457.9 502.7,458.5 502.9,467.5 503.1,462.4 503.3,454.5 503.5,462.4 503.8,463.8 504.0,459.2 504.2,461.7 504.4,459.2 504.7,459.2 504.9,466.7 505.1,468.3 505.3,464.5 505.5,459.8 505.8,458.5 506.0,465.2 506.2,456.2 506.4,458.5 506.7,463.1 506.9,467.5 507.1,465.2 507.3,464.5 507.5,463.8 507.8,462.4 508.0,466.7 508.2,469.1 508.4,454.0 508.7,457.3 508.9,459.8 509.1,464.5 509.3,466.7 509.6,451.4 509.8,459.8 510.0,456.2 510.2,476.4 510.4,457.9 510.7,468.3 510.9,457.3 511.1,464.5 511.3,459.8 511.6,466.7 511.8,460.4 512.0,461.1 512.2,460.4 512.4,459.2 512.7,459.2 512.9,466.0 513.1,454.0 513.3,460.4 513.6,451.9 513.8,467.5 514.0,459.8 514.2,467.5 514.4,468.3 514.7,461.1 514.9,460.4 515.1,464.5 515.3,459.2 515.6,453.4 515.8,456.2 516.0,459.2 516.2,456.8 516.5,467.5 516.7,463.1 516.9,461.7 517.1,459.8 517.3,461.1 517.6,459.8 517.8,470.0 518.0,466.0 518.2,463.1 518.5,460.4 518.7,461.7 518.9,461.1 519.1,458.5 519.3,448.5 519.6,451.9 519.8,450.9 520.0,451.4 520.2,442.1 520.5,436.1 520.7,439.9 520.9,442.5 521.1,441.7 521.4,439.9 521.6,433.2 521.8,431.2 522.0,437.7 522.2,440.2 522.5,441.7 522.7,448.5 522.9,446.2 523.1,448.0 523.4,457.3 523.6,457.9 523.8,455.6 524.0,457.9 524.2,471.7 524.5,455.6 524.7,469.1 524.9,464.5 525.1,456.8 525.4,463.1 525.6,463.8 525.8,455.0 526.0,454.0 526.2,461.1 526.5,470.0 526.7,465.2 526.9,461.1 527.1,463.1 527.4,465.2 527.6,470.8 527.8,463.1 528.0,460.4 528.3,465.2 528.5,461.7 528.7,469.1 528.9,460.4 529.1,465.2 529.4,458.5 529.6,456.8 529.8,456.2 530.0,454.5 530.3,459.2 530.5,467.5 530.7,466.0 530.9,460.4 531.1,463.8 531.4,463.1 531.6,459.8 531.8,458.5 532.0,464.5 532.3,463.1 532.5,474.4 532.7,463.8 532.9,459.8 533.1,470.8 533.4,461.1 533.6,457.9 533.8,462.4 534.0,457.3 534.3,453.4 534.5,462.4 534.7,463.1 534.9,466.0 535.2,459.8 535.4,455.6 535.6,452.9 535.8,459.8 536.0,466.0 536.3,454.5 536.5,457.3 536.7,466.0 536.9,462.4 537.2,471.7 537.4,458.5 537.6,458.5 537.8,462.4 538.0,461.1 538.3,456.8 538.5,463.8 538.7,457.3 538.9,466.0 539.2,458.5 539.4,457.9 539.6,454.0 539.8,464.5 540.0,461.7 540.3,455.6 540.5,462.4 540.7,463.1 540.9,457.3 541.2,463.1 541.4,466.0 541.6,466.0 541.8,452.4 542.1,462.4 542.3,466.7 542.5,470.8 542.7,458.5 542.9,451.4 543.2,459.8 543.4,459.2 543.6,457.3 543.8,470.0 544.1,454.5 544.3,461.7 544.5,457.3 544.7,463.8 544.9,455.0 545.2,463.8 545.4,455.0 545.6,461.1 545.8,459.2 546.1,457.3 546.3,460.4 546.5,454.5 546.7,463.1 546.9,455.0 547.2,459.8 547.4,449.4 547.6,464.5 547.8,459.8 548.1,450.4 548.3,454.5 548.5,462.4 548.7,465.2 549.0,464.5 549.2,460.4 549.4,465.2 549.6,466.0 549.8,456.2 550.1,451.4 550.3,458.5 550.5,455.0 550.7,462.4 551.0,462.4 551.2,453.4 551.4,463.1 551.6,456.8 551.8,461.1 552.1,454.5 552.3,462.4 552.5,462.4 552.7,459.8 553.0,456.2 553.2,460.4 553.4,458.5 553.6,462.4 553.9,463.1 554.1,453.4 554.3,454.0 554.5,454.0 554.7,457.9 555.0,462.4 555.2,451.9 555.4,457.9 555.6,465.2 555.9,458.5 556.1,461.1 556.3,461.7 556.5,459.2 556.7,460.4 557.0,455.6 557.2,451.4 557.4,451.4 557.6,452.4 557.9,454.5 558.1,462.4 558.3,456.2 558.5,456.8 558.7,455.6 559.0,460.4 559.2,456.8 559.4,455.0 559.6,458.5 559.9,461.1 560.1,456.8 560.3,449.4 560.5,461.1 560.8,455.6 561.0,455.6 561.2,456.8 561.4,460.4 561.6,460.4 561.9,467.5 562.1,455.0 562.3,455.6 562.5,452.9 562.8,455.0 563.0,451.9 563.2,454.0 563.4,463.1 563.6,455.6 563.9,449.4 564.1,453.4 564.3,459.8 564.5,456.8 564.8,460.4 565.0,461.1 565.2,454.0 565.4,455.0 565.6,454.5 565.9,450.4 566.1,457.9 566.3,454.5 566.5,454.5 566.8,444.9 567.0,457.3 567.2,447.1 567.4,464.5 567.7,448.0 567.9,452.9 568.1,455.0 568.3,457.3 568.5,449.4 568.8,455.0 569.0,459.8 569.2,452.4 569.4,461.7 569.7,456.2 569.9,451.9 570.1,459.8 570.3,461.1 570.5,452.4 570.8,454.5 571.0,457.9 571.2,447.1 571.4,457.3 571.7,459.8 571.9,455.0 572.1,452.9 572.3,450.4 572.5,453.4 572.8,463.8 573.0,456.8 573.2,449.9 573.4,454.0 573.7,454.5 573.9,449.9 574.1,457.9 574.3,456.8 574.6,454.0 574.8,453.4 575.0,458.5 575.2,444.9 575.4,452.9 575.7,460.4 575.9,455.6 576.1,452.9 576.3,449.4 576.6,456.2 576.8,450.4 577.0,452.4 577.2,462.4 577.4,452.4 577.7,451.9 577.9,455.6 578.1,448.9 578.3,452.4 578.6,443.7 578.8,454.0 579.0,457.9 579.2,455.0 579.4,459.8 579.7,453.4 579.9,452.9 580.1,454.0 580.3,451.4 580.6,443.7 580.8,465.2 581.0,456.2 581.2,444.9 581.5,455.6 581.7,463.1 581.9,450.4 582.1,449.9 582.3,451.9 582.6,462.4 582.8,449.9 583.0,455.0 583.2,470.0 583.5,450.9 583.7,462.4 583.9,461.1 584.1,455.0 584.3,470.0 584.6,461.7 584.8,460.4 585.0,465.2 585.2,472.6 585.5,462.4 585.7,472.6 585.9,461.1 586.1,464.5 586.3,466.7 586.6,463.1 586.8,468.3 587.0,466.7 587.2,477.4 587.5,465.2 587.7,470.0 587.9,457.9 588.1,463.8 588.4,473.5 588.6,464.5 588.8,472.6 589.0,462.4 589.2,466.0 589.5,470.0 589.7,468.3 589.9,466.7 590.1,464.5 590.4,469.1 590.6,467.5 590.8,466.0 591.0,478.4 591.2,461.7 591.5,469.1 591.7,477.4 591.9,472.6 592.1,478.4 592.4,466.7 592.6,475.4 592.8,463.8 593.0,470.0 593.3,466.7 593.5,466.7 593.7,476.4 593.9,480.6 594.1,474.4 594.4,470.0 594.6,474.4 594.8,475.4 595.0,476.4 595.3,469.1 595.5,474.4 595.7,476.4 595.9,474.4 596.1,474.4 596.4,475.4 596.6,468.3 596.8,475.4 597.0,483.0 597.3,477.4 597.5,475.4 597.7,497.6 597.9,478.4 598.1,476.4 598.4,475.4 598.6,481.8 598.8,492.5 599.0,472.6 599.3,485.4 599.5,476.4 599.7,474.4 599.9,479.5 600.2,473.5 600.4,484.2 600.6,474.4 600.8,479.5 601.0,471.7 601.3,476.4 601.5,481.8 601.7,470.8 601.9,486.8 602.2,494.1 602.4,476.4 602.6,485.4 602.8,488.1 603.0,470.0 603.3,488.1 603.5,479.5 603.7,477.4 603.9,491.0 604.2,485.4 604.4,497.6 604.6,495.8 604.8,480.6 605.0,489.5 605.3,477.4 605.5,480.6 605.7,488.1 605.9,481.8 606.2,492.5 606.4,486.8 606.6,494.1 606.8,480.6 607.1,488.1 607.3,480.6 607.5,485.4 607.7,488.1 607.9,499.4 608.2,492.5 608.4,497.6 608.6,510.5 608.8,501.4 609.1,492.5 609.3,494.1 609.5,491.0 609.7,494.1 609.9,488.1 610.2,488.1 610.4,505.6 610.6,495.8 610.8,491.0 611.1,491.0 611.3,503.4 611.5,485.4 611.7,501.4 611.9,499.4 612.2,485.4 612.4,484.2 612.6,530.7 612.8,491.0 613.1,491.0 613.3,491.0 613.5,492.5 613.7,494.1 614.0,495.8 614.2,491.0 614.4,489.5 614.6,484.2 614.8,497.6 615.1,495.8 615.3,499.4 615.5,492.5 615.7,505.6 616.0,503.4 616.2,519.2 616.4,519.2 616.6,505.6 616.8,510.5 617.1,513.1 617.3,492.5 617.5,495.8 617.7,513.1 618.0,505.6 618.2,485.4 618.4,505.6 618.6,494.1 618.8,484.2 619.1,501.4 619.3,499.4 619.5,492.5 619.7,499.4 620.0,485.4 620.2,497.6 620.4,499.4 620.6,495.8 620.9,513.1 621.1,510.5 621.3,501.4 621.5,516.0 621.7,491.0 622.0,497.6 622.2,501.4 622.4,495.8 622.6,510.5 622.9,513.1 623.1,495.8 623.3,491.0 623.5,491.0 623.7,495.8 624.0,513.1 624.2,495.8 624.4,499.4 624.6,503.4 624.9,492.5 625.1,494.1 625.3,492.5 625.5,485.4 625.7,495.8 626.0,501.4 626.2,499.4 626.4,481.8 626.6,479.5 626.9,494.1 627.1,470.0 627.3,485.4 627.5,480.6 627.8,481.8 628.0,488.1 628.2,486.8 628.4,481.8 628.6,467.5 628.9,466.7 629.1,469.1 629.3,456.2 629.5,466.7 629.8,461.1 630.0,461.7 630.2,451.4 630.4,445.4 630.6,450.9 630.9,446.2 631.1,441.0 631.3,446.2 631.5,447.1 631.8,442.1 632.0,441.0 632.2,451.9 632.4,445.4 632.7,448.9 632.9,448.0 633.1,444.1 633.3,439.1 633.5,442.5 633.8,439.5 634.0,446.7 634.2,434.5 634.4,435.4 634.7,439.9 634.9,434.8 635.1,425.8 635.3,427.4 635.5,424.6 635.8,420.1 636.0,415.8 636.2,416.5 636.4,411.5 636.7,417.7 636.9,413.6 637.1,419.5 637.3,410.9 637.5,416.9 637.8,418.7 638.0,418.1 638.2,423.9 638.4,424.9 638.7,432.0 638.9,434.1 639.1,441.0 639.3,447.6 639.6,449.4 639.8,456.2 640.0,468.3 640.2,463.8 640.4,476.4 640.7,481.8 640.9,484.2 641.1,483.0 641.3,485.4 641.6,494.1 641.8,492.5 642.0,495.8 642.2,492.5 642.4,501.4 642.7,501.4 642.9,503.4 643.1,510.5 643.3,519.2 643.6,501.4 643.8,501.4 644.0,494.1 644.2,510.5 644.4,495.8 644.7,505.6 644.9,497.6 645.1,481.8 645.3,501.4 645.6,505.6 645.8,503.4 646.0,497.6 646.2,495.8 646.5,526.4 646.7,508.0 646.9,494.1 647.1,505.6 647.3,503.4 647.6,526.4 647.8,505.6 648.0,494.1 648.2,526.4 648.5,510.5 648.7,516.0 648.9,519.2 649.1,519.2 649.3,530.7 649.6,535.5 649.8,492.5 650.0,503.4 650.2,535.5 650.5,530.7 650.7,519.2 650.9,505.6 651.1,522.6 651.3,519.2 651.6,508.0 651.8,510.5 652.0,522.6 652.2,526.4 652.5,535.5 652.7,519.2 652.9,510.5 653.1,526.4 653.4,526.4 653.6,501.4" stroke="#000" stroke-width="1"/><polyline points="75.3,336.7 75.5,336.3 75.7,337.5 75.9,336.1 76.2,337.3 76.4,337.4 76.6,336.7 76.8,337.4 77.0,336.3 77.3,336.6 77.5,336.2 77.7,336.4 77.9,335.9 78.2,336.6 78.4,335.3 78.6,336.8 78.8,336.1 79.0,335.7 79.3,337.4 79.5,335.9 79.7,336.2 79.9,337.6 80.2,336.2 80.4,334.8 80.6,335.4 80.8,335.1 81.0,335.7 81.3,335.7 81.5,333.0 81.7,334.9 81.9,334.2 82.2,336.3 82.4,335.0 82.6,335.0 82.8,333.9 83.1,334.8 83.3,335.2 83.5,335.0 83.7,335.3 83.9,337.5 84.2,334.9 84.4,333.6 84.6,334.4 84.8,334.9 85.1,333.8 85.3,333.6 85.5,334.5 85.7,333.5 85.9,333.6 86.2,334.9 86.4,334.9 86.6,332.1 86.8,334.3 87.1,331.9 87.3,333.7 87.5,333.0 87.7,333.8 87.9,333.7 88.2,335.0 88.4,333.3 88.6,333.9 88.8,332.8 89.1,332.8 89.3,333.5 89.5,333.8 89.7,333.7 90.0,331.9 90.2,332.5 90.4,332.5 90.6,332.7 90.8,332.2 91.1,334.2 91.3,331.7 91.5,331.8 91.7,330.9 92.0,331.1 92.2,330.8 92.4,334.7 92.6,332.7 92.8,332.9 93.1,332.9 93.3,330.4 93.5,331.1 93.7,331.6 94.0,331.7 94.2,330.9 94.4,332.2 94.6,332.9 94.8,331.0 95.1,330.7 95.3,332.7 95.5,330.5 95.7,331.4 96.0,331.3 96.2,331.1 96.4,330.6 96.6,331.8 96.9,330.4 97.1,332.3 97.3,331.0 97.5,331.1 97.7,331.5 98.0,331.3 98.2,332.4 98.4,332.2 98.6,330.2 98.9,331.3 99.1,331.7 99.3,331.4 99.5,332.4 99.7,330.9 100.0,332.6 100.2,332.2 100.4,332.3 100.6,330.0 100.9,331.7 101.1,331.0 101.3,331.5 101.5,331.7 101.7,332.7 102.0,330.8 102.2,331.1 102.4,333.2 102.6,331.0 102.9,332.2 103.1,331.1 103.3,332.8 103.5,331.0 103.8,330.2 104.0,331.1 104.2,331.5 104.4,331.2 104.6,331.4 104.9,332.1 105.1,331.6 105.3,331.4 105.5,331.2 105.8,328.8 106.0,330.1 106.2,327.8 106.4,326.6 106.6,329.3 106.9,328.9 107.1,329.7 107.3,330.3 107.5,332.1 107.8,333.7 108.0,334.6 108.2,333.9 108.4,333.6 108.7,335.6 108.9,335.8 109.1,336.3 109.3,334.3 109.5,336.3 109.8,336.1 110.0,336.2 110.2,335.4 110.4,336.1 110.7,334.8 110.9,337.2 111.1,337.0 111.3,336.3 111.5,338.7 111.8,336.3 112.0,337.3 112.2,335.5 112.4,335.9 112.7,336.4 112.9,336.6 113.1,337.7 113.3,336.6 113.5,335.9 113.8,337.9 114.0,338.7 114.2,339.2 114.4,337.7 114.7,338.6 114.9,337.6 115.1,336.3 115.3,338.6 115.6,337.6 115.8,338.3 116.0,338.7 116.2,340.7 116.4,339.2 116.7,338.6 116.9,338.7 117.1,339.3 117.3,338.0 117.6,339.9 117.8,339.8 118.0,339.8 118.2,341.1 118.4,341.2 118.7,339.8 118.9,340.4 119.1,340.8 119.3,339.9 119.6,340.6 119.8,340.9 120.0,340.5 120.2,341.4 120.4,341.4 120.7,340.6 120.9,340.6 121.1,341.9 121.3,340.8 121.6,341.9 121.8,341.6 122.0,342.5 122.2,343.0 122.5,342.9 122.7,342.9 122.9,343.1 123.1,341.6 123.3,342.4 123.6,341.9 123.8,343.2 124.0,343.5 124.2,342.4 124.5,342.7 124.7,344.0 124.9,344.7 125.1,343.3 125.3,346.1 125.6,343.1 125.8,346.2 126.0,345.1 126.2,344.8 126.5,345.3 126.7,344.6 126.9,345.4 127.1,345.6 127.3,345.1 127.6,344.0 127.8,345.2 128.0,342.2 128.2,340.3 128.5,340.7 128.7,340.2 128.9,342.2 129.1,342.8 129.4,344.6 129.6,347.4 129.8,348.6 130.0,345.8 130.2,350.0 130.5,349.3 130.7,349.6 130.9,350.4 131.1,350.9 131.4,350.2 131.6,349.0 131.8,348.4 132.0,349.9 132.2,350.0 132.5,349.8 132.7,352.3 132.9,350.6 133.1,350.6 133.4,348.9 133.6,351.9 133.8,351.0 134.0,350.5 134.2,352.4 134.5,353.4 134.7,352.8 134.9,350.4 135.1,350.9 135.4,351.3 135.6,353.6 135.8,351.9 136.0,354.0 136.3,351.0 136.5,352.6 136.7,352.3 136.9,353.5 137.1,353.5 137.4,355.7 137.6,353.1 137.8,354.7 138.0,354.4 138.3,355.0 138.5,354.1 138.7,355.0 138.9,354.1 139.1,354.2 139.4,354.2 139.6,355.2 139.8,355.4 140.0,356.1 140.3,356.5 140.5,356.9 140.7,355.9 140.9,355.2 141.1,356.9 141.4,356.2 141.6,357.9 141.8,356.6 142.0,358.9 142.3,355.3 142.5,357.3 142.7,359.2 142.9,356.0 143.2,357.5 143.4,358.1 143.6,357.9 143.8,359.8 144.0,355.2 144.3,357.5 144.5,357.9 144.7,358.0 144.9,358.3 145.2,358.3 145.4,360.0 145.6,357.7 145.8,358.9 146.0,359.5 146.3,359.7 146.5,358.8 146.7,361.3 146.9,357.6 147.2,360.8 147.4,363.0 147.6,361.3 147.8,358.3 148.1,361.8 148.3,360.5 148.5,360.9 148.7,359.9 148.9,359.8 149.2,360.0 149.4,359.6 149.6,361.5 149.8,361.4 150.1,363.1 150.3,364.5 150.5,363.4 150.7,362.4 150.9,362.8 151.2,362.7 151.4,363.1 151.6,361.3 151.8,360.7 152.1,363.2 152.3,363.6 152.5,363.0 152.7,360.5 152.9,362.1 153.2,362.4 153.4,361.3 153.6,365.3 153.8,361.0 154.1,361.4 154.3,366.1 154.5,363.9 154.7,362.9 155.0,362.6 155.2,362.9 155.4,364.1 155.6,361.1 155.8,360.8 156.1,362.9 156.3,361.5 156.5,360.8 156.7,361.2 157.0,358.7 157.2,359.6 157.4,362.4 157.6,363.6 157.8,363.0 158.1,365.6 158.3,366.8 158.5,365.1 158.7,366.9 159.0,366.0 159.2,367.0 159.4,366.2 159.6,365.9 159.8,363.0 160.1,368.0 160.3,364.2 160.5,367.1 160.7,366.6 161.0,368.2 161.2,370.1 161.4,368.5 161.6,368.2 161.9,367.3 162.1,366.3 162.3,370.6 162.5,368.1 162.7,370.3 163.0,369.5 163.2,371.3 163.4,368.5 163.6,368.9 163.9,370.5 164.1,369.1 164.3,372.5 164.5,369.1 164.7,368.8 165.0,371.5 165.2,371.0 165.4,369.7 165.6,368.0 165.9,365.8 166.1,361.0 166.3,355.3 166.5,351.5 166.7,343.3 167.0,341.6 167.2,338.6 167.4,335.0 167.6,336.4 167.9,337.8 168.1,341.4 168.3,346.9 168.5,352.2 168.8,358.7 169.0,364.7 169.2,368.3 169.4,371.3 169.6,375.6 169.9,373.7 170.1,374.5 170.3,370.3 170.5,374.2 170.8,375.1 171.0,375.3 171.2,375.1 171.4,372.0 171.6,373.2 171.9,375.3 172.1,377.8 172.3,374.5 172.5,374.5 172.8,373.9 173.0,371.1 173.2,373.7 173.4,375.1 173.6,377.3 173.9,376.9 174.1,378.0 174.3,373.5 174.5,378.1 174.8,375.8 175.0,376.5 175.2,375.6 175.4,376.8 175.7,374.1 175.9,375.4 176.1,374.3 176.3,376.5 176.5,375.8 176.8,373.0 177.0,378.4 177.2,379.2 177.4,376.4 177.7,379.0 177.9,375.4 178.1,378.8 178.3,376.4 178.5,375.1 178.8,377.0 179.0,376.8 179.2,376.1 179.4,377.5 179.7,375.9 179.9,376.6 180.1,377.3 180.3,377.5 180.5,378.4 180.8,378.3 181.0,377.8 181.2,374.4 181.4,380.5 181.7,381.0 181.9,378.0 182.1,375.3 182.3,371.7 182.6,362.9 182.8,358.7 183.0,355.0 183.2,349.9 183.4,347.4 183.7,343.6 183.9,346.4 184.1,348.9 184.3,352.4 184.6,361.9 184.8,364.8 185.0,369.8 185.2,374.1 185.4,377.2 185.7,379.8 185.9,382.7 186.1,381.6 186.3,379.2 186.6,384.0 186.8,380.8 187.0,382.4 187.2,381.9 187.5,385.5 187.7,380.6 187.9,386.6 188.1,383.4 188.3,382.6 188.6,383.9 188.8,382.6 189.0,382.2 189.2,381.6 189.5,379.1 189.7,385.7 189.9,384.6 190.1,383.1 190.3,386.5 190.6,381.6 190.8,386.1 191.0,384.0 191.2,384.0 191.5,384.6 191.7,381.5 191.9,386.2 192.1,387.2 192.3,381.8 192.6,385.8 192.8,385.5 193.0,387.6 193.2,387.7 193.5,385.9 193.7,382.5 193.9,386.3 194.1,385.6 194.4,383.8 194.6,384.3 194.8,383.3 195.0,386.1 195.2,384.3 195.5,385.2 195.7,382.0 195.9,386.4 196.1,388.1 196.4,387.6 196.6,383.5 196.8,385.1 197.0,390.6 197.2,386.0 197.5,386.1 197.7,385.4 197.9,390.6 198.1,383.8 198.4,386.3 198.6,383.1 198.8,386.9 199.0,385.4 199.2,389.9 199.5,381.4 199.7,385.3 199.9,387.0 200.1,385.9 200.4,385.9 200.6,387.5 200.8,387.2 201.0,388.6 201.3,387.5 201.5,385.4 201.7,388.2 201.9,384.8 202.1,387.3 202.4,386.9 202.6,386.8 202.8,387.0 203.0,388.7 203.3,389.1 203.5,386.9 203.7,391.7 203.9,386.4 204.1,389.2 204.4,391.4 204.6,388.1 204.8,388.8 205.0,387.5 205.3,387.5 205.5,392.1 205.7,388.5 205.9,386.8 206.1,388.0 206.4,388.5 206.6,390.7 206.8,389.6 207.0,389.2 207.3,390.7 207.5,391.0 207.7,390.6 207.9,392.1 208.2,394.1 208.4,388.1 208.6,393.7 208.8,393.6 209.0,393.8 209.3,391.3 209.5,392.5 209.7,392.3 209.9,394.1 210.2,392.2 210.4,390.0 210.6,394.6 210.8,391.6 211.0,391.6 211.3,393.3 211.5,389.4 211.7,393.4 211.9,391.8 212.2,391.3 212.4,392.3 212.6,393.5 212.8,394.0 213.0,395.4 213.3,393.8 213.5,391.8 213.7,392.7 213.9,391.1 214.2,390.8 214.4,388.6 214.6,387.3 214.8,386.0 215.1,384.0 215.3,379.9 215.5,375.7 215.7,378.4 215.9,380.5 216.2,376.7 216.4,381.9 216.6,386.4 216.8,389.9 217.1,392.1 217.3,394.9 217.5,392.7 217.7,395.9 217.9,398.8 218.2,396.9 218.4,392.8 218.6,398.7 218.8,398.7 219.1,392.4 219.3,398.6 219.5,395.7 219.7,398.1 220.0,396.7 220.2,397.1 220.4,400.8 220.6,398.7 220.8,399.0 221.1,394.8 221.3,398.3 221.5,397.6 221.7,397.9 222.0,401.2 222.2,397.6 222.4,396.7 222.6,400.8 222.8,398.9 223.1,396.7 223.3,399.3 223.5,394.6 223.7,399.0 224.0,397.4 224.2,399.3 224.4,396.0 224.6,399.3 224.8,397.6 225.1,399.7 225.3,398.6 225.5,400.5 225.7,400.7 226.0,403.3 226.2,404.2 226.4,403.0 226.6,403.9 226.9,401.2 227.1,403.9 227.3,403.4 227.5,401.3 227.7,405.3 228.0,401.3 228.2,403.5 228.4,402.7 228.6,405.0 228.9,405.3 229.1,405.0 229.3,402.7 229.5,406.3 229.7,402.5 230.0,398.1 230.2,396.9 230.4,390.9 230.6,393.7 230.9,389.9 231.1,386.3 231.3,389.6 231.5,394.5 231.7,394.7 232.0,402.3 232.2,403.9 232.4,410.6 232.6,407.8 232.9,409.3 233.1,410.1 233.3,409.6 233.5,407.8 233.8,410.4 234.0,408.4 234.2,407.9 234.4,408.8 234.6,409.0 234.9,412.4 235.1,411.4 235.3,409.6 235.5,408.8 235.8,409.9 236.0,418.5 236.2,412.9 236.4,413.9 236.6,412.4 236.9,411.2 237.1,413.4 237.3,409.8 237.5,411.0 237.8,411.9 238.0,411.0 238.2,412.6 238.4,407.8 238.6,410.7 238.9,406.1 239.1,400.2 239.3,402.7 239.5,403.1 239.8,398.2 240.0,399.3 240.2,403.5 240.4,402.3 240.7,406.3 240.9,410.2 241.1,410.4 241.3,413.9 241.5,414.3 241.8,414.7 242.0,409.8 242.2,416.7 242.4,412.6 242.7,410.4 242.9,412.6 243.1,412.7 243.3,415.0 243.5,413.4 243.8,408.5 244.0,411.2 244.2,407.8 244.4,404.3 244.7,397.9 244.9,397.9 245.1,399.7 245.3,394.4 245.5,396.6 245.8,401.6 246.0,404.3 246.2,401.0 246.4,409.1 246.7,409.8 246.9,405.2 247.1,413.1 247.3,416.9 247.6,411.0 247.8,409.9 248.0,413.9 248.2,408.5 248.4,413.9 248.7,408.1 248.9,417.5 249.1,411.9 249.3,412.7 249.6,409.1 249.8,415.8 250.0,415.8 250.2,406.0 250.4,415.0 250.7,417.7 250.9,411.0 251.1,413.1 251.3,412.4 251.6,414.7 251.8,415.6 252.0,410.2 252.2,415.2 252.4,414.3 252.7,415.4 252.9,415.6 253.1,409.4 253.3,412.2 253.6,412.9 253.8,416.5 254.0,416.9 254.2,414.1 254.5,409.4 254.7,403.1 254.9,402.7 255.1,390.4 255.3,384.3 255.6,372.3 255.8,364.2 256.0,358.9 256.2,354.8 256.5,352.2 256.7,353.4 256.9,356.8 257.1,362.6 257.3,369.3 257.6,379.2 257.8,390.1 258.0,397.6 258.2,403.9 258.5,410.7 258.7,417.1 258.9,419.1 259.1,421.0 259.4,423.2 259.6,419.9 259.8,421.4 260.0,417.5 260.2,418.9 260.5,419.3 260.7,421.9 260.9,418.5 261.1,413.4 261.4,422.3 261.6,417.5 261.8,416.0 262.0,420.1 262.2,416.0 262.5,419.7 262.7,419.9 262.9,416.5 263.1,426.3 263.4,421.0 263.6,422.5 263.8,418.1 264.0,422.8 264.2,417.9 264.5,418.3 264.7,422.8 264.9,419.9 265.1,417.7 265.4,419.5 265.6,422.8 265.8,417.9 266.0,417.7 266.3,425.6 266.5,423.9 266.7,422.3 266.9,419.9 267.1,424.9 267.4,416.1 267.6,417.3 267.8,413.8 268.0,406.0 268.3,396.9 268.5,388.1 268.7,378.1 268.9,371.9 269.1,368.3 269.4,367.1 269.6,366.6 269.8,367.8 270.0,371.7 270.3,380.6 270.5,386.5 270.7,393.8 270.9,406.0 271.1,415.2 271.4,420.1 271.6,416.5 271.8,424.2 272.0,424.4 272.3,428.4 272.5,430.3 272.7,426.3 272.9,428.7 273.2,427.1 273.4,425.1 273.6,426.6 273.8,427.6 274.0,434.5 274.3,428.9 274.5,426.3 274.7,430.6 274.9,432.0 275.2,430.0 275.4,430.6 275.6,432.6 275.8,425.8 276.0,426.8 276.3,427.4 276.5,431.7 276.7,432.9 276.9,434.8 277.2,435.7 277.4,427.6 277.6,428.9 277.8,429.5 278.0,428.7 278.3,432.9 278.5,435.7 278.7,429.5 278.9,432.3 279.2,434.1 279.4,430.6 279.6,429.2 279.8,430.0 280.1,430.3 280.3,436.7 280.5,428.9 280.7,429.2 280.9,436.4 281.2,430.0 281.4,430.6 281.6,438.8 281.8,428.1 282.1,428.4 282.3,431.2 282.5,429.8 282.7,432.0 282.9,430.6 283.2,435.7 283.4,430.0 283.6,432.6 283.8,432.6 284.1,432.3 284.3,433.5 284.5,431.2 284.7,433.8 284.9,430.6 285.2,431.7 285.4,430.0 285.6,432.9 285.8,430.6 286.1,434.5 286.3,433.8 286.5,428.1 286.7,429.5 287.0,430.6 287.2,437.4 287.4,432.3 287.6,430.6 287.8,434.5 288.1,438.8 288.3,434.5 288.5,427.9 288.7,429.2 289.0,431.4 289.2,432.9 289.4,434.8 289.6,428.7 289.8,430.6 290.1,437.1 290.3,432.9 290.5,436.4 290.7,435.4 291.0,432.6 291.2,435.7 291.4,437.7 291.6,434.1 291.8,434.1 292.1,429.8 292.3,437.1 292.5,432.0 292.7,435.4 293.0,436.1 293.2,431.2 293.4,433.2 293.6,432.6 293.9,432.0 294.1,433.5 294.3,432.9 294.5,439.9 294.7,439.5 295.0,431.7 295.2,435.7 295.4,430.6 295.6,436.4 295.9,432.9 296.1,432.9 296.3,432.3 296.5,441.4 296.7,432.0 297.0,437.4 297.2,434.5 297.4,432.3 297.6,431.7 297.9,435.1 298.1,432.3 298.3,433.2 298.5,431.2 298.8,428.7 299.0,432.9 299.2,436.1 299.4,444.5 299.6,441.0 299.9,438.4 300.1,437.4 300.3,429.5 300.5,434.1 300.8,432.0 301.0,442.1 301.2,439.5 301.4,430.3 301.6,436.4 301.9,432.9 302.1,432.3 302.3,437.7 302.5,440.2 302.8,443.3 303.0,433.8 303.2,433.8 303.4,432.3 303.6,432.0 303.9,430.3 304.1,445.8 304.3,437.1 304.5,439.9 304.8,433.5 305.0,433.5 305.2,441.0 305.4,443.3 305.7,437.4 305.9,438.4 306.1,432.3 306.3,434.5 306.5,439.9 306.8,437.1 307.0,438.8 307.2,437.7 307.4,436.7 307.7,434.5 307.9,441.0 308.1,435.7 308.3,436.7 308.5,435.7 308.8,437.7 309.0,432.3 309.2,432.9 309.4,439.1 309.7,438.1 309.9,438.1 310.1,436.1 310.3,439.5 310.5,439.5 310.8,442.5 311.0,441.0 311.2,435.4 311.4,438.1 311.7,436.7 311.9,434.1 312.1,433.5 312.3,435.4 312.6,437.4 312.8,434.1 313.0,440.6 313.2,436.7 313.4,433.2 313.7,431.7 313.9,434.1 314.1,437.1 314.3,441.7 314.6,435.4 314.8,432.0 315.0,440.2 315.2,434.5 315.4,437.4 315.7,436.4 315.9,434.5 316.1,435.4 316.3,431.4 316.6,432.0 316.8,436.7 317.0,439.5 317.2,441.0 317.4,437.7 317.7,439.1 317.9,436.4 318.1,436.7 318.3,436.7 318.6,439.1 318.8,431.2 319.0,433.8 319.2,434.5 319.5,432.9 319.7,438.8 319.9,441.4 320.1,441.0 320.3,434.8 320.6,435.4 320.8,443.7 321.0,431.7 321.2,432.9 321.5,437.1 321.7,436.4 321.9,436.7 322.1,438.1 322.3,434.8 322.6,445.8 322.8,438.4 323.0,439.1 323.2,431.2 323.5,437.7 323.7,435.4 323.9,439.9 324.1,434.8 324.3,437.7 324.6,436.1 324.8,443.3 325.0,441.7 325.2,439.5 325.5,433.5 325.7,440.2 325.9,435.1 326.1,438.8 326.4,439.5 326.6,442.1 326.8,441.0 327.0,440.6 327.2,445.8 327.5,437.7 327.7,440.2 327.9,438.4 328.1,447.6 328.4,432.6 328.6,432.6 328.8,441.0 329.0,433.5 329.2,442.9 329.5,439.9 329.7,435.4 329.9,450.4 330.1,439.1 330.4,440.6 330.6,438.8 330.8,442.1 331.0,440.6 331.3,442.5 331.5,441.0 331.7,440.6 331.9,441.0 332.1,442.5 332.4,440.6 332.6,442.5 332.8,442.9 333.0,439.9 333.3,439.9 333.5,441.7 333.7,441.4 333.9,437.4 334.1,444.9 334.4,440.2 334.6,442.9 334.8,446.7 335.0,448.9 335.3,446.7 335.5,443.3 335.7,448.5 335.9,439.5 336.1,439.1 336.4,439.5 336.6,438.8 336.8,444.9 337.0,445.4 337.3,444.5 337.5,437.7 337.7,442.1 337.9,438.1 338.2,442.5 338.4,440.2 338.6,441.4 338.8,437.7 339.0,442.1 339.3,443.3 339.5,436.4 339.7,438.1 339.9,444.1 340.2,445.8 340.4,446.7 340.6,431.2 340.8,451.4 341.0,436.1 341.3,440.6 341.5,446.2 341.7,440.2 341.9,438.1 342.2,445.8 342.4,441.0 342.6,444.9 342.8,442.9 343.0,442.1 343.3,441.4 343.5,442.9 343.7,442.9 343.9,447.1 344.2,438.1 344.4,442.1 344.6,439.9 344.8,445.4 345.1,443.3 345.3,450.9 345.5,441.7 345.7,449.4 345.9,441.7 346.2,443.7 346.4,439.9 346.6,448.0 346.8,435.1 347.1,443.3 347.3,444.5 347.5,446.2 347.7,449.4 347.9,444.1 348.2,442.1 348.4,445.4 348.6,444.9 348.8,439.9 349.1,444.1 349.3,449.4 349.5,450.4 349.7,448.5 349.9,444.5 350.2,440.6 350.4,443.3 350.6,442.9 350.8,449.9 351.1,440.6 351.3,442.9 351.5,448.0 351.7,451.9 352.0,447.6 352.2,446.2 352.4,440.6 352.6,454.0 352.8,442.9 353.1,447.6 353.3,444.1 353.5,443.7 353.7,456.2 354.0,446.7 354.2,454.0 354.4,448.5 354.6,440.6 354.8,439.9 355.1,448.0 355.3,447.1 355.5,452.4 355.7,444.5 356.0,440.6 356.2,454.5 356.4,442.5 356.6,446.2 356.8,451.4 357.1,442.9 357.3,442.5 357.5,449.9 357.7,454.5 358.0,445.8 358.2,448.9 358.4,439.5 358.6,444.1 358.9,444.1 359.1,446.7 359.3,453.4 359.5,442.1 359.7,449.9 360.0,443.7 360.2,446.2 360.4,444.9 360.6,446.7 360.9,443.3 361.1,442.5 361.3,443.3 361.5,449.4 361.7,447.1 362.0,445.4 362.2,443.3 362.4,441.7 362.6,451.4 362.9,449.9 363.1,444.1 363.3,449.4 363.5,457.9 363.7,448.0 364.0,447.6 364.2,445.4 364.4,443.7 364.6,448.5 364.9,445.8 365.1,446.7 365.3,450.4 365.5,443.7 365.8,439.9 366.0,439.9 366.2,445.4 366.4,454.5 366.6,449.9 366.9,444.9 367.1,450.9 367.3,441.4 367.5,438.4 367.8,448.0 368.0,447.1 368.2,447.6 368.4,449.4 368.6,447.6 368.9,447.6 369.1,443.3 369.3,448.0 369.5,448.9 369.8,444.5 370.0,448.5 370.2,446.7 370.4,446.7 370.7,448.0 370.9,449.9 371.1,439.1 371.3,448.5 371.5,446.7 371.8,453.4 372.0,443.7 372.2,447.6 372.4,449.9 372.7,443.3 372.9,447.6 373.1,441.7 373.3,448.5 373.5,449.4 373.8,451.4 374.0,444.5 374.2,448.0 374.4,446.2 374.7,450.4 374.9,454.5 375.1,449.4 375.3,445.4 375.5,444.9 375.8,447.6 376.0,450.9 376.2,442.9 376.4,454.5 376.7,447.6 376.9,449.9 377.1,444.5 377.3,442.1 377.6,451.9 377.8,448.0 378.0,447.6 378.2,447.1 378.4,446.7 378.7,449.9 378.9,447.1 379.1,449.4 379.3,451.9 379.6,443.3 379.8,449.9 380.0,450.9 380.2,442.5 380.4,452.4 380.7,451.9 380.9,443.7 381.1,444.1 381.3,452.9 381.6,444.5 381.8,452.9 382.0,454.5 382.2,448.9 382.4,459.2 382.7,455.6 382.9,453.4 383.1,450.9 383.3,445.4 383.6,450.9 383.8,451.9 384.0,445.4 384.2,444.5 384.5,447.1 384.7,452.9 384.9,443.3 385.1,443.7 385.3,445.8 385.6,446.2 385.8,448.0 386.0,454.5 386.2,445.8 386.5,448.9 386.7,448.5 386.9,447.1 387.1,449.4 387.3,451.9 387.6,453.4 387.8,440.6 388.0,448.5 388.2,448.0 388.5,455.6 388.7,450.4 388.9,447.1 389.1,442.5 389.3,445.8 389.6,459.2 389.8,448.9 390.0,451.4 390.2,455.6 390.5,454.0 390.7,445.8 390.9,447.1 391.1,451.4 391.4,446.2 391.6,444.5 391.8,453.4 392.0,451.4 392.2,444.9 392.5,452.9 392.7,448.9 392.9,452.4 393.1,448.0 393.4,454.5 393.6,454.0 393.8,450.4 394.0,447.1 394.2,457.3 394.5,451.4 394.7,454.0 394.9,447.1 395.1,452.9 395.4,445.8 395.6,455.6 395.8,452.4 396.0,451.9 396.2,454.5 396.5,453.4 396.7,447.1 396.9,448.9 397.1,448.9 397.4,457.9 397.6,443.7 397.8,450.4 398.0,456.8 398.3,448.0 398.5,458.5 398.7,450.4 398.9,445.4 399.1,456.8 399.4,456.2 399.6,454.5 399.8,449.9 400.0,446.7 400.3,449.9 400.5,459.2 400.7,445.8 400.9,451.9 401.1,449.4 401.4,454.0 401.6,454.0 401.8,448.0 402.0,453.4 402.3,470.8 402.5,452.4 402.7,446.2 402.9,451.9 403.1,459.8 403.4,451.9 403.6,447.1 403.8,447.1 404.0,451.4 404.3,449.9 404.5,456.2 404.7,447.6 404.9,459.8 405.2,447.6 405.4,444.1 405.6,438.8 405.8,435.4 406.0,434.8 406.3,426.1 406.5,417.5 406.7,412.0 406.9,409.4 407.2,408.1 407.4,403.5 407.6,407.2 407.8,407.3 408.0,416.1 408.3,424.4 408.5,431.4 408.7,431.2 408.9,439.5 409.2,449.9 409.4,448.5 409.6,446.2 409.8,449.4 410.1,452.4 410.3,449.9 410.5,453.4 410.7,454.0 410.9,448.0 411.2,451.4 411.4,452.9 411.6,443.3 411.8,444.9 412.1,449.9 412.3,444.9 412.5,442.5 412.7,440.2 412.9,433.8 413.2,438.1 413.4,437.4 413.6,432.3 413.8,427.1 414.1,435.4 414.3,441.4 414.5,432.3 414.7,435.1 414.9,444.1 415.2,439.1 415.4,448.0 415.6,451.4 415.8,446.7 416.1,454.5 416.3,450.9 416.5,452.4 416.7,447.1 417.0,452.9 417.2,454.5 417.4,459.2 417.6,452.4 417.8,447.1 418.1,452.9 418.3,447.6 418.5,455.6 418.7,448.5 419.0,456.2 419.2,451.4 419.4,447.1 419.6,453.4 419.8,450.4 420.1,450.4 420.3,456.8 420.5,451.9 420.7,459.8 421.0,455.0 421.2,461.7 421.4,449.9 421.6,456.2 421.8,453.4 422.1,455.0 422.3,455.6 422.5,448.5 422.7,458.5 423.0,452.9 423.2,453.4 423.4,450.4 423.6,456.2 423.9,457.9 424.1,454.0 424.3,454.0 424.5,448.9 424.7,455.0 425.0,452.4 425.2,444.9 425.4,462.4 425.6,450.9 425.9,454.0 426.1,463.8 426.3,458.5 426.5,462.4 426.7,462.4 427.0,455.0 427.2,454.0 427.4,455.0 427.6,446.2 427.9,458.5 428.1,454.5 428.3,457.3 428.5,456.8 428.7,457.9 429.0,459.8 429.2,456.8 429.4,454.0 429.6,455.0 429.9,448.9 430.1,452.9 430.3,458.5 430.5,451.4 430.8,457.3 431.0,466.0 431.2,464.5 431.4,459.8 431.6,458.5 431.9,457.3 432.1,464.5 432.3,448.0 432.5,448.5 432.8,455.6 433.0,466.0 433.2,458.5 433.4,460.4 433.6,460.4 433.9,460.4 434.1,457.9 434.3,458.5 434.5,459.2 434.8,455.0 435.0,459.8 435.2,458.5 435.4,458.5 435.6,455.0 435.9,455.0 436.1,458.5 436.3,457.3 436.5,461.7 436.8,458.5 437.0,459.2 437.2,448.9 437.4,462.4 437.7,459.8 437.9,458.5 438.1,454.0 438.3,452.4 438.5,462.4 438.8,470.0 439.0,463.8 439.2,459.8 439.4,463.8 439.7,459.8 439.9,459.2 440.1,455.0 440.3,461.1 440.5,461.7 440.8,461.1 441.0,459.2 441.2,453.4 441.4,467.5 441.7,463.1 441.9,459.2 442.1,465.2 442.3,460.4 442.6,459.8 442.8,461.7 443.0,459.8 443.2,454.5 443.4,463.8 443.7,458.5 443.9,457.3 444.1,463.8 444.3,456.8 444.6,466.0 444.8,464.5 445.0,459.2 445.2,466.0 445.4,459.2 445.7,466.7 445.9,461.7 446.1,463.8 446.3,465.2 446.6,466.0 446.8,459.2 447.0,455.0 447.2,459.2 447.4,454.5 447.7,470.8 447.9,468.3 448.1,457.3 448.3,459.2 448.6,463.8 448.8,470.0 449.0,469.1 449.2,459.8 449.5,459.2 449.7,458.5 449.9,463.1 450.1,460.4 450.3,472.6 450.6,473.5 450.8,466.7 451.0,457.9 451.2,454.5 451.5,459.8 451.7,463.1 451.9,463.8 452.1,466.7 452.3,465.2 452.6,459.2 452.8,464.5 453.0,458.5 453.2,454.0 453.5,463.1 453.7,465.2 453.9,451.9 454.1,462.4 454.3,470.0 454.6,456.8 454.8,466.0 455.0,456.2 455.2,460.4 455.5,456.8 455.7,451.4 455.9,469.1 456.1,459.8 456.4,462.4 456.6,463.8 456.8,466.7 457.0,464.5 457.2,466.7 457.5,457.9 457.7,460.4 457.9,462.4 458.1,456.2 458.4,460.4 458.6,463.1 458.8,463.1 459.0,457.9 459.2,457.3 459.5,467.5 459.7,462.4 459.9,465.2 460.1,455.0 460.4,468.3 460.6,456.8 460.8,459.8 461.0,459.2 461.2,455.0 461.5,466.0 461.7,463.8 461.9,456.8 462.1,459.8 462.4,467.5 462.6,453.4 462.8,461.7 463.0,460.4 463.3,466.0 463.5,459.8 463.7,454.0 463.9,468.3 464.1,461.1 464.4,461.7 464.6,463.8 464.8,465.2 465.0,461.7 465.3,456.2 465.5,465.2 465.7,466.0 465.9,467.5 466.1,459.8 466.4,457.9 466.6,462.4 466.8,464.5 467.0,457.9 467.3,461.1 467.5,465.2 467.7,454.0 467.9,467.5 468.1,461.7 468.4,464.5 468.6,456.8 468.8,464.5 469.0,466.7 469.3,460.4 469.5,457.3 469.7,460.4 469.9,474.4 470.2,461.7 470.4,460.4 470.6,458.5 470.8,459.2 471.0,467.5 471.3,465.2 471.5,458.5 471.7,459.8 471.9,461.7 472.2,454.0 472.4,463.8 472.6,466.7 472.8,461.7 473.0,472.6 473.3,459.8 473.5,464.5 473.7,458.5 473.9,455.0 474.2,463.8 474.4,465.2 474.6,466.0 474.8,466.0 475.0,459.2 475.3,475.4 475.5,466.7 475.7,466.0 475.9,466.7 476.2,455.6 476.4,461.1 476.6,471.7 476.8,456.2 477.1,458.5 477.3,456.2 477.5,461.7 477.7,457.3 477.9,463.8 478.2,460.4 478.4,461.1 478.6,457.9 478.8,462.4 479.1,463.1 479.3,452.4 479.5,452.4 479.7,471.7 479.9,465.2 480.2,463.1 480.4,459.8 480.6,461.7 480.8,455.6 481.1,461.7 481.3,462.4 481.5,463.8 481.7,455.0 482.0,452.4 482.2,461.7 482.4,463.1 482.6,468.3 482.8,465.2 483.1,456.2 483.3,460.4 483.5,461.7 483.7,461.1 484.0,464.5 484.2,463.8 484.4,466.0 484.6,469.1 484.8,463.8 485.1,455.0 485.3,456.8 485.5,463.1 485.7,455.0 486.0,458.5 486.2,458.5 486.4,462.4 486.6,467.5 486.8,456.2 487.1,461.7 487.3,468.3 487.5,462.4 487.7,456.2 488.0,463.8 488.2,459.2 488.4,459.2 488.6,468.3 488.9,465.2 489.1,455.0 489.3,454.5 489.5,470.8 489.7,457.3 490.0,456.2 490.2,456.8 490.4,465.2 490.6,457.9 490.9,459.2 491.1,471.7 491.3,455.6 491.5,460.4 491.7,462.4 492.0,465.2 492.2,463.8 492.4,457.3 492.6,469.1 492.9,466.7 493.1,457.9 493.3,456.2 493.5,464.5 493.7,468.3 494.0,456.8 494.2,462.4 494.4,455.0 494.6,459.2 494.9,459.2 495.1,456.8 495.3,464.5 495.5,469.1 495.8,469.1 496.0,475.4 496.2,457.3 496.4,465.2 496.6,460.4 496.9,460.4 497.1,460.4 497.3,472.6 497.5,461.1 497.8,467.5 498.0,463.1 498.2,475.4 498.4,466.0 498.6,481.8 498.9,479.5 499.1,459.2 499.3,455.0 499.5,465.2 499.8,451.9 500.0,460.4 500.2,464.5 500.4,470.8 500.6,466.7 500.9,453.4 501.1,464.5 501.3,460.4 501.5,466.0 501.8,463.1 502.0,463.1 502.2,455.6 502.4,450.9 502.7,465.2 502.9,464.5 503.1,466.7 503.3,464.5 503.5,462.4 503.8,474.4 504.0,451.9 504.2,471.7 504.4,464.5 504.7,459.8 504.9,466.7 505.1,462.4 505.3,472.6 505.5,460.4 505.8,464.5 506.0,465.2 506.2,466.7 506.4,472.6 506.7,459.8 506.9,459.8 507.1,455.0 507.3,462.4 507.5,468.3 507.8,463.8 508.0,454.0 508.2,461.1 508.4,461.1 508.7,467.5 508.9,457.9 509.1,455.6 509.3,464.5 509.6,464.5 509.8,463.1 510.0,466.0 510.2,458.5 510.4,464.5 510.7,453.4 510.9,459.8 511.1,463.1 511.3,464.5 511.6,470.0 511.8,463.1 512.0,461.1 512.2,463.8 512.4,458.5 512.7,461.7 512.9,453.4 513.1,462.4 513.3,457.3 513.6,456.2 513.8,458.5 514.0,460.4 514.2,463.1 514.4,459.2 514.7,458.5 514.9,457.9 515.1,460.4 515.3,459.8 515.6,455.6 515.8,457.9 516.0,459.8 516.2,455.6 516.5,461.7 516.7,463.8 516.9,464.5 517.1,451.9 517.3,456.2 517.6,455.0 517.8,465.2 518.0,470.0 518.2,458.5 518.5,455.6 518.7,469.1 518.9,466.0 519.1,462.4 519.3,459.2 519.6,464.5 519.8,459.2 520.0,456.8 520.2,461.7 520.5,452.4 520.7,452.4 520.9,443.7 521.1,442.1 521.4,430.3 521.6,431.2 521.8,432.6 522.0,441.0 522.2,447.6 522.5,450.4 522.7,452.9 522.9,463.1 523.1,460.4 523.4,465.2 523.6,461.7 523.8,466.7 524.0,452.4 524.2,458.5 524.5,462.4 524.7,466.7 524.9,462.4 525.1,465.2 525.4,460.4 525.6,462.4 525.8,456.8 526.0,463.8 526.2,454.0 526.5,471.7 526.7,463.1 526.9,466.0 527.1,465.2 527.4,462.4 527.6,461.1 527.8,471.7 528.0,448.5 528.3,463.1 528.5,462.4 528.7,463.1 528.9,470.0 529.1,467.5 529.4,466.0 529.6,456.2 529.8,468.3 530.0,465.2 530.3,452.4 530.5,456.2 530.7,460.4 530.9,463.8 531.1,454.0 531.4,457.9 531.6,464.5 531.8,459.2 532.0,457.3 532.3,462.4 532.5,452.9 532.7,459.8 532.9,455.6 533.1,459.8 533.4,457.3 533.6,457.9 533.8,452.4 534.0,459.2 534.3,465.2 534.5,465.2 534.7,459.2 534.9,457.9 535.2,463.8 535.4,462.4 535.6,447.6 535.8,454.5 536.0,463.8 536.3,463.1 536.5,462.4 536.7,461.7 536.9,459.8 537.2,449.4 537.4,455.6 537.6,459.2 537.8,461.7 538.0,461.7 538.3,469.1 538.5,468.3 538.7,463.1 538.9,470.0 539.2,455.6 539.4,465.2 539.6,463.8 539.8,461.1 540.0,463.8 540.3,458.5 540.5,457.9 540.7,463.8 540.9,457.3 541.2,459.2 541.4,452.4 541.6,452.9 541.8,466.0 542.1,463.8 542.3,461.1 542.5,463.1 542.7,462.4 542.9,463.1 543.2,464.5 543.4,457.3 543.6,456.8 543.8,462.4 544.1,460.4 544.3,456.8 544.5,455.0 544.7,456.2 544.9,457.3 545.2,457.3 545.4,461.7 545.6,450.9 545.8,465.2 546.1,457.3 546.3,466.0 546.5,455.6 546.7,460.4 546.9,452.9 547.2,470.8 547.4,455.0 547.6,457.9 547.8,465.2 548.1,457.3 548.3,462.4 548.5,463.8 548.7,449.9 549.0,459.8 549.2,455.0 549.4,460.4 549.6,451.4 549.8,459.8 550.1,454.5 550.3,459.2 550.5,462.4 550.7,458.5 551.0,466.7 551.2,463.8 551.4,456.8 551.6,454.5 551.8,463.1 552.1,455.6 552.3,457.9 552.5,465.2 552.7,459.2 553.0,445.8 553.2,459.8 553.4,457.3 553.6,456.8 553.9,455.6 554.1,457.3 554.3,457.3 554.5,456.2 554.7,456.8 555.0,464.5 555.2,456.2 555.4,459.2 555.6,450.4 555.9,451.9 556.1,456.8 556.3,452.9 556.5,463.8 556.7,456.8 557.0,456.8 557.2,452.9 557.4,459.8 557.6,454.0 557.9,455.6 558.1,451.9 558.3,455.0 558.5,460.4 558.7,460.4 559.0,459.2 559.2,446.2 559.4,457.9 559.6,455.6 559.9,463.1 560.1,455.6 560.3,451.4 560.5,456.8 560.8,449.9 561.0,451.4 561.2,454.0 561.4,456.2 561.6,461.7 561.9,463.1 562.1,459.2 562.3,452.4 562.5,457.9 562.8,448.5 563.0,454.0 563.2,461.1 563.4,451.4 563.6,458.5 563.9,463.1 564.1,457.9 564.3,454.5 564.5,461.7 564.8,456.8 565.0,449.9 565.2,463.8 565.4,459.2 565.6,457.9 565.9,459.8 566.1,461.1 566.3,460.4 566.5,461.1 566.8,449.9 567.0,455.6 567.2,451.4 567.4,451.4 567.7,451.9 567.9,452.4 568.1,454.0 568.3,466.0 568.5,457.3 568.8,457.3 569.0,463.8 569.2,468.3 569.4,457.3 569.7,448.0 569.9,448.5 570.1,450.4 570.3,457.9 570.5,463.1 570.8,447.6 571.0,450.9 571.2,463.1 571.4,460.4 571.7,458.5 571.9,451.9 572.1,451.4 572.3,454.5 572.5,459.2 572.8,457.9 573.0,455.0 573.2,448.5 573.4,459.8 573.7,447.6 573.9,458.5 574.1,449.4 574.3,451.4 574.6,456.2 574.8,452.9 575.0,450.4 575.2,459.8 575.4,449.4 575.7,464.5 575.9,454.0 576.1,452.4 576.3,458.5 576.6,455.0 576.8,451.4 577.0,458.5 577.2,456.2 577.4,456.8 577.7,449.4 577.9,444.1 578.1,449.4 578.3,450.4 578.6,461.7 578.8,451.4 579.0,451.9 579.2,448.9 579.4,452.4 579.7,450.4 579.9,452.4 580.1,447.1 580.3,457.9 580.6,452.4 580.8,449.4 581.0,460.4 581.2,449.4 581.5,462.4 581.7,450.9 581.9,463.1 582.1,446.2 582.3,458.5 582.6,452.9 582.8,459.2 583.0,457.3 583.2,459.8 583.5,454.0 583.7,456.2 583.9,454.5 584.1,453.4 584.3,461.7 584.6,452.9 584.8,461.7 585.0,459.8 585.2,456.8 585.5,462.4 585.7,463.1 585.9,463.1 586.1,474.4 586.3,473.5 586.6,466.0 586.8,459.2 587.0,459.2 587.2,460.4 587.5,465.2 587.7,469.1 587.9,466.7 588.1,465.2 588.4,463.1 588.6,465.2 588.8,470.8 589.0,471.7 589.2,478.4 589.5,468.3 589.7,466.0 589.9,466.0 590.1,475.4 590.4,473.5 590.6,463.1 590.8,476.4 591.0,466.7 591.2,468.3 591.5,464.5 591.7,474.4 591.9,476.4 592.1,479.5 592.4,483.0 592.6,470.8 592.8,472.6 593.0,473.5 593.3,478.4 593.5,470.0 593.7,478.4 593.9,480.6 594.1,483.0 594.4,467.5 594.6,473.5 594.8,470.0 595.0,467.5 595.3,479.5 595.5,476.4 595.7,472.6 595.9,475.4 596.1,472.6 596.4,469.1 596.6,481.8 596.8,488.1 597.0,467.5 597.3,483.0 597.5,474.4 597.7,475.4 597.9,479.5 598.1,481.8 598.4,471.7 598.6,475.4 598.8,474.4 599.0,477.4 599.3,475.4 599.5,475.4 599.7,470.8 599.9,480.6 600.2,491.0 600.4,475.4 600.6,491.0 600.8,476.4 601.0,492.5 601.3,483.0 601.5,497.6 601.7,486.8 601.9,489.5 602.2,483.0 602.4,478.4 602.6,481.8 602.8,501.4 603.0,480.6 603.3,488.1 603.5,480.6 603.7,488.1 603.9,478.4 604.2,494.1 604.4,492.5 604.6,480.6 604.8,484.2 605.0,495.8 605.3,491.0 605.5,491.0 605.7,491.0 605.9,494.1 606.2,489.5 606.4,494.1 606.6,486.8 606.8,491.0 607.1,484.2 607.3,495.8 607.5,491.0 607.7,494.1 607.9,481.8 608.2,474.4 608.4,501.4 608.6,495.8 608.8,488.1 609.1,505.6 609.3,489.5 609.5,491.0 609.7,499.4 609.9,491.0 610.2,497.6 610.4,501.4 610.6,497.6 610.8,488.1 611.1,497.6 611.3,494.1 611.5,508.0 611.7,503.4 611.9,495.8 612.2,499.4 612.4,499.4 612.6,484.2 612.8,485.4 613.1,492.5 613.3,499.4 613.5,499.4 613.7,501.4 614.0,513.1 614.2,510.5 614.4,499.4 614.6,495.8 614.8,494.1 615.1,501.4 615.3,503.4 615.5,492.5 615.7,491.0 616.0,499.4 616.2,501.4 616.4,501.4 616.6,494.1 616.8,492.5 617.1,501.4 617.3,501.4 617.5,501.4 617.7,505.6 618.0,495.8 618.2,522.6 618.4,492.5 618.6,495.8 618.8,497.6 619.1,494.1 619.3,491.0 619.5,505.6 619.7,499.4 620.0,486.8 620.2,516.0 620.4,501.4 620.6,477.4 620.9,497.6 621.1,497.6 621.3,486.8 621.5,494.1 621.7,492.5 622.0,499.4 622.2,510.5 622.4,503.4 622.6,488.1 622.9,508.0 623.1,495.8 623.3,516.0 623.5,486.8 623.7,491.0 624.0,503.4 624.2,492.5 624.4,491.0 624.6,499.4 624.9,495.8 625.1,513.1 625.3,499.4 625.5,495.8 625.7,489.5 626.0,491.0 626.2,501.4 626.4,492.5 626.6,491.0 626.9,492.5 627.1,488.1 627.3,492.5 627.5,495.8 627.8,505.6 628.0,491.0 628.2,497.6 628.4,495.8 628.6,476.4 628.9,488.1 629.1,491.0 629.3,501.4 629.5,488.1 629.8,491.0 630.0,486.8 630.2,485.4 630.4,497.6 630.6,503.4 630.9,485.4 631.1,494.1 631.3,492.5 631.5,477.4 631.8,488.1 632.0,513.1 632.2,483.0 632.4,479.5 632.7,489.5 632.9,495.8 633.1,492.5 633.3,480.6 633.5,465.2 633.8,455.6 634.0,440.6 634.2,424.2 634.4,414.7 634.7,401.1 634.9,386.5 635.1,384.9 635.3,381.3 635.5,379.3 635.8,384.7 636.0,387.5 636.2,400.7 636.4,416.1 636.7,426.1 636.9,442.9 637.1,462.4 637.3,476.4 637.5,479.5 637.8,497.6 638.0,505.6 638.2,491.0 638.4,503.4 638.7,489.5 638.9,486.8 639.1,488.1 639.3,499.4 639.6,497.6 639.8,494.1 640.0,477.4 640.2,497.6 640.4,483.0 640.7,489.5 640.9,508.0 641.1,483.0 641.3,519.2 641.6,516.0 641.8,491.0 642.0,492.5 642.2,501.4 642.4,510.5 642.7,501.4 642.9,494.1 643.1,497.6 643.3,499.4 643.6,503.4 643.8,501.4 644.0,499.4 644.2,513.1 644.4,503.4 644.7,499.4 644.9,510.5 645.1,501.4 645.3,513.1 645.6,489.5 645.8,516.0 646.0,494.1 646.2,497.6 646.5,519.2 646.7,510.5 646.9,508.0 647.1,526.4 647.3,508.0 647.6,505.6 647.8,508.0 648.0,495.8 648.2,519.2 648.5,503.4 648.7,510.5 648.9,508.0 649.1,516.0 649.3,519.2 649.6,495.8 649.8,510.5 650.0,505.6 650.2,510.5 650.5,508.0 650.7,510.5 650.9,513.1 651.1,513.1 651.3,530.7 651.6,519.2 651.8,526.4 652.0,510.5 652.2,522.6 652.5,510.5 652.7,519.2 652.9,526.4 653.1,503.4 653.4,519.2 653.6,547.6" stroke="#f00" stroke-width="1"/><path d="M75.3 566V336.7M653.6 547.6V566" stroke="#f44" stroke-width="0.9"/></g><path d="M46.5 315.5H683.5V565.5" stroke="#666" stroke-width="1" fill="none"/><path d="M46.8 315.5V565.5H683.5" stroke="#888" stroke-width="1" fill="none"/><path d="M53.0 565.5v3M164.3 565.5v3M275.6 565.5v3M386.9 565.5v3M498.2 565.5v3M609.5 565.5v3M46.5 555.7h-1.6M46.5 547.6h-1.6M46.5 541.0h-1.6M46.5 535.5h-1.6M46.5 530.7h-1.6M46.5 526.4h-1.6M46.5 522.6h-2.6M46.5 497.6h-1.6M46.5 483.0h-1.6M46.5 472.6h-1.6M46.5 464.5h-1.6M46.5 457.9h-1.6M46.5 452.4h-1.6M46.5 447.6h-1.6M46.5 443.3h-1.6M46.5 439.5h-2.6M46.5 414.5h-1.6M46.5 399.9h-1.6M46.5 389.5h-1.6M46.5 381.4h-1.6M46.5 374.8h-1.6M46.5 369.3h-1.6M46.5 364.5h-1.6M46.5 360.2h-1.6M46.5 356.4h-2.6M46.5 331.4h-1.6M46.5 316.8h-1.6" stroke="#555" stroke-width="0.8"/><text x="53.0" y="581.8" font-size="13.2" text-anchor="middle" textLength="20.5" lengthAdjust="spacingAndGlyphs" fill="#000">0.0</text><text x="164.3" y="581.8" font-size="13.2" text-anchor="middle" textLength="20.5" lengthAdjust="spacingAndGlyphs" fill="#000">0.5</text><text x="275.6" y="581.8" font-size="13.2" text-anchor="middle" textLength="20.5" lengthAdjust="spacingAndGlyphs" fill="#000">1.0</text><text x="386.9" y="581.8" font-size="13.2" text-anchor="middle" textLength="20.5" lengthAdjust="spacingAndGlyphs" fill="#000">1.5</text><text x="498.2" y="581.8" font-size="13.2" text-anchor="middle" textLength="20.5" lengthAdjust="spacingAndGlyphs" fill="#000">2.0</text><text x="609.5" y="581.8" font-size="13.2" text-anchor="middle" textLength="20.5" lengthAdjust="spacingAndGlyphs" fill="#000">2.5</text><text x="34.3" y="362.8" font-size="14.2" text-anchor="end" textLength="16.2" lengthAdjust="spacingAndGlyphs" fill="#000">10</text><text x="34.9" y="357.8" font-size="10.0" textLength="5.9" lengthAdjust="spacingAndGlyphs" fill="#000">3</text><text x="34.3" y="445.9" font-size="14.2" text-anchor="end" textLength="16.2" lengthAdjust="spacingAndGlyphs" fill="#000">10</text><text x="34.9" y="440.9" font-size="10.0" textLength="5.9" lengthAdjust="spacingAndGlyphs" fill="#000">2</text><text x="34.3" y="529.0" font-size="14.2" text-anchor="end" textLength="16.2" lengthAdjust="spacingAndGlyphs" fill="#000">10</text><text x="34.9" y="524.0" font-size="10.0" textLength="5.9" lengthAdjust="spacingAndGlyphs" fill="#000">1</text><text x="364.3" y="598.2" font-size="13.8" text-anchor="middle" textLength="89.5" lengthAdjust="spacingAndGlyphs" fill="#000">Energy(MeV)</text><text transform="translate(11.6 443.1) rotate(-90)" font-size="14.2" text-anchor="middle" textLength="78.5" lengthAdjust="spacingAndGlyphs" fill="#000">Counts/keV</text><text x="164.8" y="329.6" font-size="13" textLength="144.0" lengthAdjust="spacingAndGlyphs" fill="#000">5.31±0.12 keV@511 keV</text><text x="186" y="345.7" font-size="13" textLength="136.7" lengthAdjust="spacingAndGlyphs" fill="#000">4.6±0.12 keV@583 keV</text><text x="259.7" y="360.5" font-size="13" textLength="137.2" lengthAdjust="spacingAndGlyphs" fill="#000">5.34±0.1 keV@911 keV</text><text x="271" y="375.5" font-size="13" textLength="143.7" lengthAdjust="spacingAndGlyphs" fill="#000">6.95±0.15 keV@969 keV</text><text x="563" y="375.6" font-size="13" textLength="83.2" lengthAdjust="spacingAndGlyphs" fill="#000">7.55±0.26 keV</text><text x="563" y="391" font-size="13" textLength="64.3" lengthAdjust="spacingAndGlyphs" fill="#000">@2615keV</text><rect x="109" y="452.5" width="226" height="100.7" fill="#fff"/><path d="M119.3 553.2L119.3 550.3L122.7 550.3L122.7 548.0L126.1 548.0L126.1 550.3L129.6 550.3L129.6 549.1L133.0 549.1L133.0 548.4L136.4 548.4L136.4 549.3L139.8 549.3L139.8 549.3L143.2 549.3L143.2 549.6L146.7 549.6L146.7 548.5L150.1 548.5L150.1 549.6L153.5 549.6L153.5 548.0L156.9 548.0L156.9 549.3L160.3 549.3L160.3 549.6L163.8 549.6L163.8 550.2L167.2 550.2L167.2 549.8L170.6 549.8L170.6 548.7L174.0 548.7L174.0 548.4L177.4 548.4L177.4 548.9L180.9 548.9L180.9 549.6L184.3 549.6L184.3 548.4L187.7 548.4L187.7 548.5L191.1 548.5L191.1 549.6L194.5 549.6L194.5 548.9L198.0 548.9L198.0 548.4L201.4 548.4L201.4 549.1L204.8 549.1L204.8 548.2L208.2 548.2L208.2 548.2L211.6 548.2L211.6 543.4L215.1 543.4L215.1 536.4L218.5 536.4L218.5 528.3L221.9 528.3L221.9 516.3L225.3 516.3L225.3 509.9L228.7 509.9L228.7 492.7L232.2 492.7L232.2 475.9L235.6 475.9L235.6 468.5L239.0 468.5L239.0 461.7L242.4 461.7L242.4 471.6L245.8 471.6L245.8 478.6L249.3 478.6L249.3 494.8L252.7 494.8L252.7 511.1L256.1 511.1L256.1 523.1L259.5 523.1L259.5 533.0L262.9 533.0L262.9 539.1L266.4 539.1L266.4 542.5L269.8 542.5L269.8 544.1L273.2 544.1L273.2 547.7L276.6 547.7L276.6 548.0L280.0 548.0L280.0 546.8L283.5 546.8L283.5 549.1L286.9 549.1L286.9 549.1L290.3 549.1L290.3 549.3L293.7 549.3L293.7 549.4L297.1 549.4L297.1 548.9L300.6 548.9L300.6 550.0L304.0 550.0L304.0 550.5L307.4 550.5L307.4 550.5L310.8 550.5L310.8 550.0L314.2 550.0L314.2 550.3L317.7 550.3L317.7 549.8L321.1 549.8L321.1 551.2L324.5 551.2L324.5 553.2Z" fill="#808080"/><polyline points="119.3,548.9 120.2,548.9 121.0,548.9 121.9,548.9 122.7,548.9 123.6,548.9 124.5,548.9 125.3,549.0 126.2,549.0 127.0,549.0 127.9,549.0 128.7,549.0 129.6,549.0 130.5,549.0 131.3,549.0 132.2,549.0 133.0,549.0 133.9,549.0 134.8,549.0 135.6,549.0 136.5,549.0 137.3,549.0 138.2,549.1 139.0,549.1 139.9,549.1 140.8,549.1 141.6,549.1 142.5,549.1 143.3,549.1 144.2,549.1 145.1,549.1 145.9,549.1 146.8,549.1 147.6,549.1 148.5,549.1 149.4,549.1 150.2,549.1 151.1,549.2 151.9,549.2 152.8,549.2 153.6,549.2 154.5,549.2 155.4,549.2 156.2,549.2 157.1,549.2 157.9,549.2 158.8,549.2 159.7,549.2 160.5,549.2 161.4,549.2 162.2,549.2 163.1,549.2 163.9,549.3 164.8,549.3 165.7,549.3 166.5,549.3 167.4,549.3 168.2,549.3 169.1,549.3 170.0,549.3 170.8,549.3 171.7,549.3 172.5,549.3 173.4,549.3 174.2,549.3 175.1,549.3 176.0,549.3 176.8,549.4 177.7,549.4 178.5,549.4 179.4,549.4 180.3,549.4 181.1,549.4 182.0,549.4 182.8,549.4 183.7,549.4 184.6,549.4 185.4,549.4 186.3,549.4 187.1,549.4 188.0,549.4 188.8,549.4 189.7,549.5 190.6,549.5 191.4,549.5 192.3,549.5 193.1,549.5 194.0,549.5 194.9,549.5 195.7,549.5 196.6,549.5 197.4,549.5 198.3,549.4 199.1,549.4 200.0,549.4 200.9,549.3 201.7,549.3 202.6,549.2 203.4,549.1 204.3,549.0 205.2,548.9 206.0,548.7 206.9,548.5 207.7,548.2 208.6,547.8 209.5,547.4 210.3,546.9 211.2,546.3 212.0,545.6 212.9,544.8 213.7,543.8 214.6,542.7 215.5,541.4 216.3,539.9 217.2,538.3 218.0,536.4 218.9,534.3 219.8,531.9 220.6,529.4 221.5,526.6 222.3,523.5 223.2,520.3 224.0,516.8 224.9,513.1 225.8,509.3 226.6,505.3 227.5,501.3 228.3,497.1 229.2,493.0 230.1,488.9 230.9,484.9 231.8,481.0 232.6,477.3 233.5,473.9 234.3,470.8 235.2,468.1 236.1,465.8 236.9,463.9 237.8,462.5 238.6,461.6 239.5,461.2 240.4,461.4 241.2,462.1 242.1,463.2 242.9,464.9 243.8,467.1 244.7,469.6 245.5,472.5 246.4,475.8 247.2,479.3 248.1,483.1 248.9,487.0 249.8,491.0 250.7,495.0 251.5,499.1 252.4,503.0 253.2,506.9 254.1,510.6 255.0,514.1 255.8,517.5 256.7,520.6 257.5,523.4 258.4,526.1 259.2,528.5 260.1,530.7 261.0,532.6 261.8,534.4 262.7,536.0 263.5,537.4 264.4,538.7 265.3,539.8 266.1,540.7 267.0,541.5 267.8,542.2 268.7,543.0 269.6,543.7 270.4,544.4 271.3,545.0 272.1,545.5 273.0,545.9 273.8,546.3 274.7,546.6 275.6,546.9 276.4,547.2 277.3,547.4 278.1,547.6 279.0,547.8 279.9,548.0 280.7,548.1 281.6,548.2 282.4,548.4 283.3,548.5 284.1,548.6 285.0,548.7 285.9,548.8 286.7,548.9 287.6,549.0 288.4,549.0 289.3,549.1 290.2,549.2 291.0,549.2 291.9,549.3 292.7,549.4 293.6,549.4 294.4,549.5 295.3,549.5 296.2,549.6 297.0,549.6 297.9,549.7 298.7,549.7 299.6,549.7 300.5,549.8 301.3,549.8 302.2,549.9 303.0,549.9 303.9,549.9 304.8,549.9 305.6,550.0 306.5,550.0 307.3,550.0 308.2,550.1 309.0,550.1 309.9,550.1 310.8,550.1 311.6,550.1 312.5,550.2 313.3,550.2 314.2,550.2 315.1,550.2 315.9,550.2 316.8,550.3 317.6,550.3 318.5,550.3 319.3,550.3 320.2,550.3 321.1,550.3 321.9,550.4 322.8,550.4 323.6,550.4 324.5,550.4" fill="none" stroke="#f00" stroke-width="1.2" stroke-dasharray="2.6 1.4"/><path d="M121.0 549.6V551.1M119.4 549.6h3.2M119.4 551.1h3.2M124.4 547.0V549.0M122.8 547.0h3.2M122.8 549.0h3.2M127.8 549.6V551.1M126.2 549.6h3.2M126.2 551.1h3.2M131.3 548.2V549.9M129.7 548.2h3.2M129.7 549.9h3.2M134.7 547.4V549.3M133.1 547.4h3.2M133.1 549.3h3.2M138.1 548.4V550.1M136.5 548.4h3.2M136.5 550.1h3.2M141.5 548.4V550.1M139.9 548.4h3.2M139.9 550.1h3.2M144.9 548.8V550.4M143.3 548.8h3.2M143.3 550.4h3.2M148.4 547.6V549.5M146.8 547.6h3.2M146.8 549.5h3.2M151.8 548.8V550.4M150.2 548.8h3.2M150.2 550.4h3.2M155.2 547.0V549.0M153.6 547.0h3.2M153.6 549.0h3.2M158.6 548.4V550.1M157.0 548.4h3.2M157.0 550.1h3.2M162.0 548.8V550.4M160.4 548.8h3.2M160.4 550.4h3.2M165.5 549.4V550.9M163.9 549.4h3.2M163.9 550.9h3.2M168.9 549.0V550.6M167.3 549.0h3.2M167.3 550.6h3.2M172.3 547.8V549.6M170.7 547.8h3.2M170.7 549.6h3.2M175.7 547.4V549.3M174.1 547.4h3.2M174.1 549.3h3.2M179.1 548.0V549.8M177.5 548.0h3.2M177.5 549.8h3.2M182.6 548.8V550.4M181.0 548.8h3.2M181.0 550.4h3.2M186.0 547.4V549.3M184.4 547.4h3.2M184.4 549.3h3.2M189.4 547.6V549.5M187.8 547.6h3.2M187.8 549.5h3.2M192.8 548.8V550.4M191.2 548.8h3.2M191.2 550.4h3.2M196.2 548.0V549.8M194.6 548.0h3.2M194.6 549.8h3.2M199.7 547.4V549.3M198.1 547.4h3.2M198.1 549.3h3.2M203.1 548.2V549.9M201.5 548.2h3.2M201.5 549.9h3.2M206.5 547.2V549.1M204.9 547.2h3.2M204.9 549.1h3.2M209.9 547.2V549.1M208.3 547.2h3.2M208.3 549.1h3.2M213.3 542.0V544.7M211.7 542.0h3.2M211.7 544.7h3.2M216.8 534.6V538.1M215.2 534.6h3.2M215.2 538.1h3.2M220.2 526.2V530.4M218.6 526.2h3.2M218.6 530.4h3.2M223.6 513.8V518.9M222.0 513.8h3.2M222.0 518.9h3.2M227.0 507.1V512.7M225.4 507.1h3.2M225.4 512.7h3.2M230.4 489.4V496.0M228.8 489.4h3.2M228.8 496.0h3.2M233.9 472.2V479.6M232.3 472.2h3.2M232.3 479.6h3.2M237.3 464.6V472.4M235.7 464.6h3.2M235.7 472.4h3.2M240.7 457.7V465.8M239.1 457.7h3.2M239.1 465.8h3.2M244.1 467.8V475.4M242.5 467.8h3.2M242.5 475.4h3.2M247.5 474.9V482.2M245.9 474.9h3.2M245.9 482.2h3.2M251.0 491.6V498.1M249.4 491.6h3.2M249.4 498.1h3.2M254.4 508.4V513.9M252.8 508.4h3.2M252.8 513.9h3.2M257.8 520.8V525.4M256.2 520.8h3.2M256.2 525.4h3.2M261.2 531.1V534.9M259.6 531.1h3.2M259.6 534.9h3.2M264.6 537.5V540.6M263.0 537.5h3.2M263.0 540.6h3.2M268.1 541.1V543.8M266.5 541.1h3.2M266.5 543.8h3.2M271.5 542.8V545.3M269.9 542.8h3.2M269.9 545.3h3.2M274.9 546.7V548.6M273.3 546.7h3.2M273.3 548.6h3.2M278.3 547.0V549.0M276.7 547.0h3.2M276.7 549.0h3.2M281.7 545.7V547.8M280.1 545.7h3.2M280.1 547.8h3.2M285.2 548.2V549.9M283.6 548.2h3.2M283.6 549.9h3.2M288.6 548.2V549.9M287.0 548.2h3.2M287.0 549.9h3.2M292.0 548.4V550.1M290.4 548.4h3.2M290.4 550.1h3.2M295.4 548.6V550.3M293.8 548.6h3.2M293.8 550.3h3.2M298.8 548.0V549.8M297.2 548.0h3.2M297.2 549.8h3.2M302.3 549.2V550.7M300.7 549.2h3.2M300.7 550.7h3.2M305.7 549.8V551.2M304.1 549.8h3.2M304.1 551.2h3.2M309.1 549.8V551.2M307.5 549.8h3.2M307.5 551.2h3.2M312.5 549.2V550.7M310.9 549.2h3.2M310.9 550.7h3.2M315.9 549.6V551.1M314.3 549.6h3.2M314.3 551.1h3.2M319.4 549.0V550.6M317.8 549.0h3.2M317.8 550.6h3.2M322.8 550.6V551.8M321.2 550.6h3.2M321.2 551.8h3.2" stroke="#000" stroke-width="0.6" fill="none"/><path d="M121.0 550.3h0M124.4 548.0h0M127.8 550.3h0M131.3 549.1h0M134.7 548.4h0M138.1 549.3h0M141.5 549.3h0M144.9 549.6h0M148.4 548.5h0M151.8 549.6h0M155.2 548.0h0M158.6 549.3h0M162.0 549.6h0M165.5 550.2h0M168.9 549.8h0M172.3 548.7h0M175.7 548.4h0M179.1 548.9h0M182.6 549.6h0M186.0 548.4h0M189.4 548.5h0M192.8 549.6h0M196.2 548.9h0M199.7 548.4h0M203.1 549.1h0M206.5 548.2h0M209.9 548.2h0M213.3 543.4h0M216.8 536.4h0M220.2 528.3h0M223.6 516.3h0M227.0 509.9h0M230.4 492.7h0M233.9 475.9h0M237.3 468.5h0M240.7 461.7h0M244.1 471.6h0M247.5 478.6h0M251.0 494.8h0M254.4 511.1h0M257.8 523.1h0M261.2 533.0h0M264.6 539.1h0M268.1 542.5h0M271.5 544.1h0M274.9 547.7h0M278.3 548.0h0M281.7 546.8h0M285.2 549.1h0M288.6 549.1h0M292.0 549.3h0M295.4 549.4h0M298.8 548.9h0M302.3 550.0h0M305.7 550.5h0M309.1 550.5h0M312.5 550.0h0M315.9 550.3h0M319.4 549.8h0M322.8 551.2h0" stroke="#000" stroke-width="2" stroke-linecap="round" fill="none"/><path d="M109 452.6H334.6" stroke="#bbb" stroke-width="0.9"/><path d="M109.2 452.6V553.3M334.6 452.6V553.3" stroke="#e0e0e0" stroke-width="0.9"/><path d="M108.3 553.4H334.5" stroke="#555" stroke-width="1"/><path d="M119.3 553.4v1.8M153.5 553.4v1.8M187.7 553.4v1.8M221.9 553.4v1.8M256.1 553.4v1.8M290.3 553.4v1.8M324.5 553.4v1.8" stroke="#555" stroke-width="0.6"/><path d="M109 553.2h-1.8M109 517.4h-1.8M109 481.6h-1.8" stroke="#ccc" stroke-width="0.6"/><text x="119.3" y="561.8" font-size="8.6" text-anchor="middle" textLength="17.8" lengthAdjust="spacingAndGlyphs" fill="#000">2.58</text><text x="153.5" y="561.8" font-size="8.6" text-anchor="middle" textLength="17.8" lengthAdjust="spacingAndGlyphs" fill="#000">2.59</text><text x="187.7" y="561.8" font-size="8.6" text-anchor="middle" textLength="17.8" lengthAdjust="spacingAndGlyphs" fill="#000">2.60</text><text x="221.9" y="561.8" font-size="8.6" text-anchor="middle" textLength="17.8" lengthAdjust="spacingAndGlyphs" fill="#000">2.61</text><text x="256.1" y="561.8" font-size="8.6" text-anchor="middle" textLength="17.8" lengthAdjust="spacingAndGlyphs" fill="#000">2.62</text><text x="290.3" y="561.8" font-size="8.6" text-anchor="middle" textLength="17.8" lengthAdjust="spacingAndGlyphs" fill="#000">2.63</text><text x="324.5" y="561.8" font-size="8.6" text-anchor="middle" textLength="17.8" lengthAdjust="spacingAndGlyphs" fill="#000">2.64</text><text x="106.3" y="556.2" font-size="8.6" text-anchor="end" fill="#000">0</text><text x="106.3" y="520.4" font-size="8.6" text-anchor="end" textLength="15.6" lengthAdjust="spacingAndGlyphs" fill="#000">200</text><text x="106.3" y="484.6" font-size="8.6" text-anchor="end" textLength="15.6" lengthAdjust="spacingAndGlyphs" fill="#000">400</text><text transform="translate(87.0 502.7) rotate(-90)" font-size="8.3" text-anchor="middle" textLength="59.5" lengthAdjust="spacingAndGlyphs" fill="#000">Counts / 1keV</text><path d="M216.4 459.7V467.7" stroke="#eee" stroke-width="0.8"/><text x="122.3" y="471.4" font-size="12.7" fill="#000">FWHM =</text><text x="122.3" y="486.8" font-size="12.7" fill="#000">7.55±0.26 keV</text></svg></body></html>
